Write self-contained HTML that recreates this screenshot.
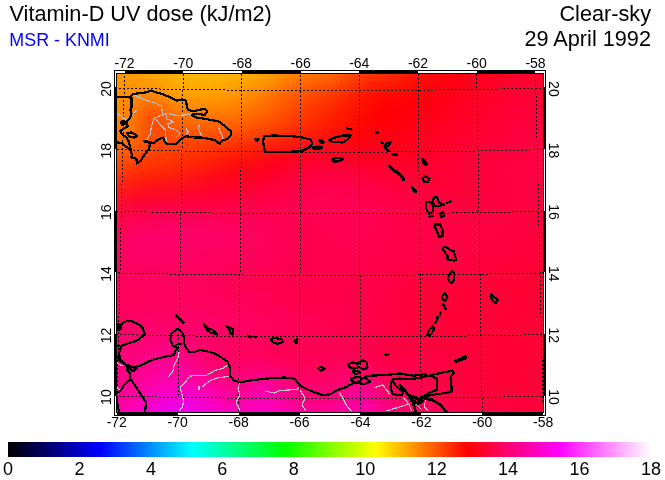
<!DOCTYPE html>
<html><head><meta charset="utf-8"><style>html,body{margin:0;padding:0;background:#fff;width:665px;height:480px;overflow:hidden;position:relative}</style></head>
<body>
<svg width="665" height="480" viewBox="0 0 665 480" style="position:absolute;left:0;top:0;will-change:transform;font-family:'Liberation Sans', sans-serif" shape-rendering="crispEdges">
<defs>
<clipPath id="mc"><rect x="117" y="74" width="426" height="338"/></clipPath>
<filter id="bl" x="-10%" y="-10%" width="120%" height="120%" color-interpolation-filters="sRGB"><feGaussianBlur stdDeviation="4"/></filter>
<linearGradient id="cb" x1="0" x2="1" y1="0" y2="0"><stop offset="0.0000" stop-color="#000000"/><stop offset="0.1429" stop-color="#0000ff"/><stop offset="0.2857" stop-color="#00ffff"/><stop offset="0.4286" stop-color="#00ff00"/><stop offset="0.5714" stop-color="#ffff00"/><stop offset="0.7143" stop-color="#ff0000"/><stop offset="0.8571" stop-color="#ff00ff"/><stop offset="1.0000" stop-color="#ffffff"/></linearGradient>
</defs>
<rect x="114" y="70" width="432" height="346" fill="#000"/>
<g clip-path="url(#mc)"><g filter="url(#bl)" shape-rendering="crispEdges"><path d="M99 56h6.5v6.5h-6.5z" fill="#ffa100"/><path d="M105 56h6.5v6.5h-6.5z" fill="#ffa100"/><path d="M111 56h6.5v6.5h-6.5z" fill="#ffa100"/><path d="M117 56h6.5v6.5h-6.5z" fill="#ffa200"/><path d="M123 56h6.5v6.5h-6.5z" fill="#ffa400"/><path d="M129 56h6.5v6.5h-6.5z" fill="#ffa700"/><path d="M135 56h6.5v6.5h-6.5z" fill="#ffa900"/><path d="M141 56h6.5v6.5h-6.5z" fill="#ffac00"/><path d="M147 56h6.5v6.5h-6.5z" fill="#ffaf00"/><path d="M153 56h6.5v6.5h-6.5z" fill="#ffb200"/><path d="M159 56h6.5v6.5h-6.5z" fill="#ffb500"/><path d="M165 56h6.5v6.5h-6.5z" fill="#ffb800"/><path d="M171 56h6.5v6.5h-6.5z" fill="#ffbc00"/><path d="M177 56h6.5v6.5h-6.5z" fill="#ffbf00"/><path d="M183 56h6.5v6.5h-6.5z" fill="#ffc100"/><path d="M189 56h6.5v6.5h-6.5z" fill="#ffc400"/><path d="M195 56h6.5v6.5h-6.5z" fill="#ffc500"/><path d="M201 56h6.5v6.5h-6.5z" fill="#ffc600"/><path d="M207 56h6.5v6.5h-6.5z" fill="#ffc700"/><path d="M213 56h6.5v6.5h-6.5z" fill="#ffc600"/><path d="M219 56h6.5v6.5h-6.5z" fill="#ffc600"/><path d="M225 56h6.5v6.5h-6.5z" fill="#ffc500"/><path d="M231 56h6.5v6.5h-6.5z" fill="#ffc400"/><path d="M237 56h6.5v6.5h-6.5z" fill="#ffc300"/><path d="M243 56h6.5v6.5h-6.5z" fill="#ffc100"/><path d="M249 56h6.5v6.5h-6.5z" fill="#ffbf00"/><path d="M255 56h6.5v6.5h-6.5z" fill="#ffbd00"/><path d="M261 56h6.5v6.5h-6.5z" fill="#ffb900"/><path d="M267 56h6.5v6.5h-6.5z" fill="#ffb500"/><path d="M273 56h6.5v6.5h-6.5z" fill="#ffb000"/><path d="M279 56h6.5v6.5h-6.5z" fill="#ffab00"/><path d="M285 56h6.5v6.5h-6.5z" fill="#ffa500"/><path d="M291 56h6.5v6.5h-6.5z" fill="#ff9f00"/><path d="M297 56h6.5v6.5h-6.5z" fill="#ff9a00"/><path d="M303 56h6.5v6.5h-6.5z" fill="#ff9500"/><path d="M309 56h6.5v6.5h-6.5z" fill="#ff9000"/><path d="M315 56h6.5v6.5h-6.5z" fill="#ff8b00"/><path d="M321 56h6.5v6.5h-6.5z" fill="#ff8600"/><path d="M327 56h6.5v6.5h-6.5z" fill="#ff8100"/><path d="M333 56h6.5v6.5h-6.5z" fill="#ff7a00"/><path d="M339 56h6.5v6.5h-6.5z" fill="#ff7300"/><path d="M345 56h6.5v6.5h-6.5z" fill="#ff6b00"/><path d="M351 56h6.5v6.5h-6.5z" fill="#ff6400"/><path d="M357 56h6.5v6.5h-6.5z" fill="#ff5d00"/><path d="M363 56h6.5v6.5h-6.5z" fill="#ff5600"/><path d="M369 56h6.5v6.5h-6.5z" fill="#ff5000"/><path d="M375 56h6.5v6.5h-6.5z" fill="#ff4b00"/><path d="M381 56h6.5v6.5h-6.5z" fill="#ff4600"/><path d="M387 56h6.5v6.5h-6.5z" fill="#ff4100"/><path d="M393 56h6.5v6.5h-6.5z" fill="#ff3b00"/><path d="M399 56h6.5v6.5h-6.5z" fill="#ff3500"/><path d="M405 56h6.5v6.5h-6.5z" fill="#ff2f01"/><path d="M411 56h6.5v6.5h-6.5z" fill="#ff2902"/><path d="M417 56h6.5v6.5h-6.5z" fill="#ff2303"/><path d="M423 56h6.5v6.5h-6.5z" fill="#ff1e05"/><path d="M429 56h6.5v6.5h-6.5z" fill="#ff1906"/><path d="M435 56h6.5v6.5h-6.5z" fill="#ff1508"/><path d="M441 56h6.5v6.5h-6.5z" fill="#ff1109"/><path d="M447 56h6.5v6.5h-6.5z" fill="#ff0e0b"/><path d="M453 56h6.5v6.5h-6.5z" fill="#ff0b0d"/><path d="M459 56h6.5v6.5h-6.5z" fill="#ff090f"/><path d="M465 56h6.5v6.5h-6.5z" fill="#ff0811"/><path d="M471 56h6.5v6.5h-6.5z" fill="#ff0714"/><path d="M477 56h6.5v6.5h-6.5z" fill="#ff0616"/><path d="M483 56h6.5v6.5h-6.5z" fill="#ff0619"/><path d="M489 56h6.5v6.5h-6.5z" fill="#ff061b"/><path d="M495 56h6.5v6.5h-6.5z" fill="#ff061d"/><path d="M501 56h6.5v6.5h-6.5z" fill="#ff051f"/><path d="M507 56h6.5v6.5h-6.5z" fill="#ff0521"/><path d="M513 56h6.5v6.5h-6.5z" fill="#ff0522"/><path d="M519 56h6.5v6.5h-6.5z" fill="#ff0523"/><path d="M525 56h6.5v6.5h-6.5z" fill="#ff0424"/><path d="M531 56h6.5v6.5h-6.5z" fill="#ff0425"/><path d="M537 56h6.5v6.5h-6.5z" fill="#ff0426"/><path d="M543 56h6.5v6.5h-6.5z" fill="#ff0327"/><path d="M549 56h6.5v6.5h-6.5z" fill="#ff0327"/><path d="M555 56h6.5v6.5h-6.5z" fill="#ff0328"/><path d="M99 62h6.5v6.5h-6.5z" fill="#ff9d00"/><path d="M105 62h6.5v6.5h-6.5z" fill="#ff9c00"/><path d="M111 62h6.5v6.5h-6.5z" fill="#ff9c00"/><path d="M117 62h6.5v6.5h-6.5z" fill="#ff9d00"/><path d="M123 62h6.5v6.5h-6.5z" fill="#ff9f00"/><path d="M129 62h6.5v6.5h-6.5z" fill="#ffa200"/><path d="M135 62h6.5v6.5h-6.5z" fill="#ffa500"/><path d="M141 62h6.5v6.5h-6.5z" fill="#ffa800"/><path d="M147 62h6.5v6.5h-6.5z" fill="#ffab00"/><path d="M153 62h6.5v6.5h-6.5z" fill="#ffae00"/><path d="M159 62h6.5v6.5h-6.5z" fill="#ffb000"/><path d="M165 62h6.5v6.5h-6.5z" fill="#ffb300"/><path d="M171 62h6.5v6.5h-6.5z" fill="#ffb700"/><path d="M177 62h6.5v6.5h-6.5z" fill="#ffba00"/><path d="M183 62h6.5v6.5h-6.5z" fill="#ffbd00"/><path d="M189 62h6.5v6.5h-6.5z" fill="#ffbf00"/><path d="M195 62h6.5v6.5h-6.5z" fill="#ffc000"/><path d="M201 62h6.5v6.5h-6.5z" fill="#ffc100"/><path d="M207 62h6.5v6.5h-6.5z" fill="#ffc100"/><path d="M213 62h6.5v6.5h-6.5z" fill="#ffc100"/><path d="M219 62h6.5v6.5h-6.5z" fill="#ffc000"/><path d="M225 62h6.5v6.5h-6.5z" fill="#ffbe00"/><path d="M231 62h6.5v6.5h-6.5z" fill="#ffbd00"/><path d="M237 62h6.5v6.5h-6.5z" fill="#ffbc00"/><path d="M243 62h6.5v6.5h-6.5z" fill="#ffba00"/><path d="M249 62h6.5v6.5h-6.5z" fill="#ffb800"/><path d="M255 62h6.5v6.5h-6.5z" fill="#ffb500"/><path d="M261 62h6.5v6.5h-6.5z" fill="#ffb100"/><path d="M267 62h6.5v6.5h-6.5z" fill="#ffad00"/><path d="M273 62h6.5v6.5h-6.5z" fill="#ffa700"/><path d="M279 62h6.5v6.5h-6.5z" fill="#ffa100"/><path d="M285 62h6.5v6.5h-6.5z" fill="#ff9b00"/><path d="M291 62h6.5v6.5h-6.5z" fill="#ff9500"/><path d="M297 62h6.5v6.5h-6.5z" fill="#ff8f00"/><path d="M303 62h6.5v6.5h-6.5z" fill="#ff8a00"/><path d="M309 62h6.5v6.5h-6.5z" fill="#ff8600"/><path d="M315 62h6.5v6.5h-6.5z" fill="#ff8100"/><path d="M321 62h6.5v6.5h-6.5z" fill="#ff7d00"/><path d="M327 62h6.5v6.5h-6.5z" fill="#ff7700"/><path d="M333 62h6.5v6.5h-6.5z" fill="#ff7000"/><path d="M339 62h6.5v6.5h-6.5z" fill="#ff6900"/><path d="M345 62h6.5v6.5h-6.5z" fill="#ff6100"/><path d="M351 62h6.5v6.5h-6.5z" fill="#ff5900"/><path d="M357 62h6.5v6.5h-6.5z" fill="#ff5200"/><path d="M363 62h6.5v6.5h-6.5z" fill="#ff4c00"/><path d="M369 62h6.5v6.5h-6.5z" fill="#ff4600"/><path d="M375 62h6.5v6.5h-6.5z" fill="#ff4200"/><path d="M381 62h6.5v6.5h-6.5z" fill="#ff3d00"/><path d="M387 62h6.5v6.5h-6.5z" fill="#ff3800"/><path d="M393 62h6.5v6.5h-6.5z" fill="#ff3300"/><path d="M399 62h6.5v6.5h-6.5z" fill="#ff2d01"/><path d="M405 62h6.5v6.5h-6.5z" fill="#ff2702"/><path d="M411 62h6.5v6.5h-6.5z" fill="#ff2203"/><path d="M417 62h6.5v6.5h-6.5z" fill="#ff1c05"/><path d="M423 62h6.5v6.5h-6.5z" fill="#ff1706"/><path d="M429 62h6.5v6.5h-6.5z" fill="#ff1308"/><path d="M435 62h6.5v6.5h-6.5z" fill="#ff0f09"/><path d="M441 62h6.5v6.5h-6.5z" fill="#ff0c0b"/><path d="M447 62h6.5v6.5h-6.5z" fill="#ff090d"/><path d="M453 62h6.5v6.5h-6.5z" fill="#ff070f"/><path d="M459 62h6.5v6.5h-6.5z" fill="#ff0511"/><path d="M465 62h6.5v6.5h-6.5z" fill="#ff0413"/><path d="M471 62h6.5v6.5h-6.5z" fill="#ff0416"/><path d="M477 62h6.5v6.5h-6.5z" fill="#ff0318"/><path d="M483 62h6.5v6.5h-6.5z" fill="#ff041b"/><path d="M489 62h6.5v6.5h-6.5z" fill="#ff041d"/><path d="M495 62h6.5v6.5h-6.5z" fill="#ff0420"/><path d="M501 62h6.5v6.5h-6.5z" fill="#ff0421"/><path d="M507 62h6.5v6.5h-6.5z" fill="#ff0323"/><path d="M513 62h6.5v6.5h-6.5z" fill="#ff0325"/><path d="M519 62h6.5v6.5h-6.5z" fill="#ff0326"/><path d="M525 62h6.5v6.5h-6.5z" fill="#ff0327"/><path d="M531 62h6.5v6.5h-6.5z" fill="#ff0228"/><path d="M537 62h6.5v6.5h-6.5z" fill="#ff0228"/><path d="M543 62h6.5v6.5h-6.5z" fill="#ff0229"/><path d="M549 62h6.5v6.5h-6.5z" fill="#ff022a"/><path d="M555 62h6.5v6.5h-6.5z" fill="#ff022a"/><path d="M99 68h6.5v6.5h-6.5z" fill="#ff9a00"/><path d="M105 68h6.5v6.5h-6.5z" fill="#ff9900"/><path d="M111 68h6.5v6.5h-6.5z" fill="#ff9800"/><path d="M117 68h6.5v6.5h-6.5z" fill="#ff9900"/><path d="M123 68h6.5v6.5h-6.5z" fill="#ff9b00"/><path d="M129 68h6.5v6.5h-6.5z" fill="#ff9e00"/><path d="M135 68h6.5v6.5h-6.5z" fill="#ffa100"/><path d="M141 68h6.5v6.5h-6.5z" fill="#ffa300"/><path d="M147 68h6.5v6.5h-6.5z" fill="#ffa600"/><path d="M153 68h6.5v6.5h-6.5z" fill="#ffa900"/><path d="M159 68h6.5v6.5h-6.5z" fill="#ffac00"/><path d="M165 68h6.5v6.5h-6.5z" fill="#ffaf00"/><path d="M171 68h6.5v6.5h-6.5z" fill="#ffb200"/><path d="M177 68h6.5v6.5h-6.5z" fill="#ffb600"/><path d="M183 68h6.5v6.5h-6.5z" fill="#ffb800"/><path d="M189 68h6.5v6.5h-6.5z" fill="#ffba00"/><path d="M195 68h6.5v6.5h-6.5z" fill="#ffbb00"/><path d="M201 68h6.5v6.5h-6.5z" fill="#ffbc00"/><path d="M207 68h6.5v6.5h-6.5z" fill="#ffbb00"/><path d="M213 68h6.5v6.5h-6.5z" fill="#ffba00"/><path d="M219 68h6.5v6.5h-6.5z" fill="#ffb900"/><path d="M225 68h6.5v6.5h-6.5z" fill="#ffb700"/><path d="M231 68h6.5v6.5h-6.5z" fill="#ffb600"/><path d="M237 68h6.5v6.5h-6.5z" fill="#ffb400"/><path d="M243 68h6.5v6.5h-6.5z" fill="#ffb200"/><path d="M249 68h6.5v6.5h-6.5z" fill="#ffaf00"/><path d="M255 68h6.5v6.5h-6.5z" fill="#ffac00"/><path d="M261 68h6.5v6.5h-6.5z" fill="#ffa900"/><path d="M267 68h6.5v6.5h-6.5z" fill="#ffa400"/><path d="M273 68h6.5v6.5h-6.5z" fill="#ff9d00"/><path d="M279 68h6.5v6.5h-6.5z" fill="#ff9600"/><path d="M285 68h6.5v6.5h-6.5z" fill="#ff8f00"/><path d="M291 68h6.5v6.5h-6.5z" fill="#ff8900"/><path d="M297 68h6.5v6.5h-6.5z" fill="#ff8400"/><path d="M303 68h6.5v6.5h-6.5z" fill="#ff7f00"/><path d="M309 68h6.5v6.5h-6.5z" fill="#ff7a00"/><path d="M315 68h6.5v6.5h-6.5z" fill="#ff7600"/><path d="M321 68h6.5v6.5h-6.5z" fill="#ff7200"/><path d="M327 68h6.5v6.5h-6.5z" fill="#ff6d00"/><path d="M333 68h6.5v6.5h-6.5z" fill="#ff6600"/><path d="M339 68h6.5v6.5h-6.5z" fill="#ff5e00"/><path d="M345 68h6.5v6.5h-6.5z" fill="#ff5500"/><path d="M351 68h6.5v6.5h-6.5z" fill="#ff4d00"/><path d="M357 68h6.5v6.5h-6.5z" fill="#ff4600"/><path d="M363 68h6.5v6.5h-6.5z" fill="#ff4000"/><path d="M369 68h6.5v6.5h-6.5z" fill="#ff3b00"/><path d="M375 68h6.5v6.5h-6.5z" fill="#ff3700"/><path d="M381 68h6.5v6.5h-6.5z" fill="#ff3400"/><path d="M387 68h6.5v6.5h-6.5z" fill="#ff3000"/><path d="M393 68h6.5v6.5h-6.5z" fill="#ff2b00"/><path d="M399 68h6.5v6.5h-6.5z" fill="#ff2502"/><path d="M405 68h6.5v6.5h-6.5z" fill="#ff2003"/><path d="M411 68h6.5v6.5h-6.5z" fill="#ff1a04"/><path d="M417 68h6.5v6.5h-6.5z" fill="#ff1606"/><path d="M423 68h6.5v6.5h-6.5z" fill="#ff1107"/><path d="M429 68h6.5v6.5h-6.5z" fill="#ff0e09"/><path d="M435 68h6.5v6.5h-6.5z" fill="#ff0b0b"/><path d="M441 68h6.5v6.5h-6.5z" fill="#ff080d"/><path d="M447 68h6.5v6.5h-6.5z" fill="#ff050f"/><path d="M453 68h6.5v6.5h-6.5z" fill="#ff0311"/><path d="M459 68h6.5v6.5h-6.5z" fill="#ff0213"/><path d="M465 68h6.5v6.5h-6.5z" fill="#ff0115"/><path d="M471 68h6.5v6.5h-6.5z" fill="#ff0118"/><path d="M477 68h6.5v6.5h-6.5z" fill="#ff011b"/><path d="M483 68h6.5v6.5h-6.5z" fill="#ff021e"/><path d="M489 68h6.5v6.5h-6.5z" fill="#ff0220"/><path d="M495 68h6.5v6.5h-6.5z" fill="#ff0222"/><path d="M501 68h6.5v6.5h-6.5z" fill="#ff0224"/><path d="M507 68h6.5v6.5h-6.5z" fill="#ff0226"/><path d="M513 68h6.5v6.5h-6.5z" fill="#ff0227"/><path d="M519 68h6.5v6.5h-6.5z" fill="#ff0229"/><path d="M525 68h6.5v6.5h-6.5z" fill="#ff012a"/><path d="M531 68h6.5v6.5h-6.5z" fill="#ff012a"/><path d="M537 68h6.5v6.5h-6.5z" fill="#ff012b"/><path d="M543 68h6.5v6.5h-6.5z" fill="#ff012b"/><path d="M549 68h6.5v6.5h-6.5z" fill="#ff002c"/><path d="M555 68h6.5v6.5h-6.5z" fill="#ff002c"/><path d="M99 74h6.5v6.5h-6.5z" fill="#ff9700"/><path d="M105 74h6.5v6.5h-6.5z" fill="#ff9600"/><path d="M111 74h6.5v6.5h-6.5z" fill="#ff9500"/><path d="M117 74h6.5v6.5h-6.5z" fill="#ff9600"/><path d="M123 74h6.5v6.5h-6.5z" fill="#ff9800"/><path d="M129 74h6.5v6.5h-6.5z" fill="#ff9a00"/><path d="M135 74h6.5v6.5h-6.5z" fill="#ff9d00"/><path d="M141 74h6.5v6.5h-6.5z" fill="#ff9f00"/><path d="M147 74h6.5v6.5h-6.5z" fill="#ffa100"/><path d="M153 74h6.5v6.5h-6.5z" fill="#ffa400"/><path d="M159 74h6.5v6.5h-6.5z" fill="#ffa700"/><path d="M165 74h6.5v6.5h-6.5z" fill="#ffaa00"/><path d="M171 74h6.5v6.5h-6.5z" fill="#ffae00"/><path d="M177 74h6.5v6.5h-6.5z" fill="#ffb100"/><path d="M183 74h6.5v6.5h-6.5z" fill="#ffb400"/><path d="M189 74h6.5v6.5h-6.5z" fill="#ffb500"/><path d="M195 74h6.5v6.5h-6.5z" fill="#ffb600"/><path d="M201 74h6.5v6.5h-6.5z" fill="#ffb600"/><path d="M207 74h6.5v6.5h-6.5z" fill="#ffb500"/><path d="M213 74h6.5v6.5h-6.5z" fill="#ffb400"/><path d="M219 74h6.5v6.5h-6.5z" fill="#ffb200"/><path d="M225 74h6.5v6.5h-6.5z" fill="#ffb000"/><path d="M231 74h6.5v6.5h-6.5z" fill="#ffae00"/><path d="M237 74h6.5v6.5h-6.5z" fill="#ffab00"/><path d="M243 74h6.5v6.5h-6.5z" fill="#ffa900"/><path d="M249 74h6.5v6.5h-6.5z" fill="#ffa600"/><path d="M255 74h6.5v6.5h-6.5z" fill="#ffa200"/><path d="M261 74h6.5v6.5h-6.5z" fill="#ff9e00"/><path d="M267 74h6.5v6.5h-6.5z" fill="#ff9900"/><path d="M273 74h6.5v6.5h-6.5z" fill="#ff9200"/><path d="M279 74h6.5v6.5h-6.5z" fill="#ff8a00"/><path d="M285 74h6.5v6.5h-6.5z" fill="#ff8300"/><path d="M291 74h6.5v6.5h-6.5z" fill="#ff7d00"/><path d="M297 74h6.5v6.5h-6.5z" fill="#ff7701"/><path d="M303 74h6.5v6.5h-6.5z" fill="#ff7201"/><path d="M309 74h6.5v6.5h-6.5z" fill="#ff6e01"/><path d="M315 74h6.5v6.5h-6.5z" fill="#ff6a00"/><path d="M321 74h6.5v6.5h-6.5z" fill="#ff6700"/><path d="M327 74h6.5v6.5h-6.5z" fill="#ff6200"/><path d="M333 74h6.5v6.5h-6.5z" fill="#ff5a00"/><path d="M339 74h6.5v6.5h-6.5z" fill="#ff5100"/><path d="M345 74h6.5v6.5h-6.5z" fill="#ff4900"/><path d="M351 74h6.5v6.5h-6.5z" fill="#ff4100"/><path d="M357 74h6.5v6.5h-6.5z" fill="#ff3a00"/><path d="M363 74h6.5v6.5h-6.5z" fill="#ff3500"/><path d="M369 74h6.5v6.5h-6.5z" fill="#ff3000"/><path d="M375 74h6.5v6.5h-6.5z" fill="#ff2c00"/><path d="M381 74h6.5v6.5h-6.5z" fill="#ff2900"/><path d="M387 74h6.5v6.5h-6.5z" fill="#ff2600"/><path d="M393 74h6.5v6.5h-6.5z" fill="#ff2201"/><path d="M399 74h6.5v6.5h-6.5z" fill="#ff1d02"/><path d="M405 74h6.5v6.5h-6.5z" fill="#ff1804"/><path d="M411 74h6.5v6.5h-6.5z" fill="#ff1305"/><path d="M417 74h6.5v6.5h-6.5z" fill="#ff0f07"/><path d="M423 74h6.5v6.5h-6.5z" fill="#ff0c09"/><path d="M429 74h6.5v6.5h-6.5z" fill="#ff090b"/><path d="M435 74h6.5v6.5h-6.5z" fill="#ff070d"/><path d="M441 74h6.5v6.5h-6.5z" fill="#ff050f"/><path d="M447 74h6.5v6.5h-6.5z" fill="#ff0311"/><path d="M453 74h6.5v6.5h-6.5z" fill="#ff0113"/><path d="M459 74h6.5v6.5h-6.5z" fill="#ff0015"/><path d="M465 74h6.5v6.5h-6.5z" fill="#ff0018"/><path d="M471 74h6.5v6.5h-6.5z" fill="#ff001b"/><path d="M477 74h6.5v6.5h-6.5z" fill="#ff001e"/><path d="M483 74h6.5v6.5h-6.5z" fill="#ff0120"/><path d="M489 74h6.5v6.5h-6.5z" fill="#ff0123"/><path d="M495 74h6.5v6.5h-6.5z" fill="#ff0125"/><path d="M501 74h6.5v6.5h-6.5z" fill="#ff0127"/><path d="M507 74h6.5v6.5h-6.5z" fill="#ff0129"/><path d="M513 74h6.5v6.5h-6.5z" fill="#ff012a"/><path d="M519 74h6.5v6.5h-6.5z" fill="#ff012b"/><path d="M525 74h6.5v6.5h-6.5z" fill="#ff012c"/><path d="M531 74h6.5v6.5h-6.5z" fill="#ff002d"/><path d="M537 74h6.5v6.5h-6.5z" fill="#ff002d"/><path d="M543 74h6.5v6.5h-6.5z" fill="#ff002e"/><path d="M549 74h6.5v6.5h-6.5z" fill="#ff002e"/><path d="M555 74h6.5v6.5h-6.5z" fill="#ff002f"/><path d="M99 80h6.5v6.5h-6.5z" fill="#ff9600"/><path d="M105 80h6.5v6.5h-6.5z" fill="#ff9500"/><path d="M111 80h6.5v6.5h-6.5z" fill="#ff9400"/><path d="M117 80h6.5v6.5h-6.5z" fill="#ff9400"/><path d="M123 80h6.5v6.5h-6.5z" fill="#ff9600"/><path d="M129 80h6.5v6.5h-6.5z" fill="#ff9700"/><path d="M135 80h6.5v6.5h-6.5z" fill="#ff9800"/><path d="M141 80h6.5v6.5h-6.5z" fill="#ff9900"/><path d="M147 80h6.5v6.5h-6.5z" fill="#ff9a00"/><path d="M153 80h6.5v6.5h-6.5z" fill="#ff9d00"/><path d="M159 80h6.5v6.5h-6.5z" fill="#ffa200"/><path d="M165 80h6.5v6.5h-6.5z" fill="#ffa600"/><path d="M171 80h6.5v6.5h-6.5z" fill="#ffaa00"/><path d="M177 80h6.5v6.5h-6.5z" fill="#ffad00"/><path d="M183 80h6.5v6.5h-6.5z" fill="#ffaf00"/><path d="M189 80h6.5v6.5h-6.5z" fill="#ffaf00"/><path d="M195 80h6.5v6.5h-6.5z" fill="#ffb000"/><path d="M201 80h6.5v6.5h-6.5z" fill="#ffb000"/><path d="M207 80h6.5v6.5h-6.5z" fill="#ffae00"/><path d="M213 80h6.5v6.5h-6.5z" fill="#ffad00"/><path d="M219 80h6.5v6.5h-6.5z" fill="#ffaa00"/><path d="M225 80h6.5v6.5h-6.5z" fill="#ffa800"/><path d="M231 80h6.5v6.5h-6.5z" fill="#ffa500"/><path d="M237 80h6.5v6.5h-6.5z" fill="#ffa300"/><path d="M243 80h6.5v6.5h-6.5z" fill="#ffa000"/><path d="M249 80h6.5v6.5h-6.5z" fill="#ff9c00"/><path d="M255 80h6.5v6.5h-6.5z" fill="#ff9800"/><path d="M261 80h6.5v6.5h-6.5z" fill="#ff9300"/><path d="M267 80h6.5v6.5h-6.5z" fill="#ff8c00"/><path d="M273 80h6.5v6.5h-6.5z" fill="#ff8500"/><path d="M279 80h6.5v6.5h-6.5z" fill="#ff7d00"/><path d="M285 80h6.5v6.5h-6.5z" fill="#ff7700"/><path d="M291 80h6.5v6.5h-6.5z" fill="#ff7100"/><path d="M297 80h6.5v6.5h-6.5z" fill="#ff6b00"/><path d="M303 80h6.5v6.5h-6.5z" fill="#ff6501"/><path d="M309 80h6.5v6.5h-6.5z" fill="#ff6101"/><path d="M315 80h6.5v6.5h-6.5z" fill="#ff5d00"/><path d="M321 80h6.5v6.5h-6.5z" fill="#ff5900"/><path d="M327 80h6.5v6.5h-6.5z" fill="#ff5400"/><path d="M333 80h6.5v6.5h-6.5z" fill="#ff4d00"/><path d="M339 80h6.5v6.5h-6.5z" fill="#ff4500"/><path d="M345 80h6.5v6.5h-6.5z" fill="#ff3c00"/><path d="M351 80h6.5v6.5h-6.5z" fill="#ff3500"/><path d="M357 80h6.5v6.5h-6.5z" fill="#ff2f00"/><path d="M363 80h6.5v6.5h-6.5z" fill="#ff2900"/><path d="M369 80h6.5v6.5h-6.5z" fill="#ff2400"/><path d="M375 80h6.5v6.5h-6.5z" fill="#ff2000"/><path d="M381 80h6.5v6.5h-6.5z" fill="#ff1d00"/><path d="M387 80h6.5v6.5h-6.5z" fill="#ff1b00"/><path d="M393 80h6.5v6.5h-6.5z" fill="#ff1802"/><path d="M399 80h6.5v6.5h-6.5z" fill="#ff1403"/><path d="M405 80h6.5v6.5h-6.5z" fill="#ff1005"/><path d="M411 80h6.5v6.5h-6.5z" fill="#ff0c07"/><path d="M417 80h6.5v6.5h-6.5z" fill="#ff0909"/><path d="M423 80h6.5v6.5h-6.5z" fill="#ff070b"/><path d="M429 80h6.5v6.5h-6.5z" fill="#ff050d"/><path d="M435 80h6.5v6.5h-6.5z" fill="#ff030f"/><path d="M441 80h6.5v6.5h-6.5z" fill="#ff0211"/><path d="M447 80h6.5v6.5h-6.5z" fill="#ff0114"/><path d="M453 80h6.5v6.5h-6.5z" fill="#ff0016"/><path d="M459 80h6.5v6.5h-6.5z" fill="#ff0018"/><path d="M465 80h6.5v6.5h-6.5z" fill="#ff001b"/><path d="M471 80h6.5v6.5h-6.5z" fill="#ff001e"/><path d="M477 80h6.5v6.5h-6.5z" fill="#ff0020"/><path d="M483 80h6.5v6.5h-6.5z" fill="#ff0023"/><path d="M489 80h6.5v6.5h-6.5z" fill="#ff0025"/><path d="M495 80h6.5v6.5h-6.5z" fill="#ff0128"/><path d="M501 80h6.5v6.5h-6.5z" fill="#ff012a"/><path d="M507 80h6.5v6.5h-6.5z" fill="#ff012b"/><path d="M513 80h6.5v6.5h-6.5z" fill="#ff012d"/><path d="M519 80h6.5v6.5h-6.5z" fill="#ff002e"/><path d="M525 80h6.5v6.5h-6.5z" fill="#ff002f"/><path d="M531 80h6.5v6.5h-6.5z" fill="#ff0030"/><path d="M537 80h6.5v6.5h-6.5z" fill="#ff0030"/><path d="M543 80h6.5v6.5h-6.5z" fill="#ff0030"/><path d="M549 80h6.5v6.5h-6.5z" fill="#ff0031"/><path d="M555 80h6.5v6.5h-6.5z" fill="#ff0031"/><path d="M99 86h6.5v6.5h-6.5z" fill="#ff9400"/><path d="M105 86h6.5v6.5h-6.5z" fill="#ff9400"/><path d="M111 86h6.5v6.5h-6.5z" fill="#ff9300"/><path d="M117 86h6.5v6.5h-6.5z" fill="#ff9300"/><path d="M123 86h6.5v6.5h-6.5z" fill="#ff9300"/><path d="M129 86h6.5v6.5h-6.5z" fill="#ff9300"/><path d="M135 86h6.5v6.5h-6.5z" fill="#ff9200"/><path d="M141 86h6.5v6.5h-6.5z" fill="#ff9100"/><path d="M147 86h6.5v6.5h-6.5z" fill="#ff9100"/><path d="M153 86h6.5v6.5h-6.5z" fill="#ff9500"/><path d="M159 86h6.5v6.5h-6.5z" fill="#ff9a00"/><path d="M165 86h6.5v6.5h-6.5z" fill="#ffa100"/><path d="M171 86h6.5v6.5h-6.5z" fill="#ffa500"/><path d="M177 86h6.5v6.5h-6.5z" fill="#ffa700"/><path d="M183 86h6.5v6.5h-6.5z" fill="#ffa800"/><path d="M189 86h6.5v6.5h-6.5z" fill="#ffa800"/><path d="M195 86h6.5v6.5h-6.5z" fill="#ffa800"/><path d="M201 86h6.5v6.5h-6.5z" fill="#ffa800"/><path d="M207 86h6.5v6.5h-6.5z" fill="#ffa700"/><path d="M213 86h6.5v6.5h-6.5z" fill="#ffa500"/><path d="M219 86h6.5v6.5h-6.5z" fill="#ffa200"/><path d="M225 86h6.5v6.5h-6.5z" fill="#ffa000"/><path d="M231 86h6.5v6.5h-6.5z" fill="#ff9d00"/><path d="M237 86h6.5v6.5h-6.5z" fill="#ff9a00"/><path d="M243 86h6.5v6.5h-6.5z" fill="#ff9600"/><path d="M249 86h6.5v6.5h-6.5z" fill="#ff9200"/><path d="M255 86h6.5v6.5h-6.5z" fill="#ff8d00"/><path d="M261 86h6.5v6.5h-6.5z" fill="#ff8700"/><path d="M267 86h6.5v6.5h-6.5z" fill="#ff8000"/><path d="M273 86h6.5v6.5h-6.5z" fill="#ff7800"/><path d="M279 86h6.5v6.5h-6.5z" fill="#ff7100"/><path d="M285 86h6.5v6.5h-6.5z" fill="#ff6b00"/><path d="M291 86h6.5v6.5h-6.5z" fill="#ff6500"/><path d="M297 86h6.5v6.5h-6.5z" fill="#ff5f00"/><path d="M303 86h6.5v6.5h-6.5z" fill="#ff5900"/><path d="M309 86h6.5v6.5h-6.5z" fill="#ff5400"/><path d="M315 86h6.5v6.5h-6.5z" fill="#ff5000"/><path d="M321 86h6.5v6.5h-6.5z" fill="#ff4c00"/><path d="M327 86h6.5v6.5h-6.5z" fill="#ff4700"/><path d="M333 86h6.5v6.5h-6.5z" fill="#ff4000"/><path d="M339 86h6.5v6.5h-6.5z" fill="#ff3800"/><path d="M345 86h6.5v6.5h-6.5z" fill="#ff3000"/><path d="M351 86h6.5v6.5h-6.5z" fill="#ff2a00"/><path d="M357 86h6.5v6.5h-6.5z" fill="#ff2400"/><path d="M363 86h6.5v6.5h-6.5z" fill="#ff1f00"/><path d="M369 86h6.5v6.5h-6.5z" fill="#ff1a00"/><path d="M375 86h6.5v6.5h-6.5z" fill="#ff1500"/><path d="M381 86h6.5v6.5h-6.5z" fill="#ff1200"/><path d="M387 86h6.5v6.5h-6.5z" fill="#ff1001"/><path d="M393 86h6.5v6.5h-6.5z" fill="#ff0e02"/><path d="M399 86h6.5v6.5h-6.5z" fill="#ff0c04"/><path d="M405 86h6.5v6.5h-6.5z" fill="#ff0906"/><path d="M411 86h6.5v6.5h-6.5z" fill="#ff0608"/><path d="M417 86h6.5v6.5h-6.5z" fill="#ff040a"/><path d="M423 86h6.5v6.5h-6.5z" fill="#ff030c"/><path d="M429 86h6.5v6.5h-6.5z" fill="#ff020f"/><path d="M435 86h6.5v6.5h-6.5z" fill="#ff0111"/><path d="M441 86h6.5v6.5h-6.5z" fill="#ff0114"/><path d="M447 86h6.5v6.5h-6.5z" fill="#ff0016"/><path d="M453 86h6.5v6.5h-6.5z" fill="#ff0019"/><path d="M459 86h6.5v6.5h-6.5z" fill="#ff001b"/><path d="M465 86h6.5v6.5h-6.5z" fill="#ff001e"/><path d="M471 86h6.5v6.5h-6.5z" fill="#ff0020"/><path d="M477 86h6.5v6.5h-6.5z" fill="#ff0023"/><path d="M483 86h6.5v6.5h-6.5z" fill="#ff0026"/><path d="M489 86h6.5v6.5h-6.5z" fill="#ff0028"/><path d="M495 86h6.5v6.5h-6.5z" fill="#ff002a"/><path d="M501 86h6.5v6.5h-6.5z" fill="#ff002c"/><path d="M507 86h6.5v6.5h-6.5z" fill="#ff002e"/><path d="M513 86h6.5v6.5h-6.5z" fill="#ff002f"/><path d="M519 86h6.5v6.5h-6.5z" fill="#ff0031"/><path d="M525 86h6.5v6.5h-6.5z" fill="#ff0032"/><path d="M531 86h6.5v6.5h-6.5z" fill="#ff0032"/><path d="M537 86h6.5v6.5h-6.5z" fill="#ff0033"/><path d="M543 86h6.5v6.5h-6.5z" fill="#ff0033"/><path d="M549 86h6.5v6.5h-6.5z" fill="#ff0033"/><path d="M555 86h6.5v6.5h-6.5z" fill="#ff0033"/><path d="M99 92h6.5v6.5h-6.5z" fill="#ff9300"/><path d="M105 92h6.5v6.5h-6.5z" fill="#ff9200"/><path d="M111 92h6.5v6.5h-6.5z" fill="#ff9200"/><path d="M117 92h6.5v6.5h-6.5z" fill="#ff9100"/><path d="M123 92h6.5v6.5h-6.5z" fill="#ff8f00"/><path d="M129 92h6.5v6.5h-6.5z" fill="#ff8d00"/><path d="M135 92h6.5v6.5h-6.5z" fill="#ff8a00"/><path d="M141 92h6.5v6.5h-6.5z" fill="#ff8600"/><path d="M147 92h6.5v6.5h-6.5z" fill="#ff8500"/><path d="M153 92h6.5v6.5h-6.5z" fill="#ff8800"/><path d="M159 92h6.5v6.5h-6.5z" fill="#ff8e00"/><path d="M165 92h6.5v6.5h-6.5z" fill="#ff9500"/><path d="M171 92h6.5v6.5h-6.5z" fill="#ff9a01"/><path d="M177 92h6.5v6.5h-6.5z" fill="#ff9d01"/><path d="M183 92h6.5v6.5h-6.5z" fill="#ff9e01"/><path d="M189 92h6.5v6.5h-6.5z" fill="#ff9f01"/><path d="M195 92h6.5v6.5h-6.5z" fill="#ff9f00"/><path d="M201 92h6.5v6.5h-6.5z" fill="#ff9f00"/><path d="M207 92h6.5v6.5h-6.5z" fill="#ff9e00"/><path d="M213 92h6.5v6.5h-6.5z" fill="#ff9c00"/><path d="M219 92h6.5v6.5h-6.5z" fill="#ff9a00"/><path d="M225 92h6.5v6.5h-6.5z" fill="#ff9700"/><path d="M231 92h6.5v6.5h-6.5z" fill="#ff9400"/><path d="M237 92h6.5v6.5h-6.5z" fill="#ff9100"/><path d="M243 92h6.5v6.5h-6.5z" fill="#ff8d00"/><path d="M249 92h6.5v6.5h-6.5z" fill="#ff8800"/><path d="M255 92h6.5v6.5h-6.5z" fill="#ff8300"/><path d="M261 92h6.5v6.5h-6.5z" fill="#ff7c00"/><path d="M267 92h6.5v6.5h-6.5z" fill="#ff7500"/><path d="M273 92h6.5v6.5h-6.5z" fill="#ff6d00"/><path d="M279 92h6.5v6.5h-6.5z" fill="#ff6700"/><path d="M285 92h6.5v6.5h-6.5z" fill="#ff6100"/><path d="M291 92h6.5v6.5h-6.5z" fill="#ff5b00"/><path d="M297 92h6.5v6.5h-6.5z" fill="#ff5500"/><path d="M303 92h6.5v6.5h-6.5z" fill="#ff4f00"/><path d="M309 92h6.5v6.5h-6.5z" fill="#ff4900"/><path d="M315 92h6.5v6.5h-6.5z" fill="#ff4500"/><path d="M321 92h6.5v6.5h-6.5z" fill="#ff4100"/><path d="M327 92h6.5v6.5h-6.5z" fill="#ff3c00"/><path d="M333 92h6.5v6.5h-6.5z" fill="#ff3500"/><path d="M339 92h6.5v6.5h-6.5z" fill="#ff2e00"/><path d="M345 92h6.5v6.5h-6.5z" fill="#ff2700"/><path d="M351 92h6.5v6.5h-6.5z" fill="#ff2000"/><path d="M357 92h6.5v6.5h-6.5z" fill="#ff1b00"/><path d="M363 92h6.5v6.5h-6.5z" fill="#ff1600"/><path d="M369 92h6.5v6.5h-6.5z" fill="#ff1100"/><path d="M375 92h6.5v6.5h-6.5z" fill="#ff0d00"/><path d="M381 92h6.5v6.5h-6.5z" fill="#ff0a01"/><path d="M387 92h6.5v6.5h-6.5z" fill="#ff0802"/><path d="M393 92h6.5v6.5h-6.5z" fill="#ff0703"/><path d="M399 92h6.5v6.5h-6.5z" fill="#ff0605"/><path d="M405 92h6.5v6.5h-6.5z" fill="#ff0407"/><path d="M411 92h6.5v6.5h-6.5z" fill="#ff0209"/><path d="M417 92h6.5v6.5h-6.5z" fill="#ff010b"/><path d="M423 92h6.5v6.5h-6.5z" fill="#ff000e"/><path d="M429 92h6.5v6.5h-6.5z" fill="#ff0010"/><path d="M435 92h6.5v6.5h-6.5z" fill="#ff0013"/><path d="M441 92h6.5v6.5h-6.5z" fill="#ff0016"/><path d="M447 92h6.5v6.5h-6.5z" fill="#ff0019"/><path d="M453 92h6.5v6.5h-6.5z" fill="#ff001b"/><path d="M459 92h6.5v6.5h-6.5z" fill="#ff001e"/><path d="M465 92h6.5v6.5h-6.5z" fill="#ff0020"/><path d="M471 92h6.5v6.5h-6.5z" fill="#ff0023"/><path d="M477 92h6.5v6.5h-6.5z" fill="#ff0025"/><path d="M483 92h6.5v6.5h-6.5z" fill="#ff0028"/><path d="M489 92h6.5v6.5h-6.5z" fill="#ff002a"/><path d="M495 92h6.5v6.5h-6.5z" fill="#ff002c"/><path d="M501 92h6.5v6.5h-6.5z" fill="#ff002e"/><path d="M507 92h6.5v6.5h-6.5z" fill="#ff0030"/><path d="M513 92h6.5v6.5h-6.5z" fill="#ff0032"/><path d="M519 92h6.5v6.5h-6.5z" fill="#ff0033"/><path d="M525 92h6.5v6.5h-6.5z" fill="#ff0034"/><path d="M531 92h6.5v6.5h-6.5z" fill="#ff0034"/><path d="M537 92h6.5v6.5h-6.5z" fill="#ff0035"/><path d="M543 92h6.5v6.5h-6.5z" fill="#ff0035"/><path d="M549 92h6.5v6.5h-6.5z" fill="#ff0035"/><path d="M555 92h6.5v6.5h-6.5z" fill="#ff0035"/><path d="M99 98h6.5v6.5h-6.5z" fill="#ff9200"/><path d="M105 98h6.5v6.5h-6.5z" fill="#ff9100"/><path d="M111 98h6.5v6.5h-6.5z" fill="#ff9000"/><path d="M117 98h6.5v6.5h-6.5z" fill="#ff8e00"/><path d="M123 98h6.5v6.5h-6.5z" fill="#ff8b00"/><path d="M129 98h6.5v6.5h-6.5z" fill="#ff8600"/><path d="M135 98h6.5v6.5h-6.5z" fill="#ff7f00"/><path d="M141 98h6.5v6.5h-6.5z" fill="#ff7900"/><path d="M147 98h6.5v6.5h-6.5z" fill="#ff7600"/><path d="M153 98h6.5v6.5h-6.5z" fill="#ff7800"/><path d="M159 98h6.5v6.5h-6.5z" fill="#ff7e00"/><path d="M165 98h6.5v6.5h-6.5z" fill="#ff8601"/><path d="M171 98h6.5v6.5h-6.5z" fill="#ff8c01"/><path d="M177 98h6.5v6.5h-6.5z" fill="#ff9101"/><path d="M183 98h6.5v6.5h-6.5z" fill="#ff9301"/><path d="M189 98h6.5v6.5h-6.5z" fill="#ff9401"/><path d="M195 98h6.5v6.5h-6.5z" fill="#ff9501"/><path d="M201 98h6.5v6.5h-6.5z" fill="#ff9400"/><path d="M207 98h6.5v6.5h-6.5z" fill="#ff9300"/><path d="M213 98h6.5v6.5h-6.5z" fill="#ff9200"/><path d="M219 98h6.5v6.5h-6.5z" fill="#ff9000"/><path d="M225 98h6.5v6.5h-6.5z" fill="#ff8e00"/><path d="M231 98h6.5v6.5h-6.5z" fill="#ff8b00"/><path d="M237 98h6.5v6.5h-6.5z" fill="#ff8800"/><path d="M243 98h6.5v6.5h-6.5z" fill="#ff8400"/><path d="M249 98h6.5v6.5h-6.5z" fill="#ff7f00"/><path d="M255 98h6.5v6.5h-6.5z" fill="#ff7a00"/><path d="M261 98h6.5v6.5h-6.5z" fill="#ff7300"/><path d="M267 98h6.5v6.5h-6.5z" fill="#ff6c00"/><path d="M273 98h6.5v6.5h-6.5z" fill="#ff6500"/><path d="M279 98h6.5v6.5h-6.5z" fill="#ff5f00"/><path d="M285 98h6.5v6.5h-6.5z" fill="#ff5800"/><path d="M291 98h6.5v6.5h-6.5z" fill="#ff5200"/><path d="M297 98h6.5v6.5h-6.5z" fill="#ff4d00"/><path d="M303 98h6.5v6.5h-6.5z" fill="#ff4700"/><path d="M309 98h6.5v6.5h-6.5z" fill="#ff4100"/><path d="M315 98h6.5v6.5h-6.5z" fill="#ff3c00"/><path d="M321 98h6.5v6.5h-6.5z" fill="#ff3800"/><path d="M327 98h6.5v6.5h-6.5z" fill="#ff3200"/><path d="M333 98h6.5v6.5h-6.5z" fill="#ff2c00"/><path d="M339 98h6.5v6.5h-6.5z" fill="#ff2600"/><path d="M345 98h6.5v6.5h-6.5z" fill="#ff1f00"/><path d="M351 98h6.5v6.5h-6.5z" fill="#ff1a00"/><path d="M357 98h6.5v6.5h-6.5z" fill="#ff1400"/><path d="M363 98h6.5v6.5h-6.5z" fill="#ff1000"/><path d="M369 98h6.5v6.5h-6.5z" fill="#ff0b00"/><path d="M375 98h6.5v6.5h-6.5z" fill="#ff0801"/><path d="M381 98h6.5v6.5h-6.5z" fill="#ff0502"/><path d="M387 98h6.5v6.5h-6.5z" fill="#ff0403"/><path d="M393 98h6.5v6.5h-6.5z" fill="#ff0305"/><path d="M399 98h6.5v6.5h-6.5z" fill="#ff0206"/><path d="M405 98h6.5v6.5h-6.5z" fill="#ff0108"/><path d="M411 98h6.5v6.5h-6.5z" fill="#ff000b"/><path d="M417 98h6.5v6.5h-6.5z" fill="#ff000d"/><path d="M423 98h6.5v6.5h-6.5z" fill="#ff0010"/><path d="M429 98h6.5v6.5h-6.5z" fill="#ff0012"/><path d="M435 98h6.5v6.5h-6.5z" fill="#ff0015"/><path d="M441 98h6.5v6.5h-6.5z" fill="#ff0018"/><path d="M447 98h6.5v6.5h-6.5z" fill="#ff001b"/><path d="M453 98h6.5v6.5h-6.5z" fill="#ff001e"/><path d="M459 98h6.5v6.5h-6.5z" fill="#ff0020"/><path d="M465 98h6.5v6.5h-6.5z" fill="#ff0023"/><path d="M471 98h6.5v6.5h-6.5z" fill="#ff0025"/><path d="M477 98h6.5v6.5h-6.5z" fill="#ff0028"/><path d="M483 98h6.5v6.5h-6.5z" fill="#ff002a"/><path d="M489 98h6.5v6.5h-6.5z" fill="#ff002c"/><path d="M495 98h6.5v6.5h-6.5z" fill="#ff002e"/><path d="M501 98h6.5v6.5h-6.5z" fill="#ff0030"/><path d="M507 98h6.5v6.5h-6.5z" fill="#ff0032"/><path d="M513 98h6.5v6.5h-6.5z" fill="#ff0034"/><path d="M519 98h6.5v6.5h-6.5z" fill="#ff0035"/><path d="M525 98h6.5v6.5h-6.5z" fill="#ff0036"/><path d="M531 98h6.5v6.5h-6.5z" fill="#ff0037"/><path d="M537 98h6.5v6.5h-6.5z" fill="#ff0037"/><path d="M543 98h6.5v6.5h-6.5z" fill="#ff0037"/><path d="M549 98h6.5v6.5h-6.5z" fill="#ff0037"/><path d="M555 98h6.5v6.5h-6.5z" fill="#ff0037"/><path d="M99 104h6.5v6.5h-6.5z" fill="#ff9000"/><path d="M105 104h6.5v6.5h-6.5z" fill="#ff9000"/><path d="M111 104h6.5v6.5h-6.5z" fill="#ff8e00"/><path d="M117 104h6.5v6.5h-6.5z" fill="#ff8b00"/><path d="M123 104h6.5v6.5h-6.5z" fill="#ff8701"/><path d="M129 104h6.5v6.5h-6.5z" fill="#ff7f01"/><path d="M135 104h6.5v6.5h-6.5z" fill="#ff7501"/><path d="M141 104h6.5v6.5h-6.5z" fill="#ff6b00"/><path d="M147 104h6.5v6.5h-6.5z" fill="#ff6500"/><path d="M153 104h6.5v6.5h-6.5z" fill="#ff6700"/><path d="M159 104h6.5v6.5h-6.5z" fill="#ff6d01"/><path d="M165 104h6.5v6.5h-6.5z" fill="#ff7602"/><path d="M171 104h6.5v6.5h-6.5z" fill="#ff7e02"/><path d="M177 104h6.5v6.5h-6.5z" fill="#ff8302"/><path d="M183 104h6.5v6.5h-6.5z" fill="#ff8702"/><path d="M189 104h6.5v6.5h-6.5z" fill="#ff8802"/><path d="M195 104h6.5v6.5h-6.5z" fill="#ff8901"/><path d="M201 104h6.5v6.5h-6.5z" fill="#ff8900"/><path d="M207 104h6.5v6.5h-6.5z" fill="#ff8800"/><path d="M213 104h6.5v6.5h-6.5z" fill="#ff8700"/><path d="M219 104h6.5v6.5h-6.5z" fill="#ff8600"/><path d="M225 104h6.5v6.5h-6.5z" fill="#ff8400"/><path d="M231 104h6.5v6.5h-6.5z" fill="#ff8100"/><path d="M237 104h6.5v6.5h-6.5z" fill="#ff7e00"/><path d="M243 104h6.5v6.5h-6.5z" fill="#ff7b00"/><path d="M249 104h6.5v6.5h-6.5z" fill="#ff7600"/><path d="M255 104h6.5v6.5h-6.5z" fill="#ff7100"/><path d="M261 104h6.5v6.5h-6.5z" fill="#ff6b00"/><path d="M267 104h6.5v6.5h-6.5z" fill="#ff6400"/><path d="M273 104h6.5v6.5h-6.5z" fill="#ff5e00"/><path d="M279 104h6.5v6.5h-6.5z" fill="#ff5800"/><path d="M285 104h6.5v6.5h-6.5z" fill="#ff5100"/><path d="M291 104h6.5v6.5h-6.5z" fill="#ff4b00"/><path d="M297 104h6.5v6.5h-6.5z" fill="#ff4500"/><path d="M303 104h6.5v6.5h-6.5z" fill="#ff4000"/><path d="M309 104h6.5v6.5h-6.5z" fill="#ff3a00"/><path d="M315 104h6.5v6.5h-6.5z" fill="#ff3500"/><path d="M321 104h6.5v6.5h-6.5z" fill="#ff3000"/><path d="M327 104h6.5v6.5h-6.5z" fill="#ff2b00"/><path d="M333 104h6.5v6.5h-6.5z" fill="#ff2500"/><path d="M339 104h6.5v6.5h-6.5z" fill="#ff1f00"/><path d="M345 104h6.5v6.5h-6.5z" fill="#ff1a00"/><path d="M351 104h6.5v6.5h-6.5z" fill="#ff1400"/><path d="M357 104h6.5v6.5h-6.5z" fill="#ff1000"/><path d="M363 104h6.5v6.5h-6.5z" fill="#ff0b00"/><path d="M369 104h6.5v6.5h-6.5z" fill="#ff0801"/><path d="M375 104h6.5v6.5h-6.5z" fill="#ff0402"/><path d="M381 104h6.5v6.5h-6.5z" fill="#ff0203"/><path d="M387 104h6.5v6.5h-6.5z" fill="#ff0105"/><path d="M393 104h6.5v6.5h-6.5z" fill="#ff0006"/><path d="M399 104h6.5v6.5h-6.5z" fill="#ff0008"/><path d="M405 104h6.5v6.5h-6.5z" fill="#ff000a"/><path d="M411 104h6.5v6.5h-6.5z" fill="#ff000c"/><path d="M417 104h6.5v6.5h-6.5z" fill="#ff000f"/><path d="M423 104h6.5v6.5h-6.5z" fill="#ff0011"/><path d="M429 104h6.5v6.5h-6.5z" fill="#ff0014"/><path d="M435 104h6.5v6.5h-6.5z" fill="#ff0017"/><path d="M441 104h6.5v6.5h-6.5z" fill="#ff001a"/><path d="M447 104h6.5v6.5h-6.5z" fill="#ff001d"/><path d="M453 104h6.5v6.5h-6.5z" fill="#ff0020"/><path d="M459 104h6.5v6.5h-6.5z" fill="#ff0023"/><path d="M465 104h6.5v6.5h-6.5z" fill="#ff0025"/><path d="M471 104h6.5v6.5h-6.5z" fill="#ff0027"/><path d="M477 104h6.5v6.5h-6.5z" fill="#ff002a"/><path d="M483 104h6.5v6.5h-6.5z" fill="#ff002c"/><path d="M489 104h6.5v6.5h-6.5z" fill="#ff002e"/><path d="M495 104h6.5v6.5h-6.5z" fill="#ff0030"/><path d="M501 104h6.5v6.5h-6.5z" fill="#ff0032"/><path d="M507 104h6.5v6.5h-6.5z" fill="#ff0034"/><path d="M513 104h6.5v6.5h-6.5z" fill="#ff0035"/><path d="M519 104h6.5v6.5h-6.5z" fill="#ff0037"/><path d="M525 104h6.5v6.5h-6.5z" fill="#ff0038"/><path d="M531 104h6.5v6.5h-6.5z" fill="#ff0038"/><path d="M537 104h6.5v6.5h-6.5z" fill="#ff0039"/><path d="M543 104h6.5v6.5h-6.5z" fill="#ff0039"/><path d="M549 104h6.5v6.5h-6.5z" fill="#ff0039"/><path d="M555 104h6.5v6.5h-6.5z" fill="#ff0039"/><path d="M99 110h6.5v6.5h-6.5z" fill="#ff8e00"/><path d="M105 110h6.5v6.5h-6.5z" fill="#ff8e00"/><path d="M111 110h6.5v6.5h-6.5z" fill="#ff8c00"/><path d="M117 110h6.5v6.5h-6.5z" fill="#ff8901"/><path d="M123 110h6.5v6.5h-6.5z" fill="#ff8402"/><path d="M129 110h6.5v6.5h-6.5z" fill="#ff7b02"/><path d="M135 110h6.5v6.5h-6.5z" fill="#ff6e02"/><path d="M141 110h6.5v6.5h-6.5z" fill="#ff5f01"/><path d="M147 110h6.5v6.5h-6.5z" fill="#ff5500"/><path d="M153 110h6.5v6.5h-6.5z" fill="#ff5600"/><path d="M159 110h6.5v6.5h-6.5z" fill="#ff5e02"/><path d="M165 110h6.5v6.5h-6.5z" fill="#ff6803"/><path d="M171 110h6.5v6.5h-6.5z" fill="#ff7104"/><path d="M177 110h6.5v6.5h-6.5z" fill="#ff7703"/><path d="M183 110h6.5v6.5h-6.5z" fill="#ff7a03"/><path d="M189 110h6.5v6.5h-6.5z" fill="#ff7c02"/><path d="M195 110h6.5v6.5h-6.5z" fill="#ff7d01"/><path d="M201 110h6.5v6.5h-6.5z" fill="#ff7d00"/><path d="M207 110h6.5v6.5h-6.5z" fill="#ff7c00"/><path d="M213 110h6.5v6.5h-6.5z" fill="#ff7b00"/><path d="M219 110h6.5v6.5h-6.5z" fill="#ff7a00"/><path d="M225 110h6.5v6.5h-6.5z" fill="#ff7900"/><path d="M231 110h6.5v6.5h-6.5z" fill="#ff7700"/><path d="M237 110h6.5v6.5h-6.5z" fill="#ff7500"/><path d="M243 110h6.5v6.5h-6.5z" fill="#ff7100"/><path d="M249 110h6.5v6.5h-6.5z" fill="#ff6d00"/><path d="M255 110h6.5v6.5h-6.5z" fill="#ff6800"/><path d="M261 110h6.5v6.5h-6.5z" fill="#ff6200"/><path d="M267 110h6.5v6.5h-6.5z" fill="#ff5d00"/><path d="M273 110h6.5v6.5h-6.5z" fill="#ff5700"/><path d="M279 110h6.5v6.5h-6.5z" fill="#ff5100"/><path d="M285 110h6.5v6.5h-6.5z" fill="#ff4a00"/><path d="M291 110h6.5v6.5h-6.5z" fill="#ff4400"/><path d="M297 110h6.5v6.5h-6.5z" fill="#ff3f00"/><path d="M303 110h6.5v6.5h-6.5z" fill="#ff3900"/><path d="M309 110h6.5v6.5h-6.5z" fill="#ff3400"/><path d="M315 110h6.5v6.5h-6.5z" fill="#ff2f00"/><path d="M321 110h6.5v6.5h-6.5z" fill="#ff2a00"/><path d="M327 110h6.5v6.5h-6.5z" fill="#ff2500"/><path d="M333 110h6.5v6.5h-6.5z" fill="#ff2000"/><path d="M339 110h6.5v6.5h-6.5z" fill="#ff1a00"/><path d="M345 110h6.5v6.5h-6.5z" fill="#ff1500"/><path d="M351 110h6.5v6.5h-6.5z" fill="#ff1100"/><path d="M357 110h6.5v6.5h-6.5z" fill="#ff0c00"/><path d="M363 110h6.5v6.5h-6.5z" fill="#ff0801"/><path d="M369 110h6.5v6.5h-6.5z" fill="#ff0502"/><path d="M375 110h6.5v6.5h-6.5z" fill="#ff0304"/><path d="M381 110h6.5v6.5h-6.5z" fill="#ff0105"/><path d="M387 110h6.5v6.5h-6.5z" fill="#ff0007"/><path d="M393 110h6.5v6.5h-6.5z" fill="#ff0008"/><path d="M399 110h6.5v6.5h-6.5z" fill="#ff000a"/><path d="M405 110h6.5v6.5h-6.5z" fill="#ff000c"/><path d="M411 110h6.5v6.5h-6.5z" fill="#ff000e"/><path d="M417 110h6.5v6.5h-6.5z" fill="#ff0010"/><path d="M423 110h6.5v6.5h-6.5z" fill="#ff0013"/><path d="M429 110h6.5v6.5h-6.5z" fill="#ff0016"/><path d="M435 110h6.5v6.5h-6.5z" fill="#ff0019"/><path d="M441 110h6.5v6.5h-6.5z" fill="#ff001c"/><path d="M447 110h6.5v6.5h-6.5z" fill="#ff001f"/><path d="M453 110h6.5v6.5h-6.5z" fill="#ff0022"/><path d="M459 110h6.5v6.5h-6.5z" fill="#ff0025"/><path d="M465 110h6.5v6.5h-6.5z" fill="#ff0027"/><path d="M471 110h6.5v6.5h-6.5z" fill="#ff0029"/><path d="M477 110h6.5v6.5h-6.5z" fill="#ff002b"/><path d="M483 110h6.5v6.5h-6.5z" fill="#ff002e"/><path d="M489 110h6.5v6.5h-6.5z" fill="#ff0030"/><path d="M495 110h6.5v6.5h-6.5z" fill="#ff0032"/><path d="M501 110h6.5v6.5h-6.5z" fill="#ff0034"/><path d="M507 110h6.5v6.5h-6.5z" fill="#ff0036"/><path d="M513 110h6.5v6.5h-6.5z" fill="#ff0037"/><path d="M519 110h6.5v6.5h-6.5z" fill="#ff0038"/><path d="M525 110h6.5v6.5h-6.5z" fill="#ff0039"/><path d="M531 110h6.5v6.5h-6.5z" fill="#ff003a"/><path d="M537 110h6.5v6.5h-6.5z" fill="#ff003b"/><path d="M543 110h6.5v6.5h-6.5z" fill="#ff003b"/><path d="M549 110h6.5v6.5h-6.5z" fill="#ff003b"/><path d="M555 110h6.5v6.5h-6.5z" fill="#ff003b"/><path d="M99 116h6.5v6.5h-6.5z" fill="#ff8b00"/><path d="M105 116h6.5v6.5h-6.5z" fill="#ff8b01"/><path d="M111 116h6.5v6.5h-6.5z" fill="#ff8901"/><path d="M117 116h6.5v6.5h-6.5z" fill="#ff8702"/><path d="M123 116h6.5v6.5h-6.5z" fill="#ff8203"/><path d="M129 116h6.5v6.5h-6.5z" fill="#ff7904"/><path d="M135 116h6.5v6.5h-6.5z" fill="#ff6a03"/><path d="M141 116h6.5v6.5h-6.5z" fill="#ff5801"/><path d="M147 116h6.5v6.5h-6.5z" fill="#ff4a00"/><path d="M153 116h6.5v6.5h-6.5z" fill="#ff4c01"/><path d="M159 116h6.5v6.5h-6.5z" fill="#ff5403"/><path d="M165 116h6.5v6.5h-6.5z" fill="#ff5e04"/><path d="M171 116h6.5v6.5h-6.5z" fill="#ff6605"/><path d="M177 116h6.5v6.5h-6.5z" fill="#ff6b04"/><path d="M183 116h6.5v6.5h-6.5z" fill="#ff6e03"/><path d="M189 116h6.5v6.5h-6.5z" fill="#ff7002"/><path d="M195 116h6.5v6.5h-6.5z" fill="#ff7001"/><path d="M201 116h6.5v6.5h-6.5z" fill="#ff7000"/><path d="M207 116h6.5v6.5h-6.5z" fill="#ff7000"/><path d="M213 116h6.5v6.5h-6.5z" fill="#ff6f00"/><path d="M219 116h6.5v6.5h-6.5z" fill="#ff6f00"/><path d="M225 116h6.5v6.5h-6.5z" fill="#ff6e00"/><path d="M231 116h6.5v6.5h-6.5z" fill="#ff6d00"/><path d="M237 116h6.5v6.5h-6.5z" fill="#ff6b00"/><path d="M243 116h6.5v6.5h-6.5z" fill="#ff6700"/><path d="M249 116h6.5v6.5h-6.5z" fill="#ff6300"/><path d="M255 116h6.5v6.5h-6.5z" fill="#ff5e00"/><path d="M261 116h6.5v6.5h-6.5z" fill="#ff5900"/><path d="M267 116h6.5v6.5h-6.5z" fill="#ff5400"/><path d="M273 116h6.5v6.5h-6.5z" fill="#ff4f00"/><path d="M279 116h6.5v6.5h-6.5z" fill="#ff4900"/><path d="M285 116h6.5v6.5h-6.5z" fill="#ff4300"/><path d="M291 116h6.5v6.5h-6.5z" fill="#ff3d00"/><path d="M297 116h6.5v6.5h-6.5z" fill="#ff3800"/><path d="M303 116h6.5v6.5h-6.5z" fill="#ff3300"/><path d="M309 116h6.5v6.5h-6.5z" fill="#ff2e00"/><path d="M315 116h6.5v6.5h-6.5z" fill="#ff2900"/><path d="M321 116h6.5v6.5h-6.5z" fill="#ff2400"/><path d="M327 116h6.5v6.5h-6.5z" fill="#ff1f00"/><path d="M333 116h6.5v6.5h-6.5z" fill="#ff1b00"/><path d="M339 116h6.5v6.5h-6.5z" fill="#ff1600"/><path d="M345 116h6.5v6.5h-6.5z" fill="#ff1200"/><path d="M351 116h6.5v6.5h-6.5z" fill="#ff0e00"/><path d="M357 116h6.5v6.5h-6.5z" fill="#ff0a01"/><path d="M363 116h6.5v6.5h-6.5z" fill="#ff0602"/><path d="M369 116h6.5v6.5h-6.5z" fill="#ff0404"/><path d="M375 116h6.5v6.5h-6.5z" fill="#ff0206"/><path d="M381 116h6.5v6.5h-6.5z" fill="#ff0007"/><path d="M387 116h6.5v6.5h-6.5z" fill="#ff0009"/><path d="M393 116h6.5v6.5h-6.5z" fill="#ff000a"/><path d="M399 116h6.5v6.5h-6.5z" fill="#ff000c"/><path d="M405 116h6.5v6.5h-6.5z" fill="#ff000e"/><path d="M411 116h6.5v6.5h-6.5z" fill="#ff0010"/><path d="M417 116h6.5v6.5h-6.5z" fill="#ff0012"/><path d="M423 116h6.5v6.5h-6.5z" fill="#ff0015"/><path d="M429 116h6.5v6.5h-6.5z" fill="#ff0018"/><path d="M435 116h6.5v6.5h-6.5z" fill="#ff001c"/><path d="M441 116h6.5v6.5h-6.5z" fill="#ff001f"/><path d="M447 116h6.5v6.5h-6.5z" fill="#ff0022"/><path d="M453 116h6.5v6.5h-6.5z" fill="#ff0024"/><path d="M459 116h6.5v6.5h-6.5z" fill="#ff0027"/><path d="M465 116h6.5v6.5h-6.5z" fill="#ff0029"/><path d="M471 116h6.5v6.5h-6.5z" fill="#ff002b"/><path d="M477 116h6.5v6.5h-6.5z" fill="#ff002d"/><path d="M483 116h6.5v6.5h-6.5z" fill="#ff002f"/><path d="M489 116h6.5v6.5h-6.5z" fill="#ff0031"/><path d="M495 116h6.5v6.5h-6.5z" fill="#ff0033"/><path d="M501 116h6.5v6.5h-6.5z" fill="#ff0035"/><path d="M507 116h6.5v6.5h-6.5z" fill="#ff0037"/><path d="M513 116h6.5v6.5h-6.5z" fill="#ff0039"/><path d="M519 116h6.5v6.5h-6.5z" fill="#ff003a"/><path d="M525 116h6.5v6.5h-6.5z" fill="#ff003b"/><path d="M531 116h6.5v6.5h-6.5z" fill="#ff003c"/><path d="M537 116h6.5v6.5h-6.5z" fill="#ff003c"/><path d="M543 116h6.5v6.5h-6.5z" fill="#ff003c"/><path d="M549 116h6.5v6.5h-6.5z" fill="#ff003c"/><path d="M555 116h6.5v6.5h-6.5z" fill="#ff003c"/><path d="M99 122h6.5v6.5h-6.5z" fill="#ff8701"/><path d="M105 122h6.5v6.5h-6.5z" fill="#ff8602"/><path d="M111 122h6.5v6.5h-6.5z" fill="#ff8502"/><path d="M117 122h6.5v6.5h-6.5z" fill="#ff8303"/><path d="M123 122h6.5v6.5h-6.5z" fill="#ff7f04"/><path d="M129 122h6.5v6.5h-6.5z" fill="#ff7805"/><path d="M135 122h6.5v6.5h-6.5z" fill="#ff6a04"/><path d="M141 122h6.5v6.5h-6.5z" fill="#ff5802"/><path d="M147 122h6.5v6.5h-6.5z" fill="#ff4b01"/><path d="M153 122h6.5v6.5h-6.5z" fill="#ff4902"/><path d="M159 122h6.5v6.5h-6.5z" fill="#ff4f03"/><path d="M165 122h6.5v6.5h-6.5z" fill="#ff5705"/><path d="M171 122h6.5v6.5h-6.5z" fill="#ff5d05"/><path d="M177 122h6.5v6.5h-6.5z" fill="#ff6104"/><path d="M183 122h6.5v6.5h-6.5z" fill="#ff6303"/><path d="M189 122h6.5v6.5h-6.5z" fill="#ff6402"/><path d="M195 122h6.5v6.5h-6.5z" fill="#ff6401"/><path d="M201 122h6.5v6.5h-6.5z" fill="#ff6400"/><path d="M207 122h6.5v6.5h-6.5z" fill="#ff6300"/><path d="M213 122h6.5v6.5h-6.5z" fill="#ff6300"/><path d="M219 122h6.5v6.5h-6.5z" fill="#ff6200"/><path d="M225 122h6.5v6.5h-6.5z" fill="#ff6100"/><path d="M231 122h6.5v6.5h-6.5z" fill="#ff6000"/><path d="M237 122h6.5v6.5h-6.5z" fill="#ff5f00"/><path d="M243 122h6.5v6.5h-6.5z" fill="#ff5c00"/><path d="M249 122h6.5v6.5h-6.5z" fill="#ff5700"/><path d="M255 122h6.5v6.5h-6.5z" fill="#ff5300"/><path d="M261 122h6.5v6.5h-6.5z" fill="#ff4f00"/><path d="M267 122h6.5v6.5h-6.5z" fill="#ff4a00"/><path d="M273 122h6.5v6.5h-6.5z" fill="#ff4600"/><path d="M279 122h6.5v6.5h-6.5z" fill="#ff4000"/><path d="M285 122h6.5v6.5h-6.5z" fill="#ff3b01"/><path d="M291 122h6.5v6.5h-6.5z" fill="#ff3501"/><path d="M297 122h6.5v6.5h-6.5z" fill="#ff3001"/><path d="M303 122h6.5v6.5h-6.5z" fill="#ff2c00"/><path d="M309 122h6.5v6.5h-6.5z" fill="#ff2800"/><path d="M315 122h6.5v6.5h-6.5z" fill="#ff2300"/><path d="M321 122h6.5v6.5h-6.5z" fill="#ff1e01"/><path d="M327 122h6.5v6.5h-6.5z" fill="#ff1a01"/><path d="M333 122h6.5v6.5h-6.5z" fill="#ff1600"/><path d="M339 122h6.5v6.5h-6.5z" fill="#ff1200"/><path d="M345 122h6.5v6.5h-6.5z" fill="#ff0f00"/><path d="M351 122h6.5v6.5h-6.5z" fill="#ff0b01"/><path d="M357 122h6.5v6.5h-6.5z" fill="#ff0803"/><path d="M363 122h6.5v6.5h-6.5z" fill="#ff0505"/><path d="M369 122h6.5v6.5h-6.5z" fill="#ff0307"/><path d="M375 122h6.5v6.5h-6.5z" fill="#ff0109"/><path d="M381 122h6.5v6.5h-6.5z" fill="#ff000a"/><path d="M387 122h6.5v6.5h-6.5z" fill="#ff000c"/><path d="M393 122h6.5v6.5h-6.5z" fill="#ff000d"/><path d="M399 122h6.5v6.5h-6.5z" fill="#ff000f"/><path d="M405 122h6.5v6.5h-6.5z" fill="#ff0010"/><path d="M411 122h6.5v6.5h-6.5z" fill="#ff0012"/><path d="M417 122h6.5v6.5h-6.5z" fill="#ff0015"/><path d="M423 122h6.5v6.5h-6.5z" fill="#ff0018"/><path d="M429 122h6.5v6.5h-6.5z" fill="#ff001b"/><path d="M435 122h6.5v6.5h-6.5z" fill="#ff001e"/><path d="M441 122h6.5v6.5h-6.5z" fill="#ff0021"/><path d="M447 122h6.5v6.5h-6.5z" fill="#ff0024"/><path d="M453 122h6.5v6.5h-6.5z" fill="#ff0027"/><path d="M459 122h6.5v6.5h-6.5z" fill="#ff0029"/><path d="M465 122h6.5v6.5h-6.5z" fill="#ff002c"/><path d="M471 122h6.5v6.5h-6.5z" fill="#ff002d"/><path d="M477 122h6.5v6.5h-6.5z" fill="#ff002f"/><path d="M483 122h6.5v6.5h-6.5z" fill="#ff0031"/><path d="M489 122h6.5v6.5h-6.5z" fill="#ff0033"/><path d="M495 122h6.5v6.5h-6.5z" fill="#ff0035"/><path d="M501 122h6.5v6.5h-6.5z" fill="#ff0037"/><path d="M507 122h6.5v6.5h-6.5z" fill="#ff0039"/><path d="M513 122h6.5v6.5h-6.5z" fill="#ff003a"/><path d="M519 122h6.5v6.5h-6.5z" fill="#ff003b"/><path d="M525 122h6.5v6.5h-6.5z" fill="#ff003c"/><path d="M531 122h6.5v6.5h-6.5z" fill="#ff003d"/><path d="M537 122h6.5v6.5h-6.5z" fill="#ff003d"/><path d="M543 122h6.5v6.5h-6.5z" fill="#ff003e"/><path d="M549 122h6.5v6.5h-6.5z" fill="#ff003e"/><path d="M555 122h6.5v6.5h-6.5z" fill="#ff003d"/><path d="M99 128h6.5v6.5h-6.5z" fill="#ff8102"/><path d="M105 128h6.5v6.5h-6.5z" fill="#ff8102"/><path d="M111 128h6.5v6.5h-6.5z" fill="#ff8003"/><path d="M117 128h6.5v6.5h-6.5z" fill="#ff7d03"/><path d="M123 128h6.5v6.5h-6.5z" fill="#ff7904"/><path d="M129 128h6.5v6.5h-6.5z" fill="#ff7204"/><path d="M135 128h6.5v6.5h-6.5z" fill="#ff6704"/><path d="M141 128h6.5v6.5h-6.5z" fill="#ff5802"/><path d="M147 128h6.5v6.5h-6.5z" fill="#ff4e02"/><path d="M153 128h6.5v6.5h-6.5z" fill="#ff4a02"/><path d="M159 128h6.5v6.5h-6.5z" fill="#ff4c03"/><path d="M165 128h6.5v6.5h-6.5z" fill="#ff5104"/><path d="M171 128h6.5v6.5h-6.5z" fill="#ff5504"/><path d="M177 128h6.5v6.5h-6.5z" fill="#ff5803"/><path d="M183 128h6.5v6.5h-6.5z" fill="#ff5902"/><path d="M189 128h6.5v6.5h-6.5z" fill="#ff5901"/><path d="M195 128h6.5v6.5h-6.5z" fill="#ff5901"/><path d="M201 128h6.5v6.5h-6.5z" fill="#ff5800"/><path d="M207 128h6.5v6.5h-6.5z" fill="#ff5700"/><path d="M213 128h6.5v6.5h-6.5z" fill="#ff5600"/><path d="M219 128h6.5v6.5h-6.5z" fill="#ff5500"/><path d="M225 128h6.5v6.5h-6.5z" fill="#ff5400"/><path d="M231 128h6.5v6.5h-6.5z" fill="#ff5300"/><path d="M237 128h6.5v6.5h-6.5z" fill="#ff5100"/><path d="M243 128h6.5v6.5h-6.5z" fill="#ff4e01"/><path d="M249 128h6.5v6.5h-6.5z" fill="#ff4a01"/><path d="M255 128h6.5v6.5h-6.5z" fill="#ff4601"/><path d="M261 128h6.5v6.5h-6.5z" fill="#ff4301"/><path d="M267 128h6.5v6.5h-6.5z" fill="#ff3f02"/><path d="M273 128h6.5v6.5h-6.5z" fill="#ff3b02"/><path d="M279 128h6.5v6.5h-6.5z" fill="#ff3603"/><path d="M285 128h6.5v6.5h-6.5z" fill="#ff3104"/><path d="M291 128h6.5v6.5h-6.5z" fill="#ff2c04"/><path d="M297 128h6.5v6.5h-6.5z" fill="#ff2805"/><path d="M303 128h6.5v6.5h-6.5z" fill="#ff2405"/><path d="M309 128h6.5v6.5h-6.5z" fill="#ff2005"/><path d="M315 128h6.5v6.5h-6.5z" fill="#ff1c05"/><path d="M321 128h6.5v6.5h-6.5z" fill="#ff1805"/><path d="M327 128h6.5v6.5h-6.5z" fill="#ff1505"/><path d="M333 128h6.5v6.5h-6.5z" fill="#ff1105"/><path d="M339 128h6.5v6.5h-6.5z" fill="#ff0e05"/><path d="M345 128h6.5v6.5h-6.5z" fill="#ff0b05"/><path d="M351 128h6.5v6.5h-6.5z" fill="#ff0906"/><path d="M357 128h6.5v6.5h-6.5z" fill="#ff0607"/><path d="M363 128h6.5v6.5h-6.5z" fill="#ff0409"/><path d="M369 128h6.5v6.5h-6.5z" fill="#ff020a"/><path d="M375 128h6.5v6.5h-6.5z" fill="#ff010c"/><path d="M381 128h6.5v6.5h-6.5z" fill="#ff000d"/><path d="M387 128h6.5v6.5h-6.5z" fill="#ff000f"/><path d="M393 128h6.5v6.5h-6.5z" fill="#ff0010"/><path d="M399 128h6.5v6.5h-6.5z" fill="#ff0012"/><path d="M405 128h6.5v6.5h-6.5z" fill="#ff0013"/><path d="M411 128h6.5v6.5h-6.5z" fill="#ff0015"/><path d="M417 128h6.5v6.5h-6.5z" fill="#ff0018"/><path d="M423 128h6.5v6.5h-6.5z" fill="#ff001a"/><path d="M429 128h6.5v6.5h-6.5z" fill="#ff001e"/><path d="M435 128h6.5v6.5h-6.5z" fill="#ff0021"/><path d="M441 128h6.5v6.5h-6.5z" fill="#ff0024"/><path d="M447 128h6.5v6.5h-6.5z" fill="#ff0027"/><path d="M453 128h6.5v6.5h-6.5z" fill="#ff0029"/><path d="M459 128h6.5v6.5h-6.5z" fill="#ff002c"/><path d="M465 128h6.5v6.5h-6.5z" fill="#ff002e"/><path d="M471 128h6.5v6.5h-6.5z" fill="#ff0030"/><path d="M477 128h6.5v6.5h-6.5z" fill="#ff0031"/><path d="M483 128h6.5v6.5h-6.5z" fill="#ff0033"/><path d="M489 128h6.5v6.5h-6.5z" fill="#ff0035"/><path d="M495 128h6.5v6.5h-6.5z" fill="#ff0037"/><path d="M501 128h6.5v6.5h-6.5z" fill="#ff0038"/><path d="M507 128h6.5v6.5h-6.5z" fill="#ff003a"/><path d="M513 128h6.5v6.5h-6.5z" fill="#ff003c"/><path d="M519 128h6.5v6.5h-6.5z" fill="#ff003d"/><path d="M525 128h6.5v6.5h-6.5z" fill="#ff003e"/><path d="M531 128h6.5v6.5h-6.5z" fill="#ff003e"/><path d="M537 128h6.5v6.5h-6.5z" fill="#ff003f"/><path d="M543 128h6.5v6.5h-6.5z" fill="#ff003f"/><path d="M549 128h6.5v6.5h-6.5z" fill="#ff003f"/><path d="M555 128h6.5v6.5h-6.5z" fill="#ff003e"/><path d="M99 134h6.5v6.5h-6.5z" fill="#ff7a03"/><path d="M105 134h6.5v6.5h-6.5z" fill="#ff7a03"/><path d="M111 134h6.5v6.5h-6.5z" fill="#ff7803"/><path d="M117 134h6.5v6.5h-6.5z" fill="#ff7603"/><path d="M123 134h6.5v6.5h-6.5z" fill="#ff7203"/><path d="M129 134h6.5v6.5h-6.5z" fill="#ff6b03"/><path d="M135 134h6.5v6.5h-6.5z" fill="#ff6102"/><path d="M141 134h6.5v6.5h-6.5z" fill="#ff5701"/><path d="M147 134h6.5v6.5h-6.5z" fill="#ff4e01"/><path d="M153 134h6.5v6.5h-6.5z" fill="#ff4a01"/><path d="M159 134h6.5v6.5h-6.5z" fill="#ff4a01"/><path d="M165 134h6.5v6.5h-6.5z" fill="#ff4c02"/><path d="M171 134h6.5v6.5h-6.5z" fill="#ff4e02"/><path d="M177 134h6.5v6.5h-6.5z" fill="#ff4f02"/><path d="M183 134h6.5v6.5h-6.5z" fill="#ff4f01"/><path d="M189 134h6.5v6.5h-6.5z" fill="#ff4f01"/><path d="M195 134h6.5v6.5h-6.5z" fill="#ff4e00"/><path d="M201 134h6.5v6.5h-6.5z" fill="#ff4c00"/><path d="M207 134h6.5v6.5h-6.5z" fill="#ff4b00"/><path d="M213 134h6.5v6.5h-6.5z" fill="#ff4900"/><path d="M219 134h6.5v6.5h-6.5z" fill="#ff4800"/><path d="M225 134h6.5v6.5h-6.5z" fill="#ff4700"/><path d="M231 134h6.5v6.5h-6.5z" fill="#ff4500"/><path d="M237 134h6.5v6.5h-6.5z" fill="#ff4301"/><path d="M243 134h6.5v6.5h-6.5z" fill="#ff4001"/><path d="M249 134h6.5v6.5h-6.5z" fill="#ff3d02"/><path d="M255 134h6.5v6.5h-6.5z" fill="#ff3903"/><path d="M261 134h6.5v6.5h-6.5z" fill="#ff3504"/><path d="M267 134h6.5v6.5h-6.5z" fill="#ff3205"/><path d="M273 134h6.5v6.5h-6.5z" fill="#ff2e06"/><path d="M279 134h6.5v6.5h-6.5z" fill="#ff2a07"/><path d="M285 134h6.5v6.5h-6.5z" fill="#ff2608"/><path d="M291 134h6.5v6.5h-6.5z" fill="#ff2209"/><path d="M297 134h6.5v6.5h-6.5z" fill="#ff1e0a"/><path d="M303 134h6.5v6.5h-6.5z" fill="#ff1b0a"/><path d="M309 134h6.5v6.5h-6.5z" fill="#ff180b"/><path d="M315 134h6.5v6.5h-6.5z" fill="#ff150b"/><path d="M321 134h6.5v6.5h-6.5z" fill="#ff120b"/><path d="M327 134h6.5v6.5h-6.5z" fill="#ff0f0b"/><path d="M333 134h6.5v6.5h-6.5z" fill="#ff0d0b"/><path d="M339 134h6.5v6.5h-6.5z" fill="#ff0a0b"/><path d="M345 134h6.5v6.5h-6.5z" fill="#ff080b"/><path d="M351 134h6.5v6.5h-6.5z" fill="#ff060c"/><path d="M357 134h6.5v6.5h-6.5z" fill="#ff040d"/><path d="M363 134h6.5v6.5h-6.5z" fill="#ff030e"/><path d="M369 134h6.5v6.5h-6.5z" fill="#ff010f"/><path d="M375 134h6.5v6.5h-6.5z" fill="#ff0010"/><path d="M381 134h6.5v6.5h-6.5z" fill="#ff0011"/><path d="M387 134h6.5v6.5h-6.5z" fill="#ff0012"/><path d="M393 134h6.5v6.5h-6.5z" fill="#ff0014"/><path d="M399 134h6.5v6.5h-6.5z" fill="#ff0015"/><path d="M405 134h6.5v6.5h-6.5z" fill="#ff0017"/><path d="M411 134h6.5v6.5h-6.5z" fill="#ff0019"/><path d="M417 134h6.5v6.5h-6.5z" fill="#ff001b"/><path d="M423 134h6.5v6.5h-6.5z" fill="#ff001e"/><path d="M429 134h6.5v6.5h-6.5z" fill="#ff0021"/><path d="M435 134h6.5v6.5h-6.5z" fill="#ff0024"/><path d="M441 134h6.5v6.5h-6.5z" fill="#ff0027"/><path d="M447 134h6.5v6.5h-6.5z" fill="#ff0029"/><path d="M453 134h6.5v6.5h-6.5z" fill="#ff002c"/><path d="M459 134h6.5v6.5h-6.5z" fill="#ff002e"/><path d="M465 134h6.5v6.5h-6.5z" fill="#ff0030"/><path d="M471 134h6.5v6.5h-6.5z" fill="#ff0032"/><path d="M477 134h6.5v6.5h-6.5z" fill="#ff0034"/><path d="M483 134h6.5v6.5h-6.5z" fill="#ff0035"/><path d="M489 134h6.5v6.5h-6.5z" fill="#ff0037"/><path d="M495 134h6.5v6.5h-6.5z" fill="#ff0038"/><path d="M501 134h6.5v6.5h-6.5z" fill="#ff003a"/><path d="M507 134h6.5v6.5h-6.5z" fill="#ff003c"/><path d="M513 134h6.5v6.5h-6.5z" fill="#ff003d"/><path d="M519 134h6.5v6.5h-6.5z" fill="#ff003e"/><path d="M525 134h6.5v6.5h-6.5z" fill="#ff003f"/><path d="M531 134h6.5v6.5h-6.5z" fill="#ff003f"/><path d="M537 134h6.5v6.5h-6.5z" fill="#ff0040"/><path d="M543 134h6.5v6.5h-6.5z" fill="#ff0040"/><path d="M549 134h6.5v6.5h-6.5z" fill="#ff0040"/><path d="M555 134h6.5v6.5h-6.5z" fill="#ff003f"/><path d="M99 140h6.5v6.5h-6.5z" fill="#ff7304"/><path d="M105 140h6.5v6.5h-6.5z" fill="#ff7103"/><path d="M111 140h6.5v6.5h-6.5z" fill="#ff7003"/><path d="M117 140h6.5v6.5h-6.5z" fill="#ff6d02"/><path d="M123 140h6.5v6.5h-6.5z" fill="#ff6902"/><path d="M129 140h6.5v6.5h-6.5z" fill="#ff6201"/><path d="M135 140h6.5v6.5h-6.5z" fill="#ff5b01"/><path d="M141 140h6.5v6.5h-6.5z" fill="#ff5300"/><path d="M147 140h6.5v6.5h-6.5z" fill="#ff4c00"/><path d="M153 140h6.5v6.5h-6.5z" fill="#ff4800"/><path d="M159 140h6.5v6.5h-6.5z" fill="#ff4600"/><path d="M165 140h6.5v6.5h-6.5z" fill="#ff4700"/><path d="M171 140h6.5v6.5h-6.5z" fill="#ff4701"/><path d="M177 140h6.5v6.5h-6.5z" fill="#ff4701"/><path d="M183 140h6.5v6.5h-6.5z" fill="#ff4601"/><path d="M189 140h6.5v6.5h-6.5z" fill="#ff4501"/><path d="M195 140h6.5v6.5h-6.5z" fill="#ff4300"/><path d="M201 140h6.5v6.5h-6.5z" fill="#ff4100"/><path d="M207 140h6.5v6.5h-6.5z" fill="#ff3f00"/><path d="M213 140h6.5v6.5h-6.5z" fill="#ff3d00"/><path d="M219 140h6.5v6.5h-6.5z" fill="#ff3b00"/><path d="M225 140h6.5v6.5h-6.5z" fill="#ff3901"/><path d="M231 140h6.5v6.5h-6.5z" fill="#ff3701"/><path d="M237 140h6.5v6.5h-6.5z" fill="#ff3402"/><path d="M243 140h6.5v6.5h-6.5z" fill="#ff3203"/><path d="M249 140h6.5v6.5h-6.5z" fill="#ff2f04"/><path d="M255 140h6.5v6.5h-6.5z" fill="#ff2b05"/><path d="M261 140h6.5v6.5h-6.5z" fill="#ff2807"/><path d="M267 140h6.5v6.5h-6.5z" fill="#ff2508"/><path d="M273 140h6.5v6.5h-6.5z" fill="#ff210a"/><path d="M279 140h6.5v6.5h-6.5z" fill="#ff1e0b"/><path d="M285 140h6.5v6.5h-6.5z" fill="#ff1b0d"/><path d="M291 140h6.5v6.5h-6.5z" fill="#ff180f"/><path d="M297 140h6.5v6.5h-6.5z" fill="#ff1510"/><path d="M303 140h6.5v6.5h-6.5z" fill="#ff1311"/><path d="M309 140h6.5v6.5h-6.5z" fill="#ff1012"/><path d="M315 140h6.5v6.5h-6.5z" fill="#ff0e12"/><path d="M321 140h6.5v6.5h-6.5z" fill="#ff0c13"/><path d="M327 140h6.5v6.5h-6.5z" fill="#ff0a13"/><path d="M333 140h6.5v6.5h-6.5z" fill="#ff0813"/><path d="M339 140h6.5v6.5h-6.5z" fill="#ff0712"/><path d="M345 140h6.5v6.5h-6.5z" fill="#ff0512"/><path d="M351 140h6.5v6.5h-6.5z" fill="#ff0413"/><path d="M357 140h6.5v6.5h-6.5z" fill="#ff0313"/><path d="M363 140h6.5v6.5h-6.5z" fill="#ff0213"/><path d="M369 140h6.5v6.5h-6.5z" fill="#ff0114"/><path d="M375 140h6.5v6.5h-6.5z" fill="#ff0015"/><path d="M381 140h6.5v6.5h-6.5z" fill="#ff0015"/><path d="M387 140h6.5v6.5h-6.5z" fill="#ff0016"/><path d="M393 140h6.5v6.5h-6.5z" fill="#ff0018"/><path d="M399 140h6.5v6.5h-6.5z" fill="#ff0019"/><path d="M405 140h6.5v6.5h-6.5z" fill="#ff001b"/><path d="M411 140h6.5v6.5h-6.5z" fill="#ff001c"/><path d="M417 140h6.5v6.5h-6.5z" fill="#ff001f"/><path d="M423 140h6.5v6.5h-6.5z" fill="#ff0021"/><path d="M429 140h6.5v6.5h-6.5z" fill="#ff0024"/><path d="M435 140h6.5v6.5h-6.5z" fill="#ff0027"/><path d="M441 140h6.5v6.5h-6.5z" fill="#ff0029"/><path d="M447 140h6.5v6.5h-6.5z" fill="#ff002c"/><path d="M453 140h6.5v6.5h-6.5z" fill="#ff002f"/><path d="M459 140h6.5v6.5h-6.5z" fill="#ff0031"/><path d="M465 140h6.5v6.5h-6.5z" fill="#ff0033"/><path d="M471 140h6.5v6.5h-6.5z" fill="#ff0034"/><path d="M477 140h6.5v6.5h-6.5z" fill="#ff0036"/><path d="M483 140h6.5v6.5h-6.5z" fill="#ff0037"/><path d="M489 140h6.5v6.5h-6.5z" fill="#ff0039"/><path d="M495 140h6.5v6.5h-6.5z" fill="#ff003a"/><path d="M501 140h6.5v6.5h-6.5z" fill="#ff003c"/><path d="M507 140h6.5v6.5h-6.5z" fill="#ff003d"/><path d="M513 140h6.5v6.5h-6.5z" fill="#ff003e"/><path d="M519 140h6.5v6.5h-6.5z" fill="#ff003f"/><path d="M525 140h6.5v6.5h-6.5z" fill="#ff0040"/><path d="M531 140h6.5v6.5h-6.5z" fill="#ff0040"/><path d="M537 140h6.5v6.5h-6.5z" fill="#ff0040"/><path d="M543 140h6.5v6.5h-6.5z" fill="#ff0040"/><path d="M549 140h6.5v6.5h-6.5z" fill="#ff0040"/><path d="M555 140h6.5v6.5h-6.5z" fill="#ff0040"/><path d="M99 146h6.5v6.5h-6.5z" fill="#ff6a05"/><path d="M105 146h6.5v6.5h-6.5z" fill="#ff6804"/><path d="M111 146h6.5v6.5h-6.5z" fill="#ff6603"/><path d="M117 146h6.5v6.5h-6.5z" fill="#ff6302"/><path d="M123 146h6.5v6.5h-6.5z" fill="#ff5f01"/><path d="M129 146h6.5v6.5h-6.5z" fill="#ff5a00"/><path d="M135 146h6.5v6.5h-6.5z" fill="#ff5300"/><path d="M141 146h6.5v6.5h-6.5z" fill="#ff4d00"/><path d="M147 146h6.5v6.5h-6.5z" fill="#ff4800"/><path d="M153 146h6.5v6.5h-6.5z" fill="#ff4400"/><path d="M159 146h6.5v6.5h-6.5z" fill="#ff4200"/><path d="M165 146h6.5v6.5h-6.5z" fill="#ff4100"/><path d="M171 146h6.5v6.5h-6.5z" fill="#ff4100"/><path d="M177 146h6.5v6.5h-6.5z" fill="#ff3f00"/><path d="M183 146h6.5v6.5h-6.5z" fill="#ff3e01"/><path d="M189 146h6.5v6.5h-6.5z" fill="#ff3b01"/><path d="M195 146h6.5v6.5h-6.5z" fill="#ff3901"/><path d="M201 146h6.5v6.5h-6.5z" fill="#ff3601"/><path d="M207 146h6.5v6.5h-6.5z" fill="#ff3401"/><path d="M213 146h6.5v6.5h-6.5z" fill="#ff3202"/><path d="M219 146h6.5v6.5h-6.5z" fill="#ff2f02"/><path d="M225 146h6.5v6.5h-6.5z" fill="#ff2c03"/><path d="M231 146h6.5v6.5h-6.5z" fill="#ff2903"/><path d="M237 146h6.5v6.5h-6.5z" fill="#ff2704"/><path d="M243 146h6.5v6.5h-6.5z" fill="#ff2405"/><path d="M249 146h6.5v6.5h-6.5z" fill="#ff2107"/><path d="M255 146h6.5v6.5h-6.5z" fill="#ff1f09"/><path d="M261 146h6.5v6.5h-6.5z" fill="#ff1c0b"/><path d="M267 146h6.5v6.5h-6.5z" fill="#ff180d"/><path d="M273 146h6.5v6.5h-6.5z" fill="#ff150f"/><path d="M279 146h6.5v6.5h-6.5z" fill="#ff1311"/><path d="M285 146h6.5v6.5h-6.5z" fill="#ff1113"/><path d="M291 146h6.5v6.5h-6.5z" fill="#ff0f15"/><path d="M297 146h6.5v6.5h-6.5z" fill="#ff0d17"/><path d="M303 146h6.5v6.5h-6.5z" fill="#ff0b19"/><path d="M309 146h6.5v6.5h-6.5z" fill="#ff091a"/><path d="M315 146h6.5v6.5h-6.5z" fill="#ff071b"/><path d="M321 146h6.5v6.5h-6.5z" fill="#ff061b"/><path d="M327 146h6.5v6.5h-6.5z" fill="#ff061b"/><path d="M333 146h6.5v6.5h-6.5z" fill="#ff051b"/><path d="M339 146h6.5v6.5h-6.5z" fill="#ff041b"/><path d="M345 146h6.5v6.5h-6.5z" fill="#ff031a"/><path d="M351 146h6.5v6.5h-6.5z" fill="#ff021a"/><path d="M357 146h6.5v6.5h-6.5z" fill="#ff011a"/><path d="M363 146h6.5v6.5h-6.5z" fill="#ff011a"/><path d="M369 146h6.5v6.5h-6.5z" fill="#ff001a"/><path d="M375 146h6.5v6.5h-6.5z" fill="#ff001a"/><path d="M381 146h6.5v6.5h-6.5z" fill="#ff001a"/><path d="M387 146h6.5v6.5h-6.5z" fill="#ff001b"/><path d="M393 146h6.5v6.5h-6.5z" fill="#ff001c"/><path d="M399 146h6.5v6.5h-6.5z" fill="#ff001d"/><path d="M405 146h6.5v6.5h-6.5z" fill="#ff001f"/><path d="M411 146h6.5v6.5h-6.5z" fill="#ff0020"/><path d="M417 146h6.5v6.5h-6.5z" fill="#ff0022"/><path d="M423 146h6.5v6.5h-6.5z" fill="#ff0025"/><path d="M429 146h6.5v6.5h-6.5z" fill="#ff0027"/><path d="M435 146h6.5v6.5h-6.5z" fill="#ff002a"/><path d="M441 146h6.5v6.5h-6.5z" fill="#ff002c"/><path d="M447 146h6.5v6.5h-6.5z" fill="#ff002f"/><path d="M453 146h6.5v6.5h-6.5z" fill="#ff0031"/><path d="M459 146h6.5v6.5h-6.5z" fill="#ff0033"/><path d="M465 146h6.5v6.5h-6.5z" fill="#ff0035"/><path d="M471 146h6.5v6.5h-6.5z" fill="#ff0036"/><path d="M477 146h6.5v6.5h-6.5z" fill="#ff0038"/><path d="M483 146h6.5v6.5h-6.5z" fill="#ff0039"/><path d="M489 146h6.5v6.5h-6.5z" fill="#ff003a"/><path d="M495 146h6.5v6.5h-6.5z" fill="#ff003c"/><path d="M501 146h6.5v6.5h-6.5z" fill="#ff003d"/><path d="M507 146h6.5v6.5h-6.5z" fill="#ff003e"/><path d="M513 146h6.5v6.5h-6.5z" fill="#ff003f"/><path d="M519 146h6.5v6.5h-6.5z" fill="#ff0040"/><path d="M525 146h6.5v6.5h-6.5z" fill="#ff0040"/><path d="M531 146h6.5v6.5h-6.5z" fill="#ff0041"/><path d="M537 146h6.5v6.5h-6.5z" fill="#ff0041"/><path d="M543 146h6.5v6.5h-6.5z" fill="#ff0041"/><path d="M549 146h6.5v6.5h-6.5z" fill="#ff0041"/><path d="M555 146h6.5v6.5h-6.5z" fill="#ff0041"/><path d="M99 152h6.5v6.5h-6.5z" fill="#ff6107"/><path d="M105 152h6.5v6.5h-6.5z" fill="#ff5e05"/><path d="M111 152h6.5v6.5h-6.5z" fill="#ff5c04"/><path d="M117 152h6.5v6.5h-6.5z" fill="#ff5903"/><path d="M123 152h6.5v6.5h-6.5z" fill="#ff5501"/><path d="M129 152h6.5v6.5h-6.5z" fill="#ff5000"/><path d="M135 152h6.5v6.5h-6.5z" fill="#ff4b00"/><path d="M141 152h6.5v6.5h-6.5z" fill="#ff4600"/><path d="M147 152h6.5v6.5h-6.5z" fill="#ff4200"/><path d="M153 152h6.5v6.5h-6.5z" fill="#ff3e00"/><path d="M159 152h6.5v6.5h-6.5z" fill="#ff3d00"/><path d="M165 152h6.5v6.5h-6.5z" fill="#ff3c00"/><path d="M171 152h6.5v6.5h-6.5z" fill="#ff3a00"/><path d="M177 152h6.5v6.5h-6.5z" fill="#ff3801"/><path d="M183 152h6.5v6.5h-6.5z" fill="#ff3502"/><path d="M189 152h6.5v6.5h-6.5z" fill="#ff3202"/><path d="M195 152h6.5v6.5h-6.5z" fill="#ff2f03"/><path d="M201 152h6.5v6.5h-6.5z" fill="#ff2c03"/><path d="M207 152h6.5v6.5h-6.5z" fill="#ff2a04"/><path d="M213 152h6.5v6.5h-6.5z" fill="#ff2704"/><path d="M219 152h6.5v6.5h-6.5z" fill="#ff2405"/><path d="M225 152h6.5v6.5h-6.5z" fill="#ff2105"/><path d="M231 152h6.5v6.5h-6.5z" fill="#ff1e06"/><path d="M237 152h6.5v6.5h-6.5z" fill="#ff1b07"/><path d="M243 152h6.5v6.5h-6.5z" fill="#ff1809"/><path d="M249 152h6.5v6.5h-6.5z" fill="#ff160b"/><path d="M255 152h6.5v6.5h-6.5z" fill="#ff140e"/><path d="M261 152h6.5v6.5h-6.5z" fill="#ff1110"/><path d="M267 152h6.5v6.5h-6.5z" fill="#ff0e12"/><path d="M273 152h6.5v6.5h-6.5z" fill="#ff0b15"/><path d="M279 152h6.5v6.5h-6.5z" fill="#ff0917"/><path d="M285 152h6.5v6.5h-6.5z" fill="#ff081a"/><path d="M291 152h6.5v6.5h-6.5z" fill="#ff071d"/><path d="M297 152h6.5v6.5h-6.5z" fill="#ff061f"/><path d="M303 152h6.5v6.5h-6.5z" fill="#ff0421"/><path d="M309 152h6.5v6.5h-6.5z" fill="#ff0323"/><path d="M315 152h6.5v6.5h-6.5z" fill="#ff0224"/><path d="M321 152h6.5v6.5h-6.5z" fill="#ff0224"/><path d="M327 152h6.5v6.5h-6.5z" fill="#ff0224"/><path d="M333 152h6.5v6.5h-6.5z" fill="#ff0224"/><path d="M339 152h6.5v6.5h-6.5z" fill="#ff0123"/><path d="M345 152h6.5v6.5h-6.5z" fill="#ff0123"/><path d="M351 152h6.5v6.5h-6.5z" fill="#ff0122"/><path d="M357 152h6.5v6.5h-6.5z" fill="#ff0022"/><path d="M363 152h6.5v6.5h-6.5z" fill="#ff0021"/><path d="M369 152h6.5v6.5h-6.5z" fill="#ff0020"/><path d="M375 152h6.5v6.5h-6.5z" fill="#ff0020"/><path d="M381 152h6.5v6.5h-6.5z" fill="#ff0020"/><path d="M387 152h6.5v6.5h-6.5z" fill="#ff0020"/><path d="M393 152h6.5v6.5h-6.5z" fill="#ff0021"/><path d="M399 152h6.5v6.5h-6.5z" fill="#ff0022"/><path d="M405 152h6.5v6.5h-6.5z" fill="#ff0023"/><path d="M411 152h6.5v6.5h-6.5z" fill="#ff0024"/><path d="M417 152h6.5v6.5h-6.5z" fill="#ff0026"/><path d="M423 152h6.5v6.5h-6.5z" fill="#ff0028"/><path d="M429 152h6.5v6.5h-6.5z" fill="#ff002a"/><path d="M435 152h6.5v6.5h-6.5z" fill="#ff002d"/><path d="M441 152h6.5v6.5h-6.5z" fill="#ff002f"/><path d="M447 152h6.5v6.5h-6.5z" fill="#ff0031"/><path d="M453 152h6.5v6.5h-6.5z" fill="#ff0033"/><path d="M459 152h6.5v6.5h-6.5z" fill="#ff0035"/><path d="M465 152h6.5v6.5h-6.5z" fill="#ff0036"/><path d="M471 152h6.5v6.5h-6.5z" fill="#ff0038"/><path d="M477 152h6.5v6.5h-6.5z" fill="#ff0039"/><path d="M483 152h6.5v6.5h-6.5z" fill="#ff003b"/><path d="M489 152h6.5v6.5h-6.5z" fill="#ff003c"/><path d="M495 152h6.5v6.5h-6.5z" fill="#ff003d"/><path d="M501 152h6.5v6.5h-6.5z" fill="#ff003e"/><path d="M507 152h6.5v6.5h-6.5z" fill="#ff003f"/><path d="M513 152h6.5v6.5h-6.5z" fill="#ff0040"/><path d="M519 152h6.5v6.5h-6.5z" fill="#ff0040"/><path d="M525 152h6.5v6.5h-6.5z" fill="#ff0041"/><path d="M531 152h6.5v6.5h-6.5z" fill="#ff0041"/><path d="M537 152h6.5v6.5h-6.5z" fill="#ff0042"/><path d="M543 152h6.5v6.5h-6.5z" fill="#ff0042"/><path d="M549 152h6.5v6.5h-6.5z" fill="#ff0041"/><path d="M555 152h6.5v6.5h-6.5z" fill="#ff0041"/><path d="M99 158h6.5v6.5h-6.5z" fill="#ff5709"/><path d="M105 158h6.5v6.5h-6.5z" fill="#ff5408"/><path d="M111 158h6.5v6.5h-6.5z" fill="#ff5106"/><path d="M117 158h6.5v6.5h-6.5z" fill="#ff4e04"/><path d="M123 158h6.5v6.5h-6.5z" fill="#ff4a03"/><path d="M129 158h6.5v6.5h-6.5z" fill="#ff4601"/><path d="M135 158h6.5v6.5h-6.5z" fill="#ff4100"/><path d="M141 158h6.5v6.5h-6.5z" fill="#ff3d00"/><path d="M147 158h6.5v6.5h-6.5z" fill="#ff3a00"/><path d="M153 158h6.5v6.5h-6.5z" fill="#ff3700"/><path d="M159 158h6.5v6.5h-6.5z" fill="#ff3601"/><path d="M165 158h6.5v6.5h-6.5z" fill="#ff3401"/><path d="M171 158h6.5v6.5h-6.5z" fill="#ff3202"/><path d="M177 158h6.5v6.5h-6.5z" fill="#ff3003"/><path d="M183 158h6.5v6.5h-6.5z" fill="#ff2d04"/><path d="M189 158h6.5v6.5h-6.5z" fill="#ff2a05"/><path d="M195 158h6.5v6.5h-6.5z" fill="#ff2606"/><path d="M201 158h6.5v6.5h-6.5z" fill="#ff2306"/><path d="M207 158h6.5v6.5h-6.5z" fill="#ff2007"/><path d="M213 158h6.5v6.5h-6.5z" fill="#ff1d08"/><path d="M219 158h6.5v6.5h-6.5z" fill="#ff1a09"/><path d="M225 158h6.5v6.5h-6.5z" fill="#ff170a"/><path d="M231 158h6.5v6.5h-6.5z" fill="#ff140b"/><path d="M237 158h6.5v6.5h-6.5z" fill="#ff110c"/><path d="M243 158h6.5v6.5h-6.5z" fill="#ff0f0e"/><path d="M249 158h6.5v6.5h-6.5z" fill="#ff0d10"/><path d="M255 158h6.5v6.5h-6.5z" fill="#ff0b13"/><path d="M261 158h6.5v6.5h-6.5z" fill="#ff0916"/><path d="M267 158h6.5v6.5h-6.5z" fill="#ff0619"/><path d="M273 158h6.5v6.5h-6.5z" fill="#ff041c"/><path d="M279 158h6.5v6.5h-6.5z" fill="#ff031f"/><path d="M285 158h6.5v6.5h-6.5z" fill="#ff0222"/><path d="M291 158h6.5v6.5h-6.5z" fill="#ff0125"/><path d="M297 158h6.5v6.5h-6.5z" fill="#ff0128"/><path d="M303 158h6.5v6.5h-6.5z" fill="#ff002a"/><path d="M309 158h6.5v6.5h-6.5z" fill="#ff002c"/><path d="M315 158h6.5v6.5h-6.5z" fill="#ff002c"/><path d="M321 158h6.5v6.5h-6.5z" fill="#ff002d"/><path d="M327 158h6.5v6.5h-6.5z" fill="#ff002d"/><path d="M333 158h6.5v6.5h-6.5z" fill="#ff002d"/><path d="M339 158h6.5v6.5h-6.5z" fill="#ff002c"/><path d="M345 158h6.5v6.5h-6.5z" fill="#ff002c"/><path d="M351 158h6.5v6.5h-6.5z" fill="#ff002b"/><path d="M357 158h6.5v6.5h-6.5z" fill="#ff002a"/><path d="M363 158h6.5v6.5h-6.5z" fill="#ff0028"/><path d="M369 158h6.5v6.5h-6.5z" fill="#ff0027"/><path d="M375 158h6.5v6.5h-6.5z" fill="#ff0026"/><path d="M381 158h6.5v6.5h-6.5z" fill="#ff0026"/><path d="M387 158h6.5v6.5h-6.5z" fill="#ff0026"/><path d="M393 158h6.5v6.5h-6.5z" fill="#ff0026"/><path d="M399 158h6.5v6.5h-6.5z" fill="#ff0027"/><path d="M405 158h6.5v6.5h-6.5z" fill="#ff0028"/><path d="M411 158h6.5v6.5h-6.5z" fill="#ff0029"/><path d="M417 158h6.5v6.5h-6.5z" fill="#ff002a"/><path d="M423 158h6.5v6.5h-6.5z" fill="#ff002c"/><path d="M429 158h6.5v6.5h-6.5z" fill="#ff002d"/><path d="M435 158h6.5v6.5h-6.5z" fill="#ff002f"/><path d="M441 158h6.5v6.5h-6.5z" fill="#ff0031"/><path d="M447 158h6.5v6.5h-6.5z" fill="#ff0033"/><path d="M453 158h6.5v6.5h-6.5z" fill="#ff0035"/><path d="M459 158h6.5v6.5h-6.5z" fill="#ff0037"/><path d="M465 158h6.5v6.5h-6.5z" fill="#ff0038"/><path d="M471 158h6.5v6.5h-6.5z" fill="#ff0039"/><path d="M477 158h6.5v6.5h-6.5z" fill="#ff003a"/><path d="M483 158h6.5v6.5h-6.5z" fill="#ff003c"/><path d="M489 158h6.5v6.5h-6.5z" fill="#ff003d"/><path d="M495 158h6.5v6.5h-6.5z" fill="#ff003e"/><path d="M501 158h6.5v6.5h-6.5z" fill="#ff003e"/><path d="M507 158h6.5v6.5h-6.5z" fill="#ff003f"/><path d="M513 158h6.5v6.5h-6.5z" fill="#ff0040"/><path d="M519 158h6.5v6.5h-6.5z" fill="#ff0041"/><path d="M525 158h6.5v6.5h-6.5z" fill="#ff0041"/><path d="M531 158h6.5v6.5h-6.5z" fill="#ff0042"/><path d="M537 158h6.5v6.5h-6.5z" fill="#ff0042"/><path d="M543 158h6.5v6.5h-6.5z" fill="#ff0042"/><path d="M549 158h6.5v6.5h-6.5z" fill="#ff0042"/><path d="M555 158h6.5v6.5h-6.5z" fill="#ff0041"/><path d="M99 164h6.5v6.5h-6.5z" fill="#ff4d0c"/><path d="M105 164h6.5v6.5h-6.5z" fill="#ff4a0b"/><path d="M111 164h6.5v6.5h-6.5z" fill="#ff4609"/><path d="M117 164h6.5v6.5h-6.5z" fill="#ff4307"/><path d="M123 164h6.5v6.5h-6.5z" fill="#ff3f06"/><path d="M129 164h6.5v6.5h-6.5z" fill="#ff3b04"/><path d="M135 164h6.5v6.5h-6.5z" fill="#ff3703"/><path d="M141 164h6.5v6.5h-6.5z" fill="#ff3403"/><path d="M147 164h6.5v6.5h-6.5z" fill="#ff3103"/><path d="M153 164h6.5v6.5h-6.5z" fill="#ff2f04"/><path d="M159 164h6.5v6.5h-6.5z" fill="#ff2d04"/><path d="M165 164h6.5v6.5h-6.5z" fill="#ff2c04"/><path d="M171 164h6.5v6.5h-6.5z" fill="#ff2a05"/><path d="M177 164h6.5v6.5h-6.5z" fill="#ff2707"/><path d="M183 164h6.5v6.5h-6.5z" fill="#ff2408"/><path d="M189 164h6.5v6.5h-6.5z" fill="#ff2109"/><path d="M195 164h6.5v6.5h-6.5z" fill="#ff1e0a"/><path d="M201 164h6.5v6.5h-6.5z" fill="#ff1b0b"/><path d="M207 164h6.5v6.5h-6.5z" fill="#ff180c"/><path d="M213 164h6.5v6.5h-6.5z" fill="#ff150d"/><path d="M219 164h6.5v6.5h-6.5z" fill="#ff130e"/><path d="M225 164h6.5v6.5h-6.5z" fill="#ff100f"/><path d="M231 164h6.5v6.5h-6.5z" fill="#ff0d10"/><path d="M237 164h6.5v6.5h-6.5z" fill="#ff0a12"/><path d="M243 164h6.5v6.5h-6.5z" fill="#ff0814"/><path d="M249 164h6.5v6.5h-6.5z" fill="#ff0717"/><path d="M255 164h6.5v6.5h-6.5z" fill="#ff051a"/><path d="M261 164h6.5v6.5h-6.5z" fill="#ff031d"/><path d="M267 164h6.5v6.5h-6.5z" fill="#ff0120"/><path d="M273 164h6.5v6.5h-6.5z" fill="#ff0023"/><path d="M279 164h6.5v6.5h-6.5z" fill="#ff0027"/><path d="M285 164h6.5v6.5h-6.5z" fill="#ff002a"/><path d="M291 164h6.5v6.5h-6.5z" fill="#ff002d"/><path d="M297 164h6.5v6.5h-6.5z" fill="#ff0030"/><path d="M303 164h6.5v6.5h-6.5z" fill="#ff0032"/><path d="M309 164h6.5v6.5h-6.5z" fill="#ff0034"/><path d="M315 164h6.5v6.5h-6.5z" fill="#ff0035"/><path d="M321 164h6.5v6.5h-6.5z" fill="#ff0036"/><path d="M327 164h6.5v6.5h-6.5z" fill="#ff0036"/><path d="M333 164h6.5v6.5h-6.5z" fill="#ff0035"/><path d="M339 164h6.5v6.5h-6.5z" fill="#ff0035"/><path d="M345 164h6.5v6.5h-6.5z" fill="#ff0034"/><path d="M351 164h6.5v6.5h-6.5z" fill="#ff0033"/><path d="M357 164h6.5v6.5h-6.5z" fill="#ff0031"/><path d="M363 164h6.5v6.5h-6.5z" fill="#ff0030"/><path d="M369 164h6.5v6.5h-6.5z" fill="#ff002f"/><path d="M375 164h6.5v6.5h-6.5z" fill="#ff002d"/><path d="M381 164h6.5v6.5h-6.5z" fill="#ff002c"/><path d="M387 164h6.5v6.5h-6.5z" fill="#ff002c"/><path d="M393 164h6.5v6.5h-6.5z" fill="#ff002c"/><path d="M399 164h6.5v6.5h-6.5z" fill="#ff002c"/><path d="M405 164h6.5v6.5h-6.5z" fill="#ff002c"/><path d="M411 164h6.5v6.5h-6.5z" fill="#ff002d"/><path d="M417 164h6.5v6.5h-6.5z" fill="#ff002e"/><path d="M423 164h6.5v6.5h-6.5z" fill="#ff002f"/><path d="M429 164h6.5v6.5h-6.5z" fill="#ff0030"/><path d="M435 164h6.5v6.5h-6.5z" fill="#ff0032"/><path d="M441 164h6.5v6.5h-6.5z" fill="#ff0033"/><path d="M447 164h6.5v6.5h-6.5z" fill="#ff0035"/><path d="M453 164h6.5v6.5h-6.5z" fill="#ff0036"/><path d="M459 164h6.5v6.5h-6.5z" fill="#ff0038"/><path d="M465 164h6.5v6.5h-6.5z" fill="#ff0039"/><path d="M471 164h6.5v6.5h-6.5z" fill="#ff003a"/><path d="M477 164h6.5v6.5h-6.5z" fill="#ff003b"/><path d="M483 164h6.5v6.5h-6.5z" fill="#ff003c"/><path d="M489 164h6.5v6.5h-6.5z" fill="#ff003d"/><path d="M495 164h6.5v6.5h-6.5z" fill="#ff003e"/><path d="M501 164h6.5v6.5h-6.5z" fill="#ff003f"/><path d="M507 164h6.5v6.5h-6.5z" fill="#ff0040"/><path d="M513 164h6.5v6.5h-6.5z" fill="#ff0040"/><path d="M519 164h6.5v6.5h-6.5z" fill="#ff0041"/><path d="M525 164h6.5v6.5h-6.5z" fill="#ff0042"/><path d="M531 164h6.5v6.5h-6.5z" fill="#ff0042"/><path d="M537 164h6.5v6.5h-6.5z" fill="#ff0042"/><path d="M543 164h6.5v6.5h-6.5z" fill="#ff0042"/><path d="M549 164h6.5v6.5h-6.5z" fill="#ff0042"/><path d="M555 164h6.5v6.5h-6.5z" fill="#ff0042"/><path d="M99 170h6.5v6.5h-6.5z" fill="#ff4310"/><path d="M105 170h6.5v6.5h-6.5z" fill="#ff400f"/><path d="M111 170h6.5v6.5h-6.5z" fill="#ff3c0d"/><path d="M117 170h6.5v6.5h-6.5z" fill="#ff380b"/><path d="M123 170h6.5v6.5h-6.5z" fill="#ff340a"/><path d="M129 170h6.5v6.5h-6.5z" fill="#ff3009"/><path d="M135 170h6.5v6.5h-6.5z" fill="#ff2c08"/><path d="M141 170h6.5v6.5h-6.5z" fill="#ff2908"/><path d="M147 170h6.5v6.5h-6.5z" fill="#ff2708"/><path d="M153 170h6.5v6.5h-6.5z" fill="#ff2609"/><path d="M159 170h6.5v6.5h-6.5z" fill="#ff2409"/><path d="M165 170h6.5v6.5h-6.5z" fill="#ff230a"/><path d="M171 170h6.5v6.5h-6.5z" fill="#ff210b"/><path d="M177 170h6.5v6.5h-6.5z" fill="#ff1f0c"/><path d="M183 170h6.5v6.5h-6.5z" fill="#ff1c0e"/><path d="M189 170h6.5v6.5h-6.5z" fill="#ff190f"/><path d="M195 170h6.5v6.5h-6.5z" fill="#ff1610"/><path d="M201 170h6.5v6.5h-6.5z" fill="#ff1411"/><path d="M207 170h6.5v6.5h-6.5z" fill="#ff1112"/><path d="M213 170h6.5v6.5h-6.5z" fill="#ff0f13"/><path d="M219 170h6.5v6.5h-6.5z" fill="#ff0c15"/><path d="M225 170h6.5v6.5h-6.5z" fill="#ff0a16"/><path d="M231 170h6.5v6.5h-6.5z" fill="#ff0817"/><path d="M237 170h6.5v6.5h-6.5z" fill="#ff0619"/><path d="M243 170h6.5v6.5h-6.5z" fill="#ff041b"/><path d="M249 170h6.5v6.5h-6.5z" fill="#ff031e"/><path d="M255 170h6.5v6.5h-6.5z" fill="#ff0221"/><path d="M261 170h6.5v6.5h-6.5z" fill="#ff0025"/><path d="M267 170h6.5v6.5h-6.5z" fill="#ff0028"/><path d="M273 170h6.5v6.5h-6.5z" fill="#ff002c"/><path d="M279 170h6.5v6.5h-6.5z" fill="#ff002f"/><path d="M285 170h6.5v6.5h-6.5z" fill="#ff0032"/><path d="M291 170h6.5v6.5h-6.5z" fill="#ff0035"/><path d="M297 170h6.5v6.5h-6.5z" fill="#ff0038"/><path d="M303 170h6.5v6.5h-6.5z" fill="#ff003a"/><path d="M309 170h6.5v6.5h-6.5z" fill="#ff003c"/><path d="M315 170h6.5v6.5h-6.5z" fill="#ff003d"/><path d="M321 170h6.5v6.5h-6.5z" fill="#ff003e"/><path d="M327 170h6.5v6.5h-6.5z" fill="#ff003e"/><path d="M333 170h6.5v6.5h-6.5z" fill="#ff003d"/><path d="M339 170h6.5v6.5h-6.5z" fill="#ff003d"/><path d="M345 170h6.5v6.5h-6.5z" fill="#ff003c"/><path d="M351 170h6.5v6.5h-6.5z" fill="#ff003b"/><path d="M357 170h6.5v6.5h-6.5z" fill="#ff0039"/><path d="M363 170h6.5v6.5h-6.5z" fill="#ff0038"/><path d="M369 170h6.5v6.5h-6.5z" fill="#ff0036"/><path d="M375 170h6.5v6.5h-6.5z" fill="#ff0034"/><path d="M381 170h6.5v6.5h-6.5z" fill="#ff0033"/><path d="M387 170h6.5v6.5h-6.5z" fill="#ff0032"/><path d="M393 170h6.5v6.5h-6.5z" fill="#ff0032"/><path d="M399 170h6.5v6.5h-6.5z" fill="#ff0031"/><path d="M405 170h6.5v6.5h-6.5z" fill="#ff0031"/><path d="M411 170h6.5v6.5h-6.5z" fill="#ff0031"/><path d="M417 170h6.5v6.5h-6.5z" fill="#ff0031"/><path d="M423 170h6.5v6.5h-6.5z" fill="#ff0032"/><path d="M429 170h6.5v6.5h-6.5z" fill="#ff0033"/><path d="M435 170h6.5v6.5h-6.5z" fill="#ff0034"/><path d="M441 170h6.5v6.5h-6.5z" fill="#ff0035"/><path d="M447 170h6.5v6.5h-6.5z" fill="#ff0036"/><path d="M453 170h6.5v6.5h-6.5z" fill="#ff0037"/><path d="M459 170h6.5v6.5h-6.5z" fill="#ff0038"/><path d="M465 170h6.5v6.5h-6.5z" fill="#ff0039"/><path d="M471 170h6.5v6.5h-6.5z" fill="#ff003a"/><path d="M477 170h6.5v6.5h-6.5z" fill="#ff003b"/><path d="M483 170h6.5v6.5h-6.5z" fill="#ff003c"/><path d="M489 170h6.5v6.5h-6.5z" fill="#ff003d"/><path d="M495 170h6.5v6.5h-6.5z" fill="#ff003e"/><path d="M501 170h6.5v6.5h-6.5z" fill="#ff003f"/><path d="M507 170h6.5v6.5h-6.5z" fill="#ff0040"/><path d="M513 170h6.5v6.5h-6.5z" fill="#ff0040"/><path d="M519 170h6.5v6.5h-6.5z" fill="#ff0041"/><path d="M525 170h6.5v6.5h-6.5z" fill="#ff0042"/><path d="M531 170h6.5v6.5h-6.5z" fill="#ff0042"/><path d="M537 170h6.5v6.5h-6.5z" fill="#ff0042"/><path d="M543 170h6.5v6.5h-6.5z" fill="#ff0042"/><path d="M549 170h6.5v6.5h-6.5z" fill="#ff0042"/><path d="M555 170h6.5v6.5h-6.5z" fill="#ff0042"/><path d="M99 176h6.5v6.5h-6.5z" fill="#ff3a15"/><path d="M105 176h6.5v6.5h-6.5z" fill="#ff3614"/><path d="M111 176h6.5v6.5h-6.5z" fill="#ff3212"/><path d="M117 176h6.5v6.5h-6.5z" fill="#ff2d11"/><path d="M123 176h6.5v6.5h-6.5z" fill="#ff290f"/><path d="M129 176h6.5v6.5h-6.5z" fill="#ff250e"/><path d="M135 176h6.5v6.5h-6.5z" fill="#ff220e"/><path d="M141 176h6.5v6.5h-6.5z" fill="#ff1f0e"/><path d="M147 176h6.5v6.5h-6.5z" fill="#ff1e0f"/><path d="M153 176h6.5v6.5h-6.5z" fill="#ff1c0f"/><path d="M159 176h6.5v6.5h-6.5z" fill="#ff1b10"/><path d="M165 176h6.5v6.5h-6.5z" fill="#ff1a11"/><path d="M171 176h6.5v6.5h-6.5z" fill="#ff1812"/><path d="M177 176h6.5v6.5h-6.5z" fill="#ff1713"/><path d="M183 176h6.5v6.5h-6.5z" fill="#ff1515"/><path d="M189 176h6.5v6.5h-6.5z" fill="#ff1216"/><path d="M195 176h6.5v6.5h-6.5z" fill="#ff1017"/><path d="M201 176h6.5v6.5h-6.5z" fill="#ff0d19"/><path d="M207 176h6.5v6.5h-6.5z" fill="#ff0b1a"/><path d="M213 176h6.5v6.5h-6.5z" fill="#ff091b"/><path d="M219 176h6.5v6.5h-6.5z" fill="#ff071c"/><path d="M225 176h6.5v6.5h-6.5z" fill="#ff061d"/><path d="M231 176h6.5v6.5h-6.5z" fill="#ff041f"/><path d="M237 176h6.5v6.5h-6.5z" fill="#ff0321"/><path d="M243 176h6.5v6.5h-6.5z" fill="#ff0223"/><path d="M249 176h6.5v6.5h-6.5z" fill="#ff0126"/><path d="M255 176h6.5v6.5h-6.5z" fill="#ff0029"/><path d="M261 176h6.5v6.5h-6.5z" fill="#ff002d"/><path d="M267 176h6.5v6.5h-6.5z" fill="#ff0030"/><path d="M273 176h6.5v6.5h-6.5z" fill="#ff0034"/><path d="M279 176h6.5v6.5h-6.5z" fill="#ff0037"/><path d="M285 176h6.5v6.5h-6.5z" fill="#ff003a"/><path d="M291 176h6.5v6.5h-6.5z" fill="#ff003d"/><path d="M297 176h6.5v6.5h-6.5z" fill="#ff003f"/><path d="M303 176h6.5v6.5h-6.5z" fill="#ff0042"/><path d="M309 176h6.5v6.5h-6.5z" fill="#ff0044"/><path d="M315 176h6.5v6.5h-6.5z" fill="#ff0045"/><path d="M321 176h6.5v6.5h-6.5z" fill="#ff0045"/><path d="M327 176h6.5v6.5h-6.5z" fill="#ff0045"/><path d="M333 176h6.5v6.5h-6.5z" fill="#ff0045"/><path d="M339 176h6.5v6.5h-6.5z" fill="#ff0044"/><path d="M345 176h6.5v6.5h-6.5z" fill="#ff0043"/><path d="M351 176h6.5v6.5h-6.5z" fill="#ff0042"/><path d="M357 176h6.5v6.5h-6.5z" fill="#ff0040"/><path d="M363 176h6.5v6.5h-6.5z" fill="#ff003f"/><path d="M369 176h6.5v6.5h-6.5z" fill="#ff003d"/><path d="M375 176h6.5v6.5h-6.5z" fill="#ff003b"/><path d="M381 176h6.5v6.5h-6.5z" fill="#ff003a"/><path d="M387 176h6.5v6.5h-6.5z" fill="#ff0038"/><path d="M393 176h6.5v6.5h-6.5z" fill="#ff0037"/><path d="M399 176h6.5v6.5h-6.5z" fill="#ff0036"/><path d="M405 176h6.5v6.5h-6.5z" fill="#ff0035"/><path d="M411 176h6.5v6.5h-6.5z" fill="#ff0035"/><path d="M417 176h6.5v6.5h-6.5z" fill="#ff0035"/><path d="M423 176h6.5v6.5h-6.5z" fill="#ff0035"/><path d="M429 176h6.5v6.5h-6.5z" fill="#ff0036"/><path d="M435 176h6.5v6.5h-6.5z" fill="#ff0036"/><path d="M441 176h6.5v6.5h-6.5z" fill="#ff0037"/><path d="M447 176h6.5v6.5h-6.5z" fill="#ff0037"/><path d="M453 176h6.5v6.5h-6.5z" fill="#ff0038"/><path d="M459 176h6.5v6.5h-6.5z" fill="#ff0039"/><path d="M465 176h6.5v6.5h-6.5z" fill="#ff003a"/><path d="M471 176h6.5v6.5h-6.5z" fill="#ff003a"/><path d="M477 176h6.5v6.5h-6.5z" fill="#ff003b"/><path d="M483 176h6.5v6.5h-6.5z" fill="#ff003c"/><path d="M489 176h6.5v6.5h-6.5z" fill="#ff003d"/><path d="M495 176h6.5v6.5h-6.5z" fill="#ff003e"/><path d="M501 176h6.5v6.5h-6.5z" fill="#ff003f"/><path d="M507 176h6.5v6.5h-6.5z" fill="#ff0040"/><path d="M513 176h6.5v6.5h-6.5z" fill="#ff0040"/><path d="M519 176h6.5v6.5h-6.5z" fill="#ff0041"/><path d="M525 176h6.5v6.5h-6.5z" fill="#ff0042"/><path d="M531 176h6.5v6.5h-6.5z" fill="#ff0042"/><path d="M537 176h6.5v6.5h-6.5z" fill="#ff0042"/><path d="M543 176h6.5v6.5h-6.5z" fill="#ff0042"/><path d="M549 176h6.5v6.5h-6.5z" fill="#ff0042"/><path d="M555 176h6.5v6.5h-6.5z" fill="#ff0041"/><path d="M99 182h6.5v6.5h-6.5z" fill="#ff311b"/><path d="M105 182h6.5v6.5h-6.5z" fill="#ff2d1a"/><path d="M111 182h6.5v6.5h-6.5z" fill="#ff2819"/><path d="M117 182h6.5v6.5h-6.5z" fill="#ff2317"/><path d="M123 182h6.5v6.5h-6.5z" fill="#ff1f16"/><path d="M129 182h6.5v6.5h-6.5z" fill="#ff1b15"/><path d="M135 182h6.5v6.5h-6.5z" fill="#ff1815"/><path d="M141 182h6.5v6.5h-6.5z" fill="#ff1616"/><path d="M147 182h6.5v6.5h-6.5z" fill="#ff1517"/><path d="M153 182h6.5v6.5h-6.5z" fill="#ff1418"/><path d="M159 182h6.5v6.5h-6.5z" fill="#ff1318"/><path d="M165 182h6.5v6.5h-6.5z" fill="#ff1219"/><path d="M171 182h6.5v6.5h-6.5z" fill="#ff111b"/><path d="M177 182h6.5v6.5h-6.5z" fill="#ff101c"/><path d="M183 182h6.5v6.5h-6.5z" fill="#ff0e1e"/><path d="M189 182h6.5v6.5h-6.5z" fill="#ff0c1f"/><path d="M195 182h6.5v6.5h-6.5z" fill="#ff0a20"/><path d="M201 182h6.5v6.5h-6.5z" fill="#ff0821"/><path d="M207 182h6.5v6.5h-6.5z" fill="#ff0622"/><path d="M213 182h6.5v6.5h-6.5z" fill="#ff0523"/><path d="M219 182h6.5v6.5h-6.5z" fill="#ff0425"/><path d="M225 182h6.5v6.5h-6.5z" fill="#ff0326"/><path d="M231 182h6.5v6.5h-6.5z" fill="#ff0227"/><path d="M237 182h6.5v6.5h-6.5z" fill="#ff0129"/><path d="M243 182h6.5v6.5h-6.5z" fill="#ff002b"/><path d="M249 182h6.5v6.5h-6.5z" fill="#ff002e"/><path d="M255 182h6.5v6.5h-6.5z" fill="#ff0031"/><path d="M261 182h6.5v6.5h-6.5z" fill="#ff0035"/><path d="M267 182h6.5v6.5h-6.5z" fill="#ff0038"/><path d="M273 182h6.5v6.5h-6.5z" fill="#ff003b"/><path d="M279 182h6.5v6.5h-6.5z" fill="#ff003e"/><path d="M285 182h6.5v6.5h-6.5z" fill="#ff0041"/><path d="M291 182h6.5v6.5h-6.5z" fill="#ff0044"/><path d="M297 182h6.5v6.5h-6.5z" fill="#ff0046"/><path d="M303 182h6.5v6.5h-6.5z" fill="#ff0048"/><path d="M309 182h6.5v6.5h-6.5z" fill="#ff004a"/><path d="M315 182h6.5v6.5h-6.5z" fill="#ff004b"/><path d="M321 182h6.5v6.5h-6.5z" fill="#ff004b"/><path d="M327 182h6.5v6.5h-6.5z" fill="#ff004b"/><path d="M333 182h6.5v6.5h-6.5z" fill="#ff004b"/><path d="M339 182h6.5v6.5h-6.5z" fill="#ff004b"/><path d="M345 182h6.5v6.5h-6.5z" fill="#ff004a"/><path d="M351 182h6.5v6.5h-6.5z" fill="#ff0048"/><path d="M357 182h6.5v6.5h-6.5z" fill="#ff0047"/><path d="M363 182h6.5v6.5h-6.5z" fill="#ff0045"/><path d="M369 182h6.5v6.5h-6.5z" fill="#ff0043"/><path d="M375 182h6.5v6.5h-6.5z" fill="#ff0041"/><path d="M381 182h6.5v6.5h-6.5z" fill="#ff0040"/><path d="M387 182h6.5v6.5h-6.5z" fill="#ff003e"/><path d="M393 182h6.5v6.5h-6.5z" fill="#ff003c"/><path d="M399 182h6.5v6.5h-6.5z" fill="#ff003b"/><path d="M405 182h6.5v6.5h-6.5z" fill="#ff003a"/><path d="M411 182h6.5v6.5h-6.5z" fill="#ff0039"/><path d="M417 182h6.5v6.5h-6.5z" fill="#ff0038"/><path d="M423 182h6.5v6.5h-6.5z" fill="#ff0038"/><path d="M429 182h6.5v6.5h-6.5z" fill="#ff0038"/><path d="M435 182h6.5v6.5h-6.5z" fill="#ff0038"/><path d="M441 182h6.5v6.5h-6.5z" fill="#ff0038"/><path d="M447 182h6.5v6.5h-6.5z" fill="#ff0039"/><path d="M453 182h6.5v6.5h-6.5z" fill="#ff0039"/><path d="M459 182h6.5v6.5h-6.5z" fill="#ff0039"/><path d="M465 182h6.5v6.5h-6.5z" fill="#ff003a"/><path d="M471 182h6.5v6.5h-6.5z" fill="#ff003b"/><path d="M477 182h6.5v6.5h-6.5z" fill="#ff003b"/><path d="M483 182h6.5v6.5h-6.5z" fill="#ff003c"/><path d="M489 182h6.5v6.5h-6.5z" fill="#ff003c"/><path d="M495 182h6.5v6.5h-6.5z" fill="#ff003d"/><path d="M501 182h6.5v6.5h-6.5z" fill="#ff003e"/><path d="M507 182h6.5v6.5h-6.5z" fill="#ff003f"/><path d="M513 182h6.5v6.5h-6.5z" fill="#ff0040"/><path d="M519 182h6.5v6.5h-6.5z" fill="#ff0041"/><path d="M525 182h6.5v6.5h-6.5z" fill="#ff0041"/><path d="M531 182h6.5v6.5h-6.5z" fill="#ff0042"/><path d="M537 182h6.5v6.5h-6.5z" fill="#ff0042"/><path d="M543 182h6.5v6.5h-6.5z" fill="#ff0042"/><path d="M549 182h6.5v6.5h-6.5z" fill="#ff0041"/><path d="M555 182h6.5v6.5h-6.5z" fill="#ff0041"/><path d="M99 188h6.5v6.5h-6.5z" fill="#ff2921"/><path d="M105 188h6.5v6.5h-6.5z" fill="#ff2520"/><path d="M111 188h6.5v6.5h-6.5z" fill="#ff2020"/><path d="M117 188h6.5v6.5h-6.5z" fill="#ff1b1f"/><path d="M123 188h6.5v6.5h-6.5z" fill="#ff161e"/><path d="M129 188h6.5v6.5h-6.5z" fill="#ff121e"/><path d="M135 188h6.5v6.5h-6.5z" fill="#ff0f1e"/><path d="M141 188h6.5v6.5h-6.5z" fill="#ff0e1f"/><path d="M147 188h6.5v6.5h-6.5z" fill="#ff0d20"/><path d="M153 188h6.5v6.5h-6.5z" fill="#ff0d21"/><path d="M159 188h6.5v6.5h-6.5z" fill="#ff0c22"/><path d="M165 188h6.5v6.5h-6.5z" fill="#ff0b23"/><path d="M171 188h6.5v6.5h-6.5z" fill="#ff0b25"/><path d="M177 188h6.5v6.5h-6.5z" fill="#ff0a26"/><path d="M183 188h6.5v6.5h-6.5z" fill="#ff0928"/><path d="M189 188h6.5v6.5h-6.5z" fill="#ff0729"/><path d="M195 188h6.5v6.5h-6.5z" fill="#ff062a"/><path d="M201 188h6.5v6.5h-6.5z" fill="#ff042b"/><path d="M207 188h6.5v6.5h-6.5z" fill="#ff032c"/><path d="M213 188h6.5v6.5h-6.5z" fill="#ff022d"/><path d="M219 188h6.5v6.5h-6.5z" fill="#ff012e"/><path d="M225 188h6.5v6.5h-6.5z" fill="#ff012f"/><path d="M231 188h6.5v6.5h-6.5z" fill="#ff0130"/><path d="M237 188h6.5v6.5h-6.5z" fill="#ff0032"/><path d="M243 188h6.5v6.5h-6.5z" fill="#ff0034"/><path d="M249 188h6.5v6.5h-6.5z" fill="#ff0036"/><path d="M255 188h6.5v6.5h-6.5z" fill="#ff0039"/><path d="M261 188h6.5v6.5h-6.5z" fill="#ff003c"/><path d="M267 188h6.5v6.5h-6.5z" fill="#ff003f"/><path d="M273 188h6.5v6.5h-6.5z" fill="#ff0042"/><path d="M279 188h6.5v6.5h-6.5z" fill="#ff0045"/><path d="M285 188h6.5v6.5h-6.5z" fill="#ff0047"/><path d="M291 188h6.5v6.5h-6.5z" fill="#ff0049"/><path d="M297 188h6.5v6.5h-6.5z" fill="#ff004b"/><path d="M303 188h6.5v6.5h-6.5z" fill="#ff004d"/><path d="M309 188h6.5v6.5h-6.5z" fill="#ff004f"/><path d="M315 188h6.5v6.5h-6.5z" fill="#ff0050"/><path d="M321 188h6.5v6.5h-6.5z" fill="#ff0050"/><path d="M327 188h6.5v6.5h-6.5z" fill="#ff0050"/><path d="M333 188h6.5v6.5h-6.5z" fill="#ff0050"/><path d="M339 188h6.5v6.5h-6.5z" fill="#ff0050"/><path d="M345 188h6.5v6.5h-6.5z" fill="#ff004f"/><path d="M351 188h6.5v6.5h-6.5z" fill="#ff004e"/><path d="M357 188h6.5v6.5h-6.5z" fill="#ff004c"/><path d="M363 188h6.5v6.5h-6.5z" fill="#ff004a"/><path d="M369 188h6.5v6.5h-6.5z" fill="#ff0048"/><path d="M375 188h6.5v6.5h-6.5z" fill="#ff0047"/><path d="M381 188h6.5v6.5h-6.5z" fill="#ff0045"/><path d="M387 188h6.5v6.5h-6.5z" fill="#ff0043"/><path d="M393 188h6.5v6.5h-6.5z" fill="#ff0041"/><path d="M399 188h6.5v6.5h-6.5z" fill="#ff003f"/><path d="M405 188h6.5v6.5h-6.5z" fill="#ff003d"/><path d="M411 188h6.5v6.5h-6.5z" fill="#ff003c"/><path d="M417 188h6.5v6.5h-6.5z" fill="#ff003b"/><path d="M423 188h6.5v6.5h-6.5z" fill="#ff003b"/><path d="M429 188h6.5v6.5h-6.5z" fill="#ff003a"/><path d="M435 188h6.5v6.5h-6.5z" fill="#ff003a"/><path d="M441 188h6.5v6.5h-6.5z" fill="#ff003a"/><path d="M447 188h6.5v6.5h-6.5z" fill="#ff003a"/><path d="M453 188h6.5v6.5h-6.5z" fill="#ff003a"/><path d="M459 188h6.5v6.5h-6.5z" fill="#ff003a"/><path d="M465 188h6.5v6.5h-6.5z" fill="#ff003b"/><path d="M471 188h6.5v6.5h-6.5z" fill="#ff003b"/><path d="M477 188h6.5v6.5h-6.5z" fill="#ff003b"/><path d="M483 188h6.5v6.5h-6.5z" fill="#ff003c"/><path d="M489 188h6.5v6.5h-6.5z" fill="#ff003c"/><path d="M495 188h6.5v6.5h-6.5z" fill="#ff003d"/><path d="M501 188h6.5v6.5h-6.5z" fill="#ff003e"/><path d="M507 188h6.5v6.5h-6.5z" fill="#ff003f"/><path d="M513 188h6.5v6.5h-6.5z" fill="#ff0040"/><path d="M519 188h6.5v6.5h-6.5z" fill="#ff0041"/><path d="M525 188h6.5v6.5h-6.5z" fill="#ff0041"/><path d="M531 188h6.5v6.5h-6.5z" fill="#ff0041"/><path d="M537 188h6.5v6.5h-6.5z" fill="#ff0041"/><path d="M543 188h6.5v6.5h-6.5z" fill="#ff0041"/><path d="M549 188h6.5v6.5h-6.5z" fill="#ff0041"/><path d="M555 188h6.5v6.5h-6.5z" fill="#ff0041"/><path d="M99 194h6.5v6.5h-6.5z" fill="#ff2228"/><path d="M105 194h6.5v6.5h-6.5z" fill="#ff1e28"/><path d="M111 194h6.5v6.5h-6.5z" fill="#ff1928"/><path d="M117 194h6.5v6.5h-6.5z" fill="#ff1428"/><path d="M123 194h6.5v6.5h-6.5z" fill="#ff1028"/><path d="M129 194h6.5v6.5h-6.5z" fill="#ff0c28"/><path d="M135 194h6.5v6.5h-6.5z" fill="#ff0929"/><path d="M141 194h6.5v6.5h-6.5z" fill="#ff082a"/><path d="M147 194h6.5v6.5h-6.5z" fill="#ff082b"/><path d="M153 194h6.5v6.5h-6.5z" fill="#ff072d"/><path d="M159 194h6.5v6.5h-6.5z" fill="#ff072e"/><path d="M165 194h6.5v6.5h-6.5z" fill="#ff072f"/><path d="M171 194h6.5v6.5h-6.5z" fill="#ff0630"/><path d="M177 194h6.5v6.5h-6.5z" fill="#ff0631"/><path d="M183 194h6.5v6.5h-6.5z" fill="#ff0533"/><path d="M189 194h6.5v6.5h-6.5z" fill="#ff0434"/><path d="M195 194h6.5v6.5h-6.5z" fill="#ff0334"/><path d="M201 194h6.5v6.5h-6.5z" fill="#ff0135"/><path d="M207 194h6.5v6.5h-6.5z" fill="#ff0136"/><path d="M213 194h6.5v6.5h-6.5z" fill="#ff0037"/><path d="M219 194h6.5v6.5h-6.5z" fill="#ff0038"/><path d="M225 194h6.5v6.5h-6.5z" fill="#ff0038"/><path d="M231 194h6.5v6.5h-6.5z" fill="#ff0039"/><path d="M237 194h6.5v6.5h-6.5z" fill="#ff003b"/><path d="M243 194h6.5v6.5h-6.5z" fill="#ff003c"/><path d="M249 194h6.5v6.5h-6.5z" fill="#ff003e"/><path d="M255 194h6.5v6.5h-6.5z" fill="#ff0041"/><path d="M261 194h6.5v6.5h-6.5z" fill="#ff0043"/><path d="M267 194h6.5v6.5h-6.5z" fill="#ff0046"/><path d="M273 194h6.5v6.5h-6.5z" fill="#ff0048"/><path d="M279 194h6.5v6.5h-6.5z" fill="#ff004a"/><path d="M285 194h6.5v6.5h-6.5z" fill="#ff004b"/><path d="M291 194h6.5v6.5h-6.5z" fill="#ff004d"/><path d="M297 194h6.5v6.5h-6.5z" fill="#ff004f"/><path d="M303 194h6.5v6.5h-6.5z" fill="#ff0051"/><path d="M309 194h6.5v6.5h-6.5z" fill="#ff0052"/><path d="M315 194h6.5v6.5h-6.5z" fill="#ff0053"/><path d="M321 194h6.5v6.5h-6.5z" fill="#ff0053"/><path d="M327 194h6.5v6.5h-6.5z" fill="#ff0053"/><path d="M333 194h6.5v6.5h-6.5z" fill="#ff0053"/><path d="M339 194h6.5v6.5h-6.5z" fill="#ff0053"/><path d="M345 194h6.5v6.5h-6.5z" fill="#ff0053"/><path d="M351 194h6.5v6.5h-6.5z" fill="#ff0051"/><path d="M357 194h6.5v6.5h-6.5z" fill="#ff0050"/><path d="M363 194h6.5v6.5h-6.5z" fill="#ff004e"/><path d="M369 194h6.5v6.5h-6.5z" fill="#ff004c"/><path d="M375 194h6.5v6.5h-6.5z" fill="#ff004b"/><path d="M381 194h6.5v6.5h-6.5z" fill="#ff0049"/><path d="M387 194h6.5v6.5h-6.5z" fill="#ff0047"/><path d="M393 194h6.5v6.5h-6.5z" fill="#ff0044"/><path d="M399 194h6.5v6.5h-6.5z" fill="#ff0042"/><path d="M405 194h6.5v6.5h-6.5z" fill="#ff0041"/><path d="M411 194h6.5v6.5h-6.5z" fill="#ff003f"/><path d="M417 194h6.5v6.5h-6.5z" fill="#ff003e"/><path d="M423 194h6.5v6.5h-6.5z" fill="#ff003d"/><path d="M429 194h6.5v6.5h-6.5z" fill="#ff003c"/><path d="M435 194h6.5v6.5h-6.5z" fill="#ff003c"/><path d="M441 194h6.5v6.5h-6.5z" fill="#ff003b"/><path d="M447 194h6.5v6.5h-6.5z" fill="#ff003b"/><path d="M453 194h6.5v6.5h-6.5z" fill="#ff003b"/><path d="M459 194h6.5v6.5h-6.5z" fill="#ff003b"/><path d="M465 194h6.5v6.5h-6.5z" fill="#ff003b"/><path d="M471 194h6.5v6.5h-6.5z" fill="#ff003c"/><path d="M477 194h6.5v6.5h-6.5z" fill="#ff003c"/><path d="M483 194h6.5v6.5h-6.5z" fill="#ff003c"/><path d="M489 194h6.5v6.5h-6.5z" fill="#ff003d"/><path d="M495 194h6.5v6.5h-6.5z" fill="#ff003e"/><path d="M501 194h6.5v6.5h-6.5z" fill="#ff003e"/><path d="M507 194h6.5v6.5h-6.5z" fill="#ff003f"/><path d="M513 194h6.5v6.5h-6.5z" fill="#ff0040"/><path d="M519 194h6.5v6.5h-6.5z" fill="#ff0040"/><path d="M525 194h6.5v6.5h-6.5z" fill="#ff0041"/><path d="M531 194h6.5v6.5h-6.5z" fill="#ff0041"/><path d="M537 194h6.5v6.5h-6.5z" fill="#ff0041"/><path d="M543 194h6.5v6.5h-6.5z" fill="#ff0041"/><path d="M549 194h6.5v6.5h-6.5z" fill="#ff0041"/><path d="M555 194h6.5v6.5h-6.5z" fill="#ff0040"/><path d="M99 200h6.5v6.5h-6.5z" fill="#ff1c2f"/><path d="M105 200h6.5v6.5h-6.5z" fill="#ff1830"/><path d="M111 200h6.5v6.5h-6.5z" fill="#ff1331"/><path d="M117 200h6.5v6.5h-6.5z" fill="#ff0f32"/><path d="M123 200h6.5v6.5h-6.5z" fill="#ff0b33"/><path d="M129 200h6.5v6.5h-6.5z" fill="#ff0833"/><path d="M135 200h6.5v6.5h-6.5z" fill="#ff0535"/><path d="M141 200h6.5v6.5h-6.5z" fill="#ff0436"/><path d="M147 200h6.5v6.5h-6.5z" fill="#ff0437"/><path d="M153 200h6.5v6.5h-6.5z" fill="#ff0439"/><path d="M159 200h6.5v6.5h-6.5z" fill="#ff033a"/><path d="M165 200h6.5v6.5h-6.5z" fill="#ff033b"/><path d="M171 200h6.5v6.5h-6.5z" fill="#ff033c"/><path d="M177 200h6.5v6.5h-6.5z" fill="#ff033d"/><path d="M183 200h6.5v6.5h-6.5z" fill="#ff023e"/><path d="M189 200h6.5v6.5h-6.5z" fill="#ff023f"/><path d="M195 200h6.5v6.5h-6.5z" fill="#ff0140"/><path d="M201 200h6.5v6.5h-6.5z" fill="#ff0040"/><path d="M207 200h6.5v6.5h-6.5z" fill="#ff0041"/><path d="M213 200h6.5v6.5h-6.5z" fill="#ff0041"/><path d="M219 200h6.5v6.5h-6.5z" fill="#ff0041"/><path d="M225 200h6.5v6.5h-6.5z" fill="#ff0042"/><path d="M231 200h6.5v6.5h-6.5z" fill="#ff0043"/><path d="M237 200h6.5v6.5h-6.5z" fill="#ff0043"/><path d="M243 200h6.5v6.5h-6.5z" fill="#ff0044"/><path d="M249 200h6.5v6.5h-6.5z" fill="#ff0046"/><path d="M255 200h6.5v6.5h-6.5z" fill="#ff0047"/><path d="M261 200h6.5v6.5h-6.5z" fill="#ff0049"/><path d="M267 200h6.5v6.5h-6.5z" fill="#ff004b"/><path d="M273 200h6.5v6.5h-6.5z" fill="#ff004c"/><path d="M279 200h6.5v6.5h-6.5z" fill="#ff014e"/><path d="M285 200h6.5v6.5h-6.5z" fill="#ff004f"/><path d="M291 200h6.5v6.5h-6.5z" fill="#ff0050"/><path d="M297 200h6.5v6.5h-6.5z" fill="#ff0051"/><path d="M303 200h6.5v6.5h-6.5z" fill="#ff0152"/><path d="M309 200h6.5v6.5h-6.5z" fill="#ff0153"/><path d="M315 200h6.5v6.5h-6.5z" fill="#ff0154"/><path d="M321 200h6.5v6.5h-6.5z" fill="#ff0154"/><path d="M327 200h6.5v6.5h-6.5z" fill="#ff0055"/><path d="M333 200h6.5v6.5h-6.5z" fill="#ff0055"/><path d="M339 200h6.5v6.5h-6.5z" fill="#ff0055"/><path d="M345 200h6.5v6.5h-6.5z" fill="#ff0055"/><path d="M351 200h6.5v6.5h-6.5z" fill="#ff0054"/><path d="M357 200h6.5v6.5h-6.5z" fill="#ff0052"/><path d="M363 200h6.5v6.5h-6.5z" fill="#ff0051"/><path d="M369 200h6.5v6.5h-6.5z" fill="#ff004f"/><path d="M375 200h6.5v6.5h-6.5z" fill="#ff004d"/><path d="M381 200h6.5v6.5h-6.5z" fill="#ff004c"/><path d="M387 200h6.5v6.5h-6.5z" fill="#ff0049"/><path d="M393 200h6.5v6.5h-6.5z" fill="#ff0047"/><path d="M399 200h6.5v6.5h-6.5z" fill="#ff0045"/><path d="M405 200h6.5v6.5h-6.5z" fill="#ff0043"/><path d="M411 200h6.5v6.5h-6.5z" fill="#ff0042"/><path d="M417 200h6.5v6.5h-6.5z" fill="#ff0040"/><path d="M423 200h6.5v6.5h-6.5z" fill="#ff003f"/><path d="M429 200h6.5v6.5h-6.5z" fill="#ff003e"/><path d="M435 200h6.5v6.5h-6.5z" fill="#ff003d"/><path d="M441 200h6.5v6.5h-6.5z" fill="#ff003d"/><path d="M447 200h6.5v6.5h-6.5z" fill="#ff003c"/><path d="M453 200h6.5v6.5h-6.5z" fill="#ff003c"/><path d="M459 200h6.5v6.5h-6.5z" fill="#ff003c"/><path d="M465 200h6.5v6.5h-6.5z" fill="#ff003d"/><path d="M471 200h6.5v6.5h-6.5z" fill="#ff003d"/><path d="M477 200h6.5v6.5h-6.5z" fill="#ff003d"/><path d="M483 200h6.5v6.5h-6.5z" fill="#ff003d"/><path d="M489 200h6.5v6.5h-6.5z" fill="#ff003e"/><path d="M495 200h6.5v6.5h-6.5z" fill="#ff003e"/><path d="M501 200h6.5v6.5h-6.5z" fill="#ff003f"/><path d="M507 200h6.5v6.5h-6.5z" fill="#ff003f"/><path d="M513 200h6.5v6.5h-6.5z" fill="#ff0040"/><path d="M519 200h6.5v6.5h-6.5z" fill="#ff0040"/><path d="M525 200h6.5v6.5h-6.5z" fill="#ff0040"/><path d="M531 200h6.5v6.5h-6.5z" fill="#ff0040"/><path d="M537 200h6.5v6.5h-6.5z" fill="#ff0040"/><path d="M543 200h6.5v6.5h-6.5z" fill="#ff0040"/><path d="M549 200h6.5v6.5h-6.5z" fill="#ff0040"/><path d="M555 200h6.5v6.5h-6.5z" fill="#ff0040"/><path d="M99 206h6.5v6.5h-6.5z" fill="#ff1836"/><path d="M105 206h6.5v6.5h-6.5z" fill="#ff1338"/><path d="M111 206h6.5v6.5h-6.5z" fill="#ff0f3a"/><path d="M117 206h6.5v6.5h-6.5z" fill="#ff0b3b"/><path d="M123 206h6.5v6.5h-6.5z" fill="#ff083d"/><path d="M129 206h6.5v6.5h-6.5z" fill="#ff053f"/><path d="M135 206h6.5v6.5h-6.5z" fill="#ff0341"/><path d="M141 206h6.5v6.5h-6.5z" fill="#ff0242"/><path d="M147 206h6.5v6.5h-6.5z" fill="#ff0144"/><path d="M153 206h6.5v6.5h-6.5z" fill="#ff0145"/><path d="M159 206h6.5v6.5h-6.5z" fill="#ff0146"/><path d="M165 206h6.5v6.5h-6.5z" fill="#ff0148"/><path d="M171 206h6.5v6.5h-6.5z" fill="#ff0148"/><path d="M177 206h6.5v6.5h-6.5z" fill="#ff0149"/><path d="M183 206h6.5v6.5h-6.5z" fill="#ff014a"/><path d="M189 206h6.5v6.5h-6.5z" fill="#ff004a"/><path d="M195 206h6.5v6.5h-6.5z" fill="#ff004b"/><path d="M201 206h6.5v6.5h-6.5z" fill="#ff004b"/><path d="M207 206h6.5v6.5h-6.5z" fill="#ff004b"/><path d="M213 206h6.5v6.5h-6.5z" fill="#ff004b"/><path d="M219 206h6.5v6.5h-6.5z" fill="#ff004b"/><path d="M225 206h6.5v6.5h-6.5z" fill="#ff004b"/><path d="M231 206h6.5v6.5h-6.5z" fill="#ff004b"/><path d="M237 206h6.5v6.5h-6.5z" fill="#ff004b"/><path d="M243 206h6.5v6.5h-6.5z" fill="#ff004c"/><path d="M249 206h6.5v6.5h-6.5z" fill="#ff004c"/><path d="M255 206h6.5v6.5h-6.5z" fill="#ff004d"/><path d="M261 206h6.5v6.5h-6.5z" fill="#ff004e"/><path d="M267 206h6.5v6.5h-6.5z" fill="#ff004f"/><path d="M273 206h6.5v6.5h-6.5z" fill="#ff0050"/><path d="M279 206h6.5v6.5h-6.5z" fill="#ff0150"/><path d="M285 206h6.5v6.5h-6.5z" fill="#ff0151"/><path d="M291 206h6.5v6.5h-6.5z" fill="#ff0151"/><path d="M297 206h6.5v6.5h-6.5z" fill="#ff0152"/><path d="M303 206h6.5v6.5h-6.5z" fill="#ff0152"/><path d="M309 206h6.5v6.5h-6.5z" fill="#ff0153"/><path d="M315 206h6.5v6.5h-6.5z" fill="#ff0154"/><path d="M321 206h6.5v6.5h-6.5z" fill="#ff0154"/><path d="M327 206h6.5v6.5h-6.5z" fill="#ff0055"/><path d="M333 206h6.5v6.5h-6.5z" fill="#ff0056"/><path d="M339 206h6.5v6.5h-6.5z" fill="#ff0056"/><path d="M345 206h6.5v6.5h-6.5z" fill="#ff0056"/><path d="M351 206h6.5v6.5h-6.5z" fill="#ff0055"/><path d="M357 206h6.5v6.5h-6.5z" fill="#ff0054"/><path d="M363 206h6.5v6.5h-6.5z" fill="#ff0053"/><path d="M369 206h6.5v6.5h-6.5z" fill="#ff0051"/><path d="M375 206h6.5v6.5h-6.5z" fill="#ff004f"/><path d="M381 206h6.5v6.5h-6.5z" fill="#ff004e"/><path d="M387 206h6.5v6.5h-6.5z" fill="#ff004b"/><path d="M393 206h6.5v6.5h-6.5z" fill="#ff0049"/><path d="M399 206h6.5v6.5h-6.5z" fill="#ff0047"/><path d="M405 206h6.5v6.5h-6.5z" fill="#ff0045"/><path d="M411 206h6.5v6.5h-6.5z" fill="#ff0044"/><path d="M417 206h6.5v6.5h-6.5z" fill="#ff0042"/><path d="M423 206h6.5v6.5h-6.5z" fill="#ff0041"/><path d="M429 206h6.5v6.5h-6.5z" fill="#ff0040"/><path d="M435 206h6.5v6.5h-6.5z" fill="#ff003f"/><path d="M441 206h6.5v6.5h-6.5z" fill="#ff003e"/><path d="M447 206h6.5v6.5h-6.5z" fill="#ff003e"/><path d="M453 206h6.5v6.5h-6.5z" fill="#ff003e"/><path d="M459 206h6.5v6.5h-6.5z" fill="#ff003e"/><path d="M465 206h6.5v6.5h-6.5z" fill="#ff003e"/><path d="M471 206h6.5v6.5h-6.5z" fill="#ff003e"/><path d="M477 206h6.5v6.5h-6.5z" fill="#ff003e"/><path d="M483 206h6.5v6.5h-6.5z" fill="#ff003e"/><path d="M489 206h6.5v6.5h-6.5z" fill="#ff003f"/><path d="M495 206h6.5v6.5h-6.5z" fill="#ff003f"/><path d="M501 206h6.5v6.5h-6.5z" fill="#ff003f"/><path d="M507 206h6.5v6.5h-6.5z" fill="#ff003f"/><path d="M513 206h6.5v6.5h-6.5z" fill="#ff0040"/><path d="M519 206h6.5v6.5h-6.5z" fill="#ff0040"/><path d="M525 206h6.5v6.5h-6.5z" fill="#ff0040"/><path d="M531 206h6.5v6.5h-6.5z" fill="#ff0040"/><path d="M537 206h6.5v6.5h-6.5z" fill="#ff0040"/><path d="M543 206h6.5v6.5h-6.5z" fill="#ff003f"/><path d="M549 206h6.5v6.5h-6.5z" fill="#ff003f"/><path d="M555 206h6.5v6.5h-6.5z" fill="#ff003f"/><path d="M99 212h6.5v6.5h-6.5z" fill="#ff133d"/><path d="M105 212h6.5v6.5h-6.5z" fill="#ff1040"/><path d="M111 212h6.5v6.5h-6.5z" fill="#ff0c42"/><path d="M117 212h6.5v6.5h-6.5z" fill="#ff0845"/><path d="M123 212h6.5v6.5h-6.5z" fill="#ff0547"/><path d="M129 212h6.5v6.5h-6.5z" fill="#ff034a"/><path d="M135 212h6.5v6.5h-6.5z" fill="#ff014c"/><path d="M141 212h6.5v6.5h-6.5z" fill="#ff004e"/><path d="M147 212h6.5v6.5h-6.5z" fill="#ff004f"/><path d="M153 212h6.5v6.5h-6.5z" fill="#ff0051"/><path d="M159 212h6.5v6.5h-6.5z" fill="#ff0052"/><path d="M165 212h6.5v6.5h-6.5z" fill="#ff0053"/><path d="M171 212h6.5v6.5h-6.5z" fill="#ff0054"/><path d="M177 212h6.5v6.5h-6.5z" fill="#ff0054"/><path d="M183 212h6.5v6.5h-6.5z" fill="#ff0054"/><path d="M189 212h6.5v6.5h-6.5z" fill="#ff0054"/><path d="M195 212h6.5v6.5h-6.5z" fill="#ff0055"/><path d="M201 212h6.5v6.5h-6.5z" fill="#ff0055"/><path d="M207 212h6.5v6.5h-6.5z" fill="#ff0054"/><path d="M213 212h6.5v6.5h-6.5z" fill="#ff0054"/><path d="M219 212h6.5v6.5h-6.5z" fill="#ff0053"/><path d="M225 212h6.5v6.5h-6.5z" fill="#ff0053"/><path d="M231 212h6.5v6.5h-6.5z" fill="#ff0053"/><path d="M237 212h6.5v6.5h-6.5z" fill="#ff0053"/><path d="M243 212h6.5v6.5h-6.5z" fill="#ff0052"/><path d="M249 212h6.5v6.5h-6.5z" fill="#ff0052"/><path d="M255 212h6.5v6.5h-6.5z" fill="#ff0052"/><path d="M261 212h6.5v6.5h-6.5z" fill="#ff0052"/><path d="M267 212h6.5v6.5h-6.5z" fill="#ff0052"/><path d="M273 212h6.5v6.5h-6.5z" fill="#ff0052"/><path d="M279 212h6.5v6.5h-6.5z" fill="#ff0052"/><path d="M285 212h6.5v6.5h-6.5z" fill="#ff0052"/><path d="M291 212h6.5v6.5h-6.5z" fill="#ff0052"/><path d="M297 212h6.5v6.5h-6.5z" fill="#ff0052"/><path d="M303 212h6.5v6.5h-6.5z" fill="#ff0052"/><path d="M309 212h6.5v6.5h-6.5z" fill="#ff0052"/><path d="M315 212h6.5v6.5h-6.5z" fill="#ff0053"/><path d="M321 212h6.5v6.5h-6.5z" fill="#ff0054"/><path d="M327 212h6.5v6.5h-6.5z" fill="#ff0055"/><path d="M333 212h6.5v6.5h-6.5z" fill="#ff0055"/><path d="M339 212h6.5v6.5h-6.5z" fill="#ff0056"/><path d="M345 212h6.5v6.5h-6.5z" fill="#ff0056"/><path d="M351 212h6.5v6.5h-6.5z" fill="#ff0055"/><path d="M357 212h6.5v6.5h-6.5z" fill="#ff0055"/><path d="M363 212h6.5v6.5h-6.5z" fill="#ff0054"/><path d="M369 212h6.5v6.5h-6.5z" fill="#ff0052"/><path d="M375 212h6.5v6.5h-6.5z" fill="#ff0051"/><path d="M381 212h6.5v6.5h-6.5z" fill="#ff004f"/><path d="M387 212h6.5v6.5h-6.5z" fill="#ff004d"/><path d="M393 212h6.5v6.5h-6.5z" fill="#ff004b"/><path d="M399 212h6.5v6.5h-6.5z" fill="#ff0049"/><path d="M405 212h6.5v6.5h-6.5z" fill="#ff0047"/><path d="M411 212h6.5v6.5h-6.5z" fill="#ff0045"/><path d="M417 212h6.5v6.5h-6.5z" fill="#ff0044"/><path d="M423 212h6.5v6.5h-6.5z" fill="#ff0042"/><path d="M429 212h6.5v6.5h-6.5z" fill="#ff0041"/><path d="M435 212h6.5v6.5h-6.5z" fill="#ff0040"/><path d="M441 212h6.5v6.5h-6.5z" fill="#ff0040"/><path d="M447 212h6.5v6.5h-6.5z" fill="#ff003f"/><path d="M453 212h6.5v6.5h-6.5z" fill="#ff003f"/><path d="M459 212h6.5v6.5h-6.5z" fill="#ff003f"/><path d="M465 212h6.5v6.5h-6.5z" fill="#ff003f"/><path d="M471 212h6.5v6.5h-6.5z" fill="#ff003f"/><path d="M477 212h6.5v6.5h-6.5z" fill="#ff003f"/><path d="M483 212h6.5v6.5h-6.5z" fill="#ff0040"/><path d="M489 212h6.5v6.5h-6.5z" fill="#ff0040"/><path d="M495 212h6.5v6.5h-6.5z" fill="#ff0040"/><path d="M501 212h6.5v6.5h-6.5z" fill="#ff0040"/><path d="M507 212h6.5v6.5h-6.5z" fill="#ff003f"/><path d="M513 212h6.5v6.5h-6.5z" fill="#ff003f"/><path d="M519 212h6.5v6.5h-6.5z" fill="#ff003f"/><path d="M525 212h6.5v6.5h-6.5z" fill="#ff003f"/><path d="M531 212h6.5v6.5h-6.5z" fill="#ff003f"/><path d="M537 212h6.5v6.5h-6.5z" fill="#ff003f"/><path d="M543 212h6.5v6.5h-6.5z" fill="#ff003f"/><path d="M549 212h6.5v6.5h-6.5z" fill="#ff003f"/><path d="M555 212h6.5v6.5h-6.5z" fill="#ff003e"/><path d="M99 218h6.5v6.5h-6.5z" fill="#ff1043"/><path d="M105 218h6.5v6.5h-6.5z" fill="#ff0d46"/><path d="M111 218h6.5v6.5h-6.5z" fill="#ff094a"/><path d="M117 218h6.5v6.5h-6.5z" fill="#ff064d"/><path d="M123 218h6.5v6.5h-6.5z" fill="#ff0351"/><path d="M129 218h6.5v6.5h-6.5z" fill="#ff0154"/><path d="M135 218h6.5v6.5h-6.5z" fill="#ff0056"/><path d="M141 218h6.5v6.5h-6.5z" fill="#ff0058"/><path d="M147 218h6.5v6.5h-6.5z" fill="#ff0059"/><path d="M153 218h6.5v6.5h-6.5z" fill="#ff005a"/><path d="M159 218h6.5v6.5h-6.5z" fill="#ff005c"/><path d="M165 218h6.5v6.5h-6.5z" fill="#ff005d"/><path d="M171 218h6.5v6.5h-6.5z" fill="#ff005e"/><path d="M177 218h6.5v6.5h-6.5z" fill="#ff005d"/><path d="M183 218h6.5v6.5h-6.5z" fill="#ff005d"/><path d="M189 218h6.5v6.5h-6.5z" fill="#ff005d"/><path d="M195 218h6.5v6.5h-6.5z" fill="#ff005d"/><path d="M201 218h6.5v6.5h-6.5z" fill="#ff005d"/><path d="M207 218h6.5v6.5h-6.5z" fill="#ff005c"/><path d="M213 218h6.5v6.5h-6.5z" fill="#ff005b"/><path d="M219 218h6.5v6.5h-6.5z" fill="#ff005a"/><path d="M225 218h6.5v6.5h-6.5z" fill="#ff0059"/><path d="M231 218h6.5v6.5h-6.5z" fill="#ff0059"/><path d="M237 218h6.5v6.5h-6.5z" fill="#ff0058"/><path d="M243 218h6.5v6.5h-6.5z" fill="#ff0058"/><path d="M249 218h6.5v6.5h-6.5z" fill="#ff0057"/><path d="M255 218h6.5v6.5h-6.5z" fill="#ff0056"/><path d="M261 218h6.5v6.5h-6.5z" fill="#ff0055"/><path d="M267 218h6.5v6.5h-6.5z" fill="#ff0055"/><path d="M273 218h6.5v6.5h-6.5z" fill="#ff0054"/><path d="M279 218h6.5v6.5h-6.5z" fill="#ff0053"/><path d="M285 218h6.5v6.5h-6.5z" fill="#ff0053"/><path d="M291 218h6.5v6.5h-6.5z" fill="#ff0052"/><path d="M297 218h6.5v6.5h-6.5z" fill="#ff0052"/><path d="M303 218h6.5v6.5h-6.5z" fill="#ff0051"/><path d="M309 218h6.5v6.5h-6.5z" fill="#ff0051"/><path d="M315 218h6.5v6.5h-6.5z" fill="#ff0052"/><path d="M321 218h6.5v6.5h-6.5z" fill="#ff0053"/><path d="M327 218h6.5v6.5h-6.5z" fill="#ff0054"/><path d="M333 218h6.5v6.5h-6.5z" fill="#ff0055"/><path d="M339 218h6.5v6.5h-6.5z" fill="#ff0055"/><path d="M345 218h6.5v6.5h-6.5z" fill="#ff0056"/><path d="M351 218h6.5v6.5h-6.5z" fill="#ff0055"/><path d="M357 218h6.5v6.5h-6.5z" fill="#ff0055"/><path d="M363 218h6.5v6.5h-6.5z" fill="#ff0054"/><path d="M369 218h6.5v6.5h-6.5z" fill="#ff0053"/><path d="M375 218h6.5v6.5h-6.5z" fill="#ff0051"/><path d="M381 218h6.5v6.5h-6.5z" fill="#ff0050"/><path d="M387 218h6.5v6.5h-6.5z" fill="#ff004e"/><path d="M393 218h6.5v6.5h-6.5z" fill="#ff004c"/><path d="M399 218h6.5v6.5h-6.5z" fill="#ff004a"/><path d="M405 218h6.5v6.5h-6.5z" fill="#ff0048"/><path d="M411 218h6.5v6.5h-6.5z" fill="#ff0046"/><path d="M417 218h6.5v6.5h-6.5z" fill="#ff0045"/><path d="M423 218h6.5v6.5h-6.5z" fill="#ff0044"/><path d="M429 218h6.5v6.5h-6.5z" fill="#ff0043"/><path d="M435 218h6.5v6.5h-6.5z" fill="#ff0042"/><path d="M441 218h6.5v6.5h-6.5z" fill="#ff0041"/><path d="M447 218h6.5v6.5h-6.5z" fill="#ff0040"/><path d="M453 218h6.5v6.5h-6.5z" fill="#ff0040"/><path d="M459 218h6.5v6.5h-6.5z" fill="#ff0040"/><path d="M465 218h6.5v6.5h-6.5z" fill="#ff0040"/><path d="M471 218h6.5v6.5h-6.5z" fill="#ff0040"/><path d="M477 218h6.5v6.5h-6.5z" fill="#ff0040"/><path d="M483 218h6.5v6.5h-6.5z" fill="#ff0041"/><path d="M489 218h6.5v6.5h-6.5z" fill="#ff0041"/><path d="M495 218h6.5v6.5h-6.5z" fill="#ff0040"/><path d="M501 218h6.5v6.5h-6.5z" fill="#ff0040"/><path d="M507 218h6.5v6.5h-6.5z" fill="#ff003f"/><path d="M513 218h6.5v6.5h-6.5z" fill="#ff003f"/><path d="M519 218h6.5v6.5h-6.5z" fill="#ff003f"/><path d="M525 218h6.5v6.5h-6.5z" fill="#ff003e"/><path d="M531 218h6.5v6.5h-6.5z" fill="#ff003e"/><path d="M537 218h6.5v6.5h-6.5z" fill="#ff003e"/><path d="M543 218h6.5v6.5h-6.5z" fill="#ff003e"/><path d="M549 218h6.5v6.5h-6.5z" fill="#ff003e"/><path d="M555 218h6.5v6.5h-6.5z" fill="#ff003e"/><path d="M99 224h6.5v6.5h-6.5z" fill="#ff0e49"/><path d="M105 224h6.5v6.5h-6.5z" fill="#ff0a4c"/><path d="M111 224h6.5v6.5h-6.5z" fill="#ff0750"/><path d="M117 224h6.5v6.5h-6.5z" fill="#ff0554"/><path d="M123 224h6.5v6.5h-6.5z" fill="#ff0258"/><path d="M129 224h6.5v6.5h-6.5z" fill="#ff015c"/><path d="M135 224h6.5v6.5h-6.5z" fill="#ff005e"/><path d="M141 224h6.5v6.5h-6.5z" fill="#ff005f"/><path d="M147 224h6.5v6.5h-6.5z" fill="#ff0061"/><path d="M153 224h6.5v6.5h-6.5z" fill="#ff0062"/><path d="M159 224h6.5v6.5h-6.5z" fill="#ff0063"/><path d="M165 224h6.5v6.5h-6.5z" fill="#ff0065"/><path d="M171 224h6.5v6.5h-6.5z" fill="#ff0065"/><path d="M177 224h6.5v6.5h-6.5z" fill="#ff0064"/><path d="M183 224h6.5v6.5h-6.5z" fill="#ff0063"/><path d="M189 224h6.5v6.5h-6.5z" fill="#ff0063"/><path d="M195 224h6.5v6.5h-6.5z" fill="#ff0063"/><path d="M201 224h6.5v6.5h-6.5z" fill="#ff0063"/><path d="M207 224h6.5v6.5h-6.5z" fill="#ff0062"/><path d="M213 224h6.5v6.5h-6.5z" fill="#ff0060"/><path d="M219 224h6.5v6.5h-6.5z" fill="#ff005f"/><path d="M225 224h6.5v6.5h-6.5z" fill="#ff005e"/><path d="M231 224h6.5v6.5h-6.5z" fill="#ff005d"/><path d="M237 224h6.5v6.5h-6.5z" fill="#ff005d"/><path d="M243 224h6.5v6.5h-6.5z" fill="#ff005b"/><path d="M249 224h6.5v6.5h-6.5z" fill="#ff005a"/><path d="M255 224h6.5v6.5h-6.5z" fill="#ff0059"/><path d="M261 224h6.5v6.5h-6.5z" fill="#ff0058"/><path d="M267 224h6.5v6.5h-6.5z" fill="#ff0056"/><path d="M273 224h6.5v6.5h-6.5z" fill="#ff0055"/><path d="M279 224h6.5v6.5h-6.5z" fill="#ff0054"/><path d="M285 224h6.5v6.5h-6.5z" fill="#ff0053"/><path d="M291 224h6.5v6.5h-6.5z" fill="#ff0052"/><path d="M297 224h6.5v6.5h-6.5z" fill="#ff0051"/><path d="M303 224h6.5v6.5h-6.5z" fill="#ff0050"/><path d="M309 224h6.5v6.5h-6.5z" fill="#ff0050"/><path d="M315 224h6.5v6.5h-6.5z" fill="#ff0051"/><path d="M321 224h6.5v6.5h-6.5z" fill="#ff0052"/><path d="M327 224h6.5v6.5h-6.5z" fill="#ff0053"/><path d="M333 224h6.5v6.5h-6.5z" fill="#ff0054"/><path d="M339 224h6.5v6.5h-6.5z" fill="#ff0055"/><path d="M345 224h6.5v6.5h-6.5z" fill="#ff0055"/><path d="M351 224h6.5v6.5h-6.5z" fill="#ff0055"/><path d="M357 224h6.5v6.5h-6.5z" fill="#ff0054"/><path d="M363 224h6.5v6.5h-6.5z" fill="#ff0054"/><path d="M369 224h6.5v6.5h-6.5z" fill="#ff0053"/><path d="M375 224h6.5v6.5h-6.5z" fill="#ff0051"/><path d="M381 224h6.5v6.5h-6.5z" fill="#ff0050"/><path d="M387 224h6.5v6.5h-6.5z" fill="#ff004e"/><path d="M393 224h6.5v6.5h-6.5z" fill="#ff004c"/><path d="M399 224h6.5v6.5h-6.5z" fill="#ff004b"/><path d="M405 224h6.5v6.5h-6.5z" fill="#ff0049"/><path d="M411 224h6.5v6.5h-6.5z" fill="#ff0047"/><path d="M417 224h6.5v6.5h-6.5z" fill="#ff0046"/><path d="M423 224h6.5v6.5h-6.5z" fill="#ff0045"/><path d="M429 224h6.5v6.5h-6.5z" fill="#ff0044"/><path d="M435 224h6.5v6.5h-6.5z" fill="#ff0043"/><path d="M441 224h6.5v6.5h-6.5z" fill="#ff0042"/><path d="M447 224h6.5v6.5h-6.5z" fill="#ff0041"/><path d="M453 224h6.5v6.5h-6.5z" fill="#ff0041"/><path d="M459 224h6.5v6.5h-6.5z" fill="#ff0041"/><path d="M465 224h6.5v6.5h-6.5z" fill="#ff0041"/><path d="M471 224h6.5v6.5h-6.5z" fill="#ff0041"/><path d="M477 224h6.5v6.5h-6.5z" fill="#ff0041"/><path d="M483 224h6.5v6.5h-6.5z" fill="#ff0041"/><path d="M489 224h6.5v6.5h-6.5z" fill="#ff0041"/><path d="M495 224h6.5v6.5h-6.5z" fill="#ff0040"/><path d="M501 224h6.5v6.5h-6.5z" fill="#ff0040"/><path d="M507 224h6.5v6.5h-6.5z" fill="#ff003f"/><path d="M513 224h6.5v6.5h-6.5z" fill="#ff003f"/><path d="M519 224h6.5v6.5h-6.5z" fill="#ff003e"/><path d="M525 224h6.5v6.5h-6.5z" fill="#ff003e"/><path d="M531 224h6.5v6.5h-6.5z" fill="#ff003e"/><path d="M537 224h6.5v6.5h-6.5z" fill="#ff003d"/><path d="M543 224h6.5v6.5h-6.5z" fill="#ff003d"/><path d="M549 224h6.5v6.5h-6.5z" fill="#ff003d"/><path d="M555 224h6.5v6.5h-6.5z" fill="#ff003d"/><path d="M99 230h6.5v6.5h-6.5z" fill="#ff0b4e"/><path d="M105 230h6.5v6.5h-6.5z" fill="#ff0951"/><path d="M111 230h6.5v6.5h-6.5z" fill="#ff0655"/><path d="M117 230h6.5v6.5h-6.5z" fill="#ff0459"/><path d="M123 230h6.5v6.5h-6.5z" fill="#ff025d"/><path d="M129 230h6.5v6.5h-6.5z" fill="#ff0060"/><path d="M135 230h6.5v6.5h-6.5z" fill="#ff0063"/><path d="M141 230h6.5v6.5h-6.5z" fill="#ff0065"/><path d="M147 230h6.5v6.5h-6.5z" fill="#ff0066"/><path d="M153 230h6.5v6.5h-6.5z" fill="#ff0067"/><path d="M159 230h6.5v6.5h-6.5z" fill="#ff0068"/><path d="M165 230h6.5v6.5h-6.5z" fill="#ff0069"/><path d="M171 230h6.5v6.5h-6.5z" fill="#ff0069"/><path d="M177 230h6.5v6.5h-6.5z" fill="#ff0068"/><path d="M183 230h6.5v6.5h-6.5z" fill="#ff0067"/><path d="M189 230h6.5v6.5h-6.5z" fill="#ff0067"/><path d="M195 230h6.5v6.5h-6.5z" fill="#ff0066"/><path d="M201 230h6.5v6.5h-6.5z" fill="#ff0066"/><path d="M207 230h6.5v6.5h-6.5z" fill="#ff0065"/><path d="M213 230h6.5v6.5h-6.5z" fill="#ff0063"/><path d="M219 230h6.5v6.5h-6.5z" fill="#ff0062"/><path d="M225 230h6.5v6.5h-6.5z" fill="#ff0061"/><path d="M231 230h6.5v6.5h-6.5z" fill="#ff0060"/><path d="M237 230h6.5v6.5h-6.5z" fill="#ff005f"/><path d="M243 230h6.5v6.5h-6.5z" fill="#ff005d"/><path d="M249 230h6.5v6.5h-6.5z" fill="#ff005c"/><path d="M255 230h6.5v6.5h-6.5z" fill="#ff005a"/><path d="M261 230h6.5v6.5h-6.5z" fill="#ff0059"/><path d="M267 230h6.5v6.5h-6.5z" fill="#ff0058"/><path d="M273 230h6.5v6.5h-6.5z" fill="#ff0056"/><path d="M279 230h6.5v6.5h-6.5z" fill="#ff0055"/><path d="M285 230h6.5v6.5h-6.5z" fill="#ff0054"/><path d="M291 230h6.5v6.5h-6.5z" fill="#ff0052"/><path d="M297 230h6.5v6.5h-6.5z" fill="#ff0051"/><path d="M303 230h6.5v6.5h-6.5z" fill="#ff0050"/><path d="M309 230h6.5v6.5h-6.5z" fill="#ff0050"/><path d="M315 230h6.5v6.5h-6.5z" fill="#ff0050"/><path d="M321 230h6.5v6.5h-6.5z" fill="#ff0051"/><path d="M327 230h6.5v6.5h-6.5z" fill="#ff0052"/><path d="M333 230h6.5v6.5h-6.5z" fill="#ff0053"/><path d="M339 230h6.5v6.5h-6.5z" fill="#ff0054"/><path d="M345 230h6.5v6.5h-6.5z" fill="#ff0054"/><path d="M351 230h6.5v6.5h-6.5z" fill="#ff0054"/><path d="M357 230h6.5v6.5h-6.5z" fill="#ff0054"/><path d="M363 230h6.5v6.5h-6.5z" fill="#ff0053"/><path d="M369 230h6.5v6.5h-6.5z" fill="#ff0052"/><path d="M375 230h6.5v6.5h-6.5z" fill="#ff0051"/><path d="M381 230h6.5v6.5h-6.5z" fill="#ff0050"/><path d="M387 230h6.5v6.5h-6.5z" fill="#ff004e"/><path d="M393 230h6.5v6.5h-6.5z" fill="#ff004d"/><path d="M399 230h6.5v6.5h-6.5z" fill="#ff004b"/><path d="M405 230h6.5v6.5h-6.5z" fill="#ff004a"/><path d="M411 230h6.5v6.5h-6.5z" fill="#ff0048"/><path d="M417 230h6.5v6.5h-6.5z" fill="#ff0047"/><path d="M423 230h6.5v6.5h-6.5z" fill="#ff0046"/><path d="M429 230h6.5v6.5h-6.5z" fill="#ff0045"/><path d="M435 230h6.5v6.5h-6.5z" fill="#ff0044"/><path d="M441 230h6.5v6.5h-6.5z" fill="#ff0043"/><path d="M447 230h6.5v6.5h-6.5z" fill="#ff0042"/><path d="M453 230h6.5v6.5h-6.5z" fill="#ff0042"/><path d="M459 230h6.5v6.5h-6.5z" fill="#ff0041"/><path d="M465 230h6.5v6.5h-6.5z" fill="#ff0041"/><path d="M471 230h6.5v6.5h-6.5z" fill="#ff0041"/><path d="M477 230h6.5v6.5h-6.5z" fill="#ff0041"/><path d="M483 230h6.5v6.5h-6.5z" fill="#ff0041"/><path d="M489 230h6.5v6.5h-6.5z" fill="#ff0041"/><path d="M495 230h6.5v6.5h-6.5z" fill="#ff0040"/><path d="M501 230h6.5v6.5h-6.5z" fill="#ff003f"/><path d="M507 230h6.5v6.5h-6.5z" fill="#ff003f"/><path d="M513 230h6.5v6.5h-6.5z" fill="#ff003e"/><path d="M519 230h6.5v6.5h-6.5z" fill="#ff003e"/><path d="M525 230h6.5v6.5h-6.5z" fill="#ff003d"/><path d="M531 230h6.5v6.5h-6.5z" fill="#ff003d"/><path d="M537 230h6.5v6.5h-6.5z" fill="#ff003d"/><path d="M543 230h6.5v6.5h-6.5z" fill="#ff003c"/><path d="M549 230h6.5v6.5h-6.5z" fill="#ff003c"/><path d="M555 230h6.5v6.5h-6.5z" fill="#ff003c"/><path d="M99 236h6.5v6.5h-6.5z" fill="#ff0a51"/><path d="M105 236h6.5v6.5h-6.5z" fill="#ff0755"/><path d="M111 236h6.5v6.5h-6.5z" fill="#ff0559"/><path d="M117 236h6.5v6.5h-6.5z" fill="#ff035d"/><path d="M123 236h6.5v6.5h-6.5z" fill="#ff0160"/><path d="M129 236h6.5v6.5h-6.5z" fill="#ff0063"/><path d="M135 236h6.5v6.5h-6.5z" fill="#ff0066"/><path d="M141 236h6.5v6.5h-6.5z" fill="#ff0067"/><path d="M147 236h6.5v6.5h-6.5z" fill="#ff0068"/><path d="M153 236h6.5v6.5h-6.5z" fill="#ff0069"/><path d="M159 236h6.5v6.5h-6.5z" fill="#ff006a"/><path d="M165 236h6.5v6.5h-6.5z" fill="#ff006a"/><path d="M171 236h6.5v6.5h-6.5z" fill="#ff006a"/><path d="M177 236h6.5v6.5h-6.5z" fill="#ff0069"/><path d="M183 236h6.5v6.5h-6.5z" fill="#ff0069"/><path d="M189 236h6.5v6.5h-6.5z" fill="#ff0068"/><path d="M195 236h6.5v6.5h-6.5z" fill="#ff0067"/><path d="M201 236h6.5v6.5h-6.5z" fill="#ff0066"/><path d="M207 236h6.5v6.5h-6.5z" fill="#ff0065"/><path d="M213 236h6.5v6.5h-6.5z" fill="#ff0064"/><path d="M219 236h6.5v6.5h-6.5z" fill="#ff0063"/><path d="M225 236h6.5v6.5h-6.5z" fill="#ff0061"/><path d="M231 236h6.5v6.5h-6.5z" fill="#ff0060"/><path d="M237 236h6.5v6.5h-6.5z" fill="#ff005f"/><path d="M243 236h6.5v6.5h-6.5z" fill="#ff005e"/><path d="M249 236h6.5v6.5h-6.5z" fill="#ff005c"/><path d="M255 236h6.5v6.5h-6.5z" fill="#ff005b"/><path d="M261 236h6.5v6.5h-6.5z" fill="#ff0059"/><path d="M267 236h6.5v6.5h-6.5z" fill="#ff0058"/><path d="M273 236h6.5v6.5h-6.5z" fill="#ff0057"/><path d="M279 236h6.5v6.5h-6.5z" fill="#ff0055"/><path d="M285 236h6.5v6.5h-6.5z" fill="#ff0054"/><path d="M291 236h6.5v6.5h-6.5z" fill="#ff0053"/><path d="M297 236h6.5v6.5h-6.5z" fill="#ff0052"/><path d="M303 236h6.5v6.5h-6.5z" fill="#ff0051"/><path d="M309 236h6.5v6.5h-6.5z" fill="#ff0050"/><path d="M315 236h6.5v6.5h-6.5z" fill="#ff0050"/><path d="M321 236h6.5v6.5h-6.5z" fill="#ff0051"/><path d="M327 236h6.5v6.5h-6.5z" fill="#ff0052"/><path d="M333 236h6.5v6.5h-6.5z" fill="#ff0052"/><path d="M339 236h6.5v6.5h-6.5z" fill="#ff0053"/><path d="M345 236h6.5v6.5h-6.5z" fill="#ff0053"/><path d="M351 236h6.5v6.5h-6.5z" fill="#ff0053"/><path d="M357 236h6.5v6.5h-6.5z" fill="#ff0053"/><path d="M363 236h6.5v6.5h-6.5z" fill="#ff0052"/><path d="M369 236h6.5v6.5h-6.5z" fill="#ff0051"/><path d="M375 236h6.5v6.5h-6.5z" fill="#ff0050"/><path d="M381 236h6.5v6.5h-6.5z" fill="#ff004f"/><path d="M387 236h6.5v6.5h-6.5z" fill="#ff004e"/><path d="M393 236h6.5v6.5h-6.5z" fill="#ff004c"/><path d="M399 236h6.5v6.5h-6.5z" fill="#ff004b"/><path d="M405 236h6.5v6.5h-6.5z" fill="#ff004a"/><path d="M411 236h6.5v6.5h-6.5z" fill="#ff0049"/><path d="M417 236h6.5v6.5h-6.5z" fill="#ff0047"/><path d="M423 236h6.5v6.5h-6.5z" fill="#ff0046"/><path d="M429 236h6.5v6.5h-6.5z" fill="#ff0045"/><path d="M435 236h6.5v6.5h-6.5z" fill="#ff0044"/><path d="M441 236h6.5v6.5h-6.5z" fill="#ff0044"/><path d="M447 236h6.5v6.5h-6.5z" fill="#ff0043"/><path d="M453 236h6.5v6.5h-6.5z" fill="#ff0042"/><path d="M459 236h6.5v6.5h-6.5z" fill="#ff0042"/><path d="M465 236h6.5v6.5h-6.5z" fill="#ff0041"/><path d="M471 236h6.5v6.5h-6.5z" fill="#ff0041"/><path d="M477 236h6.5v6.5h-6.5z" fill="#ff0041"/><path d="M483 236h6.5v6.5h-6.5z" fill="#ff0040"/><path d="M489 236h6.5v6.5h-6.5z" fill="#ff0040"/><path d="M495 236h6.5v6.5h-6.5z" fill="#ff003f"/><path d="M501 236h6.5v6.5h-6.5z" fill="#ff003f"/><path d="M507 236h6.5v6.5h-6.5z" fill="#ff003e"/><path d="M513 236h6.5v6.5h-6.5z" fill="#ff003e"/><path d="M519 236h6.5v6.5h-6.5z" fill="#ff003d"/><path d="M525 236h6.5v6.5h-6.5z" fill="#ff003d"/><path d="M531 236h6.5v6.5h-6.5z" fill="#ff003c"/><path d="M537 236h6.5v6.5h-6.5z" fill="#ff003c"/><path d="M543 236h6.5v6.5h-6.5z" fill="#ff003c"/><path d="M549 236h6.5v6.5h-6.5z" fill="#ff003b"/><path d="M555 236h6.5v6.5h-6.5z" fill="#ff003b"/><path d="M99 242h6.5v6.5h-6.5z" fill="#ff0854"/><path d="M105 242h6.5v6.5h-6.5z" fill="#ff0658"/><path d="M111 242h6.5v6.5h-6.5z" fill="#ff045b"/><path d="M117 242h6.5v6.5h-6.5z" fill="#ff025f"/><path d="M123 242h6.5v6.5h-6.5z" fill="#ff0162"/><path d="M129 242h6.5v6.5h-6.5z" fill="#ff0065"/><path d="M135 242h6.5v6.5h-6.5z" fill="#ff0067"/><path d="M141 242h6.5v6.5h-6.5z" fill="#ff0068"/><path d="M147 242h6.5v6.5h-6.5z" fill="#ff0069"/><path d="M153 242h6.5v6.5h-6.5z" fill="#ff006a"/><path d="M159 242h6.5v6.5h-6.5z" fill="#ff006a"/><path d="M165 242h6.5v6.5h-6.5z" fill="#ff006a"/><path d="M171 242h6.5v6.5h-6.5z" fill="#ff0069"/><path d="M177 242h6.5v6.5h-6.5z" fill="#ff0069"/><path d="M183 242h6.5v6.5h-6.5z" fill="#ff0068"/><path d="M189 242h6.5v6.5h-6.5z" fill="#ff0067"/><path d="M195 242h6.5v6.5h-6.5z" fill="#ff0066"/><path d="M201 242h6.5v6.5h-6.5z" fill="#ff0065"/><path d="M207 242h6.5v6.5h-6.5z" fill="#ff0064"/><path d="M213 242h6.5v6.5h-6.5z" fill="#ff0063"/><path d="M219 242h6.5v6.5h-6.5z" fill="#ff0062"/><path d="M225 242h6.5v6.5h-6.5z" fill="#ff0061"/><path d="M231 242h6.5v6.5h-6.5z" fill="#ff0060"/><path d="M237 242h6.5v6.5h-6.5z" fill="#ff005f"/><path d="M243 242h6.5v6.5h-6.5z" fill="#ff005d"/><path d="M249 242h6.5v6.5h-6.5z" fill="#ff005c"/><path d="M255 242h6.5v6.5h-6.5z" fill="#ff005b"/><path d="M261 242h6.5v6.5h-6.5z" fill="#ff0059"/><path d="M267 242h6.5v6.5h-6.5z" fill="#ff0058"/><path d="M273 242h6.5v6.5h-6.5z" fill="#ff0057"/><path d="M279 242h6.5v6.5h-6.5z" fill="#ff0055"/><path d="M285 242h6.5v6.5h-6.5z" fill="#ff0054"/><path d="M291 242h6.5v6.5h-6.5z" fill="#ff0053"/><path d="M297 242h6.5v6.5h-6.5z" fill="#ff0052"/><path d="M303 242h6.5v6.5h-6.5z" fill="#ff0051"/><path d="M309 242h6.5v6.5h-6.5z" fill="#ff0051"/><path d="M315 242h6.5v6.5h-6.5z" fill="#ff0051"/><path d="M321 242h6.5v6.5h-6.5z" fill="#ff0051"/><path d="M327 242h6.5v6.5h-6.5z" fill="#ff0051"/><path d="M333 242h6.5v6.5h-6.5z" fill="#ff0052"/><path d="M339 242h6.5v6.5h-6.5z" fill="#ff0052"/><path d="M345 242h6.5v6.5h-6.5z" fill="#ff0052"/><path d="M351 242h6.5v6.5h-6.5z" fill="#ff0052"/><path d="M357 242h6.5v6.5h-6.5z" fill="#ff0052"/><path d="M363 242h6.5v6.5h-6.5z" fill="#ff0051"/><path d="M369 242h6.5v6.5h-6.5z" fill="#ff0050"/><path d="M375 242h6.5v6.5h-6.5z" fill="#ff004f"/><path d="M381 242h6.5v6.5h-6.5z" fill="#ff004e"/><path d="M387 242h6.5v6.5h-6.5z" fill="#ff004d"/><path d="M393 242h6.5v6.5h-6.5z" fill="#ff004c"/><path d="M399 242h6.5v6.5h-6.5z" fill="#ff004b"/><path d="M405 242h6.5v6.5h-6.5z" fill="#ff004a"/><path d="M411 242h6.5v6.5h-6.5z" fill="#ff0049"/><path d="M417 242h6.5v6.5h-6.5z" fill="#ff0048"/><path d="M423 242h6.5v6.5h-6.5z" fill="#ff0047"/><path d="M429 242h6.5v6.5h-6.5z" fill="#ff0046"/><path d="M435 242h6.5v6.5h-6.5z" fill="#ff0045"/><path d="M441 242h6.5v6.5h-6.5z" fill="#ff0044"/><path d="M447 242h6.5v6.5h-6.5z" fill="#ff0043"/><path d="M453 242h6.5v6.5h-6.5z" fill="#ff0042"/><path d="M459 242h6.5v6.5h-6.5z" fill="#ff0042"/><path d="M465 242h6.5v6.5h-6.5z" fill="#ff0041"/><path d="M471 242h6.5v6.5h-6.5z" fill="#ff0041"/><path d="M477 242h6.5v6.5h-6.5z" fill="#ff0040"/><path d="M483 242h6.5v6.5h-6.5z" fill="#ff003f"/><path d="M489 242h6.5v6.5h-6.5z" fill="#ff003f"/><path d="M495 242h6.5v6.5h-6.5z" fill="#ff003e"/><path d="M501 242h6.5v6.5h-6.5z" fill="#ff003e"/><path d="M507 242h6.5v6.5h-6.5z" fill="#ff003d"/><path d="M513 242h6.5v6.5h-6.5z" fill="#ff003d"/><path d="M519 242h6.5v6.5h-6.5z" fill="#ff003d"/><path d="M525 242h6.5v6.5h-6.5z" fill="#ff003c"/><path d="M531 242h6.5v6.5h-6.5z" fill="#ff003c"/><path d="M537 242h6.5v6.5h-6.5z" fill="#ff003b"/><path d="M543 242h6.5v6.5h-6.5z" fill="#ff003b"/><path d="M549 242h6.5v6.5h-6.5z" fill="#ff003b"/><path d="M555 242h6.5v6.5h-6.5z" fill="#ff003a"/><path d="M99 248h6.5v6.5h-6.5z" fill="#ff0756"/><path d="M105 248h6.5v6.5h-6.5z" fill="#ff0559"/><path d="M111 248h6.5v6.5h-6.5z" fill="#ff045c"/><path d="M117 248h6.5v6.5h-6.5z" fill="#ff025f"/><path d="M123 248h6.5v6.5h-6.5z" fill="#ff0162"/><path d="M129 248h6.5v6.5h-6.5z" fill="#ff0065"/><path d="M135 248h6.5v6.5h-6.5z" fill="#ff0067"/><path d="M141 248h6.5v6.5h-6.5z" fill="#ff0068"/><path d="M147 248h6.5v6.5h-6.5z" fill="#ff0068"/><path d="M153 248h6.5v6.5h-6.5z" fill="#ff0069"/><path d="M159 248h6.5v6.5h-6.5z" fill="#ff0068"/><path d="M165 248h6.5v6.5h-6.5z" fill="#ff0068"/><path d="M171 248h6.5v6.5h-6.5z" fill="#ff0068"/><path d="M177 248h6.5v6.5h-6.5z" fill="#ff0067"/><path d="M183 248h6.5v6.5h-6.5z" fill="#ff0066"/><path d="M189 248h6.5v6.5h-6.5z" fill="#ff0065"/><path d="M195 248h6.5v6.5h-6.5z" fill="#ff0064"/><path d="M201 248h6.5v6.5h-6.5z" fill="#ff0063"/><path d="M207 248h6.5v6.5h-6.5z" fill="#ff0062"/><path d="M213 248h6.5v6.5h-6.5z" fill="#ff0061"/><path d="M219 248h6.5v6.5h-6.5z" fill="#ff0060"/><path d="M225 248h6.5v6.5h-6.5z" fill="#ff005f"/><path d="M231 248h6.5v6.5h-6.5z" fill="#ff005e"/><path d="M237 248h6.5v6.5h-6.5z" fill="#ff005d"/><path d="M243 248h6.5v6.5h-6.5z" fill="#ff005c"/><path d="M249 248h6.5v6.5h-6.5z" fill="#ff005b"/><path d="M255 248h6.5v6.5h-6.5z" fill="#ff005a"/><path d="M261 248h6.5v6.5h-6.5z" fill="#ff0059"/><path d="M267 248h6.5v6.5h-6.5z" fill="#ff0058"/><path d="M273 248h6.5v6.5h-6.5z" fill="#ff0056"/><path d="M279 248h6.5v6.5h-6.5z" fill="#ff0055"/><path d="M285 248h6.5v6.5h-6.5z" fill="#ff0054"/><path d="M291 248h6.5v6.5h-6.5z" fill="#ff0053"/><path d="M297 248h6.5v6.5h-6.5z" fill="#ff0052"/><path d="M303 248h6.5v6.5h-6.5z" fill="#ff0051"/><path d="M309 248h6.5v6.5h-6.5z" fill="#ff0051"/><path d="M315 248h6.5v6.5h-6.5z" fill="#ff0050"/><path d="M321 248h6.5v6.5h-6.5z" fill="#ff0051"/><path d="M327 248h6.5v6.5h-6.5z" fill="#ff0051"/><path d="M333 248h6.5v6.5h-6.5z" fill="#ff0051"/><path d="M339 248h6.5v6.5h-6.5z" fill="#ff0051"/><path d="M345 248h6.5v6.5h-6.5z" fill="#ff0052"/><path d="M351 248h6.5v6.5h-6.5z" fill="#ff0051"/><path d="M357 248h6.5v6.5h-6.5z" fill="#ff0051"/><path d="M363 248h6.5v6.5h-6.5z" fill="#ff0050"/><path d="M369 248h6.5v6.5h-6.5z" fill="#ff004f"/><path d="M375 248h6.5v6.5h-6.5z" fill="#ff004e"/><path d="M381 248h6.5v6.5h-6.5z" fill="#ff004d"/><path d="M387 248h6.5v6.5h-6.5z" fill="#ff004c"/><path d="M393 248h6.5v6.5h-6.5z" fill="#ff004b"/><path d="M399 248h6.5v6.5h-6.5z" fill="#ff004a"/><path d="M405 248h6.5v6.5h-6.5z" fill="#ff0049"/><path d="M411 248h6.5v6.5h-6.5z" fill="#ff0048"/><path d="M417 248h6.5v6.5h-6.5z" fill="#ff0047"/><path d="M423 248h6.5v6.5h-6.5z" fill="#ff0046"/><path d="M429 248h6.5v6.5h-6.5z" fill="#ff0045"/><path d="M435 248h6.5v6.5h-6.5z" fill="#ff0044"/><path d="M441 248h6.5v6.5h-6.5z" fill="#ff0043"/><path d="M447 248h6.5v6.5h-6.5z" fill="#ff0043"/><path d="M453 248h6.5v6.5h-6.5z" fill="#ff0042"/><path d="M459 248h6.5v6.5h-6.5z" fill="#ff0041"/><path d="M465 248h6.5v6.5h-6.5z" fill="#ff0041"/><path d="M471 248h6.5v6.5h-6.5z" fill="#ff0040"/><path d="M477 248h6.5v6.5h-6.5z" fill="#ff003f"/><path d="M483 248h6.5v6.5h-6.5z" fill="#ff003e"/><path d="M489 248h6.5v6.5h-6.5z" fill="#ff003e"/><path d="M495 248h6.5v6.5h-6.5z" fill="#ff003d"/><path d="M501 248h6.5v6.5h-6.5z" fill="#ff003d"/><path d="M507 248h6.5v6.5h-6.5z" fill="#ff003c"/><path d="M513 248h6.5v6.5h-6.5z" fill="#ff003c"/><path d="M519 248h6.5v6.5h-6.5z" fill="#ff003c"/><path d="M525 248h6.5v6.5h-6.5z" fill="#ff003b"/><path d="M531 248h6.5v6.5h-6.5z" fill="#ff003b"/><path d="M537 248h6.5v6.5h-6.5z" fill="#ff003a"/><path d="M543 248h6.5v6.5h-6.5z" fill="#ff003a"/><path d="M549 248h6.5v6.5h-6.5z" fill="#ff003a"/><path d="M555 248h6.5v6.5h-6.5z" fill="#ff0039"/><path d="M99 254h6.5v6.5h-6.5z" fill="#ff0757"/><path d="M105 254h6.5v6.5h-6.5z" fill="#ff055a"/><path d="M111 254h6.5v6.5h-6.5z" fill="#ff035d"/><path d="M117 254h6.5v6.5h-6.5z" fill="#ff025f"/><path d="M123 254h6.5v6.5h-6.5z" fill="#ff0162"/><path d="M129 254h6.5v6.5h-6.5z" fill="#ff0064"/><path d="M135 254h6.5v6.5h-6.5z" fill="#ff0065"/><path d="M141 254h6.5v6.5h-6.5z" fill="#ff0066"/><path d="M147 254h6.5v6.5h-6.5z" fill="#ff0067"/><path d="M153 254h6.5v6.5h-6.5z" fill="#ff0067"/><path d="M159 254h6.5v6.5h-6.5z" fill="#ff0066"/><path d="M165 254h6.5v6.5h-6.5z" fill="#ff0066"/><path d="M171 254h6.5v6.5h-6.5z" fill="#ff0065"/><path d="M177 254h6.5v6.5h-6.5z" fill="#ff0064"/><path d="M183 254h6.5v6.5h-6.5z" fill="#ff0064"/><path d="M189 254h6.5v6.5h-6.5z" fill="#ff0063"/><path d="M195 254h6.5v6.5h-6.5z" fill="#ff0062"/><path d="M201 254h6.5v6.5h-6.5z" fill="#ff0061"/><path d="M207 254h6.5v6.5h-6.5z" fill="#ff0060"/><path d="M213 254h6.5v6.5h-6.5z" fill="#ff005f"/><path d="M219 254h6.5v6.5h-6.5z" fill="#ff005e"/><path d="M225 254h6.5v6.5h-6.5z" fill="#ff005d"/><path d="M231 254h6.5v6.5h-6.5z" fill="#ff005c"/><path d="M237 254h6.5v6.5h-6.5z" fill="#ff005b"/><path d="M243 254h6.5v6.5h-6.5z" fill="#ff005a"/><path d="M249 254h6.5v6.5h-6.5z" fill="#ff0059"/><path d="M255 254h6.5v6.5h-6.5z" fill="#ff0058"/><path d="M261 254h6.5v6.5h-6.5z" fill="#ff0058"/><path d="M267 254h6.5v6.5h-6.5z" fill="#ff0057"/><path d="M273 254h6.5v6.5h-6.5z" fill="#ff0056"/><path d="M279 254h6.5v6.5h-6.5z" fill="#ff0054"/><path d="M285 254h6.5v6.5h-6.5z" fill="#ff0053"/><path d="M291 254h6.5v6.5h-6.5z" fill="#ff0052"/><path d="M297 254h6.5v6.5h-6.5z" fill="#ff0051"/><path d="M303 254h6.5v6.5h-6.5z" fill="#ff0051"/><path d="M309 254h6.5v6.5h-6.5z" fill="#ff0050"/><path d="M315 254h6.5v6.5h-6.5z" fill="#ff0050"/><path d="M321 254h6.5v6.5h-6.5z" fill="#ff0050"/><path d="M327 254h6.5v6.5h-6.5z" fill="#ff0050"/><path d="M333 254h6.5v6.5h-6.5z" fill="#ff0050"/><path d="M339 254h6.5v6.5h-6.5z" fill="#ff0050"/><path d="M345 254h6.5v6.5h-6.5z" fill="#ff0051"/><path d="M351 254h6.5v6.5h-6.5z" fill="#ff0050"/><path d="M357 254h6.5v6.5h-6.5z" fill="#ff0050"/><path d="M363 254h6.5v6.5h-6.5z" fill="#ff004f"/><path d="M369 254h6.5v6.5h-6.5z" fill="#ff004e"/><path d="M375 254h6.5v6.5h-6.5z" fill="#ff004d"/><path d="M381 254h6.5v6.5h-6.5z" fill="#ff004c"/><path d="M387 254h6.5v6.5h-6.5z" fill="#ff004b"/><path d="M393 254h6.5v6.5h-6.5z" fill="#ff004a"/><path d="M399 254h6.5v6.5h-6.5z" fill="#ff0049"/><path d="M405 254h6.5v6.5h-6.5z" fill="#ff0048"/><path d="M411 254h6.5v6.5h-6.5z" fill="#ff0047"/><path d="M417 254h6.5v6.5h-6.5z" fill="#ff0047"/><path d="M423 254h6.5v6.5h-6.5z" fill="#ff0045"/><path d="M429 254h6.5v6.5h-6.5z" fill="#ff0044"/><path d="M435 254h6.5v6.5h-6.5z" fill="#ff0043"/><path d="M441 254h6.5v6.5h-6.5z" fill="#ff0043"/><path d="M447 254h6.5v6.5h-6.5z" fill="#ff0042"/><path d="M453 254h6.5v6.5h-6.5z" fill="#ff0041"/><path d="M459 254h6.5v6.5h-6.5z" fill="#ff0040"/><path d="M465 254h6.5v6.5h-6.5z" fill="#ff0040"/><path d="M471 254h6.5v6.5h-6.5z" fill="#ff003f"/><path d="M477 254h6.5v6.5h-6.5z" fill="#ff003e"/><path d="M483 254h6.5v6.5h-6.5z" fill="#ff003d"/><path d="M489 254h6.5v6.5h-6.5z" fill="#ff003c"/><path d="M495 254h6.5v6.5h-6.5z" fill="#ff003c"/><path d="M501 254h6.5v6.5h-6.5z" fill="#ff003c"/><path d="M507 254h6.5v6.5h-6.5z" fill="#ff003b"/><path d="M513 254h6.5v6.5h-6.5z" fill="#ff003b"/><path d="M519 254h6.5v6.5h-6.5z" fill="#ff003b"/><path d="M525 254h6.5v6.5h-6.5z" fill="#ff003a"/><path d="M531 254h6.5v6.5h-6.5z" fill="#ff003a"/><path d="M537 254h6.5v6.5h-6.5z" fill="#ff0039"/><path d="M543 254h6.5v6.5h-6.5z" fill="#ff0039"/><path d="M549 254h6.5v6.5h-6.5z" fill="#ff0039"/><path d="M555 254h6.5v6.5h-6.5z" fill="#ff0038"/><path d="M99 260h6.5v6.5h-6.5z" fill="#ff0658"/><path d="M105 260h6.5v6.5h-6.5z" fill="#ff045a"/><path d="M111 260h6.5v6.5h-6.5z" fill="#ff035c"/><path d="M117 260h6.5v6.5h-6.5z" fill="#ff025f"/><path d="M123 260h6.5v6.5h-6.5z" fill="#ff0161"/><path d="M129 260h6.5v6.5h-6.5z" fill="#ff0062"/><path d="M135 260h6.5v6.5h-6.5z" fill="#ff0064"/><path d="M141 260h6.5v6.5h-6.5z" fill="#ff0064"/><path d="M147 260h6.5v6.5h-6.5z" fill="#ff0064"/><path d="M153 260h6.5v6.5h-6.5z" fill="#ff0064"/><path d="M159 260h6.5v6.5h-6.5z" fill="#ff0064"/><path d="M165 260h6.5v6.5h-6.5z" fill="#ff0063"/><path d="M171 260h6.5v6.5h-6.5z" fill="#ff0062"/><path d="M177 260h6.5v6.5h-6.5z" fill="#ff0062"/><path d="M183 260h6.5v6.5h-6.5z" fill="#ff0061"/><path d="M189 260h6.5v6.5h-6.5z" fill="#ff0060"/><path d="M195 260h6.5v6.5h-6.5z" fill="#ff005f"/><path d="M201 260h6.5v6.5h-6.5z" fill="#ff005e"/><path d="M207 260h6.5v6.5h-6.5z" fill="#ff005d"/><path d="M213 260h6.5v6.5h-6.5z" fill="#ff005d"/><path d="M219 260h6.5v6.5h-6.5z" fill="#ff005c"/><path d="M225 260h6.5v6.5h-6.5z" fill="#ff005b"/><path d="M231 260h6.5v6.5h-6.5z" fill="#ff005a"/><path d="M237 260h6.5v6.5h-6.5z" fill="#ff0059"/><path d="M243 260h6.5v6.5h-6.5z" fill="#ff0058"/><path d="M249 260h6.5v6.5h-6.5z" fill="#ff0058"/><path d="M255 260h6.5v6.5h-6.5z" fill="#ff0057"/><path d="M261 260h6.5v6.5h-6.5z" fill="#ff0056"/><path d="M267 260h6.5v6.5h-6.5z" fill="#ff0055"/><path d="M273 260h6.5v6.5h-6.5z" fill="#ff0054"/><path d="M279 260h6.5v6.5h-6.5z" fill="#ff0053"/><path d="M285 260h6.5v6.5h-6.5z" fill="#ff0052"/><path d="M291 260h6.5v6.5h-6.5z" fill="#ff0051"/><path d="M297 260h6.5v6.5h-6.5z" fill="#ff0050"/><path d="M303 260h6.5v6.5h-6.5z" fill="#ff0050"/><path d="M309 260h6.5v6.5h-6.5z" fill="#ff0050"/><path d="M315 260h6.5v6.5h-6.5z" fill="#ff004f"/><path d="M321 260h6.5v6.5h-6.5z" fill="#ff004f"/><path d="M327 260h6.5v6.5h-6.5z" fill="#ff004f"/><path d="M333 260h6.5v6.5h-6.5z" fill="#ff004f"/><path d="M339 260h6.5v6.5h-6.5z" fill="#ff004f"/><path d="M345 260h6.5v6.5h-6.5z" fill="#ff004f"/><path d="M351 260h6.5v6.5h-6.5z" fill="#ff004f"/><path d="M357 260h6.5v6.5h-6.5z" fill="#ff004e"/><path d="M363 260h6.5v6.5h-6.5z" fill="#ff004e"/><path d="M369 260h6.5v6.5h-6.5z" fill="#ff004d"/><path d="M375 260h6.5v6.5h-6.5z" fill="#ff004b"/><path d="M381 260h6.5v6.5h-6.5z" fill="#ff004a"/><path d="M387 260h6.5v6.5h-6.5z" fill="#ff0049"/><path d="M393 260h6.5v6.5h-6.5z" fill="#ff0048"/><path d="M399 260h6.5v6.5h-6.5z" fill="#ff0047"/><path d="M405 260h6.5v6.5h-6.5z" fill="#ff0046"/><path d="M411 260h6.5v6.5h-6.5z" fill="#ff0046"/><path d="M417 260h6.5v6.5h-6.5z" fill="#ff0045"/><path d="M423 260h6.5v6.5h-6.5z" fill="#ff0044"/><path d="M429 260h6.5v6.5h-6.5z" fill="#ff0043"/><path d="M435 260h6.5v6.5h-6.5z" fill="#ff0042"/><path d="M441 260h6.5v6.5h-6.5z" fill="#ff0041"/><path d="M447 260h6.5v6.5h-6.5z" fill="#ff0041"/><path d="M453 260h6.5v6.5h-6.5z" fill="#ff0040"/><path d="M459 260h6.5v6.5h-6.5z" fill="#ff003f"/><path d="M465 260h6.5v6.5h-6.5z" fill="#ff003e"/><path d="M471 260h6.5v6.5h-6.5z" fill="#ff003e"/><path d="M477 260h6.5v6.5h-6.5z" fill="#ff003d"/><path d="M483 260h6.5v6.5h-6.5z" fill="#ff003c"/><path d="M489 260h6.5v6.5h-6.5z" fill="#ff003b"/><path d="M495 260h6.5v6.5h-6.5z" fill="#ff003b"/><path d="M501 260h6.5v6.5h-6.5z" fill="#ff003a"/><path d="M507 260h6.5v6.5h-6.5z" fill="#ff003a"/><path d="M513 260h6.5v6.5h-6.5z" fill="#ff003a"/><path d="M519 260h6.5v6.5h-6.5z" fill="#ff0039"/><path d="M525 260h6.5v6.5h-6.5z" fill="#ff0039"/><path d="M531 260h6.5v6.5h-6.5z" fill="#ff0039"/><path d="M537 260h6.5v6.5h-6.5z" fill="#ff0038"/><path d="M543 260h6.5v6.5h-6.5z" fill="#ff0038"/><path d="M549 260h6.5v6.5h-6.5z" fill="#ff0037"/><path d="M555 260h6.5v6.5h-6.5z" fill="#ff0037"/><path d="M99 266h6.5v6.5h-6.5z" fill="#ff0558"/><path d="M105 266h6.5v6.5h-6.5z" fill="#ff045a"/><path d="M111 266h6.5v6.5h-6.5z" fill="#ff035c"/><path d="M117 266h6.5v6.5h-6.5z" fill="#ff025d"/><path d="M123 266h6.5v6.5h-6.5z" fill="#ff015f"/><path d="M129 266h6.5v6.5h-6.5z" fill="#ff0060"/><path d="M135 266h6.5v6.5h-6.5z" fill="#ff0061"/><path d="M141 266h6.5v6.5h-6.5z" fill="#ff0062"/><path d="M147 266h6.5v6.5h-6.5z" fill="#ff0062"/><path d="M153 266h6.5v6.5h-6.5z" fill="#ff0062"/><path d="M159 266h6.5v6.5h-6.5z" fill="#ff0061"/><path d="M165 266h6.5v6.5h-6.5z" fill="#ff0061"/><path d="M171 266h6.5v6.5h-6.5z" fill="#ff0060"/><path d="M177 266h6.5v6.5h-6.5z" fill="#ff0060"/><path d="M183 266h6.5v6.5h-6.5z" fill="#ff005f"/><path d="M189 266h6.5v6.5h-6.5z" fill="#ff005e"/><path d="M195 266h6.5v6.5h-6.5z" fill="#ff005d"/><path d="M201 266h6.5v6.5h-6.5z" fill="#ff005c"/><path d="M207 266h6.5v6.5h-6.5z" fill="#ff005b"/><path d="M213 266h6.5v6.5h-6.5z" fill="#ff005b"/><path d="M219 266h6.5v6.5h-6.5z" fill="#ff005a"/><path d="M225 266h6.5v6.5h-6.5z" fill="#ff0059"/><path d="M231 266h6.5v6.5h-6.5z" fill="#ff0058"/><path d="M237 266h6.5v6.5h-6.5z" fill="#ff0057"/><path d="M243 266h6.5v6.5h-6.5z" fill="#ff0057"/><path d="M249 266h6.5v6.5h-6.5z" fill="#ff0056"/><path d="M255 266h6.5v6.5h-6.5z" fill="#ff0055"/><path d="M261 266h6.5v6.5h-6.5z" fill="#ff0055"/><path d="M267 266h6.5v6.5h-6.5z" fill="#ff0054"/><path d="M273 266h6.5v6.5h-6.5z" fill="#ff0053"/><path d="M279 266h6.5v6.5h-6.5z" fill="#ff0052"/><path d="M285 266h6.5v6.5h-6.5z" fill="#ff0051"/><path d="M291 266h6.5v6.5h-6.5z" fill="#ff0050"/><path d="M297 266h6.5v6.5h-6.5z" fill="#ff004f"/><path d="M303 266h6.5v6.5h-6.5z" fill="#ff004f"/><path d="M309 266h6.5v6.5h-6.5z" fill="#ff004e"/><path d="M315 266h6.5v6.5h-6.5z" fill="#ff004e"/><path d="M321 266h6.5v6.5h-6.5z" fill="#ff004e"/><path d="M327 266h6.5v6.5h-6.5z" fill="#ff004e"/><path d="M333 266h6.5v6.5h-6.5z" fill="#ff004e"/><path d="M339 266h6.5v6.5h-6.5z" fill="#ff004e"/><path d="M345 266h6.5v6.5h-6.5z" fill="#ff004e"/><path d="M351 266h6.5v6.5h-6.5z" fill="#ff004e"/><path d="M357 266h6.5v6.5h-6.5z" fill="#ff004d"/><path d="M363 266h6.5v6.5h-6.5z" fill="#ff004c"/><path d="M369 266h6.5v6.5h-6.5z" fill="#ff004b"/><path d="M375 266h6.5v6.5h-6.5z" fill="#ff004a"/><path d="M381 266h6.5v6.5h-6.5z" fill="#ff0049"/><path d="M387 266h6.5v6.5h-6.5z" fill="#ff0048"/><path d="M393 266h6.5v6.5h-6.5z" fill="#ff0046"/><path d="M399 266h6.5v6.5h-6.5z" fill="#ff0045"/><path d="M405 266h6.5v6.5h-6.5z" fill="#ff0044"/><path d="M411 266h6.5v6.5h-6.5z" fill="#ff0043"/><path d="M417 266h6.5v6.5h-6.5z" fill="#ff0042"/><path d="M423 266h6.5v6.5h-6.5z" fill="#ff0041"/><path d="M429 266h6.5v6.5h-6.5z" fill="#ff0040"/><path d="M435 266h6.5v6.5h-6.5z" fill="#ff0040"/><path d="M441 266h6.5v6.5h-6.5z" fill="#ff003f"/><path d="M447 266h6.5v6.5h-6.5z" fill="#ff003f"/><path d="M453 266h6.5v6.5h-6.5z" fill="#ff003e"/><path d="M459 266h6.5v6.5h-6.5z" fill="#ff003e"/><path d="M465 266h6.5v6.5h-6.5z" fill="#ff003d"/><path d="M471 266h6.5v6.5h-6.5z" fill="#ff003c"/><path d="M477 266h6.5v6.5h-6.5z" fill="#ff003b"/><path d="M483 266h6.5v6.5h-6.5z" fill="#ff003b"/><path d="M489 266h6.5v6.5h-6.5z" fill="#ff003a"/><path d="M495 266h6.5v6.5h-6.5z" fill="#ff0039"/><path d="M501 266h6.5v6.5h-6.5z" fill="#ff0039"/><path d="M507 266h6.5v6.5h-6.5z" fill="#ff0039"/><path d="M513 266h6.5v6.5h-6.5z" fill="#ff0038"/><path d="M519 266h6.5v6.5h-6.5z" fill="#ff0038"/><path d="M525 266h6.5v6.5h-6.5z" fill="#ff0037"/><path d="M531 266h6.5v6.5h-6.5z" fill="#ff0037"/><path d="M537 266h6.5v6.5h-6.5z" fill="#ff0037"/><path d="M543 266h6.5v6.5h-6.5z" fill="#ff0036"/><path d="M549 266h6.5v6.5h-6.5z" fill="#ff0036"/><path d="M555 266h6.5v6.5h-6.5z" fill="#ff0036"/><path d="M99 272h6.5v6.5h-6.5z" fill="#ff0558"/><path d="M105 272h6.5v6.5h-6.5z" fill="#ff0359"/><path d="M111 272h6.5v6.5h-6.5z" fill="#ff025b"/><path d="M117 272h6.5v6.5h-6.5z" fill="#ff015c"/><path d="M123 272h6.5v6.5h-6.5z" fill="#ff015d"/><path d="M129 272h6.5v6.5h-6.5z" fill="#ff005e"/><path d="M135 272h6.5v6.5h-6.5z" fill="#ff005f"/><path d="M141 272h6.5v6.5h-6.5z" fill="#ff005f"/><path d="M147 272h6.5v6.5h-6.5z" fill="#ff005f"/><path d="M153 272h6.5v6.5h-6.5z" fill="#ff005f"/><path d="M159 272h6.5v6.5h-6.5z" fill="#ff005f"/><path d="M165 272h6.5v6.5h-6.5z" fill="#ff005f"/><path d="M171 272h6.5v6.5h-6.5z" fill="#ff005e"/><path d="M177 272h6.5v6.5h-6.5z" fill="#ff005e"/><path d="M183 272h6.5v6.5h-6.5z" fill="#ff005d"/><path d="M189 272h6.5v6.5h-6.5z" fill="#ff005c"/><path d="M195 272h6.5v6.5h-6.5z" fill="#ff005b"/><path d="M201 272h6.5v6.5h-6.5z" fill="#ff005b"/><path d="M207 272h6.5v6.5h-6.5z" fill="#ff005a"/><path d="M213 272h6.5v6.5h-6.5z" fill="#ff0059"/><path d="M219 272h6.5v6.5h-6.5z" fill="#ff0058"/><path d="M225 272h6.5v6.5h-6.5z" fill="#ff0058"/><path d="M231 272h6.5v6.5h-6.5z" fill="#ff0057"/><path d="M237 272h6.5v6.5h-6.5z" fill="#ff0056"/><path d="M243 272h6.5v6.5h-6.5z" fill="#ff0055"/><path d="M249 272h6.5v6.5h-6.5z" fill="#ff0054"/><path d="M255 272h6.5v6.5h-6.5z" fill="#ff0054"/><path d="M261 272h6.5v6.5h-6.5z" fill="#ff0053"/><path d="M267 272h6.5v6.5h-6.5z" fill="#ff0052"/><path d="M273 272h6.5v6.5h-6.5z" fill="#ff0051"/><path d="M279 272h6.5v6.5h-6.5z" fill="#ff0051"/><path d="M285 272h6.5v6.5h-6.5z" fill="#ff0050"/><path d="M291 272h6.5v6.5h-6.5z" fill="#ff004f"/><path d="M297 272h6.5v6.5h-6.5z" fill="#ff004e"/><path d="M303 272h6.5v6.5h-6.5z" fill="#ff004d"/><path d="M309 272h6.5v6.5h-6.5z" fill="#ff004d"/><path d="M315 272h6.5v6.5h-6.5z" fill="#ff004d"/><path d="M321 272h6.5v6.5h-6.5z" fill="#ff004d"/><path d="M327 272h6.5v6.5h-6.5z" fill="#ff004d"/><path d="M333 272h6.5v6.5h-6.5z" fill="#ff004d"/><path d="M339 272h6.5v6.5h-6.5z" fill="#ff004d"/><path d="M345 272h6.5v6.5h-6.5z" fill="#ff004d"/><path d="M351 272h6.5v6.5h-6.5z" fill="#ff004d"/><path d="M357 272h6.5v6.5h-6.5z" fill="#ff004c"/><path d="M363 272h6.5v6.5h-6.5z" fill="#ff004b"/><path d="M369 272h6.5v6.5h-6.5z" fill="#ff004b"/><path d="M375 272h6.5v6.5h-6.5z" fill="#ff0049"/><path d="M381 272h6.5v6.5h-6.5z" fill="#ff0048"/><path d="M387 272h6.5v6.5h-6.5z" fill="#ff0046"/><path d="M393 272h6.5v6.5h-6.5z" fill="#ff0045"/><path d="M399 272h6.5v6.5h-6.5z" fill="#ff0043"/><path d="M405 272h6.5v6.5h-6.5z" fill="#ff0041"/><path d="M411 272h6.5v6.5h-6.5z" fill="#ff0040"/><path d="M417 272h6.5v6.5h-6.5z" fill="#ff003f"/><path d="M423 272h6.5v6.5h-6.5z" fill="#ff003e"/><path d="M429 272h6.5v6.5h-6.5z" fill="#ff003d"/><path d="M435 272h6.5v6.5h-6.5z" fill="#ff003d"/><path d="M441 272h6.5v6.5h-6.5z" fill="#ff003d"/><path d="M447 272h6.5v6.5h-6.5z" fill="#ff003d"/><path d="M453 272h6.5v6.5h-6.5z" fill="#ff003c"/><path d="M459 272h6.5v6.5h-6.5z" fill="#ff003c"/><path d="M465 272h6.5v6.5h-6.5z" fill="#ff003b"/><path d="M471 272h6.5v6.5h-6.5z" fill="#ff003b"/><path d="M477 272h6.5v6.5h-6.5z" fill="#ff003a"/><path d="M483 272h6.5v6.5h-6.5z" fill="#ff003a"/><path d="M489 272h6.5v6.5h-6.5z" fill="#ff0039"/><path d="M495 272h6.5v6.5h-6.5z" fill="#ff0038"/><path d="M501 272h6.5v6.5h-6.5z" fill="#ff0038"/><path d="M507 272h6.5v6.5h-6.5z" fill="#ff0037"/><path d="M513 272h6.5v6.5h-6.5z" fill="#ff0037"/><path d="M519 272h6.5v6.5h-6.5z" fill="#ff0036"/><path d="M525 272h6.5v6.5h-6.5z" fill="#ff0036"/><path d="M531 272h6.5v6.5h-6.5z" fill="#ff0035"/><path d="M537 272h6.5v6.5h-6.5z" fill="#ff0035"/><path d="M543 272h6.5v6.5h-6.5z" fill="#ff0035"/><path d="M549 272h6.5v6.5h-6.5z" fill="#ff0035"/><path d="M555 272h6.5v6.5h-6.5z" fill="#ff0035"/><path d="M99 278h6.5v6.5h-6.5z" fill="#ff0458"/><path d="M105 278h6.5v6.5h-6.5z" fill="#ff0359"/><path d="M111 278h6.5v6.5h-6.5z" fill="#ff025a"/><path d="M117 278h6.5v6.5h-6.5z" fill="#ff015b"/><path d="M123 278h6.5v6.5h-6.5z" fill="#ff015c"/><path d="M129 278h6.5v6.5h-6.5z" fill="#ff005c"/><path d="M135 278h6.5v6.5h-6.5z" fill="#ff005d"/><path d="M141 278h6.5v6.5h-6.5z" fill="#ff005d"/><path d="M147 278h6.5v6.5h-6.5z" fill="#ff005d"/><path d="M153 278h6.5v6.5h-6.5z" fill="#ff005d"/><path d="M159 278h6.5v6.5h-6.5z" fill="#ff005d"/><path d="M165 278h6.5v6.5h-6.5z" fill="#ff005d"/><path d="M171 278h6.5v6.5h-6.5z" fill="#ff005d"/><path d="M177 278h6.5v6.5h-6.5z" fill="#ff005c"/><path d="M183 278h6.5v6.5h-6.5z" fill="#ff005c"/><path d="M189 278h6.5v6.5h-6.5z" fill="#ff005b"/><path d="M195 278h6.5v6.5h-6.5z" fill="#ff005a"/><path d="M201 278h6.5v6.5h-6.5z" fill="#ff005a"/><path d="M207 278h6.5v6.5h-6.5z" fill="#ff0059"/><path d="M213 278h6.5v6.5h-6.5z" fill="#ff0058"/><path d="M219 278h6.5v6.5h-6.5z" fill="#ff0057"/><path d="M225 278h6.5v6.5h-6.5z" fill="#ff0057"/><path d="M231 278h6.5v6.5h-6.5z" fill="#ff0056"/><path d="M237 278h6.5v6.5h-6.5z" fill="#ff0055"/><path d="M243 278h6.5v6.5h-6.5z" fill="#ff0054"/><path d="M249 278h6.5v6.5h-6.5z" fill="#ff0054"/><path d="M255 278h6.5v6.5h-6.5z" fill="#ff0053"/><path d="M261 278h6.5v6.5h-6.5z" fill="#ff0052"/><path d="M267 278h6.5v6.5h-6.5z" fill="#ff0051"/><path d="M273 278h6.5v6.5h-6.5z" fill="#ff0050"/><path d="M279 278h6.5v6.5h-6.5z" fill="#ff004f"/><path d="M285 278h6.5v6.5h-6.5z" fill="#ff004f"/><path d="M291 278h6.5v6.5h-6.5z" fill="#ff004e"/><path d="M297 278h6.5v6.5h-6.5z" fill="#ff004d"/><path d="M303 278h6.5v6.5h-6.5z" fill="#ff004c"/><path d="M309 278h6.5v6.5h-6.5z" fill="#ff004c"/><path d="M315 278h6.5v6.5h-6.5z" fill="#ff004c"/><path d="M321 278h6.5v6.5h-6.5z" fill="#ff004c"/><path d="M327 278h6.5v6.5h-6.5z" fill="#ff004c"/><path d="M333 278h6.5v6.5h-6.5z" fill="#ff004c"/><path d="M339 278h6.5v6.5h-6.5z" fill="#ff004c"/><path d="M345 278h6.5v6.5h-6.5z" fill="#ff004c"/><path d="M351 278h6.5v6.5h-6.5z" fill="#ff004c"/><path d="M357 278h6.5v6.5h-6.5z" fill="#ff004b"/><path d="M363 278h6.5v6.5h-6.5z" fill="#ff004b"/><path d="M369 278h6.5v6.5h-6.5z" fill="#ff004a"/><path d="M375 278h6.5v6.5h-6.5z" fill="#ff0049"/><path d="M381 278h6.5v6.5h-6.5z" fill="#ff0047"/><path d="M387 278h6.5v6.5h-6.5z" fill="#ff0045"/><path d="M393 278h6.5v6.5h-6.5z" fill="#ff0043"/><path d="M399 278h6.5v6.5h-6.5z" fill="#ff0041"/><path d="M405 278h6.5v6.5h-6.5z" fill="#ff003f"/><path d="M411 278h6.5v6.5h-6.5z" fill="#ff003d"/><path d="M417 278h6.5v6.5h-6.5z" fill="#ff003c"/><path d="M423 278h6.5v6.5h-6.5z" fill="#ff003b"/><path d="M429 278h6.5v6.5h-6.5z" fill="#ff003b"/><path d="M435 278h6.5v6.5h-6.5z" fill="#ff003a"/><path d="M441 278h6.5v6.5h-6.5z" fill="#ff003a"/><path d="M447 278h6.5v6.5h-6.5z" fill="#ff003a"/><path d="M453 278h6.5v6.5h-6.5z" fill="#ff003a"/><path d="M459 278h6.5v6.5h-6.5z" fill="#ff003a"/><path d="M465 278h6.5v6.5h-6.5z" fill="#ff003a"/><path d="M471 278h6.5v6.5h-6.5z" fill="#ff003a"/><path d="M477 278h6.5v6.5h-6.5z" fill="#ff0039"/><path d="M483 278h6.5v6.5h-6.5z" fill="#ff0039"/><path d="M489 278h6.5v6.5h-6.5z" fill="#ff0038"/><path d="M495 278h6.5v6.5h-6.5z" fill="#ff0037"/><path d="M501 278h6.5v6.5h-6.5z" fill="#ff0037"/><path d="M507 278h6.5v6.5h-6.5z" fill="#ff0036"/><path d="M513 278h6.5v6.5h-6.5z" fill="#ff0035"/><path d="M519 278h6.5v6.5h-6.5z" fill="#ff0034"/><path d="M525 278h6.5v6.5h-6.5z" fill="#ff0034"/><path d="M531 278h6.5v6.5h-6.5z" fill="#ff0034"/><path d="M537 278h6.5v6.5h-6.5z" fill="#ff0034"/><path d="M543 278h6.5v6.5h-6.5z" fill="#ff0034"/><path d="M549 278h6.5v6.5h-6.5z" fill="#ff0034"/><path d="M555 278h6.5v6.5h-6.5z" fill="#ff0034"/><path d="M99 284h6.5v6.5h-6.5z" fill="#ff0458"/><path d="M105 284h6.5v6.5h-6.5z" fill="#ff0359"/><path d="M111 284h6.5v6.5h-6.5z" fill="#ff0259"/><path d="M117 284h6.5v6.5h-6.5z" fill="#ff015a"/><path d="M123 284h6.5v6.5h-6.5z" fill="#ff015a"/><path d="M129 284h6.5v6.5h-6.5z" fill="#ff005b"/><path d="M135 284h6.5v6.5h-6.5z" fill="#ff005b"/><path d="M141 284h6.5v6.5h-6.5z" fill="#ff005c"/><path d="M147 284h6.5v6.5h-6.5z" fill="#ff005c"/><path d="M153 284h6.5v6.5h-6.5z" fill="#ff005c"/><path d="M159 284h6.5v6.5h-6.5z" fill="#ff005c"/><path d="M165 284h6.5v6.5h-6.5z" fill="#ff005c"/><path d="M171 284h6.5v6.5h-6.5z" fill="#ff005c"/><path d="M177 284h6.5v6.5h-6.5z" fill="#ff005c"/><path d="M183 284h6.5v6.5h-6.5z" fill="#ff005b"/><path d="M189 284h6.5v6.5h-6.5z" fill="#ff005b"/><path d="M195 284h6.5v6.5h-6.5z" fill="#ff005a"/><path d="M201 284h6.5v6.5h-6.5z" fill="#ff0059"/><path d="M207 284h6.5v6.5h-6.5z" fill="#ff0059"/><path d="M213 284h6.5v6.5h-6.5z" fill="#ff0058"/><path d="M219 284h6.5v6.5h-6.5z" fill="#ff0057"/><path d="M225 284h6.5v6.5h-6.5z" fill="#ff0056"/><path d="M231 284h6.5v6.5h-6.5z" fill="#ff0055"/><path d="M237 284h6.5v6.5h-6.5z" fill="#ff0054"/><path d="M243 284h6.5v6.5h-6.5z" fill="#ff0054"/><path d="M249 284h6.5v6.5h-6.5z" fill="#ff0053"/><path d="M255 284h6.5v6.5h-6.5z" fill="#ff0053"/><path d="M261 284h6.5v6.5h-6.5z" fill="#ff0052"/><path d="M267 284h6.5v6.5h-6.5z" fill="#ff0051"/><path d="M273 284h6.5v6.5h-6.5z" fill="#ff0050"/><path d="M279 284h6.5v6.5h-6.5z" fill="#ff004f"/><path d="M285 284h6.5v6.5h-6.5z" fill="#ff004e"/><path d="M291 284h6.5v6.5h-6.5z" fill="#ff004d"/><path d="M297 284h6.5v6.5h-6.5z" fill="#ff004c"/><path d="M303 284h6.5v6.5h-6.5z" fill="#ff004c"/><path d="M309 284h6.5v6.5h-6.5z" fill="#ff004b"/><path d="M315 284h6.5v6.5h-6.5z" fill="#ff004b"/><path d="M321 284h6.5v6.5h-6.5z" fill="#ff004b"/><path d="M327 284h6.5v6.5h-6.5z" fill="#ff004b"/><path d="M333 284h6.5v6.5h-6.5z" fill="#ff004b"/><path d="M339 284h6.5v6.5h-6.5z" fill="#ff004b"/><path d="M345 284h6.5v6.5h-6.5z" fill="#ff004b"/><path d="M351 284h6.5v6.5h-6.5z" fill="#ff004b"/><path d="M357 284h6.5v6.5h-6.5z" fill="#ff004b"/><path d="M363 284h6.5v6.5h-6.5z" fill="#ff004a"/><path d="M369 284h6.5v6.5h-6.5z" fill="#ff0049"/><path d="M375 284h6.5v6.5h-6.5z" fill="#ff0048"/><path d="M381 284h6.5v6.5h-6.5z" fill="#ff0046"/><path d="M387 284h6.5v6.5h-6.5z" fill="#ff0044"/><path d="M393 284h6.5v6.5h-6.5z" fill="#ff0042"/><path d="M399 284h6.5v6.5h-6.5z" fill="#ff003f"/><path d="M405 284h6.5v6.5h-6.5z" fill="#ff003d"/><path d="M411 284h6.5v6.5h-6.5z" fill="#ff003b"/><path d="M417 284h6.5v6.5h-6.5z" fill="#ff0039"/><path d="M423 284h6.5v6.5h-6.5z" fill="#ff0038"/><path d="M429 284h6.5v6.5h-6.5z" fill="#ff0038"/><path d="M435 284h6.5v6.5h-6.5z" fill="#ff0038"/><path d="M441 284h6.5v6.5h-6.5z" fill="#ff0038"/><path d="M447 284h6.5v6.5h-6.5z" fill="#ff0038"/><path d="M453 284h6.5v6.5h-6.5z" fill="#ff0039"/><path d="M459 284h6.5v6.5h-6.5z" fill="#ff0039"/><path d="M465 284h6.5v6.5h-6.5z" fill="#ff0039"/><path d="M471 284h6.5v6.5h-6.5z" fill="#ff0039"/><path d="M477 284h6.5v6.5h-6.5z" fill="#ff0038"/><path d="M483 284h6.5v6.5h-6.5z" fill="#ff0038"/><path d="M489 284h6.5v6.5h-6.5z" fill="#ff0037"/><path d="M495 284h6.5v6.5h-6.5z" fill="#ff0037"/><path d="M501 284h6.5v6.5h-6.5z" fill="#ff0036"/><path d="M507 284h6.5v6.5h-6.5z" fill="#ff0035"/><path d="M513 284h6.5v6.5h-6.5z" fill="#ff0034"/><path d="M519 284h6.5v6.5h-6.5z" fill="#ff0033"/><path d="M525 284h6.5v6.5h-6.5z" fill="#ff0033"/><path d="M531 284h6.5v6.5h-6.5z" fill="#ff0033"/><path d="M537 284h6.5v6.5h-6.5z" fill="#ff0033"/><path d="M543 284h6.5v6.5h-6.5z" fill="#ff0033"/><path d="M549 284h6.5v6.5h-6.5z" fill="#ff0034"/><path d="M555 284h6.5v6.5h-6.5z" fill="#ff0034"/><path d="M99 290h6.5v6.5h-6.5z" fill="#ff0458"/><path d="M105 290h6.5v6.5h-6.5z" fill="#ff0359"/><path d="M111 290h6.5v6.5h-6.5z" fill="#ff0259"/><path d="M117 290h6.5v6.5h-6.5z" fill="#ff015a"/><path d="M123 290h6.5v6.5h-6.5z" fill="#ff015a"/><path d="M129 290h6.5v6.5h-6.5z" fill="#ff005a"/><path d="M135 290h6.5v6.5h-6.5z" fill="#ff005a"/><path d="M141 290h6.5v6.5h-6.5z" fill="#ff005b"/><path d="M147 290h6.5v6.5h-6.5z" fill="#ff005c"/><path d="M153 290h6.5v6.5h-6.5z" fill="#ff005c"/><path d="M159 290h6.5v6.5h-6.5z" fill="#ff005c"/><path d="M165 290h6.5v6.5h-6.5z" fill="#ff005c"/><path d="M171 290h6.5v6.5h-6.5z" fill="#ff005c"/><path d="M177 290h6.5v6.5h-6.5z" fill="#ff005c"/><path d="M183 290h6.5v6.5h-6.5z" fill="#ff005c"/><path d="M189 290h6.5v6.5h-6.5z" fill="#ff005b"/><path d="M195 290h6.5v6.5h-6.5z" fill="#ff005b"/><path d="M201 290h6.5v6.5h-6.5z" fill="#ff005a"/><path d="M207 290h6.5v6.5h-6.5z" fill="#ff0059"/><path d="M213 290h6.5v6.5h-6.5z" fill="#ff0059"/><path d="M219 290h6.5v6.5h-6.5z" fill="#ff0058"/><path d="M225 290h6.5v6.5h-6.5z" fill="#ff0057"/><path d="M231 290h6.5v6.5h-6.5z" fill="#ff0056"/><path d="M237 290h6.5v6.5h-6.5z" fill="#ff0055"/><path d="M243 290h6.5v6.5h-6.5z" fill="#ff0054"/><path d="M249 290h6.5v6.5h-6.5z" fill="#ff0054"/><path d="M255 290h6.5v6.5h-6.5z" fill="#ff0053"/><path d="M261 290h6.5v6.5h-6.5z" fill="#ff0052"/><path d="M267 290h6.5v6.5h-6.5z" fill="#ff0051"/><path d="M273 290h6.5v6.5h-6.5z" fill="#ff0050"/><path d="M279 290h6.5v6.5h-6.5z" fill="#ff004f"/><path d="M285 290h6.5v6.5h-6.5z" fill="#ff004e"/><path d="M291 290h6.5v6.5h-6.5z" fill="#ff004e"/><path d="M297 290h6.5v6.5h-6.5z" fill="#ff004d"/><path d="M303 290h6.5v6.5h-6.5z" fill="#ff004c"/><path d="M309 290h6.5v6.5h-6.5z" fill="#ff004b"/><path d="M315 290h6.5v6.5h-6.5z" fill="#ff004b"/><path d="M321 290h6.5v6.5h-6.5z" fill="#ff004b"/><path d="M327 290h6.5v6.5h-6.5z" fill="#ff004b"/><path d="M333 290h6.5v6.5h-6.5z" fill="#ff004b"/><path d="M339 290h6.5v6.5h-6.5z" fill="#ff004b"/><path d="M345 290h6.5v6.5h-6.5z" fill="#ff004b"/><path d="M351 290h6.5v6.5h-6.5z" fill="#ff004b"/><path d="M357 290h6.5v6.5h-6.5z" fill="#ff004a"/><path d="M363 290h6.5v6.5h-6.5z" fill="#ff004a"/><path d="M369 290h6.5v6.5h-6.5z" fill="#ff0049"/><path d="M375 290h6.5v6.5h-6.5z" fill="#ff0048"/><path d="M381 290h6.5v6.5h-6.5z" fill="#ff0046"/><path d="M387 290h6.5v6.5h-6.5z" fill="#ff0043"/><path d="M393 290h6.5v6.5h-6.5z" fill="#ff0041"/><path d="M399 290h6.5v6.5h-6.5z" fill="#ff003e"/><path d="M405 290h6.5v6.5h-6.5z" fill="#ff003b"/><path d="M411 290h6.5v6.5h-6.5z" fill="#ff0039"/><path d="M417 290h6.5v6.5h-6.5z" fill="#ff0037"/><path d="M423 290h6.5v6.5h-6.5z" fill="#ff0036"/><path d="M429 290h6.5v6.5h-6.5z" fill="#ff0036"/><path d="M435 290h6.5v6.5h-6.5z" fill="#ff0037"/><path d="M441 290h6.5v6.5h-6.5z" fill="#ff0037"/><path d="M447 290h6.5v6.5h-6.5z" fill="#ff0037"/><path d="M453 290h6.5v6.5h-6.5z" fill="#ff0037"/><path d="M459 290h6.5v6.5h-6.5z" fill="#ff0037"/><path d="M465 290h6.5v6.5h-6.5z" fill="#ff0038"/><path d="M471 290h6.5v6.5h-6.5z" fill="#ff0038"/><path d="M477 290h6.5v6.5h-6.5z" fill="#ff0038"/><path d="M483 290h6.5v6.5h-6.5z" fill="#ff0037"/><path d="M489 290h6.5v6.5h-6.5z" fill="#ff0037"/><path d="M495 290h6.5v6.5h-6.5z" fill="#ff0036"/><path d="M501 290h6.5v6.5h-6.5z" fill="#ff0035"/><path d="M507 290h6.5v6.5h-6.5z" fill="#ff0034"/><path d="M513 290h6.5v6.5h-6.5z" fill="#ff0033"/><path d="M519 290h6.5v6.5h-6.5z" fill="#ff0032"/><path d="M525 290h6.5v6.5h-6.5z" fill="#ff0032"/><path d="M531 290h6.5v6.5h-6.5z" fill="#ff0032"/><path d="M537 290h6.5v6.5h-6.5z" fill="#ff0032"/><path d="M543 290h6.5v6.5h-6.5z" fill="#ff0033"/><path d="M549 290h6.5v6.5h-6.5z" fill="#ff0033"/><path d="M555 290h6.5v6.5h-6.5z" fill="#ff0033"/><path d="M99 296h6.5v6.5h-6.5z" fill="#ff0359"/><path d="M105 296h6.5v6.5h-6.5z" fill="#ff0259"/><path d="M111 296h6.5v6.5h-6.5z" fill="#ff025a"/><path d="M117 296h6.5v6.5h-6.5z" fill="#ff015a"/><path d="M123 296h6.5v6.5h-6.5z" fill="#ff005a"/><path d="M129 296h6.5v6.5h-6.5z" fill="#ff005b"/><path d="M135 296h6.5v6.5h-6.5z" fill="#ff005b"/><path d="M141 296h6.5v6.5h-6.5z" fill="#ff005c"/><path d="M147 296h6.5v6.5h-6.5z" fill="#ff005c"/><path d="M153 296h6.5v6.5h-6.5z" fill="#ff005d"/><path d="M159 296h6.5v6.5h-6.5z" fill="#ff005d"/><path d="M165 296h6.5v6.5h-6.5z" fill="#ff005d"/><path d="M171 296h6.5v6.5h-6.5z" fill="#ff005d"/><path d="M177 296h6.5v6.5h-6.5z" fill="#ff005d"/><path d="M183 296h6.5v6.5h-6.5z" fill="#ff005d"/><path d="M189 296h6.5v6.5h-6.5z" fill="#ff005d"/><path d="M195 296h6.5v6.5h-6.5z" fill="#ff005c"/><path d="M201 296h6.5v6.5h-6.5z" fill="#ff005c"/><path d="M207 296h6.5v6.5h-6.5z" fill="#ff005b"/><path d="M213 296h6.5v6.5h-6.5z" fill="#ff005b"/><path d="M219 296h6.5v6.5h-6.5z" fill="#ff005a"/><path d="M225 296h6.5v6.5h-6.5z" fill="#ff0059"/><path d="M231 296h6.5v6.5h-6.5z" fill="#ff0058"/><path d="M237 296h6.5v6.5h-6.5z" fill="#ff0057"/><path d="M243 296h6.5v6.5h-6.5z" fill="#ff0056"/><path d="M249 296h6.5v6.5h-6.5z" fill="#ff0055"/><path d="M255 296h6.5v6.5h-6.5z" fill="#ff0055"/><path d="M261 296h6.5v6.5h-6.5z" fill="#ff0054"/><path d="M267 296h6.5v6.5h-6.5z" fill="#ff0053"/><path d="M273 296h6.5v6.5h-6.5z" fill="#ff0051"/><path d="M279 296h6.5v6.5h-6.5z" fill="#ff0051"/><path d="M285 296h6.5v6.5h-6.5z" fill="#ff0050"/><path d="M291 296h6.5v6.5h-6.5z" fill="#ff004f"/><path d="M297 296h6.5v6.5h-6.5z" fill="#ff004e"/><path d="M303 296h6.5v6.5h-6.5z" fill="#ff004d"/><path d="M309 296h6.5v6.5h-6.5z" fill="#ff004c"/><path d="M315 296h6.5v6.5h-6.5z" fill="#ff004c"/><path d="M321 296h6.5v6.5h-6.5z" fill="#ff004c"/><path d="M327 296h6.5v6.5h-6.5z" fill="#ff004c"/><path d="M333 296h6.5v6.5h-6.5z" fill="#ff004c"/><path d="M339 296h6.5v6.5h-6.5z" fill="#ff004c"/><path d="M345 296h6.5v6.5h-6.5z" fill="#ff004b"/><path d="M351 296h6.5v6.5h-6.5z" fill="#ff004b"/><path d="M357 296h6.5v6.5h-6.5z" fill="#ff004a"/><path d="M363 296h6.5v6.5h-6.5z" fill="#ff004a"/><path d="M369 296h6.5v6.5h-6.5z" fill="#ff0049"/><path d="M375 296h6.5v6.5h-6.5z" fill="#ff0047"/><path d="M381 296h6.5v6.5h-6.5z" fill="#ff0045"/><path d="M387 296h6.5v6.5h-6.5z" fill="#ff0043"/><path d="M393 296h6.5v6.5h-6.5z" fill="#ff0040"/><path d="M399 296h6.5v6.5h-6.5z" fill="#ff003d"/><path d="M405 296h6.5v6.5h-6.5z" fill="#ff003b"/><path d="M411 296h6.5v6.5h-6.5z" fill="#ff0038"/><path d="M417 296h6.5v6.5h-6.5z" fill="#ff0036"/><path d="M423 296h6.5v6.5h-6.5z" fill="#ff0036"/><path d="M429 296h6.5v6.5h-6.5z" fill="#ff0036"/><path d="M435 296h6.5v6.5h-6.5z" fill="#ff0036"/><path d="M441 296h6.5v6.5h-6.5z" fill="#ff0036"/><path d="M447 296h6.5v6.5h-6.5z" fill="#ff0036"/><path d="M453 296h6.5v6.5h-6.5z" fill="#ff0036"/><path d="M459 296h6.5v6.5h-6.5z" fill="#ff0037"/><path d="M465 296h6.5v6.5h-6.5z" fill="#ff0037"/><path d="M471 296h6.5v6.5h-6.5z" fill="#ff0037"/><path d="M477 296h6.5v6.5h-6.5z" fill="#ff0037"/><path d="M483 296h6.5v6.5h-6.5z" fill="#ff0037"/><path d="M489 296h6.5v6.5h-6.5z" fill="#ff0036"/><path d="M495 296h6.5v6.5h-6.5z" fill="#ff0036"/><path d="M501 296h6.5v6.5h-6.5z" fill="#ff0035"/><path d="M507 296h6.5v6.5h-6.5z" fill="#ff0034"/><path d="M513 296h6.5v6.5h-6.5z" fill="#ff0033"/><path d="M519 296h6.5v6.5h-6.5z" fill="#ff0032"/><path d="M525 296h6.5v6.5h-6.5z" fill="#ff0032"/><path d="M531 296h6.5v6.5h-6.5z" fill="#ff0032"/><path d="M537 296h6.5v6.5h-6.5z" fill="#ff0032"/><path d="M543 296h6.5v6.5h-6.5z" fill="#ff0033"/><path d="M549 296h6.5v6.5h-6.5z" fill="#ff0033"/><path d="M555 296h6.5v6.5h-6.5z" fill="#ff0033"/><path d="M99 302h6.5v6.5h-6.5z" fill="#ff035a"/><path d="M105 302h6.5v6.5h-6.5z" fill="#ff025b"/><path d="M111 302h6.5v6.5h-6.5z" fill="#ff015b"/><path d="M117 302h6.5v6.5h-6.5z" fill="#ff015c"/><path d="M123 302h6.5v6.5h-6.5z" fill="#ff005c"/><path d="M129 302h6.5v6.5h-6.5z" fill="#ff005c"/><path d="M135 302h6.5v6.5h-6.5z" fill="#ff005d"/><path d="M141 302h6.5v6.5h-6.5z" fill="#ff005d"/><path d="M147 302h6.5v6.5h-6.5z" fill="#ff005e"/><path d="M153 302h6.5v6.5h-6.5z" fill="#ff005e"/><path d="M159 302h6.5v6.5h-6.5z" fill="#ff005f"/><path d="M165 302h6.5v6.5h-6.5z" fill="#ff005f"/><path d="M171 302h6.5v6.5h-6.5z" fill="#ff005f"/><path d="M177 302h6.5v6.5h-6.5z" fill="#ff005f"/><path d="M183 302h6.5v6.5h-6.5z" fill="#ff005f"/><path d="M189 302h6.5v6.5h-6.5z" fill="#ff005f"/><path d="M195 302h6.5v6.5h-6.5z" fill="#ff005f"/><path d="M201 302h6.5v6.5h-6.5z" fill="#ff005e"/><path d="M207 302h6.5v6.5h-6.5z" fill="#ff005e"/><path d="M213 302h6.5v6.5h-6.5z" fill="#ff005d"/><path d="M219 302h6.5v6.5h-6.5z" fill="#ff005d"/><path d="M225 302h6.5v6.5h-6.5z" fill="#ff005c"/><path d="M231 302h6.5v6.5h-6.5z" fill="#ff005b"/><path d="M237 302h6.5v6.5h-6.5z" fill="#ff005a"/><path d="M243 302h6.5v6.5h-6.5z" fill="#ff0059"/><path d="M249 302h6.5v6.5h-6.5z" fill="#ff0058"/><path d="M255 302h6.5v6.5h-6.5z" fill="#ff0057"/><path d="M261 302h6.5v6.5h-6.5z" fill="#ff0056"/><path d="M267 302h6.5v6.5h-6.5z" fill="#ff0055"/><path d="M273 302h6.5v6.5h-6.5z" fill="#ff0054"/><path d="M279 302h6.5v6.5h-6.5z" fill="#ff0053"/><path d="M285 302h6.5v6.5h-6.5z" fill="#ff0052"/><path d="M291 302h6.5v6.5h-6.5z" fill="#ff0051"/><path d="M297 302h6.5v6.5h-6.5z" fill="#ff0050"/><path d="M303 302h6.5v6.5h-6.5z" fill="#ff004f"/><path d="M309 302h6.5v6.5h-6.5z" fill="#ff004e"/><path d="M315 302h6.5v6.5h-6.5z" fill="#ff004e"/><path d="M321 302h6.5v6.5h-6.5z" fill="#ff004d"/><path d="M327 302h6.5v6.5h-6.5z" fill="#ff004d"/><path d="M333 302h6.5v6.5h-6.5z" fill="#ff004d"/><path d="M339 302h6.5v6.5h-6.5z" fill="#ff004d"/><path d="M345 302h6.5v6.5h-6.5z" fill="#ff004c"/><path d="M351 302h6.5v6.5h-6.5z" fill="#ff004c"/><path d="M357 302h6.5v6.5h-6.5z" fill="#ff004b"/><path d="M363 302h6.5v6.5h-6.5z" fill="#ff004a"/><path d="M369 302h6.5v6.5h-6.5z" fill="#ff0049"/><path d="M375 302h6.5v6.5h-6.5z" fill="#ff0047"/><path d="M381 302h6.5v6.5h-6.5z" fill="#ff0045"/><path d="M387 302h6.5v6.5h-6.5z" fill="#ff0043"/><path d="M393 302h6.5v6.5h-6.5z" fill="#ff0040"/><path d="M399 302h6.5v6.5h-6.5z" fill="#ff003d"/><path d="M405 302h6.5v6.5h-6.5z" fill="#ff003b"/><path d="M411 302h6.5v6.5h-6.5z" fill="#ff0039"/><path d="M417 302h6.5v6.5h-6.5z" fill="#ff0037"/><path d="M423 302h6.5v6.5h-6.5z" fill="#ff0036"/><path d="M429 302h6.5v6.5h-6.5z" fill="#ff0036"/><path d="M435 302h6.5v6.5h-6.5z" fill="#ff0035"/><path d="M441 302h6.5v6.5h-6.5z" fill="#ff0036"/><path d="M447 302h6.5v6.5h-6.5z" fill="#ff0036"/><path d="M453 302h6.5v6.5h-6.5z" fill="#ff0036"/><path d="M459 302h6.5v6.5h-6.5z" fill="#ff0036"/><path d="M465 302h6.5v6.5h-6.5z" fill="#ff0036"/><path d="M471 302h6.5v6.5h-6.5z" fill="#ff0037"/><path d="M477 302h6.5v6.5h-6.5z" fill="#ff0037"/><path d="M483 302h6.5v6.5h-6.5z" fill="#ff0037"/><path d="M489 302h6.5v6.5h-6.5z" fill="#ff0036"/><path d="M495 302h6.5v6.5h-6.5z" fill="#ff0036"/><path d="M501 302h6.5v6.5h-6.5z" fill="#ff0035"/><path d="M507 302h6.5v6.5h-6.5z" fill="#ff0035"/><path d="M513 302h6.5v6.5h-6.5z" fill="#ff0034"/><path d="M519 302h6.5v6.5h-6.5z" fill="#ff0033"/><path d="M525 302h6.5v6.5h-6.5z" fill="#ff0033"/><path d="M531 302h6.5v6.5h-6.5z" fill="#ff0033"/><path d="M537 302h6.5v6.5h-6.5z" fill="#ff0033"/><path d="M543 302h6.5v6.5h-6.5z" fill="#ff0033"/><path d="M549 302h6.5v6.5h-6.5z" fill="#ff0033"/><path d="M555 302h6.5v6.5h-6.5z" fill="#ff0033"/><path d="M99 308h6.5v6.5h-6.5z" fill="#ff035c"/><path d="M105 308h6.5v6.5h-6.5z" fill="#ff025c"/><path d="M111 308h6.5v6.5h-6.5z" fill="#ff015d"/><path d="M117 308h6.5v6.5h-6.5z" fill="#ff015e"/><path d="M123 308h6.5v6.5h-6.5z" fill="#ff005e"/><path d="M129 308h6.5v6.5h-6.5z" fill="#ff005f"/><path d="M135 308h6.5v6.5h-6.5z" fill="#ff005f"/><path d="M141 308h6.5v6.5h-6.5z" fill="#ff0060"/><path d="M147 308h6.5v6.5h-6.5z" fill="#ff0061"/><path d="M153 308h6.5v6.5h-6.5z" fill="#ff0061"/><path d="M159 308h6.5v6.5h-6.5z" fill="#ff0061"/><path d="M165 308h6.5v6.5h-6.5z" fill="#ff0062"/><path d="M171 308h6.5v6.5h-6.5z" fill="#ff0062"/><path d="M177 308h6.5v6.5h-6.5z" fill="#ff0062"/><path d="M183 308h6.5v6.5h-6.5z" fill="#ff0062"/><path d="M189 308h6.5v6.5h-6.5z" fill="#ff0062"/><path d="M195 308h6.5v6.5h-6.5z" fill="#ff0062"/><path d="M201 308h6.5v6.5h-6.5z" fill="#ff0062"/><path d="M207 308h6.5v6.5h-6.5z" fill="#ff0061"/><path d="M213 308h6.5v6.5h-6.5z" fill="#ff0060"/><path d="M219 308h6.5v6.5h-6.5z" fill="#ff005f"/><path d="M225 308h6.5v6.5h-6.5z" fill="#ff005e"/><path d="M231 308h6.5v6.5h-6.5z" fill="#ff005e"/><path d="M237 308h6.5v6.5h-6.5z" fill="#ff005d"/><path d="M243 308h6.5v6.5h-6.5z" fill="#ff005c"/><path d="M249 308h6.5v6.5h-6.5z" fill="#ff005a"/><path d="M255 308h6.5v6.5h-6.5z" fill="#ff0059"/><path d="M261 308h6.5v6.5h-6.5z" fill="#ff0058"/><path d="M267 308h6.5v6.5h-6.5z" fill="#ff0057"/><path d="M273 308h6.5v6.5h-6.5z" fill="#ff0056"/><path d="M279 308h6.5v6.5h-6.5z" fill="#ff0055"/><path d="M285 308h6.5v6.5h-6.5z" fill="#ff0054"/><path d="M291 308h6.5v6.5h-6.5z" fill="#ff0053"/><path d="M297 308h6.5v6.5h-6.5z" fill="#ff0052"/><path d="M303 308h6.5v6.5h-6.5z" fill="#ff0051"/><path d="M309 308h6.5v6.5h-6.5z" fill="#ff0050"/><path d="M315 308h6.5v6.5h-6.5z" fill="#ff0050"/><path d="M321 308h6.5v6.5h-6.5z" fill="#ff004f"/><path d="M327 308h6.5v6.5h-6.5z" fill="#ff004f"/><path d="M333 308h6.5v6.5h-6.5z" fill="#ff004e"/><path d="M339 308h6.5v6.5h-6.5z" fill="#ff004e"/><path d="M345 308h6.5v6.5h-6.5z" fill="#ff004d"/><path d="M351 308h6.5v6.5h-6.5z" fill="#ff004c"/><path d="M357 308h6.5v6.5h-6.5z" fill="#ff004b"/><path d="M363 308h6.5v6.5h-6.5z" fill="#ff004a"/><path d="M369 308h6.5v6.5h-6.5z" fill="#ff0049"/><path d="M375 308h6.5v6.5h-6.5z" fill="#ff0047"/><path d="M381 308h6.5v6.5h-6.5z" fill="#ff0045"/><path d="M387 308h6.5v6.5h-6.5z" fill="#ff0043"/><path d="M393 308h6.5v6.5h-6.5z" fill="#ff0040"/><path d="M399 308h6.5v6.5h-6.5z" fill="#ff003e"/><path d="M405 308h6.5v6.5h-6.5z" fill="#ff003c"/><path d="M411 308h6.5v6.5h-6.5z" fill="#ff003a"/><path d="M417 308h6.5v6.5h-6.5z" fill="#ff0038"/><path d="M423 308h6.5v6.5h-6.5z" fill="#ff0037"/><path d="M429 308h6.5v6.5h-6.5z" fill="#ff0036"/><path d="M435 308h6.5v6.5h-6.5z" fill="#ff0036"/><path d="M441 308h6.5v6.5h-6.5z" fill="#ff0036"/><path d="M447 308h6.5v6.5h-6.5z" fill="#ff0036"/><path d="M453 308h6.5v6.5h-6.5z" fill="#ff0036"/><path d="M459 308h6.5v6.5h-6.5z" fill="#ff0036"/><path d="M465 308h6.5v6.5h-6.5z" fill="#ff0036"/><path d="M471 308h6.5v6.5h-6.5z" fill="#ff0036"/><path d="M477 308h6.5v6.5h-6.5z" fill="#ff0036"/><path d="M483 308h6.5v6.5h-6.5z" fill="#ff0036"/><path d="M489 308h6.5v6.5h-6.5z" fill="#ff0036"/><path d="M495 308h6.5v6.5h-6.5z" fill="#ff0036"/><path d="M501 308h6.5v6.5h-6.5z" fill="#ff0036"/><path d="M507 308h6.5v6.5h-6.5z" fill="#ff0035"/><path d="M513 308h6.5v6.5h-6.5z" fill="#ff0035"/><path d="M519 308h6.5v6.5h-6.5z" fill="#ff0034"/><path d="M525 308h6.5v6.5h-6.5z" fill="#ff0034"/><path d="M531 308h6.5v6.5h-6.5z" fill="#ff0034"/><path d="M537 308h6.5v6.5h-6.5z" fill="#ff0034"/><path d="M543 308h6.5v6.5h-6.5z" fill="#ff0033"/><path d="M549 308h6.5v6.5h-6.5z" fill="#ff0033"/><path d="M555 308h6.5v6.5h-6.5z" fill="#ff0033"/><path d="M99 314h6.5v6.5h-6.5z" fill="#ff035d"/><path d="M105 314h6.5v6.5h-6.5z" fill="#ff025e"/><path d="M111 314h6.5v6.5h-6.5z" fill="#ff015f"/><path d="M117 314h6.5v6.5h-6.5z" fill="#ff0160"/><path d="M123 314h6.5v6.5h-6.5z" fill="#ff0061"/><path d="M129 314h6.5v6.5h-6.5z" fill="#ff0062"/><path d="M135 314h6.5v6.5h-6.5z" fill="#ff0063"/><path d="M141 314h6.5v6.5h-6.5z" fill="#ff0063"/><path d="M147 314h6.5v6.5h-6.5z" fill="#ff0064"/><path d="M153 314h6.5v6.5h-6.5z" fill="#ff0064"/><path d="M159 314h6.5v6.5h-6.5z" fill="#ff0065"/><path d="M165 314h6.5v6.5h-6.5z" fill="#ff0065"/><path d="M171 314h6.5v6.5h-6.5z" fill="#ff0065"/><path d="M177 314h6.5v6.5h-6.5z" fill="#ff0065"/><path d="M183 314h6.5v6.5h-6.5z" fill="#ff0065"/><path d="M189 314h6.5v6.5h-6.5z" fill="#ff0065"/><path d="M195 314h6.5v6.5h-6.5z" fill="#ff0065"/><path d="M201 314h6.5v6.5h-6.5z" fill="#ff0065"/><path d="M207 314h6.5v6.5h-6.5z" fill="#ff0064"/><path d="M213 314h6.5v6.5h-6.5z" fill="#ff0063"/><path d="M219 314h6.5v6.5h-6.5z" fill="#ff0062"/><path d="M225 314h6.5v6.5h-6.5z" fill="#ff0061"/><path d="M231 314h6.5v6.5h-6.5z" fill="#ff0060"/><path d="M237 314h6.5v6.5h-6.5z" fill="#ff005f"/><path d="M243 314h6.5v6.5h-6.5z" fill="#ff005e"/><path d="M249 314h6.5v6.5h-6.5z" fill="#ff005d"/><path d="M255 314h6.5v6.5h-6.5z" fill="#ff005b"/><path d="M261 314h6.5v6.5h-6.5z" fill="#ff005a"/><path d="M267 314h6.5v6.5h-6.5z" fill="#ff0059"/><path d="M273 314h6.5v6.5h-6.5z" fill="#ff0058"/><path d="M279 314h6.5v6.5h-6.5z" fill="#ff0057"/><path d="M285 314h6.5v6.5h-6.5z" fill="#ff0056"/><path d="M291 314h6.5v6.5h-6.5z" fill="#ff0054"/><path d="M297 314h6.5v6.5h-6.5z" fill="#ff0054"/><path d="M303 314h6.5v6.5h-6.5z" fill="#ff0053"/><path d="M309 314h6.5v6.5h-6.5z" fill="#ff0052"/><path d="M315 314h6.5v6.5h-6.5z" fill="#ff0052"/><path d="M321 314h6.5v6.5h-6.5z" fill="#ff0051"/><path d="M327 314h6.5v6.5h-6.5z" fill="#ff0050"/><path d="M333 314h6.5v6.5h-6.5z" fill="#ff0050"/><path d="M339 314h6.5v6.5h-6.5z" fill="#ff004f"/><path d="M345 314h6.5v6.5h-6.5z" fill="#ff004e"/><path d="M351 314h6.5v6.5h-6.5z" fill="#ff004d"/><path d="M357 314h6.5v6.5h-6.5z" fill="#ff004c"/><path d="M363 314h6.5v6.5h-6.5z" fill="#ff004b"/><path d="M369 314h6.5v6.5h-6.5z" fill="#ff0049"/><path d="M375 314h6.5v6.5h-6.5z" fill="#ff0047"/><path d="M381 314h6.5v6.5h-6.5z" fill="#ff0045"/><path d="M387 314h6.5v6.5h-6.5z" fill="#ff0043"/><path d="M393 314h6.5v6.5h-6.5z" fill="#ff0041"/><path d="M399 314h6.5v6.5h-6.5z" fill="#ff003f"/><path d="M405 314h6.5v6.5h-6.5z" fill="#ff003d"/><path d="M411 314h6.5v6.5h-6.5z" fill="#ff003b"/><path d="M417 314h6.5v6.5h-6.5z" fill="#ff0039"/><path d="M423 314h6.5v6.5h-6.5z" fill="#ff0038"/><path d="M429 314h6.5v6.5h-6.5z" fill="#ff0037"/><path d="M435 314h6.5v6.5h-6.5z" fill="#ff0037"/><path d="M441 314h6.5v6.5h-6.5z" fill="#ff0036"/><path d="M447 314h6.5v6.5h-6.5z" fill="#ff0036"/><path d="M453 314h6.5v6.5h-6.5z" fill="#ff0036"/><path d="M459 314h6.5v6.5h-6.5z" fill="#ff0036"/><path d="M465 314h6.5v6.5h-6.5z" fill="#ff0036"/><path d="M471 314h6.5v6.5h-6.5z" fill="#ff0036"/><path d="M477 314h6.5v6.5h-6.5z" fill="#ff0037"/><path d="M483 314h6.5v6.5h-6.5z" fill="#ff0037"/><path d="M489 314h6.5v6.5h-6.5z" fill="#ff0037"/><path d="M495 314h6.5v6.5h-6.5z" fill="#ff0036"/><path d="M501 314h6.5v6.5h-6.5z" fill="#ff0036"/><path d="M507 314h6.5v6.5h-6.5z" fill="#ff0036"/><path d="M513 314h6.5v6.5h-6.5z" fill="#ff0036"/><path d="M519 314h6.5v6.5h-6.5z" fill="#ff0035"/><path d="M525 314h6.5v6.5h-6.5z" fill="#ff0035"/><path d="M531 314h6.5v6.5h-6.5z" fill="#ff0035"/><path d="M537 314h6.5v6.5h-6.5z" fill="#ff0034"/><path d="M543 314h6.5v6.5h-6.5z" fill="#ff0034"/><path d="M549 314h6.5v6.5h-6.5z" fill="#ff0034"/><path d="M555 314h6.5v6.5h-6.5z" fill="#ff0034"/><path d="M99 320h6.5v6.5h-6.5z" fill="#ff0260"/><path d="M105 320h6.5v6.5h-6.5z" fill="#ff0261"/><path d="M111 320h6.5v6.5h-6.5z" fill="#ff0162"/><path d="M117 320h6.5v6.5h-6.5z" fill="#ff0163"/><path d="M123 320h6.5v6.5h-6.5z" fill="#ff0064"/><path d="M129 320h6.5v6.5h-6.5z" fill="#ff0066"/><path d="M135 320h6.5v6.5h-6.5z" fill="#ff0067"/><path d="M141 320h6.5v6.5h-6.5z" fill="#ff0067"/><path d="M147 320h6.5v6.5h-6.5z" fill="#ff0068"/><path d="M153 320h6.5v6.5h-6.5z" fill="#ff0068"/><path d="M159 320h6.5v6.5h-6.5z" fill="#ff0069"/><path d="M165 320h6.5v6.5h-6.5z" fill="#ff0069"/><path d="M171 320h6.5v6.5h-6.5z" fill="#ff0069"/><path d="M177 320h6.5v6.5h-6.5z" fill="#ff0069"/><path d="M183 320h6.5v6.5h-6.5z" fill="#ff0069"/><path d="M189 320h6.5v6.5h-6.5z" fill="#ff0068"/><path d="M195 320h6.5v6.5h-6.5z" fill="#ff0068"/><path d="M201 320h6.5v6.5h-6.5z" fill="#ff0068"/><path d="M207 320h6.5v6.5h-6.5z" fill="#ff0066"/><path d="M213 320h6.5v6.5h-6.5z" fill="#ff0065"/><path d="M219 320h6.5v6.5h-6.5z" fill="#ff0064"/><path d="M225 320h6.5v6.5h-6.5z" fill="#ff0063"/><path d="M231 320h6.5v6.5h-6.5z" fill="#ff0062"/><path d="M237 320h6.5v6.5h-6.5z" fill="#ff0062"/><path d="M243 320h6.5v6.5h-6.5z" fill="#ff0060"/><path d="M249 320h6.5v6.5h-6.5z" fill="#ff005e"/><path d="M255 320h6.5v6.5h-6.5z" fill="#ff005d"/><path d="M261 320h6.5v6.5h-6.5z" fill="#ff005b"/><path d="M267 320h6.5v6.5h-6.5z" fill="#ff005b"/><path d="M273 320h6.5v6.5h-6.5z" fill="#ff005a"/><path d="M279 320h6.5v6.5h-6.5z" fill="#ff0058"/><path d="M285 320h6.5v6.5h-6.5z" fill="#ff0057"/><path d="M291 320h6.5v6.5h-6.5z" fill="#ff0056"/><path d="M297 320h6.5v6.5h-6.5z" fill="#ff0055"/><path d="M303 320h6.5v6.5h-6.5z" fill="#ff0055"/><path d="M309 320h6.5v6.5h-6.5z" fill="#ff0054"/><path d="M315 320h6.5v6.5h-6.5z" fill="#ff0053"/><path d="M321 320h6.5v6.5h-6.5z" fill="#ff0052"/><path d="M327 320h6.5v6.5h-6.5z" fill="#ff0052"/><path d="M333 320h6.5v6.5h-6.5z" fill="#ff0051"/><path d="M339 320h6.5v6.5h-6.5z" fill="#ff0050"/><path d="M345 320h6.5v6.5h-6.5z" fill="#ff004f"/><path d="M351 320h6.5v6.5h-6.5z" fill="#ff004e"/><path d="M357 320h6.5v6.5h-6.5z" fill="#ff004d"/><path d="M363 320h6.5v6.5h-6.5z" fill="#ff004b"/><path d="M369 320h6.5v6.5h-6.5z" fill="#ff0049"/><path d="M375 320h6.5v6.5h-6.5z" fill="#ff0048"/><path d="M381 320h6.5v6.5h-6.5z" fill="#ff0046"/><path d="M387 320h6.5v6.5h-6.5z" fill="#ff0043"/><path d="M393 320h6.5v6.5h-6.5z" fill="#ff0041"/><path d="M399 320h6.5v6.5h-6.5z" fill="#ff003f"/><path d="M405 320h6.5v6.5h-6.5z" fill="#ff003e"/><path d="M411 320h6.5v6.5h-6.5z" fill="#ff003c"/><path d="M417 320h6.5v6.5h-6.5z" fill="#ff003b"/><path d="M423 320h6.5v6.5h-6.5z" fill="#ff0039"/><path d="M429 320h6.5v6.5h-6.5z" fill="#ff0038"/><path d="M435 320h6.5v6.5h-6.5z" fill="#ff0038"/><path d="M441 320h6.5v6.5h-6.5z" fill="#ff0037"/><path d="M447 320h6.5v6.5h-6.5z" fill="#ff0037"/><path d="M453 320h6.5v6.5h-6.5z" fill="#ff0036"/><path d="M459 320h6.5v6.5h-6.5z" fill="#ff0036"/><path d="M465 320h6.5v6.5h-6.5z" fill="#ff0036"/><path d="M471 320h6.5v6.5h-6.5z" fill="#ff0037"/><path d="M477 320h6.5v6.5h-6.5z" fill="#ff0037"/><path d="M483 320h6.5v6.5h-6.5z" fill="#ff0037"/><path d="M489 320h6.5v6.5h-6.5z" fill="#ff0037"/><path d="M495 320h6.5v6.5h-6.5z" fill="#ff0037"/><path d="M501 320h6.5v6.5h-6.5z" fill="#ff0037"/><path d="M507 320h6.5v6.5h-6.5z" fill="#ff0037"/><path d="M513 320h6.5v6.5h-6.5z" fill="#ff0037"/><path d="M519 320h6.5v6.5h-6.5z" fill="#ff0036"/><path d="M525 320h6.5v6.5h-6.5z" fill="#ff0036"/><path d="M531 320h6.5v6.5h-6.5z" fill="#ff0036"/><path d="M537 320h6.5v6.5h-6.5z" fill="#ff0035"/><path d="M543 320h6.5v6.5h-6.5z" fill="#ff0035"/><path d="M549 320h6.5v6.5h-6.5z" fill="#ff0034"/><path d="M555 320h6.5v6.5h-6.5z" fill="#ff0034"/><path d="M99 326h6.5v6.5h-6.5z" fill="#ff0262"/><path d="M105 326h6.5v6.5h-6.5z" fill="#ff0263"/><path d="M111 326h6.5v6.5h-6.5z" fill="#ff0165"/><path d="M117 326h6.5v6.5h-6.5z" fill="#ff0166"/><path d="M123 326h6.5v6.5h-6.5z" fill="#ff0068"/><path d="M129 326h6.5v6.5h-6.5z" fill="#ff0069"/><path d="M135 326h6.5v6.5h-6.5z" fill="#ff006b"/><path d="M141 326h6.5v6.5h-6.5z" fill="#ff006c"/><path d="M147 326h6.5v6.5h-6.5z" fill="#ff006d"/><path d="M153 326h6.5v6.5h-6.5z" fill="#ff006d"/><path d="M159 326h6.5v6.5h-6.5z" fill="#ff006d"/><path d="M165 326h6.5v6.5h-6.5z" fill="#ff006d"/><path d="M171 326h6.5v6.5h-6.5z" fill="#ff006d"/><path d="M177 326h6.5v6.5h-6.5z" fill="#ff006d"/><path d="M183 326h6.5v6.5h-6.5z" fill="#ff006c"/><path d="M189 326h6.5v6.5h-6.5z" fill="#ff006b"/><path d="M195 326h6.5v6.5h-6.5z" fill="#ff006b"/><path d="M201 326h6.5v6.5h-6.5z" fill="#ff006a"/><path d="M207 326h6.5v6.5h-6.5z" fill="#ff0068"/><path d="M213 326h6.5v6.5h-6.5z" fill="#ff0066"/><path d="M219 326h6.5v6.5h-6.5z" fill="#ff0064"/><path d="M225 326h6.5v6.5h-6.5z" fill="#ff0063"/><path d="M231 326h6.5v6.5h-6.5z" fill="#ff0063"/><path d="M237 326h6.5v6.5h-6.5z" fill="#ff0062"/><path d="M243 326h6.5v6.5h-6.5z" fill="#ff0061"/><path d="M249 326h6.5v6.5h-6.5z" fill="#ff005f"/><path d="M255 326h6.5v6.5h-6.5z" fill="#ff005d"/><path d="M261 326h6.5v6.5h-6.5z" fill="#ff005c"/><path d="M267 326h6.5v6.5h-6.5z" fill="#ff005b"/><path d="M273 326h6.5v6.5h-6.5z" fill="#ff005a"/><path d="M279 326h6.5v6.5h-6.5z" fill="#ff0059"/><path d="M285 326h6.5v6.5h-6.5z" fill="#ff0057"/><path d="M291 326h6.5v6.5h-6.5z" fill="#ff0056"/><path d="M297 326h6.5v6.5h-6.5z" fill="#ff0055"/><path d="M303 326h6.5v6.5h-6.5z" fill="#ff0055"/><path d="M309 326h6.5v6.5h-6.5z" fill="#ff0055"/><path d="M315 326h6.5v6.5h-6.5z" fill="#ff0054"/><path d="M321 326h6.5v6.5h-6.5z" fill="#ff0053"/><path d="M327 326h6.5v6.5h-6.5z" fill="#ff0052"/><path d="M333 326h6.5v6.5h-6.5z" fill="#ff0052"/><path d="M339 326h6.5v6.5h-6.5z" fill="#ff0051"/><path d="M345 326h6.5v6.5h-6.5z" fill="#ff0050"/><path d="M351 326h6.5v6.5h-6.5z" fill="#ff004f"/><path d="M357 326h6.5v6.5h-6.5z" fill="#ff004d"/><path d="M363 326h6.5v6.5h-6.5z" fill="#ff004b"/><path d="M369 326h6.5v6.5h-6.5z" fill="#ff0049"/><path d="M375 326h6.5v6.5h-6.5z" fill="#ff0048"/><path d="M381 326h6.5v6.5h-6.5z" fill="#ff0046"/><path d="M387 326h6.5v6.5h-6.5z" fill="#ff0044"/><path d="M393 326h6.5v6.5h-6.5z" fill="#ff0042"/><path d="M399 326h6.5v6.5h-6.5z" fill="#ff0040"/><path d="M405 326h6.5v6.5h-6.5z" fill="#ff003e"/><path d="M411 326h6.5v6.5h-6.5z" fill="#ff003d"/><path d="M417 326h6.5v6.5h-6.5z" fill="#ff003c"/><path d="M423 326h6.5v6.5h-6.5z" fill="#ff003b"/><path d="M429 326h6.5v6.5h-6.5z" fill="#ff003a"/><path d="M435 326h6.5v6.5h-6.5z" fill="#ff0039"/><path d="M441 326h6.5v6.5h-6.5z" fill="#ff0038"/><path d="M447 326h6.5v6.5h-6.5z" fill="#ff0037"/><path d="M453 326h6.5v6.5h-6.5z" fill="#ff0037"/><path d="M459 326h6.5v6.5h-6.5z" fill="#ff0037"/><path d="M465 326h6.5v6.5h-6.5z" fill="#ff0037"/><path d="M471 326h6.5v6.5h-6.5z" fill="#ff0037"/><path d="M477 326h6.5v6.5h-6.5z" fill="#ff0037"/><path d="M483 326h6.5v6.5h-6.5z" fill="#ff0037"/><path d="M489 326h6.5v6.5h-6.5z" fill="#ff0037"/><path d="M495 326h6.5v6.5h-6.5z" fill="#ff0037"/><path d="M501 326h6.5v6.5h-6.5z" fill="#ff0037"/><path d="M507 326h6.5v6.5h-6.5z" fill="#ff0037"/><path d="M513 326h6.5v6.5h-6.5z" fill="#ff0037"/><path d="M519 326h6.5v6.5h-6.5z" fill="#ff0037"/><path d="M525 326h6.5v6.5h-6.5z" fill="#ff0037"/><path d="M531 326h6.5v6.5h-6.5z" fill="#ff0036"/><path d="M537 326h6.5v6.5h-6.5z" fill="#ff0036"/><path d="M543 326h6.5v6.5h-6.5z" fill="#ff0035"/><path d="M549 326h6.5v6.5h-6.5z" fill="#ff0035"/><path d="M555 326h6.5v6.5h-6.5z" fill="#ff0035"/><path d="M99 332h6.5v6.5h-6.5z" fill="#ff0265"/><path d="M105 332h6.5v6.5h-6.5z" fill="#ff0166"/><path d="M111 332h6.5v6.5h-6.5z" fill="#ff0168"/><path d="M117 332h6.5v6.5h-6.5z" fill="#ff016a"/><path d="M123 332h6.5v6.5h-6.5z" fill="#ff006c"/><path d="M129 332h6.5v6.5h-6.5z" fill="#ff006d"/><path d="M135 332h6.5v6.5h-6.5z" fill="#ff006f"/><path d="M141 332h6.5v6.5h-6.5z" fill="#ff0070"/><path d="M147 332h6.5v6.5h-6.5z" fill="#ff0071"/><path d="M153 332h6.5v6.5h-6.5z" fill="#ff0072"/><path d="M159 332h6.5v6.5h-6.5z" fill="#ff0073"/><path d="M165 332h6.5v6.5h-6.5z" fill="#ff0072"/><path d="M171 332h6.5v6.5h-6.5z" fill="#ff0072"/><path d="M177 332h6.5v6.5h-6.5z" fill="#ff0071"/><path d="M183 332h6.5v6.5h-6.5z" fill="#ff0070"/><path d="M189 332h6.5v6.5h-6.5z" fill="#ff006e"/><path d="M195 332h6.5v6.5h-6.5z" fill="#ff006c"/><path d="M201 332h6.5v6.5h-6.5z" fill="#ff006b"/><path d="M207 332h6.5v6.5h-6.5z" fill="#ff0068"/><path d="M213 332h6.5v6.5h-6.5z" fill="#ff0066"/><path d="M219 332h6.5v6.5h-6.5z" fill="#ff0064"/><path d="M225 332h6.5v6.5h-6.5z" fill="#ff0063"/><path d="M231 332h6.5v6.5h-6.5z" fill="#ff0062"/><path d="M237 332h6.5v6.5h-6.5z" fill="#ff0061"/><path d="M243 332h6.5v6.5h-6.5z" fill="#ff005f"/><path d="M249 332h6.5v6.5h-6.5z" fill="#ff005e"/><path d="M255 332h6.5v6.5h-6.5z" fill="#ff005c"/><path d="M261 332h6.5v6.5h-6.5z" fill="#ff005b"/><path d="M267 332h6.5v6.5h-6.5z" fill="#ff005a"/><path d="M273 332h6.5v6.5h-6.5z" fill="#ff0059"/><path d="M279 332h6.5v6.5h-6.5z" fill="#ff0057"/><path d="M285 332h6.5v6.5h-6.5z" fill="#ff0056"/><path d="M291 332h6.5v6.5h-6.5z" fill="#ff0056"/><path d="M297 332h6.5v6.5h-6.5z" fill="#ff0055"/><path d="M303 332h6.5v6.5h-6.5z" fill="#ff0055"/><path d="M309 332h6.5v6.5h-6.5z" fill="#ff0055"/><path d="M315 332h6.5v6.5h-6.5z" fill="#ff0054"/><path d="M321 332h6.5v6.5h-6.5z" fill="#ff0054"/><path d="M327 332h6.5v6.5h-6.5z" fill="#ff0053"/><path d="M333 332h6.5v6.5h-6.5z" fill="#ff0052"/><path d="M339 332h6.5v6.5h-6.5z" fill="#ff0051"/><path d="M345 332h6.5v6.5h-6.5z" fill="#ff0050"/><path d="M351 332h6.5v6.5h-6.5z" fill="#ff004f"/><path d="M357 332h6.5v6.5h-6.5z" fill="#ff004d"/><path d="M363 332h6.5v6.5h-6.5z" fill="#ff004b"/><path d="M369 332h6.5v6.5h-6.5z" fill="#ff0049"/><path d="M375 332h6.5v6.5h-6.5z" fill="#ff0047"/><path d="M381 332h6.5v6.5h-6.5z" fill="#ff0045"/><path d="M387 332h6.5v6.5h-6.5z" fill="#ff0044"/><path d="M393 332h6.5v6.5h-6.5z" fill="#ff0042"/><path d="M399 332h6.5v6.5h-6.5z" fill="#ff0040"/><path d="M405 332h6.5v6.5h-6.5z" fill="#ff003f"/><path d="M411 332h6.5v6.5h-6.5z" fill="#ff003e"/><path d="M417 332h6.5v6.5h-6.5z" fill="#ff003d"/><path d="M423 332h6.5v6.5h-6.5z" fill="#ff003c"/><path d="M429 332h6.5v6.5h-6.5z" fill="#ff003b"/><path d="M435 332h6.5v6.5h-6.5z" fill="#ff003a"/><path d="M441 332h6.5v6.5h-6.5z" fill="#ff0039"/><path d="M447 332h6.5v6.5h-6.5z" fill="#ff0038"/><path d="M453 332h6.5v6.5h-6.5z" fill="#ff0038"/><path d="M459 332h6.5v6.5h-6.5z" fill="#ff0037"/><path d="M465 332h6.5v6.5h-6.5z" fill="#ff0037"/><path d="M471 332h6.5v6.5h-6.5z" fill="#ff0037"/><path d="M477 332h6.5v6.5h-6.5z" fill="#ff0037"/><path d="M483 332h6.5v6.5h-6.5z" fill="#ff0037"/><path d="M489 332h6.5v6.5h-6.5z" fill="#ff0037"/><path d="M495 332h6.5v6.5h-6.5z" fill="#ff0037"/><path d="M501 332h6.5v6.5h-6.5z" fill="#ff0037"/><path d="M507 332h6.5v6.5h-6.5z" fill="#ff0037"/><path d="M513 332h6.5v6.5h-6.5z" fill="#ff0038"/><path d="M519 332h6.5v6.5h-6.5z" fill="#ff0038"/><path d="M525 332h6.5v6.5h-6.5z" fill="#ff0037"/><path d="M531 332h6.5v6.5h-6.5z" fill="#ff0037"/><path d="M537 332h6.5v6.5h-6.5z" fill="#ff0036"/><path d="M543 332h6.5v6.5h-6.5z" fill="#ff0036"/><path d="M549 332h6.5v6.5h-6.5z" fill="#ff0035"/><path d="M555 332h6.5v6.5h-6.5z" fill="#ff0035"/><path d="M99 338h6.5v6.5h-6.5z" fill="#ff0268"/><path d="M105 338h6.5v6.5h-6.5z" fill="#ff0169"/><path d="M111 338h6.5v6.5h-6.5z" fill="#ff016b"/><path d="M117 338h6.5v6.5h-6.5z" fill="#ff016d"/><path d="M123 338h6.5v6.5h-6.5z" fill="#ff006f"/><path d="M129 338h6.5v6.5h-6.5z" fill="#ff0071"/><path d="M135 338h6.5v6.5h-6.5z" fill="#ff0074"/><path d="M141 338h6.5v6.5h-6.5z" fill="#ff0075"/><path d="M147 338h6.5v6.5h-6.5z" fill="#ff0077"/><path d="M153 338h6.5v6.5h-6.5z" fill="#ff0078"/><path d="M159 338h6.5v6.5h-6.5z" fill="#ff0078"/><path d="M165 338h6.5v6.5h-6.5z" fill="#ff0078"/><path d="M171 338h6.5v6.5h-6.5z" fill="#ff0077"/><path d="M177 338h6.5v6.5h-6.5z" fill="#ff0076"/><path d="M183 338h6.5v6.5h-6.5z" fill="#ff0074"/><path d="M189 338h6.5v6.5h-6.5z" fill="#ff0071"/><path d="M195 338h6.5v6.5h-6.5z" fill="#ff006e"/><path d="M201 338h6.5v6.5h-6.5z" fill="#ff006b"/><path d="M207 338h6.5v6.5h-6.5z" fill="#ff0068"/><path d="M213 338h6.5v6.5h-6.5z" fill="#ff0065"/><path d="M219 338h6.5v6.5h-6.5z" fill="#ff0063"/><path d="M225 338h6.5v6.5h-6.5z" fill="#ff0061"/><path d="M231 338h6.5v6.5h-6.5z" fill="#ff0060"/><path d="M237 338h6.5v6.5h-6.5z" fill="#ff005f"/><path d="M243 338h6.5v6.5h-6.5z" fill="#ff005e"/><path d="M249 338h6.5v6.5h-6.5z" fill="#ff005d"/><path d="M255 338h6.5v6.5h-6.5z" fill="#ff005b"/><path d="M261 338h6.5v6.5h-6.5z" fill="#ff005a"/><path d="M267 338h6.5v6.5h-6.5z" fill="#ff0058"/><path d="M273 338h6.5v6.5h-6.5z" fill="#ff0057"/><path d="M279 338h6.5v6.5h-6.5z" fill="#ff0056"/><path d="M285 338h6.5v6.5h-6.5z" fill="#ff0055"/><path d="M291 338h6.5v6.5h-6.5z" fill="#ff0055"/><path d="M297 338h6.5v6.5h-6.5z" fill="#ff0054"/><path d="M303 338h6.5v6.5h-6.5z" fill="#ff0054"/><path d="M309 338h6.5v6.5h-6.5z" fill="#ff0054"/><path d="M315 338h6.5v6.5h-6.5z" fill="#ff0054"/><path d="M321 338h6.5v6.5h-6.5z" fill="#ff0054"/><path d="M327 338h6.5v6.5h-6.5z" fill="#ff0053"/><path d="M333 338h6.5v6.5h-6.5z" fill="#ff0052"/><path d="M339 338h6.5v6.5h-6.5z" fill="#ff0052"/><path d="M345 338h6.5v6.5h-6.5z" fill="#ff0051"/><path d="M351 338h6.5v6.5h-6.5z" fill="#ff0050"/><path d="M357 338h6.5v6.5h-6.5z" fill="#ff004e"/><path d="M363 338h6.5v6.5h-6.5z" fill="#ff004c"/><path d="M369 338h6.5v6.5h-6.5z" fill="#ff004a"/><path d="M375 338h6.5v6.5h-6.5z" fill="#ff0047"/><path d="M381 338h6.5v6.5h-6.5z" fill="#ff0045"/><path d="M387 338h6.5v6.5h-6.5z" fill="#ff0043"/><path d="M393 338h6.5v6.5h-6.5z" fill="#ff0042"/><path d="M399 338h6.5v6.5h-6.5z" fill="#ff0041"/><path d="M405 338h6.5v6.5h-6.5z" fill="#ff0040"/><path d="M411 338h6.5v6.5h-6.5z" fill="#ff003f"/><path d="M417 338h6.5v6.5h-6.5z" fill="#ff003e"/><path d="M423 338h6.5v6.5h-6.5z" fill="#ff003d"/><path d="M429 338h6.5v6.5h-6.5z" fill="#ff003c"/><path d="M435 338h6.5v6.5h-6.5z" fill="#ff003b"/><path d="M441 338h6.5v6.5h-6.5z" fill="#ff003a"/><path d="M447 338h6.5v6.5h-6.5z" fill="#ff0039"/><path d="M453 338h6.5v6.5h-6.5z" fill="#ff0039"/><path d="M459 338h6.5v6.5h-6.5z" fill="#ff0038"/><path d="M465 338h6.5v6.5h-6.5z" fill="#ff0038"/><path d="M471 338h6.5v6.5h-6.5z" fill="#ff0037"/><path d="M477 338h6.5v6.5h-6.5z" fill="#ff0037"/><path d="M483 338h6.5v6.5h-6.5z" fill="#ff0037"/><path d="M489 338h6.5v6.5h-6.5z" fill="#ff0037"/><path d="M495 338h6.5v6.5h-6.5z" fill="#ff0037"/><path d="M501 338h6.5v6.5h-6.5z" fill="#ff0037"/><path d="M507 338h6.5v6.5h-6.5z" fill="#ff0037"/><path d="M513 338h6.5v6.5h-6.5z" fill="#ff0038"/><path d="M519 338h6.5v6.5h-6.5z" fill="#ff0038"/><path d="M525 338h6.5v6.5h-6.5z" fill="#ff0037"/><path d="M531 338h6.5v6.5h-6.5z" fill="#ff0037"/><path d="M537 338h6.5v6.5h-6.5z" fill="#ff0037"/><path d="M543 338h6.5v6.5h-6.5z" fill="#ff0036"/><path d="M549 338h6.5v6.5h-6.5z" fill="#ff0036"/><path d="M555 338h6.5v6.5h-6.5z" fill="#ff0035"/><path d="M99 344h6.5v6.5h-6.5z" fill="#ff026b"/><path d="M105 344h6.5v6.5h-6.5z" fill="#ff016d"/><path d="M111 344h6.5v6.5h-6.5z" fill="#ff016f"/><path d="M117 344h6.5v6.5h-6.5z" fill="#ff0171"/><path d="M123 344h6.5v6.5h-6.5z" fill="#ff0073"/><path d="M129 344h6.5v6.5h-6.5z" fill="#ff0076"/><path d="M135 344h6.5v6.5h-6.5z" fill="#ff0078"/><path d="M141 344h6.5v6.5h-6.5z" fill="#ff007b"/><path d="M147 344h6.5v6.5h-6.5z" fill="#ff007d"/><path d="M153 344h6.5v6.5h-6.5z" fill="#ff007e"/><path d="M159 344h6.5v6.5h-6.5z" fill="#ff007f"/><path d="M165 344h6.5v6.5h-6.5z" fill="#ff007f"/><path d="M171 344h6.5v6.5h-6.5z" fill="#ff007e"/><path d="M177 344h6.5v6.5h-6.5z" fill="#ff007b"/><path d="M183 344h6.5v6.5h-6.5z" fill="#ff0078"/><path d="M189 344h6.5v6.5h-6.5z" fill="#ff0074"/><path d="M195 344h6.5v6.5h-6.5z" fill="#ff0070"/><path d="M201 344h6.5v6.5h-6.5z" fill="#ff006c"/><path d="M207 344h6.5v6.5h-6.5z" fill="#ff0068"/><path d="M213 344h6.5v6.5h-6.5z" fill="#ff0065"/><path d="M219 344h6.5v6.5h-6.5z" fill="#ff0063"/><path d="M225 344h6.5v6.5h-6.5z" fill="#ff0061"/><path d="M231 344h6.5v6.5h-6.5z" fill="#ff005f"/><path d="M237 344h6.5v6.5h-6.5z" fill="#ff005e"/><path d="M243 344h6.5v6.5h-6.5z" fill="#ff005d"/><path d="M249 344h6.5v6.5h-6.5z" fill="#ff005c"/><path d="M255 344h6.5v6.5h-6.5z" fill="#ff005b"/><path d="M261 344h6.5v6.5h-6.5z" fill="#ff005a"/><path d="M267 344h6.5v6.5h-6.5z" fill="#ff0058"/><path d="M273 344h6.5v6.5h-6.5z" fill="#ff0056"/><path d="M279 344h6.5v6.5h-6.5z" fill="#ff0055"/><path d="M285 344h6.5v6.5h-6.5z" fill="#ff0054"/><path d="M291 344h6.5v6.5h-6.5z" fill="#ff0054"/><path d="M297 344h6.5v6.5h-6.5z" fill="#ff0054"/><path d="M303 344h6.5v6.5h-6.5z" fill="#ff0054"/><path d="M309 344h6.5v6.5h-6.5z" fill="#ff0054"/><path d="M315 344h6.5v6.5h-6.5z" fill="#ff0054"/><path d="M321 344h6.5v6.5h-6.5z" fill="#ff0054"/><path d="M327 344h6.5v6.5h-6.5z" fill="#ff0054"/><path d="M333 344h6.5v6.5h-6.5z" fill="#ff0053"/><path d="M339 344h6.5v6.5h-6.5z" fill="#ff0053"/><path d="M345 344h6.5v6.5h-6.5z" fill="#ff0052"/><path d="M351 344h6.5v6.5h-6.5z" fill="#ff0051"/><path d="M357 344h6.5v6.5h-6.5z" fill="#ff004f"/><path d="M363 344h6.5v6.5h-6.5z" fill="#ff004d"/><path d="M369 344h6.5v6.5h-6.5z" fill="#ff004b"/><path d="M375 344h6.5v6.5h-6.5z" fill="#ff0048"/><path d="M381 344h6.5v6.5h-6.5z" fill="#ff0046"/><path d="M387 344h6.5v6.5h-6.5z" fill="#ff0044"/><path d="M393 344h6.5v6.5h-6.5z" fill="#ff0042"/><path d="M399 344h6.5v6.5h-6.5z" fill="#ff0042"/><path d="M405 344h6.5v6.5h-6.5z" fill="#ff0041"/><path d="M411 344h6.5v6.5h-6.5z" fill="#ff0040"/><path d="M417 344h6.5v6.5h-6.5z" fill="#ff0040"/><path d="M423 344h6.5v6.5h-6.5z" fill="#ff003f"/><path d="M429 344h6.5v6.5h-6.5z" fill="#ff003e"/><path d="M435 344h6.5v6.5h-6.5z" fill="#ff003d"/><path d="M441 344h6.5v6.5h-6.5z" fill="#ff003b"/><path d="M447 344h6.5v6.5h-6.5z" fill="#ff003a"/><path d="M453 344h6.5v6.5h-6.5z" fill="#ff003a"/><path d="M459 344h6.5v6.5h-6.5z" fill="#ff0039"/><path d="M465 344h6.5v6.5h-6.5z" fill="#ff0038"/><path d="M471 344h6.5v6.5h-6.5z" fill="#ff0038"/><path d="M477 344h6.5v6.5h-6.5z" fill="#ff0037"/><path d="M483 344h6.5v6.5h-6.5z" fill="#ff0037"/><path d="M489 344h6.5v6.5h-6.5z" fill="#ff0037"/><path d="M495 344h6.5v6.5h-6.5z" fill="#ff0037"/><path d="M501 344h6.5v6.5h-6.5z" fill="#ff0037"/><path d="M507 344h6.5v6.5h-6.5z" fill="#ff0037"/><path d="M513 344h6.5v6.5h-6.5z" fill="#ff0037"/><path d="M519 344h6.5v6.5h-6.5z" fill="#ff0038"/><path d="M525 344h6.5v6.5h-6.5z" fill="#ff0037"/><path d="M531 344h6.5v6.5h-6.5z" fill="#ff0037"/><path d="M537 344h6.5v6.5h-6.5z" fill="#ff0037"/><path d="M543 344h6.5v6.5h-6.5z" fill="#ff0036"/><path d="M549 344h6.5v6.5h-6.5z" fill="#ff0036"/><path d="M555 344h6.5v6.5h-6.5z" fill="#ff0035"/><path d="M99 350h6.5v6.5h-6.5z" fill="#ff026e"/><path d="M105 350h6.5v6.5h-6.5z" fill="#ff0170"/><path d="M111 350h6.5v6.5h-6.5z" fill="#ff0172"/><path d="M117 350h6.5v6.5h-6.5z" fill="#ff0074"/><path d="M123 350h6.5v6.5h-6.5z" fill="#ff0077"/><path d="M129 350h6.5v6.5h-6.5z" fill="#ff007a"/><path d="M135 350h6.5v6.5h-6.5z" fill="#ff007d"/><path d="M141 350h6.5v6.5h-6.5z" fill="#ff0080"/><path d="M147 350h6.5v6.5h-6.5z" fill="#ff0082"/><path d="M153 350h6.5v6.5h-6.5z" fill="#ff0085"/><path d="M159 350h6.5v6.5h-6.5z" fill="#ff0086"/><path d="M165 350h6.5v6.5h-6.5z" fill="#ff0086"/><path d="M171 350h6.5v6.5h-6.5z" fill="#ff0085"/><path d="M177 350h6.5v6.5h-6.5z" fill="#ff0082"/><path d="M183 350h6.5v6.5h-6.5z" fill="#ff007e"/><path d="M189 350h6.5v6.5h-6.5z" fill="#ff0079"/><path d="M195 350h6.5v6.5h-6.5z" fill="#ff0074"/><path d="M201 350h6.5v6.5h-6.5z" fill="#ff006e"/><path d="M207 350h6.5v6.5h-6.5z" fill="#ff006a"/><path d="M213 350h6.5v6.5h-6.5z" fill="#ff0066"/><path d="M219 350h6.5v6.5h-6.5z" fill="#ff0064"/><path d="M225 350h6.5v6.5h-6.5z" fill="#ff0061"/><path d="M231 350h6.5v6.5h-6.5z" fill="#ff005f"/><path d="M237 350h6.5v6.5h-6.5z" fill="#ff005e"/><path d="M243 350h6.5v6.5h-6.5z" fill="#ff005d"/><path d="M249 350h6.5v6.5h-6.5z" fill="#ff005e"/><path d="M255 350h6.5v6.5h-6.5z" fill="#ff005d"/><path d="M261 350h6.5v6.5h-6.5z" fill="#ff005b"/><path d="M267 350h6.5v6.5h-6.5z" fill="#ff0059"/><path d="M273 350h6.5v6.5h-6.5z" fill="#ff0057"/><path d="M279 350h6.5v6.5h-6.5z" fill="#ff0055"/><path d="M285 350h6.5v6.5h-6.5z" fill="#ff0055"/><path d="M291 350h6.5v6.5h-6.5z" fill="#ff0055"/><path d="M297 350h6.5v6.5h-6.5z" fill="#ff0055"/><path d="M303 350h6.5v6.5h-6.5z" fill="#ff0055"/><path d="M309 350h6.5v6.5h-6.5z" fill="#ff0055"/><path d="M315 350h6.5v6.5h-6.5z" fill="#ff0055"/><path d="M321 350h6.5v6.5h-6.5z" fill="#ff0055"/><path d="M327 350h6.5v6.5h-6.5z" fill="#ff0055"/><path d="M333 350h6.5v6.5h-6.5z" fill="#ff0055"/><path d="M339 350h6.5v6.5h-6.5z" fill="#ff0055"/><path d="M345 350h6.5v6.5h-6.5z" fill="#ff0054"/><path d="M351 350h6.5v6.5h-6.5z" fill="#ff0054"/><path d="M357 350h6.5v6.5h-6.5z" fill="#ff0052"/><path d="M363 350h6.5v6.5h-6.5z" fill="#ff0050"/><path d="M369 350h6.5v6.5h-6.5z" fill="#ff004d"/><path d="M375 350h6.5v6.5h-6.5z" fill="#ff004a"/><path d="M381 350h6.5v6.5h-6.5z" fill="#ff0047"/><path d="M387 350h6.5v6.5h-6.5z" fill="#ff0045"/><path d="M393 350h6.5v6.5h-6.5z" fill="#ff0043"/><path d="M399 350h6.5v6.5h-6.5z" fill="#ff0043"/><path d="M405 350h6.5v6.5h-6.5z" fill="#ff0042"/><path d="M411 350h6.5v6.5h-6.5z" fill="#ff0042"/><path d="M417 350h6.5v6.5h-6.5z" fill="#ff0041"/><path d="M423 350h6.5v6.5h-6.5z" fill="#ff0040"/><path d="M429 350h6.5v6.5h-6.5z" fill="#ff003f"/><path d="M435 350h6.5v6.5h-6.5z" fill="#ff003e"/><path d="M441 350h6.5v6.5h-6.5z" fill="#ff003d"/><path d="M447 350h6.5v6.5h-6.5z" fill="#ff003b"/><path d="M453 350h6.5v6.5h-6.5z" fill="#ff003a"/><path d="M459 350h6.5v6.5h-6.5z" fill="#ff0039"/><path d="M465 350h6.5v6.5h-6.5z" fill="#ff0039"/><path d="M471 350h6.5v6.5h-6.5z" fill="#ff0038"/><path d="M477 350h6.5v6.5h-6.5z" fill="#ff0037"/><path d="M483 350h6.5v6.5h-6.5z" fill="#ff0037"/><path d="M489 350h6.5v6.5h-6.5z" fill="#ff0037"/><path d="M495 350h6.5v6.5h-6.5z" fill="#ff0037"/><path d="M501 350h6.5v6.5h-6.5z" fill="#ff0037"/><path d="M507 350h6.5v6.5h-6.5z" fill="#ff0037"/><path d="M513 350h6.5v6.5h-6.5z" fill="#ff0037"/><path d="M519 350h6.5v6.5h-6.5z" fill="#ff0037"/><path d="M525 350h6.5v6.5h-6.5z" fill="#ff0037"/><path d="M531 350h6.5v6.5h-6.5z" fill="#ff0037"/><path d="M537 350h6.5v6.5h-6.5z" fill="#ff0037"/><path d="M543 350h6.5v6.5h-6.5z" fill="#ff0036"/><path d="M549 350h6.5v6.5h-6.5z" fill="#ff0036"/><path d="M555 350h6.5v6.5h-6.5z" fill="#ff0035"/><path d="M99 356h6.5v6.5h-6.5z" fill="#ff0271"/><path d="M105 356h6.5v6.5h-6.5z" fill="#ff0173"/><path d="M111 356h6.5v6.5h-6.5z" fill="#ff0176"/><path d="M117 356h6.5v6.5h-6.5z" fill="#ff0078"/><path d="M123 356h6.5v6.5h-6.5z" fill="#ff007b"/><path d="M129 356h6.5v6.5h-6.5z" fill="#ff007f"/><path d="M135 356h6.5v6.5h-6.5z" fill="#ff0082"/><path d="M141 356h6.5v6.5h-6.5z" fill="#ff0085"/><path d="M147 356h6.5v6.5h-6.5z" fill="#ff0089"/><path d="M153 356h6.5v6.5h-6.5z" fill="#ff008b"/><path d="M159 356h6.5v6.5h-6.5z" fill="#ff008d"/><path d="M165 356h6.5v6.5h-6.5z" fill="#ff008e"/><path d="M171 356h6.5v6.5h-6.5z" fill="#ff008d"/><path d="M177 356h6.5v6.5h-6.5z" fill="#ff008a"/><path d="M183 356h6.5v6.5h-6.5z" fill="#ff0085"/><path d="M189 356h6.5v6.5h-6.5z" fill="#ff007f"/><path d="M195 356h6.5v6.5h-6.5z" fill="#ff0079"/><path d="M201 356h6.5v6.5h-6.5z" fill="#ff0072"/><path d="M207 356h6.5v6.5h-6.5z" fill="#ff006d"/><path d="M213 356h6.5v6.5h-6.5z" fill="#ff006a"/><path d="M219 356h6.5v6.5h-6.5z" fill="#ff0066"/><path d="M225 356h6.5v6.5h-6.5z" fill="#ff0064"/><path d="M231 356h6.5v6.5h-6.5z" fill="#ff0061"/><path d="M237 356h6.5v6.5h-6.5z" fill="#ff0060"/><path d="M243 356h6.5v6.5h-6.5z" fill="#ff0061"/><path d="M249 356h6.5v6.5h-6.5z" fill="#ff0062"/><path d="M255 356h6.5v6.5h-6.5z" fill="#fe0062"/><path d="M261 356h6.5v6.5h-6.5z" fill="#ff0060"/><path d="M267 356h6.5v6.5h-6.5z" fill="#ff005d"/><path d="M273 356h6.5v6.5h-6.5z" fill="#ff005a"/><path d="M279 356h6.5v6.5h-6.5z" fill="#ff0058"/><path d="M285 356h6.5v6.5h-6.5z" fill="#ff0058"/><path d="M291 356h6.5v6.5h-6.5z" fill="#ff0057"/><path d="M297 356h6.5v6.5h-6.5z" fill="#ff0057"/><path d="M303 356h6.5v6.5h-6.5z" fill="#ff0056"/><path d="M309 356h6.5v6.5h-6.5z" fill="#ff0056"/><path d="M315 356h6.5v6.5h-6.5z" fill="#ff0056"/><path d="M321 356h6.5v6.5h-6.5z" fill="#ff0057"/><path d="M327 356h6.5v6.5h-6.5z" fill="#ff0057"/><path d="M333 356h6.5v6.5h-6.5z" fill="#ff0058"/><path d="M339 356h6.5v6.5h-6.5z" fill="#ff0058"/><path d="M345 356h6.5v6.5h-6.5z" fill="#ff0058"/><path d="M351 356h6.5v6.5h-6.5z" fill="#ff0058"/><path d="M357 356h6.5v6.5h-6.5z" fill="#ff0057"/><path d="M363 356h6.5v6.5h-6.5z" fill="#ff0055"/><path d="M369 356h6.5v6.5h-6.5z" fill="#ff0051"/><path d="M375 356h6.5v6.5h-6.5z" fill="#ff004d"/><path d="M381 356h6.5v6.5h-6.5z" fill="#ff0049"/><path d="M387 356h6.5v6.5h-6.5z" fill="#ff0047"/><path d="M393 356h6.5v6.5h-6.5z" fill="#ff0045"/><path d="M399 356h6.5v6.5h-6.5z" fill="#ff0045"/><path d="M405 356h6.5v6.5h-6.5z" fill="#ff0044"/><path d="M411 356h6.5v6.5h-6.5z" fill="#ff0044"/><path d="M417 356h6.5v6.5h-6.5z" fill="#ff0043"/><path d="M423 356h6.5v6.5h-6.5z" fill="#ff0042"/><path d="M429 356h6.5v6.5h-6.5z" fill="#ff0041"/><path d="M435 356h6.5v6.5h-6.5z" fill="#ff003f"/><path d="M441 356h6.5v6.5h-6.5z" fill="#ff003e"/><path d="M447 356h6.5v6.5h-6.5z" fill="#ff003d"/><path d="M453 356h6.5v6.5h-6.5z" fill="#ff003b"/><path d="M459 356h6.5v6.5h-6.5z" fill="#ff003a"/><path d="M465 356h6.5v6.5h-6.5z" fill="#ff0039"/><path d="M471 356h6.5v6.5h-6.5z" fill="#ff0038"/><path d="M477 356h6.5v6.5h-6.5z" fill="#ff0038"/><path d="M483 356h6.5v6.5h-6.5z" fill="#ff0037"/><path d="M489 356h6.5v6.5h-6.5z" fill="#ff0037"/><path d="M495 356h6.5v6.5h-6.5z" fill="#ff0037"/><path d="M501 356h6.5v6.5h-6.5z" fill="#ff0037"/><path d="M507 356h6.5v6.5h-6.5z" fill="#ff0037"/><path d="M513 356h6.5v6.5h-6.5z" fill="#ff0037"/><path d="M519 356h6.5v6.5h-6.5z" fill="#ff0037"/><path d="M525 356h6.5v6.5h-6.5z" fill="#ff0037"/><path d="M531 356h6.5v6.5h-6.5z" fill="#ff0037"/><path d="M537 356h6.5v6.5h-6.5z" fill="#ff0036"/><path d="M543 356h6.5v6.5h-6.5z" fill="#ff0036"/><path d="M549 356h6.5v6.5h-6.5z" fill="#ff0036"/><path d="M555 356h6.5v6.5h-6.5z" fill="#ff0035"/><path d="M99 362h6.5v6.5h-6.5z" fill="#ff0175"/><path d="M105 362h6.5v6.5h-6.5z" fill="#ff0177"/><path d="M111 362h6.5v6.5h-6.5z" fill="#ff0179"/><path d="M117 362h6.5v6.5h-6.5z" fill="#ff007c"/><path d="M123 362h6.5v6.5h-6.5z" fill="#ff007f"/><path d="M129 362h6.5v6.5h-6.5z" fill="#ff0083"/><path d="M135 362h6.5v6.5h-6.5z" fill="#ff0087"/><path d="M141 362h6.5v6.5h-6.5z" fill="#ff008b"/><path d="M147 362h6.5v6.5h-6.5z" fill="#ff008f"/><path d="M153 362h6.5v6.5h-6.5z" fill="#ff0092"/><path d="M159 362h6.5v6.5h-6.5z" fill="#ff0095"/><path d="M165 362h6.5v6.5h-6.5z" fill="#ff0096"/><path d="M171 362h6.5v6.5h-6.5z" fill="#ff0095"/><path d="M177 362h6.5v6.5h-6.5z" fill="#fe0092"/><path d="M183 362h6.5v6.5h-6.5z" fill="#fe008e"/><path d="M189 362h6.5v6.5h-6.5z" fill="#fe0088"/><path d="M195 362h6.5v6.5h-6.5z" fill="#ff0081"/><path d="M201 362h6.5v6.5h-6.5z" fill="#ff007a"/><path d="M207 362h6.5v6.5h-6.5z" fill="#ff0074"/><path d="M213 362h6.5v6.5h-6.5z" fill="#ff0070"/><path d="M219 362h6.5v6.5h-6.5z" fill="#ff006c"/><path d="M225 362h6.5v6.5h-6.5z" fill="#ff0069"/><path d="M231 362h6.5v6.5h-6.5z" fill="#ff0067"/><path d="M237 362h6.5v6.5h-6.5z" fill="#ff0066"/><path d="M243 362h6.5v6.5h-6.5z" fill="#ff0068"/><path d="M249 362h6.5v6.5h-6.5z" fill="#fe006a"/><path d="M255 362h6.5v6.5h-6.5z" fill="#fe006b"/><path d="M261 362h6.5v6.5h-6.5z" fill="#fe006a"/><path d="M267 362h6.5v6.5h-6.5z" fill="#fe0066"/><path d="M273 362h6.5v6.5h-6.5z" fill="#ff0062"/><path d="M279 362h6.5v6.5h-6.5z" fill="#ff005f"/><path d="M285 362h6.5v6.5h-6.5z" fill="#ff005d"/><path d="M291 362h6.5v6.5h-6.5z" fill="#ff005c"/><path d="M297 362h6.5v6.5h-6.5z" fill="#ff005a"/><path d="M303 362h6.5v6.5h-6.5z" fill="#ff0059"/><path d="M309 362h6.5v6.5h-6.5z" fill="#ff0059"/><path d="M315 362h6.5v6.5h-6.5z" fill="#ff0059"/><path d="M321 362h6.5v6.5h-6.5z" fill="#ff005a"/><path d="M327 362h6.5v6.5h-6.5z" fill="#ff005a"/><path d="M333 362h6.5v6.5h-6.5z" fill="#ff005c"/><path d="M339 362h6.5v6.5h-6.5z" fill="#ff005d"/><path d="M345 362h6.5v6.5h-6.5z" fill="#ff005e"/><path d="M351 362h6.5v6.5h-6.5z" fill="#ff005f"/><path d="M357 362h6.5v6.5h-6.5z" fill="#fe005e"/><path d="M363 362h6.5v6.5h-6.5z" fill="#fe005c"/><path d="M369 362h6.5v6.5h-6.5z" fill="#fe0058"/><path d="M375 362h6.5v6.5h-6.5z" fill="#ff0053"/><path d="M381 362h6.5v6.5h-6.5z" fill="#ff004e"/><path d="M387 362h6.5v6.5h-6.5z" fill="#ff004b"/><path d="M393 362h6.5v6.5h-6.5z" fill="#ff0048"/><path d="M399 362h6.5v6.5h-6.5z" fill="#ff0047"/><path d="M405 362h6.5v6.5h-6.5z" fill="#ff0046"/><path d="M411 362h6.5v6.5h-6.5z" fill="#ff0046"/><path d="M417 362h6.5v6.5h-6.5z" fill="#ff0045"/><path d="M423 362h6.5v6.5h-6.5z" fill="#ff0044"/><path d="M429 362h6.5v6.5h-6.5z" fill="#ff0042"/><path d="M435 362h6.5v6.5h-6.5z" fill="#ff0040"/><path d="M441 362h6.5v6.5h-6.5z" fill="#ff003f"/><path d="M447 362h6.5v6.5h-6.5z" fill="#ff003d"/><path d="M453 362h6.5v6.5h-6.5z" fill="#ff003c"/><path d="M459 362h6.5v6.5h-6.5z" fill="#ff003b"/><path d="M465 362h6.5v6.5h-6.5z" fill="#ff003a"/><path d="M471 362h6.5v6.5h-6.5z" fill="#ff0039"/><path d="M477 362h6.5v6.5h-6.5z" fill="#ff0038"/><path d="M483 362h6.5v6.5h-6.5z" fill="#ff0037"/><path d="M489 362h6.5v6.5h-6.5z" fill="#ff0037"/><path d="M495 362h6.5v6.5h-6.5z" fill="#ff0037"/><path d="M501 362h6.5v6.5h-6.5z" fill="#ff0037"/><path d="M507 362h6.5v6.5h-6.5z" fill="#ff0037"/><path d="M513 362h6.5v6.5h-6.5z" fill="#ff0037"/><path d="M519 362h6.5v6.5h-6.5z" fill="#ff0037"/><path d="M525 362h6.5v6.5h-6.5z" fill="#ff0037"/><path d="M531 362h6.5v6.5h-6.5z" fill="#ff0036"/><path d="M537 362h6.5v6.5h-6.5z" fill="#ff0036"/><path d="M543 362h6.5v6.5h-6.5z" fill="#ff0036"/><path d="M549 362h6.5v6.5h-6.5z" fill="#ff0036"/><path d="M555 362h6.5v6.5h-6.5z" fill="#ff0035"/><path d="M99 368h6.5v6.5h-6.5z" fill="#ff0179"/><path d="M105 368h6.5v6.5h-6.5z" fill="#ff017b"/><path d="M111 368h6.5v6.5h-6.5z" fill="#ff017d"/><path d="M117 368h6.5v6.5h-6.5z" fill="#ff0080"/><path d="M123 368h6.5v6.5h-6.5z" fill="#ff0083"/><path d="M129 368h6.5v6.5h-6.5z" fill="#ff0087"/><path d="M135 368h6.5v6.5h-6.5z" fill="#ff008c"/><path d="M141 368h6.5v6.5h-6.5z" fill="#ff0091"/><path d="M147 368h6.5v6.5h-6.5z" fill="#ff0095"/><path d="M153 368h6.5v6.5h-6.5z" fill="#fe009a"/><path d="M159 368h6.5v6.5h-6.5z" fill="#fe009d"/><path d="M165 368h6.5v6.5h-6.5z" fill="#fe009f"/><path d="M171 368h6.5v6.5h-6.5z" fill="#fe009e"/><path d="M177 368h6.5v6.5h-6.5z" fill="#fd009c"/><path d="M183 368h6.5v6.5h-6.5z" fill="#fd0098"/><path d="M189 368h6.5v6.5h-6.5z" fill="#fe0092"/><path d="M195 368h6.5v6.5h-6.5z" fill="#fe008b"/><path d="M201 368h6.5v6.5h-6.5z" fill="#fe0084"/><path d="M207 368h6.5v6.5h-6.5z" fill="#ff007e"/><path d="M213 368h6.5v6.5h-6.5z" fill="#ff0079"/><path d="M219 368h6.5v6.5h-6.5z" fill="#ff0074"/><path d="M225 368h6.5v6.5h-6.5z" fill="#ff0071"/><path d="M231 368h6.5v6.5h-6.5z" fill="#ff006f"/><path d="M237 368h6.5v6.5h-6.5z" fill="#ff006f"/><path d="M243 368h6.5v6.5h-6.5z" fill="#fe0072"/><path d="M249 368h6.5v6.5h-6.5z" fill="#fe0075"/><path d="M255 368h6.5v6.5h-6.5z" fill="#fd0078"/><path d="M261 368h6.5v6.5h-6.5z" fill="#fd0077"/><path d="M267 368h6.5v6.5h-6.5z" fill="#fd0073"/><path d="M273 368h6.5v6.5h-6.5z" fill="#fe006e"/><path d="M279 368h6.5v6.5h-6.5z" fill="#fe006a"/><path d="M285 368h6.5v6.5h-6.5z" fill="#ff0066"/><path d="M291 368h6.5v6.5h-6.5z" fill="#ff0063"/><path d="M297 368h6.5v6.5h-6.5z" fill="#ff0060"/><path d="M303 368h6.5v6.5h-6.5z" fill="#ff005e"/><path d="M309 368h6.5v6.5h-6.5z" fill="#ff005d"/><path d="M315 368h6.5v6.5h-6.5z" fill="#ff005d"/><path d="M321 368h6.5v6.5h-6.5z" fill="#ff005e"/><path d="M327 368h6.5v6.5h-6.5z" fill="#ff005f"/><path d="M333 368h6.5v6.5h-6.5z" fill="#ff0061"/><path d="M339 368h6.5v6.5h-6.5z" fill="#ff0064"/><path d="M345 368h6.5v6.5h-6.5z" fill="#ff0066"/><path d="M351 368h6.5v6.5h-6.5z" fill="#fe0068"/><path d="M357 368h6.5v6.5h-6.5z" fill="#fe0068"/><path d="M363 368h6.5v6.5h-6.5z" fill="#fe0065"/><path d="M369 368h6.5v6.5h-6.5z" fill="#fe0060"/><path d="M375 368h6.5v6.5h-6.5z" fill="#ff005a"/><path d="M381 368h6.5v6.5h-6.5z" fill="#ff0054"/><path d="M387 368h6.5v6.5h-6.5z" fill="#ff0050"/><path d="M393 368h6.5v6.5h-6.5z" fill="#ff004d"/><path d="M399 368h6.5v6.5h-6.5z" fill="#ff004a"/><path d="M405 368h6.5v6.5h-6.5z" fill="#ff0049"/><path d="M411 368h6.5v6.5h-6.5z" fill="#ff0048"/><path d="M417 368h6.5v6.5h-6.5z" fill="#ff0047"/><path d="M423 368h6.5v6.5h-6.5z" fill="#ff0045"/><path d="M429 368h6.5v6.5h-6.5z" fill="#ff0044"/><path d="M435 368h6.5v6.5h-6.5z" fill="#ff0042"/><path d="M441 368h6.5v6.5h-6.5z" fill="#ff0040"/><path d="M447 368h6.5v6.5h-6.5z" fill="#ff003f"/><path d="M453 368h6.5v6.5h-6.5z" fill="#ff003d"/><path d="M459 368h6.5v6.5h-6.5z" fill="#ff003c"/><path d="M465 368h6.5v6.5h-6.5z" fill="#ff003a"/><path d="M471 368h6.5v6.5h-6.5z" fill="#ff0039"/><path d="M477 368h6.5v6.5h-6.5z" fill="#ff0039"/><path d="M483 368h6.5v6.5h-6.5z" fill="#ff0038"/><path d="M489 368h6.5v6.5h-6.5z" fill="#ff0037"/><path d="M495 368h6.5v6.5h-6.5z" fill="#ff0037"/><path d="M501 368h6.5v6.5h-6.5z" fill="#ff0037"/><path d="M507 368h6.5v6.5h-6.5z" fill="#ff0037"/><path d="M513 368h6.5v6.5h-6.5z" fill="#ff0037"/><path d="M519 368h6.5v6.5h-6.5z" fill="#ff0036"/><path d="M525 368h6.5v6.5h-6.5z" fill="#ff0036"/><path d="M531 368h6.5v6.5h-6.5z" fill="#ff0036"/><path d="M537 368h6.5v6.5h-6.5z" fill="#ff0036"/><path d="M543 368h6.5v6.5h-6.5z" fill="#ff0036"/><path d="M549 368h6.5v6.5h-6.5z" fill="#ff0036"/><path d="M555 368h6.5v6.5h-6.5z" fill="#ff0036"/><path d="M99 374h6.5v6.5h-6.5z" fill="#ff017d"/><path d="M105 374h6.5v6.5h-6.5z" fill="#ff017f"/><path d="M111 374h6.5v6.5h-6.5z" fill="#ff0181"/><path d="M117 374h6.5v6.5h-6.5z" fill="#ff0084"/><path d="M123 374h6.5v6.5h-6.5z" fill="#ff0087"/><path d="M129 374h6.5v6.5h-6.5z" fill="#ff008c"/><path d="M135 374h6.5v6.5h-6.5z" fill="#ff0091"/><path d="M141 374h6.5v6.5h-6.5z" fill="#ff0097"/><path d="M147 374h6.5v6.5h-6.5z" fill="#fe009c"/><path d="M153 374h6.5v6.5h-6.5z" fill="#fd00a2"/><path d="M159 374h6.5v6.5h-6.5z" fill="#fd00a6"/><path d="M165 374h6.5v6.5h-6.5z" fill="#fc00a8"/><path d="M171 374h6.5v6.5h-6.5z" fill="#fc00a9"/><path d="M177 374h6.5v6.5h-6.5z" fill="#fc00a7"/><path d="M183 374h6.5v6.5h-6.5z" fill="#fc00a3"/><path d="M189 374h6.5v6.5h-6.5z" fill="#fc009e"/><path d="M195 374h6.5v6.5h-6.5z" fill="#fd0098"/><path d="M201 374h6.5v6.5h-6.5z" fill="#fe0091"/><path d="M207 374h6.5v6.5h-6.5z" fill="#fe008a"/><path d="M213 374h6.5v6.5h-6.5z" fill="#ff0083"/><path d="M219 374h6.5v6.5h-6.5z" fill="#ff007e"/><path d="M225 374h6.5v6.5h-6.5z" fill="#ff007a"/><path d="M231 374h6.5v6.5h-6.5z" fill="#ff0078"/><path d="M237 374h6.5v6.5h-6.5z" fill="#ff0079"/><path d="M243 374h6.5v6.5h-6.5z" fill="#fe007e"/><path d="M249 374h6.5v6.5h-6.5z" fill="#fd0083"/><path d="M255 374h6.5v6.5h-6.5z" fill="#fc0087"/><path d="M261 374h6.5v6.5h-6.5z" fill="#fc0087"/><path d="M267 374h6.5v6.5h-6.5z" fill="#fc0083"/><path d="M273 374h6.5v6.5h-6.5z" fill="#fd007c"/><path d="M279 374h6.5v6.5h-6.5z" fill="#fe0076"/><path d="M285 374h6.5v6.5h-6.5z" fill="#fe0070"/><path d="M291 374h6.5v6.5h-6.5z" fill="#fe006b"/><path d="M297 374h6.5v6.5h-6.5z" fill="#ff0067"/><path d="M303 374h6.5v6.5h-6.5z" fill="#ff0064"/><path d="M309 374h6.5v6.5h-6.5z" fill="#ff0062"/><path d="M315 374h6.5v6.5h-6.5z" fill="#ff0062"/><path d="M321 374h6.5v6.5h-6.5z" fill="#ff0063"/><path d="M327 374h6.5v6.5h-6.5z" fill="#ff0065"/><path d="M333 374h6.5v6.5h-6.5z" fill="#ff0068"/><path d="M339 374h6.5v6.5h-6.5z" fill="#ff006b"/><path d="M345 374h6.5v6.5h-6.5z" fill="#ff006f"/><path d="M351 374h6.5v6.5h-6.5z" fill="#fe0072"/><path d="M357 374h6.5v6.5h-6.5z" fill="#fd0073"/><path d="M363 374h6.5v6.5h-6.5z" fill="#fd0071"/><path d="M369 374h6.5v6.5h-6.5z" fill="#fe006b"/><path d="M375 374h6.5v6.5h-6.5z" fill="#fe0063"/><path d="M381 374h6.5v6.5h-6.5z" fill="#ff005c"/><path d="M387 374h6.5v6.5h-6.5z" fill="#ff0056"/><path d="M393 374h6.5v6.5h-6.5z" fill="#ff0051"/><path d="M399 374h6.5v6.5h-6.5z" fill="#ff004e"/><path d="M405 374h6.5v6.5h-6.5z" fill="#ff004c"/><path d="M411 374h6.5v6.5h-6.5z" fill="#ff004b"/><path d="M417 374h6.5v6.5h-6.5z" fill="#ff0049"/><path d="M423 374h6.5v6.5h-6.5z" fill="#ff0047"/><path d="M429 374h6.5v6.5h-6.5z" fill="#ff0046"/><path d="M435 374h6.5v6.5h-6.5z" fill="#ff0044"/><path d="M441 374h6.5v6.5h-6.5z" fill="#ff0042"/><path d="M447 374h6.5v6.5h-6.5z" fill="#ff0040"/><path d="M453 374h6.5v6.5h-6.5z" fill="#ff003e"/><path d="M459 374h6.5v6.5h-6.5z" fill="#ff003d"/><path d="M465 374h6.5v6.5h-6.5z" fill="#ff003b"/><path d="M471 374h6.5v6.5h-6.5z" fill="#ff003a"/><path d="M477 374h6.5v6.5h-6.5z" fill="#ff0039"/><path d="M483 374h6.5v6.5h-6.5z" fill="#ff0039"/><path d="M489 374h6.5v6.5h-6.5z" fill="#ff0038"/><path d="M495 374h6.5v6.5h-6.5z" fill="#ff0037"/><path d="M501 374h6.5v6.5h-6.5z" fill="#ff0037"/><path d="M507 374h6.5v6.5h-6.5z" fill="#ff0037"/><path d="M513 374h6.5v6.5h-6.5z" fill="#ff0036"/><path d="M519 374h6.5v6.5h-6.5z" fill="#ff0036"/><path d="M525 374h6.5v6.5h-6.5z" fill="#ff0036"/><path d="M531 374h6.5v6.5h-6.5z" fill="#ff0036"/><path d="M537 374h6.5v6.5h-6.5z" fill="#ff0036"/><path d="M543 374h6.5v6.5h-6.5z" fill="#ff0036"/><path d="M549 374h6.5v6.5h-6.5z" fill="#ff0036"/><path d="M555 374h6.5v6.5h-6.5z" fill="#ff0036"/><path d="M99 380h6.5v6.5h-6.5z" fill="#ff0182"/><path d="M105 380h6.5v6.5h-6.5z" fill="#ff0184"/><path d="M111 380h6.5v6.5h-6.5z" fill="#ff0186"/><path d="M117 380h6.5v6.5h-6.5z" fill="#ff0089"/><path d="M123 380h6.5v6.5h-6.5z" fill="#ff008c"/><path d="M129 380h6.5v6.5h-6.5z" fill="#ff0091"/><path d="M135 380h6.5v6.5h-6.5z" fill="#ff0096"/><path d="M141 380h6.5v6.5h-6.5z" fill="#fe009d"/><path d="M147 380h6.5v6.5h-6.5z" fill="#fd00a4"/><path d="M153 380h6.5v6.5h-6.5z" fill="#fc00aa"/><path d="M159 380h6.5v6.5h-6.5z" fill="#fb00b0"/><path d="M165 380h6.5v6.5h-6.5z" fill="#fb00b3"/><path d="M171 380h6.5v6.5h-6.5z" fill="#fa00b4"/><path d="M177 380h6.5v6.5h-6.5z" fill="#fa00b3"/><path d="M183 380h6.5v6.5h-6.5z" fill="#fa00b0"/><path d="M189 380h6.5v6.5h-6.5z" fill="#fb00ac"/><path d="M195 380h6.5v6.5h-6.5z" fill="#fc00a6"/><path d="M201 380h6.5v6.5h-6.5z" fill="#fd009f"/><path d="M207 380h6.5v6.5h-6.5z" fill="#fd0097"/><path d="M213 380h6.5v6.5h-6.5z" fill="#fe0090"/><path d="M219 380h6.5v6.5h-6.5z" fill="#ff0089"/><path d="M225 380h6.5v6.5h-6.5z" fill="#ff0084"/><path d="M231 380h6.5v6.5h-6.5z" fill="#ff0082"/><path d="M237 380h6.5v6.5h-6.5z" fill="#ff0083"/><path d="M243 380h6.5v6.5h-6.5z" fill="#fe0089"/><path d="M249 380h6.5v6.5h-6.5z" fill="#fc0091"/><path d="M255 380h6.5v6.5h-6.5z" fill="#fb0097"/><path d="M261 380h6.5v6.5h-6.5z" fill="#fb0098"/><path d="M267 380h6.5v6.5h-6.5z" fill="#fb0092"/><path d="M273 380h6.5v6.5h-6.5z" fill="#fc008a"/><path d="M279 380h6.5v6.5h-6.5z" fill="#fd0082"/><path d="M285 380h6.5v6.5h-6.5z" fill="#fe007b"/><path d="M291 380h6.5v6.5h-6.5z" fill="#fe0074"/><path d="M297 380h6.5v6.5h-6.5z" fill="#ff006f"/><path d="M303 380h6.5v6.5h-6.5z" fill="#ff006b"/><path d="M309 380h6.5v6.5h-6.5z" fill="#ff0069"/><path d="M315 380h6.5v6.5h-6.5z" fill="#ff0068"/><path d="M321 380h6.5v6.5h-6.5z" fill="#ff0069"/><path d="M327 380h6.5v6.5h-6.5z" fill="#ff006c"/><path d="M333 380h6.5v6.5h-6.5z" fill="#ff006f"/><path d="M339 380h6.5v6.5h-6.5z" fill="#ff0074"/><path d="M345 380h6.5v6.5h-6.5z" fill="#ff0079"/><path d="M351 380h6.5v6.5h-6.5z" fill="#fe007f"/><path d="M357 380h6.5v6.5h-6.5z" fill="#fd0081"/><path d="M363 380h6.5v6.5h-6.5z" fill="#fc007e"/><path d="M369 380h6.5v6.5h-6.5z" fill="#fd0077"/><path d="M375 380h6.5v6.5h-6.5z" fill="#fe006d"/><path d="M381 380h6.5v6.5h-6.5z" fill="#ff0063"/><path d="M387 380h6.5v6.5h-6.5z" fill="#ff005c"/><path d="M393 380h6.5v6.5h-6.5z" fill="#ff0056"/><path d="M399 380h6.5v6.5h-6.5z" fill="#ff0053"/><path d="M405 380h6.5v6.5h-6.5z" fill="#ff0050"/><path d="M411 380h6.5v6.5h-6.5z" fill="#ff004e"/><path d="M417 380h6.5v6.5h-6.5z" fill="#ff004c"/><path d="M423 380h6.5v6.5h-6.5z" fill="#ff004a"/><path d="M429 380h6.5v6.5h-6.5z" fill="#ff0048"/><path d="M435 380h6.5v6.5h-6.5z" fill="#ff0046"/><path d="M441 380h6.5v6.5h-6.5z" fill="#ff0043"/><path d="M447 380h6.5v6.5h-6.5z" fill="#ff0041"/><path d="M453 380h6.5v6.5h-6.5z" fill="#ff003f"/><path d="M459 380h6.5v6.5h-6.5z" fill="#ff003e"/><path d="M465 380h6.5v6.5h-6.5z" fill="#ff003c"/><path d="M471 380h6.5v6.5h-6.5z" fill="#ff003b"/><path d="M477 380h6.5v6.5h-6.5z" fill="#ff003a"/><path d="M483 380h6.5v6.5h-6.5z" fill="#ff003a"/><path d="M489 380h6.5v6.5h-6.5z" fill="#ff0039"/><path d="M495 380h6.5v6.5h-6.5z" fill="#ff0038"/><path d="M501 380h6.5v6.5h-6.5z" fill="#ff0038"/><path d="M507 380h6.5v6.5h-6.5z" fill="#ff0037"/><path d="M513 380h6.5v6.5h-6.5z" fill="#ff0036"/><path d="M519 380h6.5v6.5h-6.5z" fill="#ff0036"/><path d="M525 380h6.5v6.5h-6.5z" fill="#ff0036"/><path d="M531 380h6.5v6.5h-6.5z" fill="#ff0036"/><path d="M537 380h6.5v6.5h-6.5z" fill="#ff0036"/><path d="M543 380h6.5v6.5h-6.5z" fill="#ff0036"/><path d="M549 380h6.5v6.5h-6.5z" fill="#ff0036"/><path d="M555 380h6.5v6.5h-6.5z" fill="#ff0036"/><path d="M99 386h6.5v6.5h-6.5z" fill="#ff0187"/><path d="M105 386h6.5v6.5h-6.5z" fill="#ff0189"/><path d="M111 386h6.5v6.5h-6.5z" fill="#ff008b"/><path d="M117 386h6.5v6.5h-6.5z" fill="#ff008e"/><path d="M123 386h6.5v6.5h-6.5z" fill="#ff0092"/><path d="M129 386h6.5v6.5h-6.5z" fill="#ff0096"/><path d="M135 386h6.5v6.5h-6.5z" fill="#ff009d"/><path d="M141 386h6.5v6.5h-6.5z" fill="#fe00a4"/><path d="M147 386h6.5v6.5h-6.5z" fill="#fc00ad"/><path d="M153 386h6.5v6.5h-6.5z" fill="#fa00b4"/><path d="M159 386h6.5v6.5h-6.5z" fill="#f900ba"/><path d="M165 386h6.5v6.5h-6.5z" fill="#f800bf"/><path d="M171 386h6.5v6.5h-6.5z" fill="#f800c1"/><path d="M177 386h6.5v6.5h-6.5z" fill="#f800c0"/><path d="M183 386h6.5v6.5h-6.5z" fill="#f800be"/><path d="M189 386h6.5v6.5h-6.5z" fill="#f900ba"/><path d="M195 386h6.5v6.5h-6.5z" fill="#fa00b4"/><path d="M201 386h6.5v6.5h-6.5z" fill="#fb00ad"/><path d="M207 386h6.5v6.5h-6.5z" fill="#fc00a5"/><path d="M213 386h6.5v6.5h-6.5z" fill="#fe009d"/><path d="M219 386h6.5v6.5h-6.5z" fill="#fe0095"/><path d="M225 386h6.5v6.5h-6.5z" fill="#ff008f"/><path d="M231 386h6.5v6.5h-6.5z" fill="#ff008b"/><path d="M237 386h6.5v6.5h-6.5z" fill="#ff008c"/><path d="M243 386h6.5v6.5h-6.5z" fill="#fe0093"/><path d="M249 386h6.5v6.5h-6.5z" fill="#fc009d"/><path d="M255 386h6.5v6.5h-6.5z" fill="#fa00a6"/><path d="M261 386h6.5v6.5h-6.5z" fill="#fa00a7"/><path d="M267 386h6.5v6.5h-6.5z" fill="#fb00a0"/><path d="M273 386h6.5v6.5h-6.5z" fill="#fc0097"/><path d="M279 386h6.5v6.5h-6.5z" fill="#fd008e"/><path d="M285 386h6.5v6.5h-6.5z" fill="#fd0085"/><path d="M291 386h6.5v6.5h-6.5z" fill="#fe007e"/><path d="M297 386h6.5v6.5h-6.5z" fill="#fe0078"/><path d="M303 386h6.5v6.5h-6.5z" fill="#ff0073"/><path d="M309 386h6.5v6.5h-6.5z" fill="#ff0070"/><path d="M315 386h6.5v6.5h-6.5z" fill="#ff006f"/><path d="M321 386h6.5v6.5h-6.5z" fill="#ff0070"/><path d="M327 386h6.5v6.5h-6.5z" fill="#ff0073"/><path d="M333 386h6.5v6.5h-6.5z" fill="#ff0077"/><path d="M339 386h6.5v6.5h-6.5z" fill="#ff007c"/><path d="M345 386h6.5v6.5h-6.5z" fill="#ff0083"/><path d="M351 386h6.5v6.5h-6.5z" fill="#fd008b"/><path d="M357 386h6.5v6.5h-6.5z" fill="#fc0090"/><path d="M363 386h6.5v6.5h-6.5z" fill="#fb008d"/><path d="M369 386h6.5v6.5h-6.5z" fill="#fc0083"/><path d="M375 386h6.5v6.5h-6.5z" fill="#fe0076"/><path d="M381 386h6.5v6.5h-6.5z" fill="#ff006a"/><path d="M387 386h6.5v6.5h-6.5z" fill="#ff0062"/><path d="M393 386h6.5v6.5h-6.5z" fill="#ff005c"/><path d="M399 386h6.5v6.5h-6.5z" fill="#ff0058"/><path d="M405 386h6.5v6.5h-6.5z" fill="#ff0055"/><path d="M411 386h6.5v6.5h-6.5z" fill="#ff0052"/><path d="M417 386h6.5v6.5h-6.5z" fill="#ff0050"/><path d="M423 386h6.5v6.5h-6.5z" fill="#ff004d"/><path d="M429 386h6.5v6.5h-6.5z" fill="#ff004b"/><path d="M435 386h6.5v6.5h-6.5z" fill="#ff0048"/><path d="M441 386h6.5v6.5h-6.5z" fill="#ff0046"/><path d="M447 386h6.5v6.5h-6.5z" fill="#ff0043"/><path d="M453 386h6.5v6.5h-6.5z" fill="#ff0041"/><path d="M459 386h6.5v6.5h-6.5z" fill="#ff003f"/><path d="M465 386h6.5v6.5h-6.5z" fill="#ff003e"/><path d="M471 386h6.5v6.5h-6.5z" fill="#ff003d"/><path d="M477 386h6.5v6.5h-6.5z" fill="#ff003c"/><path d="M483 386h6.5v6.5h-6.5z" fill="#ff003b"/><path d="M489 386h6.5v6.5h-6.5z" fill="#ff003a"/><path d="M495 386h6.5v6.5h-6.5z" fill="#ff0039"/><path d="M501 386h6.5v6.5h-6.5z" fill="#ff0038"/><path d="M507 386h6.5v6.5h-6.5z" fill="#ff0038"/><path d="M513 386h6.5v6.5h-6.5z" fill="#ff0037"/><path d="M519 386h6.5v6.5h-6.5z" fill="#ff0036"/><path d="M525 386h6.5v6.5h-6.5z" fill="#ff0036"/><path d="M531 386h6.5v6.5h-6.5z" fill="#ff0036"/><path d="M537 386h6.5v6.5h-6.5z" fill="#ff0036"/><path d="M543 386h6.5v6.5h-6.5z" fill="#ff0036"/><path d="M549 386h6.5v6.5h-6.5z" fill="#ff0037"/><path d="M555 386h6.5v6.5h-6.5z" fill="#ff0037"/><path d="M99 392h6.5v6.5h-6.5z" fill="#ff018e"/><path d="M105 392h6.5v6.5h-6.5z" fill="#ff0190"/><path d="M111 392h6.5v6.5h-6.5z" fill="#ff0092"/><path d="M117 392h6.5v6.5h-6.5z" fill="#ff0095"/><path d="M123 392h6.5v6.5h-6.5z" fill="#ff0098"/><path d="M129 392h6.5v6.5h-6.5z" fill="#ff009d"/><path d="M135 392h6.5v6.5h-6.5z" fill="#fe00a4"/><path d="M141 392h6.5v6.5h-6.5z" fill="#fc00ad"/><path d="M147 392h6.5v6.5h-6.5z" fill="#fa00b6"/><path d="M153 392h6.5v6.5h-6.5z" fill="#f800bf"/><path d="M159 392h6.5v6.5h-6.5z" fill="#f600c6"/><path d="M165 392h6.5v6.5h-6.5z" fill="#f500cc"/><path d="M171 392h6.5v6.5h-6.5z" fill="#f500ce"/><path d="M177 392h6.5v6.5h-6.5z" fill="#f500ce"/><path d="M183 392h6.5v6.5h-6.5z" fill="#f500cc"/><path d="M189 392h6.5v6.5h-6.5z" fill="#f600c7"/><path d="M195 392h6.5v6.5h-6.5z" fill="#f800c2"/><path d="M201 392h6.5v6.5h-6.5z" fill="#fa00bb"/><path d="M207 392h6.5v6.5h-6.5z" fill="#fb00b3"/><path d="M213 392h6.5v6.5h-6.5z" fill="#fc00aa"/><path d="M219 392h6.5v6.5h-6.5z" fill="#fe00a1"/><path d="M225 392h6.5v6.5h-6.5z" fill="#ff009a"/><path d="M231 392h6.5v6.5h-6.5z" fill="#ff0096"/><path d="M237 392h6.5v6.5h-6.5z" fill="#ff0095"/><path d="M243 392h6.5v6.5h-6.5z" fill="#fe009c"/><path d="M249 392h6.5v6.5h-6.5z" fill="#fc00a6"/><path d="M255 392h6.5v6.5h-6.5z" fill="#fb00af"/><path d="M261 392h6.5v6.5h-6.5z" fill="#fa00b0"/><path d="M267 392h6.5v6.5h-6.5z" fill="#fb00aa"/><path d="M273 392h6.5v6.5h-6.5z" fill="#fc00a1"/><path d="M279 392h6.5v6.5h-6.5z" fill="#fd0098"/><path d="M285 392h6.5v6.5h-6.5z" fill="#fd0090"/><path d="M291 392h6.5v6.5h-6.5z" fill="#fe0088"/><path d="M297 392h6.5v6.5h-6.5z" fill="#fe0081"/><path d="M303 392h6.5v6.5h-6.5z" fill="#ff007b"/><path d="M309 392h6.5v6.5h-6.5z" fill="#ff0078"/><path d="M315 392h6.5v6.5h-6.5z" fill="#ff0077"/><path d="M321 392h6.5v6.5h-6.5z" fill="#ff0079"/><path d="M327 392h6.5v6.5h-6.5z" fill="#ff007c"/><path d="M333 392h6.5v6.5h-6.5z" fill="#ff0080"/><path d="M339 392h6.5v6.5h-6.5z" fill="#ff0085"/><path d="M345 392h6.5v6.5h-6.5z" fill="#ff008c"/><path d="M351 392h6.5v6.5h-6.5z" fill="#fd0096"/><path d="M357 392h6.5v6.5h-6.5z" fill="#fa009e"/><path d="M363 392h6.5v6.5h-6.5z" fill="#fa009a"/><path d="M369 392h6.5v6.5h-6.5z" fill="#fc008e"/><path d="M375 392h6.5v6.5h-6.5z" fill="#fe007f"/><path d="M381 392h6.5v6.5h-6.5z" fill="#ff0071"/><path d="M387 392h6.5v6.5h-6.5z" fill="#ff0069"/><path d="M393 392h6.5v6.5h-6.5z" fill="#ff0063"/><path d="M399 392h6.5v6.5h-6.5z" fill="#ff005e"/><path d="M405 392h6.5v6.5h-6.5z" fill="#ff005a"/><path d="M411 392h6.5v6.5h-6.5z" fill="#ff0057"/><path d="M417 392h6.5v6.5h-6.5z" fill="#ff0054"/><path d="M423 392h6.5v6.5h-6.5z" fill="#ff0051"/><path d="M429 392h6.5v6.5h-6.5z" fill="#ff004e"/><path d="M435 392h6.5v6.5h-6.5z" fill="#ff004b"/><path d="M441 392h6.5v6.5h-6.5z" fill="#ff0048"/><path d="M447 392h6.5v6.5h-6.5z" fill="#ff0046"/><path d="M453 392h6.5v6.5h-6.5z" fill="#ff0043"/><path d="M459 392h6.5v6.5h-6.5z" fill="#ff0042"/><path d="M465 392h6.5v6.5h-6.5z" fill="#ff0040"/><path d="M471 392h6.5v6.5h-6.5z" fill="#ff003f"/><path d="M477 392h6.5v6.5h-6.5z" fill="#ff003e"/><path d="M483 392h6.5v6.5h-6.5z" fill="#ff003d"/><path d="M489 392h6.5v6.5h-6.5z" fill="#ff003c"/><path d="M495 392h6.5v6.5h-6.5z" fill="#ff003b"/><path d="M501 392h6.5v6.5h-6.5z" fill="#ff003a"/><path d="M507 392h6.5v6.5h-6.5z" fill="#ff0039"/><path d="M513 392h6.5v6.5h-6.5z" fill="#ff0038"/><path d="M519 392h6.5v6.5h-6.5z" fill="#ff0037"/><path d="M525 392h6.5v6.5h-6.5z" fill="#ff0037"/><path d="M531 392h6.5v6.5h-6.5z" fill="#ff0037"/><path d="M537 392h6.5v6.5h-6.5z" fill="#ff0037"/><path d="M543 392h6.5v6.5h-6.5z" fill="#ff0037"/><path d="M549 392h6.5v6.5h-6.5z" fill="#ff0037"/><path d="M555 392h6.5v6.5h-6.5z" fill="#ff0038"/><path d="M99 398h6.5v6.5h-6.5z" fill="#ff0195"/><path d="M105 398h6.5v6.5h-6.5z" fill="#ff0097"/><path d="M111 398h6.5v6.5h-6.5z" fill="#ff009a"/><path d="M117 398h6.5v6.5h-6.5z" fill="#ff009d"/><path d="M123 398h6.5v6.5h-6.5z" fill="#ff00a1"/><path d="M129 398h6.5v6.5h-6.5z" fill="#fe00a6"/><path d="M135 398h6.5v6.5h-6.5z" fill="#fc00ae"/><path d="M141 398h6.5v6.5h-6.5z" fill="#fa00b7"/><path d="M147 398h6.5v6.5h-6.5z" fill="#f700c1"/><path d="M153 398h6.5v6.5h-6.5z" fill="#f500ca"/><path d="M159 398h6.5v6.5h-6.5z" fill="#f300d3"/><path d="M165 398h6.5v6.5h-6.5z" fill="#f100d9"/><path d="M171 398h6.5v6.5h-6.5z" fill="#f100dc"/><path d="M177 398h6.5v6.5h-6.5z" fill="#f100dc"/><path d="M183 398h6.5v6.5h-6.5z" fill="#f200d9"/><path d="M189 398h6.5v6.5h-6.5z" fill="#f400d4"/><path d="M195 398h6.5v6.5h-6.5z" fill="#f600ce"/><path d="M201 398h6.5v6.5h-6.5z" fill="#f800c7"/><path d="M207 398h6.5v6.5h-6.5z" fill="#f900bf"/><path d="M213 398h6.5v6.5h-6.5z" fill="#fb00b6"/><path d="M219 398h6.5v6.5h-6.5z" fill="#fc00ae"/><path d="M225 398h6.5v6.5h-6.5z" fill="#fd00a7"/><path d="M231 398h6.5v6.5h-6.5z" fill="#fe00a2"/><path d="M237 398h6.5v6.5h-6.5z" fill="#fe00a2"/><path d="M243 398h6.5v6.5h-6.5z" fill="#fd00a7"/><path d="M249 398h6.5v6.5h-6.5z" fill="#fc00ae"/><path d="M255 398h6.5v6.5h-6.5z" fill="#fb00b4"/><path d="M261 398h6.5v6.5h-6.5z" fill="#fb00b5"/><path d="M267 398h6.5v6.5h-6.5z" fill="#fb00b1"/><path d="M273 398h6.5v6.5h-6.5z" fill="#fc00a9"/><path d="M279 398h6.5v6.5h-6.5z" fill="#fc00a1"/><path d="M285 398h6.5v6.5h-6.5z" fill="#fd0099"/><path d="M291 398h6.5v6.5h-6.5z" fill="#fd0092"/><path d="M297 398h6.5v6.5h-6.5z" fill="#fe008b"/><path d="M303 398h6.5v6.5h-6.5z" fill="#fe0086"/><path d="M309 398h6.5v6.5h-6.5z" fill="#ff0082"/><path d="M315 398h6.5v6.5h-6.5z" fill="#ff0082"/><path d="M321 398h6.5v6.5h-6.5z" fill="#ff0083"/><path d="M327 398h6.5v6.5h-6.5z" fill="#ff0086"/><path d="M333 398h6.5v6.5h-6.5z" fill="#ff008a"/><path d="M339 398h6.5v6.5h-6.5z" fill="#ff008f"/><path d="M345 398h6.5v6.5h-6.5z" fill="#fe0096"/><path d="M351 398h6.5v6.5h-6.5z" fill="#fc009f"/><path d="M357 398h6.5v6.5h-6.5z" fill="#fa00a4"/><path d="M363 398h6.5v6.5h-6.5z" fill="#fa00a1"/><path d="M369 398h6.5v6.5h-6.5z" fill="#fb0096"/><path d="M375 398h6.5v6.5h-6.5z" fill="#fd0088"/><path d="M381 398h6.5v6.5h-6.5z" fill="#ff007b"/><path d="M387 398h6.5v6.5h-6.5z" fill="#ff0071"/><path d="M393 398h6.5v6.5h-6.5z" fill="#ff006a"/><path d="M399 398h6.5v6.5h-6.5z" fill="#ff0065"/><path d="M405 398h6.5v6.5h-6.5z" fill="#ff0061"/><path d="M411 398h6.5v6.5h-6.5z" fill="#ff005d"/><path d="M417 398h6.5v6.5h-6.5z" fill="#ff0059"/><path d="M423 398h6.5v6.5h-6.5z" fill="#ff0056"/><path d="M429 398h6.5v6.5h-6.5z" fill="#ff0052"/><path d="M435 398h6.5v6.5h-6.5z" fill="#ff004f"/><path d="M441 398h6.5v6.5h-6.5z" fill="#ff004c"/><path d="M447 398h6.5v6.5h-6.5z" fill="#ff0049"/><path d="M453 398h6.5v6.5h-6.5z" fill="#ff0046"/><path d="M459 398h6.5v6.5h-6.5z" fill="#ff0044"/><path d="M465 398h6.5v6.5h-6.5z" fill="#ff0043"/><path d="M471 398h6.5v6.5h-6.5z" fill="#ff0041"/><path d="M477 398h6.5v6.5h-6.5z" fill="#ff0040"/><path d="M483 398h6.5v6.5h-6.5z" fill="#ff003f"/><path d="M489 398h6.5v6.5h-6.5z" fill="#ff003e"/><path d="M495 398h6.5v6.5h-6.5z" fill="#ff003c"/><path d="M501 398h6.5v6.5h-6.5z" fill="#ff003b"/><path d="M507 398h6.5v6.5h-6.5z" fill="#ff003a"/><path d="M513 398h6.5v6.5h-6.5z" fill="#ff0039"/><path d="M519 398h6.5v6.5h-6.5z" fill="#ff0039"/><path d="M525 398h6.5v6.5h-6.5z" fill="#ff0038"/><path d="M531 398h6.5v6.5h-6.5z" fill="#ff0038"/><path d="M537 398h6.5v6.5h-6.5z" fill="#ff0038"/><path d="M543 398h6.5v6.5h-6.5z" fill="#ff0038"/><path d="M549 398h6.5v6.5h-6.5z" fill="#ff0039"/><path d="M555 398h6.5v6.5h-6.5z" fill="#ff0039"/><path d="M99 404h6.5v6.5h-6.5z" fill="#ff009c"/><path d="M105 404h6.5v6.5h-6.5z" fill="#ff009f"/><path d="M111 404h6.5v6.5h-6.5z" fill="#ff00a2"/><path d="M117 404h6.5v6.5h-6.5z" fill="#fe00a6"/><path d="M123 404h6.5v6.5h-6.5z" fill="#fd00ab"/><path d="M129 404h6.5v6.5h-6.5z" fill="#fc00b1"/><path d="M135 404h6.5v6.5h-6.5z" fill="#fa00b8"/><path d="M141 404h6.5v6.5h-6.5z" fill="#f800c2"/><path d="M147 404h6.5v6.5h-6.5z" fill="#f500cb"/><path d="M153 404h6.5v6.5h-6.5z" fill="#f200d5"/><path d="M159 404h6.5v6.5h-6.5z" fill="#f000de"/><path d="M165 404h6.5v6.5h-6.5z" fill="#ee00e5"/><path d="M171 404h6.5v6.5h-6.5z" fill="#ed00e8"/><path d="M177 404h6.5v6.5h-6.5z" fill="#ee00e7"/><path d="M183 404h6.5v6.5h-6.5z" fill="#f000e4"/><path d="M189 404h6.5v6.5h-6.5z" fill="#f200df"/><path d="M195 404h6.5v6.5h-6.5z" fill="#f400da"/><path d="M201 404h6.5v6.5h-6.5z" fill="#f600d3"/><path d="M207 404h6.5v6.5h-6.5z" fill="#f700cb"/><path d="M213 404h6.5v6.5h-6.5z" fill="#f900c2"/><path d="M219 404h6.5v6.5h-6.5z" fill="#fb00bb"/><path d="M225 404h6.5v6.5h-6.5z" fill="#fc00b4"/><path d="M231 404h6.5v6.5h-6.5z" fill="#fd00b0"/><path d="M237 404h6.5v6.5h-6.5z" fill="#fd00af"/><path d="M243 404h6.5v6.5h-6.5z" fill="#fc00b2"/><path d="M249 404h6.5v6.5h-6.5z" fill="#fc00b6"/><path d="M255 404h6.5v6.5h-6.5z" fill="#fb00b9"/><path d="M261 404h6.5v6.5h-6.5z" fill="#fb00ba"/><path d="M267 404h6.5v6.5h-6.5z" fill="#fb00b7"/><path d="M273 404h6.5v6.5h-6.5z" fill="#fb00b1"/><path d="M279 404h6.5v6.5h-6.5z" fill="#fc00aa"/><path d="M285 404h6.5v6.5h-6.5z" fill="#fd00a3"/><path d="M291 404h6.5v6.5h-6.5z" fill="#fd009c"/><path d="M297 404h6.5v6.5h-6.5z" fill="#fd0095"/><path d="M303 404h6.5v6.5h-6.5z" fill="#fe0091"/><path d="M309 404h6.5v6.5h-6.5z" fill="#fe008d"/><path d="M315 404h6.5v6.5h-6.5z" fill="#ff008c"/><path d="M321 404h6.5v6.5h-6.5z" fill="#ff008d"/><path d="M327 404h6.5v6.5h-6.5z" fill="#ff0090"/><path d="M333 404h6.5v6.5h-6.5z" fill="#ff0094"/><path d="M339 404h6.5v6.5h-6.5z" fill="#fe0099"/><path d="M345 404h6.5v6.5h-6.5z" fill="#fd009f"/><path d="M351 404h6.5v6.5h-6.5z" fill="#fc00a5"/><path d="M357 404h6.5v6.5h-6.5z" fill="#fb00a8"/><path d="M363 404h6.5v6.5h-6.5z" fill="#fb00a4"/><path d="M369 404h6.5v6.5h-6.5z" fill="#fb009c"/><path d="M375 404h6.5v6.5h-6.5z" fill="#fd0090"/><path d="M381 404h6.5v6.5h-6.5z" fill="#fe0084"/><path d="M387 404h6.5v6.5h-6.5z" fill="#ff007a"/><path d="M393 404h6.5v6.5h-6.5z" fill="#ff0073"/><path d="M399 404h6.5v6.5h-6.5z" fill="#ff006c"/><path d="M405 404h6.5v6.5h-6.5z" fill="#ff0067"/><path d="M411 404h6.5v6.5h-6.5z" fill="#ff0063"/><path d="M417 404h6.5v6.5h-6.5z" fill="#ff005f"/><path d="M423 404h6.5v6.5h-6.5z" fill="#ff005b"/><path d="M429 404h6.5v6.5h-6.5z" fill="#ff0057"/><path d="M435 404h6.5v6.5h-6.5z" fill="#ff0053"/><path d="M441 404h6.5v6.5h-6.5z" fill="#ff0050"/><path d="M447 404h6.5v6.5h-6.5z" fill="#ff004d"/><path d="M453 404h6.5v6.5h-6.5z" fill="#ff004a"/><path d="M459 404h6.5v6.5h-6.5z" fill="#ff0048"/><path d="M465 404h6.5v6.5h-6.5z" fill="#ff0046"/><path d="M471 404h6.5v6.5h-6.5z" fill="#ff0044"/><path d="M477 404h6.5v6.5h-6.5z" fill="#ff0043"/><path d="M483 404h6.5v6.5h-6.5z" fill="#ff0041"/><path d="M489 404h6.5v6.5h-6.5z" fill="#ff0040"/><path d="M495 404h6.5v6.5h-6.5z" fill="#ff003f"/><path d="M501 404h6.5v6.5h-6.5z" fill="#ff003d"/><path d="M507 404h6.5v6.5h-6.5z" fill="#ff003c"/><path d="M513 404h6.5v6.5h-6.5z" fill="#ff003b"/><path d="M519 404h6.5v6.5h-6.5z" fill="#ff003b"/><path d="M525 404h6.5v6.5h-6.5z" fill="#ff003a"/><path d="M531 404h6.5v6.5h-6.5z" fill="#ff003a"/><path d="M537 404h6.5v6.5h-6.5z" fill="#ff003a"/><path d="M543 404h6.5v6.5h-6.5z" fill="#ff003a"/><path d="M549 404h6.5v6.5h-6.5z" fill="#ff003a"/><path d="M555 404h6.5v6.5h-6.5z" fill="#ff003a"/><path d="M99 410h6.5v6.5h-6.5z" fill="#fe00a4"/><path d="M105 410h6.5v6.5h-6.5z" fill="#fe00a7"/><path d="M111 410h6.5v6.5h-6.5z" fill="#fd00ab"/><path d="M117 410h6.5v6.5h-6.5z" fill="#fc00af"/><path d="M123 410h6.5v6.5h-6.5z" fill="#fb00b5"/><path d="M129 410h6.5v6.5h-6.5z" fill="#fa00bb"/><path d="M135 410h6.5v6.5h-6.5z" fill="#f800c3"/><path d="M141 410h6.5v6.5h-6.5z" fill="#f500cc"/><path d="M147 410h6.5v6.5h-6.5z" fill="#f300d5"/><path d="M153 410h6.5v6.5h-6.5z" fill="#f000df"/><path d="M159 410h6.5v6.5h-6.5z" fill="#ee00e7"/><path d="M165 410h6.5v6.5h-6.5z" fill="#ec00ee"/><path d="M171 410h6.5v6.5h-6.5z" fill="#eb00f1"/><path d="M177 410h6.5v6.5h-6.5z" fill="#ec00f0"/><path d="M183 410h6.5v6.5h-6.5z" fill="#ee00ee"/><path d="M189 410h6.5v6.5h-6.5z" fill="#f000e9"/><path d="M195 410h6.5v6.5h-6.5z" fill="#f200e4"/><path d="M201 410h6.5v6.5h-6.5z" fill="#f400dd"/><path d="M207 410h6.5v6.5h-6.5z" fill="#f600d6"/><path d="M213 410h6.5v6.5h-6.5z" fill="#f700ce"/><path d="M219 410h6.5v6.5h-6.5z" fill="#f900c7"/><path d="M225 410h6.5v6.5h-6.5z" fill="#fa00c1"/><path d="M231 410h6.5v6.5h-6.5z" fill="#fb00bd"/><path d="M237 410h6.5v6.5h-6.5z" fill="#fb00bc"/><path d="M243 410h6.5v6.5h-6.5z" fill="#fb00bc"/><path d="M249 410h6.5v6.5h-6.5z" fill="#fb00be"/><path d="M255 410h6.5v6.5h-6.5z" fill="#fb00c0"/><path d="M261 410h6.5v6.5h-6.5z" fill="#fb00c0"/><path d="M267 410h6.5v6.5h-6.5z" fill="#fb00bd"/><path d="M273 410h6.5v6.5h-6.5z" fill="#fb00b8"/><path d="M279 410h6.5v6.5h-6.5z" fill="#fc00b2"/><path d="M285 410h6.5v6.5h-6.5z" fill="#fc00ac"/><path d="M291 410h6.5v6.5h-6.5z" fill="#fd00a5"/><path d="M297 410h6.5v6.5h-6.5z" fill="#fd00a0"/><path d="M303 410h6.5v6.5h-6.5z" fill="#fd009c"/><path d="M309 410h6.5v6.5h-6.5z" fill="#fe0099"/><path d="M315 410h6.5v6.5h-6.5z" fill="#fe0098"/><path d="M321 410h6.5v6.5h-6.5z" fill="#fe0098"/><path d="M327 410h6.5v6.5h-6.5z" fill="#fe009a"/><path d="M333 410h6.5v6.5h-6.5z" fill="#fe009d"/><path d="M339 410h6.5v6.5h-6.5z" fill="#fe00a1"/><path d="M345 410h6.5v6.5h-6.5z" fill="#fd00a6"/><path d="M351 410h6.5v6.5h-6.5z" fill="#fc00a9"/><path d="M357 410h6.5v6.5h-6.5z" fill="#fb00aa"/><path d="M363 410h6.5v6.5h-6.5z" fill="#fb00a7"/><path d="M369 410h6.5v6.5h-6.5z" fill="#fc00a0"/><path d="M375 410h6.5v6.5h-6.5z" fill="#fc0096"/><path d="M381 410h6.5v6.5h-6.5z" fill="#fd008c"/><path d="M387 410h6.5v6.5h-6.5z" fill="#fe0083"/><path d="M393 410h6.5v6.5h-6.5z" fill="#fe007b"/><path d="M399 410h6.5v6.5h-6.5z" fill="#ff0074"/><path d="M405 410h6.5v6.5h-6.5z" fill="#ff006e"/><path d="M411 410h6.5v6.5h-6.5z" fill="#ff0069"/><path d="M417 410h6.5v6.5h-6.5z" fill="#ff0064"/><path d="M423 410h6.5v6.5h-6.5z" fill="#fe0060"/><path d="M429 410h6.5v6.5h-6.5z" fill="#fe005c"/><path d="M435 410h6.5v6.5h-6.5z" fill="#ff0058"/><path d="M441 410h6.5v6.5h-6.5z" fill="#ff0055"/><path d="M447 410h6.5v6.5h-6.5z" fill="#ff0051"/><path d="M453 410h6.5v6.5h-6.5z" fill="#ff004e"/><path d="M459 410h6.5v6.5h-6.5z" fill="#ff004c"/><path d="M465 410h6.5v6.5h-6.5z" fill="#ff004a"/><path d="M471 410h6.5v6.5h-6.5z" fill="#ff0048"/><path d="M477 410h6.5v6.5h-6.5z" fill="#ff0046"/><path d="M483 410h6.5v6.5h-6.5z" fill="#ff0044"/><path d="M489 410h6.5v6.5h-6.5z" fill="#ff0043"/><path d="M495 410h6.5v6.5h-6.5z" fill="#ff0041"/><path d="M501 410h6.5v6.5h-6.5z" fill="#ff0040"/><path d="M507 410h6.5v6.5h-6.5z" fill="#ff003f"/><path d="M513 410h6.5v6.5h-6.5z" fill="#ff003e"/><path d="M519 410h6.5v6.5h-6.5z" fill="#ff003d"/><path d="M525 410h6.5v6.5h-6.5z" fill="#ff003c"/><path d="M531 410h6.5v6.5h-6.5z" fill="#ff003c"/><path d="M537 410h6.5v6.5h-6.5z" fill="#ff003c"/><path d="M543 410h6.5v6.5h-6.5z" fill="#ff003c"/><path d="M549 410h6.5v6.5h-6.5z" fill="#ff003c"/><path d="M555 410h6.5v6.5h-6.5z" fill="#ff003c"/><path d="M99 416h6.5v6.5h-6.5z" fill="#fd00ad"/><path d="M105 416h6.5v6.5h-6.5z" fill="#fc00b0"/><path d="M111 416h6.5v6.5h-6.5z" fill="#fb00b4"/><path d="M117 416h6.5v6.5h-6.5z" fill="#fa00b9"/><path d="M123 416h6.5v6.5h-6.5z" fill="#f900bf"/><path d="M129 416h6.5v6.5h-6.5z" fill="#f700c5"/><path d="M135 416h6.5v6.5h-6.5z" fill="#f600cd"/><path d="M141 416h6.5v6.5h-6.5z" fill="#f300d6"/><path d="M147 416h6.5v6.5h-6.5z" fill="#f100de"/><path d="M153 416h6.5v6.5h-6.5z" fill="#ee00e7"/><path d="M159 416h6.5v6.5h-6.5z" fill="#ec00ef"/><path d="M165 416h6.5v6.5h-6.5z" fill="#eb00f4"/><path d="M171 416h6.5v6.5h-6.5z" fill="#ea00f7"/><path d="M177 416h6.5v6.5h-6.5z" fill="#eb00f8"/><path d="M183 416h6.5v6.5h-6.5z" fill="#ec00f5"/><path d="M189 416h6.5v6.5h-6.5z" fill="#ee00f2"/><path d="M195 416h6.5v6.5h-6.5z" fill="#f000ed"/><path d="M201 416h6.5v6.5h-6.5z" fill="#f200e6"/><path d="M207 416h6.5v6.5h-6.5z" fill="#f400e0"/><path d="M213 416h6.5v6.5h-6.5z" fill="#f600d9"/><path d="M219 416h6.5v6.5h-6.5z" fill="#f700d3"/><path d="M225 416h6.5v6.5h-6.5z" fill="#f800cd"/><path d="M231 416h6.5v6.5h-6.5z" fill="#f900c9"/><path d="M237 416h6.5v6.5h-6.5z" fill="#fa00c7"/><path d="M243 416h6.5v6.5h-6.5z" fill="#fa00c7"/><path d="M249 416h6.5v6.5h-6.5z" fill="#fa00c7"/><path d="M255 416h6.5v6.5h-6.5z" fill="#fa00c7"/><path d="M261 416h6.5v6.5h-6.5z" fill="#fa00c6"/><path d="M267 416h6.5v6.5h-6.5z" fill="#fa00c3"/><path d="M273 416h6.5v6.5h-6.5z" fill="#fb00bf"/><path d="M279 416h6.5v6.5h-6.5z" fill="#fb00ba"/><path d="M285 416h6.5v6.5h-6.5z" fill="#fc00b4"/><path d="M291 416h6.5v6.5h-6.5z" fill="#fc00af"/><path d="M297 416h6.5v6.5h-6.5z" fill="#fc00aa"/><path d="M303 416h6.5v6.5h-6.5z" fill="#fd00a6"/><path d="M309 416h6.5v6.5h-6.5z" fill="#fd00a3"/><path d="M315 416h6.5v6.5h-6.5z" fill="#fd00a2"/><path d="M321 416h6.5v6.5h-6.5z" fill="#fe00a2"/><path d="M327 416h6.5v6.5h-6.5z" fill="#fe00a4"/><path d="M333 416h6.5v6.5h-6.5z" fill="#fd00a6"/><path d="M339 416h6.5v6.5h-6.5z" fill="#fd00a9"/><path d="M345 416h6.5v6.5h-6.5z" fill="#fc00ac"/><path d="M351 416h6.5v6.5h-6.5z" fill="#fc00ae"/><path d="M357 416h6.5v6.5h-6.5z" fill="#fb00ad"/><path d="M363 416h6.5v6.5h-6.5z" fill="#fb00aa"/><path d="M369 416h6.5v6.5h-6.5z" fill="#fc00a4"/><path d="M375 416h6.5v6.5h-6.5z" fill="#fc009c"/><path d="M381 416h6.5v6.5h-6.5z" fill="#fd0093"/><path d="M387 416h6.5v6.5h-6.5z" fill="#fd008a"/><path d="M393 416h6.5v6.5h-6.5z" fill="#fe0082"/><path d="M399 416h6.5v6.5h-6.5z" fill="#fe007b"/><path d="M405 416h6.5v6.5h-6.5z" fill="#fe0075"/><path d="M411 416h6.5v6.5h-6.5z" fill="#fe006f"/><path d="M417 416h6.5v6.5h-6.5z" fill="#fe006a"/><path d="M423 416h6.5v6.5h-6.5z" fill="#fe0066"/><path d="M429 416h6.5v6.5h-6.5z" fill="#fe0061"/><path d="M435 416h6.5v6.5h-6.5z" fill="#fe005d"/><path d="M441 416h6.5v6.5h-6.5z" fill="#fe0059"/><path d="M447 416h6.5v6.5h-6.5z" fill="#fe0056"/><path d="M453 416h6.5v6.5h-6.5z" fill="#fe0053"/><path d="M459 416h6.5v6.5h-6.5z" fill="#fe0050"/><path d="M465 416h6.5v6.5h-6.5z" fill="#ff004e"/><path d="M471 416h6.5v6.5h-6.5z" fill="#ff004b"/><path d="M477 416h6.5v6.5h-6.5z" fill="#ff0049"/><path d="M483 416h6.5v6.5h-6.5z" fill="#ff0048"/><path d="M489 416h6.5v6.5h-6.5z" fill="#ff0046"/><path d="M495 416h6.5v6.5h-6.5z" fill="#ff0044"/><path d="M501 416h6.5v6.5h-6.5z" fill="#ff0043"/><path d="M507 416h6.5v6.5h-6.5z" fill="#ff0042"/><path d="M513 416h6.5v6.5h-6.5z" fill="#ff0041"/><path d="M519 416h6.5v6.5h-6.5z" fill="#ff0040"/><path d="M525 416h6.5v6.5h-6.5z" fill="#ff003f"/><path d="M531 416h6.5v6.5h-6.5z" fill="#ff003f"/><path d="M537 416h6.5v6.5h-6.5z" fill="#ff003e"/><path d="M543 416h6.5v6.5h-6.5z" fill="#fe003e"/><path d="M549 416h6.5v6.5h-6.5z" fill="#fe003e"/><path d="M555 416h6.5v6.5h-6.5z" fill="#fe003e"/><path d="M99 422h6.5v6.5h-6.5z" fill="#fb00b5"/><path d="M105 422h6.5v6.5h-6.5z" fill="#fb00b9"/><path d="M111 422h6.5v6.5h-6.5z" fill="#fa00bd"/><path d="M117 422h6.5v6.5h-6.5z" fill="#f900c2"/><path d="M123 422h6.5v6.5h-6.5z" fill="#f700c8"/><path d="M129 422h6.5v6.5h-6.5z" fill="#f600cf"/><path d="M135 422h6.5v6.5h-6.5z" fill="#f400d7"/><path d="M141 422h6.5v6.5h-6.5z" fill="#f100df"/><path d="M147 422h6.5v6.5h-6.5z" fill="#ef00e7"/><path d="M153 422h6.5v6.5h-6.5z" fill="#ed00ee"/><path d="M159 422h6.5v6.5h-6.5z" fill="#eb00f5"/><path d="M165 422h6.5v6.5h-6.5z" fill="#ea00fa"/><path d="M171 422h6.5v6.5h-6.5z" fill="#ea00fd"/><path d="M177 422h6.5v6.5h-6.5z" fill="#ea00fe"/><path d="M183 422h6.5v6.5h-6.5z" fill="#eb00fc"/><path d="M189 422h6.5v6.5h-6.5z" fill="#ed00f9"/><path d="M195 422h6.5v6.5h-6.5z" fill="#ee00f5"/><path d="M201 422h6.5v6.5h-6.5z" fill="#f000ef"/><path d="M207 422h6.5v6.5h-6.5z" fill="#f200e9"/><path d="M213 422h6.5v6.5h-6.5z" fill="#f400e3"/><path d="M219 422h6.5v6.5h-6.5z" fill="#f500de"/><path d="M225 422h6.5v6.5h-6.5z" fill="#f700d9"/><path d="M231 422h6.5v6.5h-6.5z" fill="#f800d5"/><path d="M237 422h6.5v6.5h-6.5z" fill="#f800d2"/><path d="M243 422h6.5v6.5h-6.5z" fill="#f900d1"/><path d="M249 422h6.5v6.5h-6.5z" fill="#f900d0"/><path d="M255 422h6.5v6.5h-6.5z" fill="#f900cf"/><path d="M261 422h6.5v6.5h-6.5z" fill="#fa00cd"/><path d="M267 422h6.5v6.5h-6.5z" fill="#fa00ca"/><path d="M273 422h6.5v6.5h-6.5z" fill="#fa00c6"/><path d="M279 422h6.5v6.5h-6.5z" fill="#fb00c2"/><path d="M285 422h6.5v6.5h-6.5z" fill="#fb00bd"/><path d="M291 422h6.5v6.5h-6.5z" fill="#fb00b8"/><path d="M297 422h6.5v6.5h-6.5z" fill="#fc00b4"/><path d="M303 422h6.5v6.5h-6.5z" fill="#fc00b0"/><path d="M309 422h6.5v6.5h-6.5z" fill="#fc00ae"/><path d="M315 422h6.5v6.5h-6.5z" fill="#fd00ac"/><path d="M321 422h6.5v6.5h-6.5z" fill="#fd00ac"/><path d="M327 422h6.5v6.5h-6.5z" fill="#fd00ad"/><path d="M333 422h6.5v6.5h-6.5z" fill="#fd00ae"/><path d="M339 422h6.5v6.5h-6.5z" fill="#fc00b0"/><path d="M345 422h6.5v6.5h-6.5z" fill="#fc00b1"/><path d="M351 422h6.5v6.5h-6.5z" fill="#fc00b2"/><path d="M357 422h6.5v6.5h-6.5z" fill="#fb00b1"/><path d="M363 422h6.5v6.5h-6.5z" fill="#fb00ad"/><path d="M369 422h6.5v6.5h-6.5z" fill="#fc00a8"/><path d="M375 422h6.5v6.5h-6.5z" fill="#fc00a1"/><path d="M381 422h6.5v6.5h-6.5z" fill="#fc0099"/><path d="M387 422h6.5v6.5h-6.5z" fill="#fd0091"/><path d="M393 422h6.5v6.5h-6.5z" fill="#fd0089"/><path d="M399 422h6.5v6.5h-6.5z" fill="#fe0082"/><path d="M405 422h6.5v6.5h-6.5z" fill="#fe007c"/><path d="M411 422h6.5v6.5h-6.5z" fill="#fe0076"/><path d="M417 422h6.5v6.5h-6.5z" fill="#fe0071"/><path d="M423 422h6.5v6.5h-6.5z" fill="#fe006c"/><path d="M429 422h6.5v6.5h-6.5z" fill="#fe0067"/><path d="M435 422h6.5v6.5h-6.5z" fill="#fe0063"/><path d="M441 422h6.5v6.5h-6.5z" fill="#fe005f"/><path d="M447 422h6.5v6.5h-6.5z" fill="#fe005b"/><path d="M453 422h6.5v6.5h-6.5z" fill="#fe0058"/><path d="M459 422h6.5v6.5h-6.5z" fill="#fe0055"/><path d="M465 422h6.5v6.5h-6.5z" fill="#fe0052"/><path d="M471 422h6.5v6.5h-6.5z" fill="#fe0050"/><path d="M477 422h6.5v6.5h-6.5z" fill="#fe004d"/><path d="M483 422h6.5v6.5h-6.5z" fill="#fe004b"/><path d="M489 422h6.5v6.5h-6.5z" fill="#fe004a"/><path d="M495 422h6.5v6.5h-6.5z" fill="#fe0048"/><path d="M501 422h6.5v6.5h-6.5z" fill="#fe0046"/><path d="M507 422h6.5v6.5h-6.5z" fill="#fe0045"/><path d="M513 422h6.5v6.5h-6.5z" fill="#fe0044"/><path d="M519 422h6.5v6.5h-6.5z" fill="#fe0043"/><path d="M525 422h6.5v6.5h-6.5z" fill="#fe0042"/><path d="M531 422h6.5v6.5h-6.5z" fill="#fe0041"/><path d="M537 422h6.5v6.5h-6.5z" fill="#fe0041"/><path d="M543 422h6.5v6.5h-6.5z" fill="#fe0041"/><path d="M549 422h6.5v6.5h-6.5z" fill="#fe0041"/><path d="M555 422h6.5v6.5h-6.5z" fill="#fe0041"/><path d="M99 428h6.5v6.5h-6.5z" fill="#fa00be"/><path d="M105 428h6.5v6.5h-6.5z" fill="#f900c2"/><path d="M111 428h6.5v6.5h-6.5z" fill="#f800c6"/><path d="M117 428h6.5v6.5h-6.5z" fill="#f700cc"/><path d="M123 428h6.5v6.5h-6.5z" fill="#f500d2"/><path d="M129 428h6.5v6.5h-6.5z" fill="#f400d8"/><path d="M135 428h6.5v6.5h-6.5z" fill="#f200df"/><path d="M141 428h6.5v6.5h-6.5z" fill="#f000e7"/><path d="M147 428h6.5v6.5h-6.5z" fill="#ee00ee"/><path d="M153 428h6.5v6.5h-6.5z" fill="#ec00f5"/><path d="M159 428h6.5v6.5h-6.5z" fill="#eb00fb"/><path d="M165 428h6.5v6.5h-6.5z" fill="#ea00ff"/><path d="M171 428h6.5v6.5h-6.5z" fill="#e900ff"/><path d="M177 428h6.5v6.5h-6.5z" fill="#ea00ff"/><path d="M183 428h6.5v6.5h-6.5z" fill="#eb00ff"/><path d="M189 428h6.5v6.5h-6.5z" fill="#ec00ff"/><path d="M195 428h6.5v6.5h-6.5z" fill="#ed00fc"/><path d="M201 428h6.5v6.5h-6.5z" fill="#ef00f7"/><path d="M207 428h6.5v6.5h-6.5z" fill="#f100f2"/><path d="M213 428h6.5v6.5h-6.5z" fill="#f200ed"/><path d="M219 428h6.5v6.5h-6.5z" fill="#f400e7"/><path d="M225 428h6.5v6.5h-6.5z" fill="#f500e3"/><path d="M231 428h6.5v6.5h-6.5z" fill="#f600df"/><path d="M237 428h6.5v6.5h-6.5z" fill="#f700dc"/><path d="M243 428h6.5v6.5h-6.5z" fill="#f800da"/><path d="M249 428h6.5v6.5h-6.5z" fill="#f800d8"/><path d="M255 428h6.5v6.5h-6.5z" fill="#f800d6"/><path d="M261 428h6.5v6.5h-6.5z" fill="#f900d4"/><path d="M267 428h6.5v6.5h-6.5z" fill="#f900d1"/><path d="M273 428h6.5v6.5h-6.5z" fill="#f900ce"/><path d="M279 428h6.5v6.5h-6.5z" fill="#fa00ca"/><path d="M285 428h6.5v6.5h-6.5z" fill="#fa00c5"/><path d="M291 428h6.5v6.5h-6.5z" fill="#fb00c1"/><path d="M297 428h6.5v6.5h-6.5z" fill="#fb00bd"/><path d="M303 428h6.5v6.5h-6.5z" fill="#fb00ba"/><path d="M309 428h6.5v6.5h-6.5z" fill="#fc00b7"/><path d="M315 428h6.5v6.5h-6.5z" fill="#fc00b6"/><path d="M321 428h6.5v6.5h-6.5z" fill="#fc00b5"/><path d="M327 428h6.5v6.5h-6.5z" fill="#fc00b5"/><path d="M333 428h6.5v6.5h-6.5z" fill="#fc00b6"/><path d="M339 428h6.5v6.5h-6.5z" fill="#fc00b6"/><path d="M345 428h6.5v6.5h-6.5z" fill="#fc00b7"/><path d="M351 428h6.5v6.5h-6.5z" fill="#fb00b6"/><path d="M357 428h6.5v6.5h-6.5z" fill="#fb00b4"/><path d="M363 428h6.5v6.5h-6.5z" fill="#fb00b1"/><path d="M369 428h6.5v6.5h-6.5z" fill="#fb00ac"/><path d="M375 428h6.5v6.5h-6.5z" fill="#fc00a6"/><path d="M381 428h6.5v6.5h-6.5z" fill="#fc009e"/><path d="M387 428h6.5v6.5h-6.5z" fill="#fd0097"/><path d="M393 428h6.5v6.5h-6.5z" fill="#fd0090"/><path d="M399 428h6.5v6.5h-6.5z" fill="#fd0089"/><path d="M405 428h6.5v6.5h-6.5z" fill="#fd0082"/><path d="M411 428h6.5v6.5h-6.5z" fill="#fd007c"/><path d="M417 428h6.5v6.5h-6.5z" fill="#fe0077"/><path d="M423 428h6.5v6.5h-6.5z" fill="#fe0072"/><path d="M429 428h6.5v6.5h-6.5z" fill="#fe006d"/><path d="M435 428h6.5v6.5h-6.5z" fill="#fe0068"/><path d="M441 428h6.5v6.5h-6.5z" fill="#fe0064"/><path d="M447 428h6.5v6.5h-6.5z" fill="#fe0060"/><path d="M453 428h6.5v6.5h-6.5z" fill="#fe005d"/><path d="M459 428h6.5v6.5h-6.5z" fill="#fe005a"/><path d="M465 428h6.5v6.5h-6.5z" fill="#fe0057"/><path d="M471 428h6.5v6.5h-6.5z" fill="#fe0054"/><path d="M477 428h6.5v6.5h-6.5z" fill="#fe0052"/><path d="M483 428h6.5v6.5h-6.5z" fill="#fe004f"/><path d="M489 428h6.5v6.5h-6.5z" fill="#fe004d"/><path d="M495 428h6.5v6.5h-6.5z" fill="#fe004c"/><path d="M501 428h6.5v6.5h-6.5z" fill="#fe004a"/><path d="M507 428h6.5v6.5h-6.5z" fill="#fe0049"/><path d="M513 428h6.5v6.5h-6.5z" fill="#fe0047"/><path d="M519 428h6.5v6.5h-6.5z" fill="#fe0046"/><path d="M525 428h6.5v6.5h-6.5z" fill="#fe0045"/><path d="M531 428h6.5v6.5h-6.5z" fill="#fe0045"/><path d="M537 428h6.5v6.5h-6.5z" fill="#fe0044"/><path d="M543 428h6.5v6.5h-6.5z" fill="#fe0044"/><path d="M549 428h6.5v6.5h-6.5z" fill="#fe0043"/><path d="M555 428h6.5v6.5h-6.5z" fill="#fe0043"/></g></g>
<g clip-path="url(#mc)" fill="none" stroke="#000" stroke-width="1" stroke-dasharray="2 2" shape-rendering="crispEdges"><polyline points="116.13,442.37 116.48,426.97 116.83,411.58 117.18,396.18 117.53,380.79 117.88,365.39 118.23,349.99 118.58,334.60 118.93,319.20 119.28,303.81 119.63,288.41 119.98,273.01 120.33,257.62 120.68,242.22 121.03,226.83 121.38,211.43 121.73,196.03 122.08,180.64 122.43,165.24 122.78,149.85 123.13,134.45 123.48,119.05 123.83,103.66 124.18,88.26 124.53,72.87 124.88,57.47"/><polyline points="177.23,443.56 177.48,428.16 177.73,412.76 177.98,397.37 178.23,381.97 178.48,366.57 178.73,351.17 178.98,335.77 179.23,320.38 179.48,304.98 179.73,289.58 179.98,274.18 180.23,258.78 180.48,243.39 180.73,227.99 180.98,212.59 181.23,197.19 181.48,181.79 181.73,166.40 181.98,151.00 182.23,135.60 182.48,120.20 182.73,104.80 182.98,89.41 183.23,74.01 183.48,58.61"/><polyline points="238.34,444.35 238.49,428.95 238.64,413.56 238.79,398.16 238.94,382.76 239.09,367.36 239.24,351.96 239.39,336.56 239.54,321.16 239.69,305.76 239.84,290.36 239.99,274.96 240.14,259.56 240.29,244.16 240.44,228.76 240.59,213.36 240.74,197.97 240.89,182.57 241.04,167.17 241.19,151.77 241.34,136.37 241.49,120.97 241.64,105.57 241.79,90.17 241.94,74.77 242.09,59.37"/><polyline points="299.45,444.75 299.50,429.35 299.55,413.95 299.60,398.55 299.65,383.15 299.70,367.75 299.75,352.35 299.80,336.95 299.85,321.55 299.90,306.15 299.95,290.75 300.00,275.35 300.05,259.95 300.10,244.55 300.15,229.15 300.20,213.75 300.25,198.35 300.29,182.95 300.34,167.55 300.39,152.15 300.44,136.75 300.49,121.35 300.54,105.95 300.59,90.55 300.64,75.15 300.69,59.75"/><polyline points="360.55,444.75 360.50,429.35 360.45,413.95 360.40,398.55 360.35,383.15 360.30,367.75 360.25,352.35 360.20,336.95 360.15,321.55 360.10,306.15 360.05,290.75 360.00,275.35 359.95,259.95 359.90,244.55 359.85,229.15 359.80,213.75 359.75,198.35 359.71,182.95 359.66,167.55 359.61,152.15 359.56,136.75 359.51,121.35 359.46,105.95 359.41,90.55 359.36,75.15 359.31,59.75"/><polyline points="421.66,444.35 421.51,428.95 421.36,413.56 421.21,398.16 421.06,382.76 420.91,367.36 420.76,351.96 420.61,336.56 420.46,321.16 420.31,305.76 420.16,290.36 420.01,274.96 419.86,259.56 419.71,244.16 419.56,228.76 419.41,213.36 419.26,197.97 419.11,182.57 418.96,167.17 418.81,151.77 418.66,136.37 418.51,120.97 418.36,105.57 418.21,90.17 418.06,74.77 417.91,59.37"/><polyline points="482.77,443.56 482.52,428.16 482.27,412.76 482.02,397.37 481.77,381.97 481.52,366.57 481.27,351.17 481.02,335.77 480.77,320.38 480.52,304.98 480.27,289.58 480.02,274.18 479.77,258.78 479.52,243.39 479.27,227.99 479.02,212.59 478.77,197.19 478.52,181.79 478.27,166.40 478.02,151.00 477.77,135.60 477.52,120.20 477.27,104.80 477.02,89.41 476.77,74.01 476.52,58.61"/><polyline points="543.87,442.37 543.52,426.97 543.17,411.58 542.82,396.18 542.47,380.79 542.12,365.39 541.77,349.99 541.42,334.60 541.07,319.20 540.72,303.81 540.37,288.41 540.02,273.01 539.67,257.62 539.32,242.22 538.97,226.83 538.62,211.43 538.27,196.03 537.92,180.64 537.57,165.24 537.22,149.85 536.87,134.45 536.52,119.05 536.17,103.66 535.82,88.26 535.47,72.87 535.12,57.47"/><polyline points="86.79,395.44 101.99,395.82 117.18,396.18 132.38,396.51 147.58,396.82 162.78,397.11 177.98,397.37 193.18,397.60 208.38,397.81 223.58,398.00 238.79,398.16 253.99,398.29 269.19,398.40 284.39,398.49 299.60,398.55 314.80,398.59 330.00,398.60 345.20,398.59 360.40,398.55 375.61,398.49 390.81,398.40 406.01,398.29 421.21,398.16 436.42,398.00 451.62,397.81 466.82,397.60 482.02,397.37 497.22,397.11 512.42,396.82 527.62,396.51 542.82,396.18 558.01,395.82 573.21,395.44"/><polyline points="88.39,333.86 103.48,334.24 118.58,334.60 133.68,334.93 148.78,335.24 163.88,335.52 178.98,335.77 194.08,336.01 209.18,336.22 224.28,336.40 239.39,336.56 254.49,336.69 269.59,336.80 284.69,336.89 299.80,336.95 314.90,336.99 330.00,337.00 345.10,336.99 360.20,336.95 375.31,336.89 390.41,336.80 405.51,336.69 420.61,336.56 435.72,336.40 450.82,336.22 465.92,336.01 481.02,335.77 496.12,335.52 511.22,335.24 526.32,334.93 541.42,334.60 556.52,334.24 571.61,333.86"/><polyline points="89.99,272.28 104.98,272.66 119.98,273.01 134.98,273.34 149.98,273.65 164.98,273.93 179.98,274.18 194.98,274.41 209.98,274.62 224.98,274.80 239.99,274.96 254.99,275.10 269.99,275.21 284.99,275.29 300.00,275.35 315.00,275.39 330.00,275.40 345.00,275.39 360.00,275.35 375.01,275.29 390.01,275.21 405.01,275.10 420.01,274.96 435.02,274.80 450.02,274.62 465.02,274.41 480.02,274.18 495.02,273.93 510.02,273.65 525.02,273.34 540.02,273.01 555.02,272.66 570.01,272.28"/><polyline points="91.59,210.70 106.48,211.08 121.38,211.43 136.28,211.76 151.18,212.06 166.08,212.34 180.98,212.59 195.88,212.82 210.78,213.03 225.68,213.21 240.59,213.36 255.49,213.50 270.39,213.61 285.29,213.69 300.20,213.75 315.10,213.79 330.00,213.80 344.90,213.79 359.80,213.75 374.71,213.69 389.61,213.61 404.51,213.50 419.41,213.36 434.32,213.21 449.22,213.03 464.12,212.82 479.02,212.59 493.92,212.34 508.82,212.06 523.72,211.76 538.62,211.43 553.52,211.08 568.41,210.70"/><polyline points="93.19,149.12 107.98,149.50 122.78,149.85 137.58,150.17 152.38,150.47 167.18,150.75 181.98,151.00 196.78,151.23 211.58,151.43 226.38,151.61 241.19,151.77 255.99,151.90 270.79,152.01 285.59,152.09 300.39,152.15 315.20,152.19 330.00,152.20 344.80,152.19 359.61,152.15 374.41,152.09 389.21,152.01 404.01,151.90 418.81,151.77 433.62,151.61 448.42,151.43 463.22,151.23 478.02,151.00 492.82,150.75 507.62,150.47 522.42,150.17 537.22,149.85 552.02,149.50 566.81,149.12"/><polyline points="94.79,87.55 109.48,87.92 124.18,88.26 138.88,88.58 153.58,88.88 168.28,89.16 182.98,89.41 197.68,89.63 212.38,89.84 227.08,90.02 241.79,90.17 256.49,90.30 271.19,90.41 285.89,90.49 300.59,90.55 315.30,90.59 330.00,90.60 344.70,90.59 359.41,90.55 374.11,90.49 388.81,90.41 403.51,90.30 418.21,90.17 432.92,90.02 447.62,89.84 462.32,89.63 477.02,89.41 491.72,89.16 506.42,88.88 521.12,88.58 535.82,88.26 550.52,87.92 565.21,87.55"/></g>
<g clip-path="url(#mc)"><g fill="none" stroke="#bebebe" stroke-width="1.25" stroke-linejoin="round"><polyline points="132.7,94.4 145.2,100.0 154.0,102.5 161.5,106.2 162.7,115.0 154.0,118.1 151.5,126.2 150.2,133.8 146.5,140.0"/><polyline points="162.7,115.0 167.7,113.1 176.5,115.6 184.0,115.0 192.7,113.8 193.5,113.1"/><polyline points="166.5,115.0 166.5,118.8 174.0,121.9 167.7,123.8 169.0,127.5 176.0,130.0 180.0,134.0 176.0,138.0"/><polyline points="117.0,113.1 126.5,120.0 135.2,111.2 137.0,110.5"/><polyline points="155.2,118.8 165.2,130.0 166.5,142.5"/><polyline points="199.7,124.4 198.5,128.8 202.2,137.5"/><polyline points="218.5,127.5 223.5,139.4"/><polyline points="186.0,128.8 188.5,132.5 186.0,134.4"/><polyline points="179.0,352.0 177.8,358.2 174.0,365.8 172.8,371.2 168.4,376.9"/><polyline points="116.5,362.0 119.6,364.5 122.8,365.8"/><polyline points="116.5,386.9 120.2,391.2"/><polyline points="194.0,375.0 189.0,377.5 184.0,383.8 180.2,387.5 181.5,392.5 183.4,400.0 182.8,406.2 179.0,411.0"/><polyline points="190.0,375.5 206.2,375.5 215.0,370.5 222.5,368.6 228.8,364.2"/><polyline points="202.5,386.8 210.0,380.5 217.5,378.0 230.0,376.0"/><polyline points="199.0,386.0 199.0,390.0"/><polyline points="265.0,391.2 275.0,393.1 278.8,390.6 297.5,389.4 300.0,385.6"/><polyline points="339.0,392.0 342.8,398.0 346.5,405.5 351.5,411.0"/><polyline points="374.0,388.0 382.8,385.0 390.0,394.5"/><polyline points="386.5,411.0 404.0,405.5 410.0,403.0"/><polyline points="403.0,397.0 408.0,403.0 412.0,411.0"/><polyline points="418.0,398.0 416.0,404.0 422.0,410.0"/><polyline points="426.0,400.0 424.0,406.0 428.0,411.0"/><polyline points="240.0,382.0 238.0,388.0 240.0,395.0 236.0,402.0 240.0,411.0"/><polyline points="300.0,390.0 305.0,398.0 302.0,405.0 306.0,411.0"/></g><g fill="none" stroke="#000" stroke-linejoin="round" stroke-linecap="round"><polyline points="116.5,96.9 121.5,96.9 130.2,97.5 132.7,94.4 139.0,93.1 145.2,92.5 151.5,90.6 156.5,92.5 161.5,93.8 167.7,96.2 172.7,98.7 176.5,100.6 182.7,99.4 185.9,100.6 187.2,107.5 188.5,110.0 193.5,111.2 198.5,110.0 204.7,108.8 207.2,111.2 204.7,115.0 198.5,113.8 193.5,113.8 192.2,115.0 196.0,117.5 204.7,118.8 211.0,120.0 218.5,121.2 223.5,125.0 231.0,131.2 231.0,135.0 227.2,138.8 222.2,140.6 219.7,143.8 214.7,140.0 208.5,138.8 201.0,137.5 193.5,137.5 186.0,136.2 183.8,137.0 180.2,139.4 176.6,143.7 167.0,144.3 164.5,141.8 163.3,137.6 158.5,139.4 153.7,143.0 148.9,141.8 144.1,140.6 145.3,141.8 150.1,143.0 148.9,149.0 144.1,155.0 140.5,161.1 136.9,163.5 136.3,158.7 131.4,157.5 132.0,155.0 130.8,150.3 126.0,146.7 122.4,143.0 116.4,142.4" stroke-width="2.24"/><polyline points="131.5,97.5 131.5,107.5 130.2,110.0 131.5,113.8 130.2,117.5 126.5,121.2 127.7,126.2 124.0,128.1 120.0,131.0 122.4,134.6 126.0,137.0 128.4,140.6 129.6,145.0 130.8,150.3" stroke-width="2.24"/><polygon points="127.2,133.0 131.0,132.5 135.0,134.0 137.5,136.0 134.0,137.6 129.0,136.5" stroke-width="2.24"/><polygon points="121.5,121.5 124.5,121.5 125.0,124.0 122.0,124.5" stroke-width="2.8000000000000003"/><polygon points="255.4,138.8 258.5,139.5 256.0,140.6" stroke-width="2.24"/><polygon points="264.0,136.0 274.0,135.5 288.5,136.0 298.0,136.8 305.0,138.0 310.5,139.5 312.0,142.0 311.5,145.0 309.0,147.5 303.0,150.5 296.0,151.5 285.0,151.8 274.0,152.0 265.0,152.0 263.8,147.0 263.2,140.6" stroke-width="2.24"/><polyline points="254.8,139.4 257.8,140.6" stroke-width="2.24"/><polygon points="313.0,147.5 317.0,146.5 322.0,147.0 320.0,149.0 314.0,149.0" stroke-width="2.24"/><polygon points="319.5,140.5 322.5,140.5 323.5,142.5 320.5,143.0" stroke-width="2.24"/><polyline points="320.0,146.5 322.0,147.5" stroke-width="2.24"/><polygon points="328.8,140.0 335.0,137.5 342.5,135.6 350.6,135.6 348.0,139.0 342.5,142.5 332.5,141.9" stroke-width="2.24"/><polyline points="347.0,128.5 351.5,129.5" stroke-width="2.24"/><polygon points="332.0,159.0 337.0,157.8 343.5,159.0 338.0,161.5 333.0,161.5" stroke-width="2.24"/><polyline points="376.0,132.5 378.0,133.0" stroke-width="2.8000000000000003"/><polyline points="381.5,142.5 383.0,143.0" stroke-width="2.24"/><polygon points="384.0,146.5 387.0,143.0 391.5,141.5 389.0,145.0 386.0,147.0" stroke-width="2.24"/><polyline points="385.0,148.0 388.5,150.5" stroke-width="2.8000000000000003"/><polyline points="392.0,154.0 396.5,154.8" stroke-width="2.8000000000000003"/><polyline points="389.5,165.5 391.5,168.5" stroke-width="2.8000000000000003"/><polyline points="393.5,170.0 397.0,172.0 401.0,175.5 403.5,179.5" stroke-width="3.3600000000000003"/><polyline points="412.0,187.5 415.5,191.5" stroke-width="3.3600000000000003"/><polygon points="422.0,159.0 425.0,160.0 427.0,164.5 424.5,165.0" stroke-width="2.24"/><polygon points="422.5,178.0 426.0,176.5 429.5,178.5 428.0,182.0 424.0,182.0" stroke-width="2.24"/><polygon points="425.6,201.9 431.2,202.5 433.1,207.5 432.5,212.5 428.8,213.8 426.2,208.8" stroke-width="2.24"/><polygon points="433.8,196.9 436.9,196.9 438.8,202.5 444.4,204.4 440.0,205.6 435.0,206.2 433.1,202.5" stroke-width="2.24"/><polyline points="446.5,203.0 450.5,201.5" stroke-width="2.24"/><polyline points="429.5,217.0 433.0,215.8" stroke-width="2.24"/><polygon points="440.0,213.0 443.0,212.0 444.4,215.5 441.0,217.0" stroke-width="2.24"/><polygon points="435.0,224.4 440.0,224.4 442.5,230.0 442.5,236.2 438.8,236.9 436.9,231.2 434.4,226.9" stroke-width="2.24"/><polygon points="443.1,247.5 446.2,246.9 450.0,250.0 453.8,251.2 455.0,256.2 456.2,260.0 453.8,260.6 447.5,259.4 447.5,255.6 445.0,252.5 442.5,249.4" stroke-width="2.24"/><polygon points="451.9,270.6 454.4,273.1 453.8,280.0 451.9,283.1 448.8,281.2 448.1,276.9 450.0,273.1" stroke-width="2.24"/><polygon points="445.0,293.0 447.5,297.4 445.0,301.1 441.9,298.6 442.5,295.5" stroke-width="2.24"/><polyline points="442.5,304.0 444.0,305.5" stroke-width="2.8000000000000003"/><polyline points="444.5,307.0 445.5,309.0" stroke-width="2.8000000000000003"/><polyline points="440.5,312.5 440.0,315.0" stroke-width="2.24"/><polyline points="437.5,317.0 437.0,320.0" stroke-width="2.8000000000000003"/><polyline points="436.0,321.0 435.5,323.0" stroke-width="2.24"/><polygon points="433.1,325.5 433.8,329.9 430.0,335.5 427.5,334.9 428.8,330.5" stroke-width="2.24"/><polygon points="491.2,293.6 493.1,296.1 498.1,299.9 495.6,303.0 492.5,300.5 490.6,296.8" stroke-width="2.24"/><polygon points="455.0,361.0 465.6,355.8 466.3,358.0 456.6,361.8" stroke-width="2.24"/><polyline points="116.5,325.8 119.0,327.6 121.5,323.9 126.5,320.8 131.5,320.8 139.0,324.5 142.8,328.2 144.6,333.9 141.5,337.0 136.5,340.8 130.2,342.6 121.5,345.8 116.5,346.4" stroke-width="2.24"/><polygon points="117.0,325.0 120.0,324.0 120.5,329.0 117.0,330.0" stroke-width="2.8000000000000003"/><polyline points="121.5,345.8 119.0,353.2 120.2,359.5 125.2,364.5 132.8,367.0 139.0,366.2 146.5,362.5 154.0,359.4 164.0,356.9 174.0,355.0 175.2,350.8 177.8,348.2 172.8,345.8 170.2,339.5 171.5,333.2 177.8,328.9 182.1,332.0 184.0,338.2 184.0,343.2 186.5,348.2 189.0,352.0 194.0,352.0 200.0,349.9 206.2,351.1 215.0,353.6 221.2,357.4 227.5,361.8 230.0,368.0 230.0,375.5 233.8,380.5 240.0,382.4 250.0,380.5 260.0,379.2 272.5,378.1 285.0,377.5 295.0,378.8 297.5,382.5 300.0,385.6 307.5,389.4 315.0,392.5 322.5,395.0 330.0,394.4 337.5,390.0 339.0,389.5 346.5,387.0 352.8,383.2 359.0,381.4 366.5,375.8 385.0,375.1 399.7,373.5 413.2,375.7 425.6,374.0 426.5,376.0 421.0,377.5 411.0,379.1 398.5,378.5 391.8,379.7 390.6,387.5 392.9,394.3 401.9,395.4 403.0,392.0 396.3,386.4 394.0,383.0 391.8,380.5" stroke-width="2.24"/><polyline points="172.8,345.8 178.0,344.5 184.0,343.2" stroke-width="1.6800000000000002"/><polyline points="399.7,385.3 406.0,392.0 412.0,398.8 415.4,411.0" stroke-width="2.8000000000000003"/><polygon points="410.0,396.0 416.0,398.0 422.0,401.0 418.0,403.0 412.0,401.0" stroke-width="3.3600000000000003"/><polyline points="421.0,397.5 432.4,399.9 440.0,404.5 444.8,410.0 447.0,412.0" stroke-width="2.8000000000000003"/><polygon points="351.5,378.0 358.0,377.0 366.0,378.5 370.2,381.5 365.0,383.9 356.0,383.0 351.5,380.5" stroke-width="2.24"/><polygon points="429.0,375.7 440.0,373.0 452.6,370.6 453.8,372.9 450.4,377.4 451.5,387.5 451.5,392.0 432.4,394.9 423.3,396.6 427.8,393.2 436.9,389.8 436.9,378.5 432.4,376.3" stroke-width="2.24"/><polygon points="348.0,364.0 353.0,362.5 358.0,364.0 359.0,362.0 363.0,360.5 366.5,362.0 367.5,368.0 363.0,369.5 359.0,367.0 354.0,368.5 349.0,367.0" stroke-width="2.24"/><polygon points="353.0,371.5 358.0,371.0 360.0,373.0 355.0,374.0" stroke-width="2.24"/><polyline points="385.5,354.5 389.0,354.5" stroke-width="2.24"/><polyline points="126.5,365.0 126.9,370.0 130.2,373.8 129.6,380.0 124.0,385.0 120.2,391.2 117.8,392.5" stroke-width="2.24"/><polyline points="131.5,380.0 136.5,387.5 141.5,395.0 145.9,402.5 145.2,411.5" stroke-width="2.24"/><polygon points="126.5,366.5 137.0,367.5 133.0,371.0" stroke-width="2.8000000000000003"/><polyline points="116.5,355.0 120.2,361.2 126.5,365.0" stroke-width="2.24"/><polyline points="116.5,396.2 117.8,407.5 119.0,411.5" stroke-width="2.24"/><polyline points="176.4,315.8 183.0,322.4" stroke-width="3.3600000000000003"/><polygon points="203.5,323.7 208.9,328.5 213.7,330.3 217.3,334.5 211.3,332.7 206.5,329.7" stroke-width="2.24"/><polygon points="226.3,326.0 230.0,327.9 233.0,329.0 232.4,334.5 230.0,333.9 229.4,329.7" stroke-width="2.24"/><polyline points="248.5,336.0 250.4,337.0" stroke-width="2.8000000000000003"/><polyline points="254.0,336.5 255.8,337.5" stroke-width="2.24"/><polygon points="270.5,339.0 275.0,338.0 281.0,339.0 282.9,342.0 278.0,343.8 273.0,342.5" stroke-width="2.24"/><polygon points="293.5,341.0 297.0,339.5 297.0,343.5" stroke-width="2.24"/><polygon points="317.5,368.0 321.0,366.9 325.0,368.5 321.0,370.6" stroke-width="2.24"/></g></g>
<rect x="115" y="71" width="10" height="2" fill="#fff"/><rect x="115" y="413" width="2" height="2" fill="#fff"/><rect x="183" y="71" width="59" height="2" fill="#fff"/><rect x="178" y="413" width="61" height="2" fill="#fff"/><rect x="301" y="71" width="58" height="2" fill="#fff"/><rect x="300" y="413" width="60" height="2" fill="#fff"/><rect x="418" y="71" width="59" height="2" fill="#fff"/><rect x="421" y="413" width="61" height="2" fill="#fff"/><rect x="535" y="71" width="10" height="2" fill="#fff"/><rect x="543" y="413" width="2" height="2" fill="#fff"/><rect x="115" y="71" width="1" height="16" fill="#fff"/><rect x="544" y="71" width="1" height="16" fill="#fff"/><rect x="115" y="149" width="1" height="62" fill="#fff"/><rect x="544" y="149" width="1" height="62" fill="#fff"/><rect x="115" y="272" width="1" height="62" fill="#fff"/><rect x="544" y="272" width="1" height="62" fill="#fff"/><rect x="115" y="396" width="1" height="19" fill="#fff"/><rect x="544" y="396" width="1" height="19" fill="#fff"/>
<g fill="#000" shape-rendering="auto"><text x="124.5" y="68" text-anchor="middle" font-size="14">-72</text><text x="116.8" y="427" text-anchor="middle" font-size="14">-72</text><text x="183.3" y="68" text-anchor="middle" font-size="14">-70</text><text x="177.7" y="427" text-anchor="middle" font-size="14">-70</text><text x="242.0" y="68" text-anchor="middle" font-size="14">-68</text><text x="238.6" y="427" text-anchor="middle" font-size="14">-68</text><text x="300.7" y="68" text-anchor="middle" font-size="14">-66</text><text x="299.5" y="427" text-anchor="middle" font-size="14">-66</text><text x="359.3" y="68" text-anchor="middle" font-size="14">-64</text><text x="360.5" y="427" text-anchor="middle" font-size="14">-64</text><text x="418.0" y="68" text-anchor="middle" font-size="14">-62</text><text x="421.4" y="427" text-anchor="middle" font-size="14">-62</text><text x="476.7" y="68" text-anchor="middle" font-size="14">-60</text><text x="482.3" y="427" text-anchor="middle" font-size="14">-60</text><text x="535.5" y="68" text-anchor="middle" font-size="14">-58</text><text x="543.2" y="427" text-anchor="middle" font-size="14">-58</text><text transform="translate(111,397.1) rotate(-90)" text-anchor="middle" font-size="14">10</text><text transform="translate(549,397.0) rotate(90)" text-anchor="middle" font-size="14">10</text><text transform="translate(111,335.5) rotate(-90)" text-anchor="middle" font-size="14">12</text><text transform="translate(549,335.3) rotate(90)" text-anchor="middle" font-size="14">12</text><text transform="translate(111,273.9) rotate(-90)" text-anchor="middle" font-size="14">14</text><text transform="translate(549,273.7) rotate(90)" text-anchor="middle" font-size="14">14</text><text transform="translate(111,212.3) rotate(-90)" text-anchor="middle" font-size="14">16</text><text transform="translate(549,212.1) rotate(90)" text-anchor="middle" font-size="14">16</text><text transform="translate(111,150.7) rotate(-90)" text-anchor="middle" font-size="14">18</text><text transform="translate(549,150.5) rotate(90)" text-anchor="middle" font-size="14">18</text><text transform="translate(111,89.0) rotate(-90)" text-anchor="middle" font-size="14">20</text><text transform="translate(549,88.9) rotate(90)" text-anchor="middle" font-size="14">20</text></g>
<text transform="translate(9.5,21) scale(1,1.04)" font-size="21.7" fill="#000">Vitamin-D UV dose (kJ/m2)</text>
<text x="9.3" y="46" font-size="17.9" fill="#0000ff">MSR - KNMI</text>
<text transform="translate(651,21) scale(1,1.04)" font-size="21.7" text-anchor="end">Clear-sky</text>
<text transform="translate(651,46) scale(1,1.04)" font-size="21.7" text-anchor="end">29 April 1992</text>
<rect x="8" y="442" width="643" height="15" fill="url(#cb)"/>
<text x="8.0" y="474.8" font-size="18" text-anchor="middle">0</text>
<text x="79.4" y="474.8" font-size="18" text-anchor="middle">2</text>
<text x="150.9" y="474.8" font-size="18" text-anchor="middle">4</text>
<text x="222.3" y="474.8" font-size="18" text-anchor="middle">6</text>
<text x="293.8" y="474.8" font-size="18" text-anchor="middle">8</text>
<text x="365.2" y="474.8" font-size="18" text-anchor="middle">10</text>
<text x="436.7" y="474.8" font-size="18" text-anchor="middle">12</text>
<text x="508.1" y="474.8" font-size="18" text-anchor="middle">14</text>
<text x="579.6" y="474.8" font-size="18" text-anchor="middle">16</text>
<text x="651.0" y="474.8" font-size="18" text-anchor="middle">18</text>
</svg>
</body></html>
